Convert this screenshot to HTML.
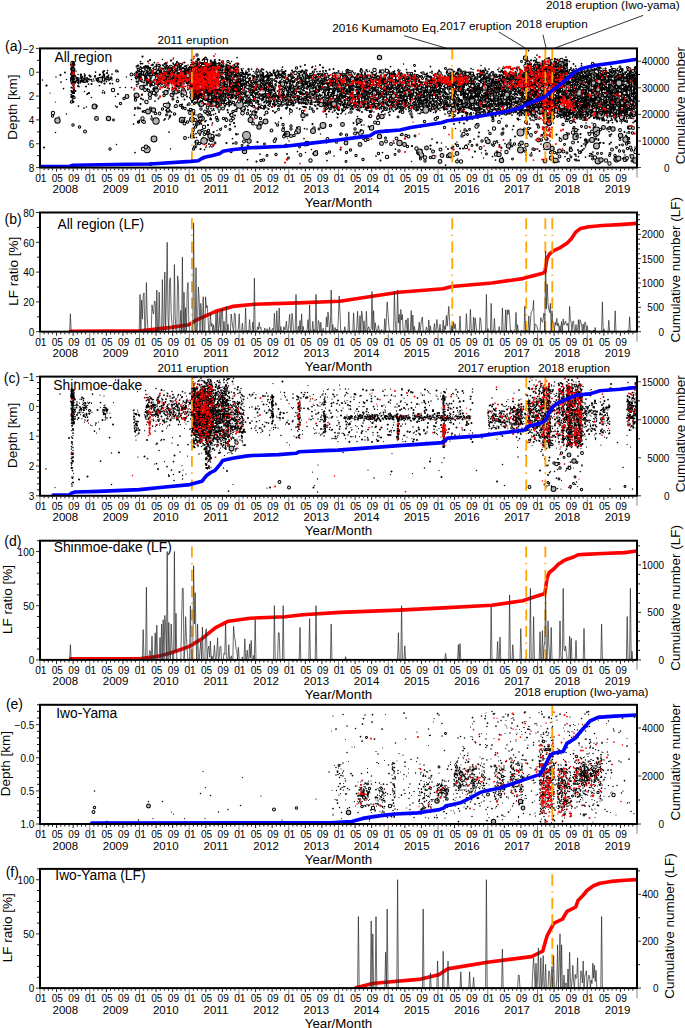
<!DOCTYPE html>
<html><head><meta charset="utf-8"><style>html,body{margin:0;padding:0;background:#fff;width:685px;height:1028px;overflow:hidden}svg{display:block;font-family:"Liberation Sans",sans-serif}</style></head>
<body><svg width="685" height="1028" viewBox="0 0 685 1028" font-family="Liberation Sans, sans-serif" fill="#000"><defs><g id="xax"><path d="M40 1v9M89.75 1v9M139.5 1v9M189.25 1v9M239 1v9M288.75 1v9M338.5 1v9M388.25 1v9M438 1v9M487.75 1v9M537.5 1v9M587.25 1v9M637 1v9" stroke="#888" stroke-width="1"/><path d="M44.15 1v1.6M48.29 1v1.6M52.44 1v1.6M56.58 1v3M60.73 1v1.6M64.88 1v1.6M69.02 1v1.6M73.17 1v3M77.31 1v1.6M81.46 1v1.6M85.6 1v1.6M93.9 1v1.6M98.04 1v1.6M102.19 1v1.6M106.33 1v3M110.48 1v1.6M114.62 1v1.6M118.77 1v1.6M122.92 1v3M127.06 1v1.6M131.21 1v1.6M135.35 1v1.6M143.65 1v1.6M147.79 1v1.6M151.94 1v1.6M156.08 1v3M160.23 1v1.6M164.38 1v1.6M168.52 1v1.6M172.67 1v3M176.81 1v1.6M180.96 1v1.6M185.1 1v1.6M193.4 1v1.6M197.54 1v1.6M201.69 1v1.6M205.83 1v3M209.98 1v1.6M214.12 1v1.6M218.27 1v1.6M222.42 1v3M226.56 1v1.6M230.71 1v1.6M234.85 1v1.6M243.15 1v1.6M247.29 1v1.6M251.44 1v1.6M255.58 1v3M259.73 1v1.6M263.88 1v1.6M268.02 1v1.6M272.17 1v3M276.31 1v1.6M280.46 1v1.6M284.6 1v1.6M292.9 1v1.6M297.04 1v1.6M301.19 1v1.6M305.33 1v3M309.48 1v1.6M313.62 1v1.6M317.77 1v1.6M321.92 1v3M326.06 1v1.6M330.21 1v1.6M334.35 1v1.6M342.65 1v1.6M346.79 1v1.6M350.94 1v1.6M355.08 1v3M359.23 1v1.6M363.38 1v1.6M367.52 1v1.6M371.67 1v3M375.81 1v1.6M379.96 1v1.6M384.1 1v1.6M392.4 1v1.6M396.54 1v1.6M400.69 1v1.6M404.83 1v3M408.98 1v1.6M413.12 1v1.6M417.27 1v1.6M421.42 1v3M425.56 1v1.6M429.71 1v1.6M433.85 1v1.6M442.15 1v1.6M446.29 1v1.6M450.44 1v1.6M454.58 1v3M458.73 1v1.6M462.88 1v1.6M467.02 1v1.6M471.17 1v3M475.31 1v1.6M479.46 1v1.6M483.6 1v1.6M491.9 1v1.6M496.04 1v1.6M500.19 1v1.6M504.33 1v3M508.48 1v1.6M512.62 1v1.6M516.77 1v1.6M520.92 1v3M525.06 1v1.6M529.21 1v1.6M533.35 1v1.6M541.65 1v1.6M545.79 1v1.6M549.94 1v1.6M554.08 1v3M558.23 1v1.6M562.38 1v1.6M566.52 1v1.6M570.67 1v3M574.81 1v1.6M578.96 1v1.6M583.1 1v1.6M591.4 1v1.6M595.54 1v1.6M599.69 1v1.6M603.83 1v3M607.98 1v1.6M612.12 1v1.6M616.27 1v1.6M620.42 1v3M624.56 1v1.6M628.71 1v1.6M632.85 1v1.6" stroke="#000" stroke-width="0.9"/><g font-size="10.1" text-anchor="middle"><text x="40.8" y="14.4">01</text><text x="57.38" y="14.4">05</text><text x="73.97" y="14.4">09</text><text x="90.55" y="14.4">01</text><text x="107.13" y="14.4">05</text><text x="123.72" y="14.4">09</text><text x="140.3" y="14.4">01</text><text x="156.88" y="14.4">05</text><text x="173.47" y="14.4">09</text><text x="190.05" y="14.4">01</text><text x="206.63" y="14.4">05</text><text x="223.22" y="14.4">09</text><text x="239.8" y="14.4">01</text><text x="256.38" y="14.4">05</text><text x="272.97" y="14.4">09</text><text x="289.55" y="14.4">01</text><text x="306.13" y="14.4">05</text><text x="322.72" y="14.4">09</text><text x="339.3" y="14.4">01</text><text x="355.88" y="14.4">05</text><text x="372.47" y="14.4">09</text><text x="389.05" y="14.4">01</text><text x="405.63" y="14.4">05</text><text x="422.22" y="14.4">09</text><text x="438.8" y="14.4">01</text><text x="455.38" y="14.4">05</text><text x="471.97" y="14.4">09</text><text x="488.55" y="14.4">01</text><text x="505.13" y="14.4">05</text><text x="521.72" y="14.4">09</text><text x="538.3" y="14.4">01</text><text x="554.88" y="14.4">05</text><text x="571.47" y="14.4">09</text><text x="588.05" y="14.4">01</text><text x="604.63" y="14.4">05</text><text x="621.22" y="14.4">09</text></g><g font-size="11.5" text-anchor="middle"><text x="65.35" y="25.6">2008</text><text x="115.55" y="25.6">2009</text><text x="165.75" y="25.6">2010</text><text x="215.95" y="25.6">2011</text><text x="266.15" y="25.6">2012</text><text x="316.35" y="25.6">2013</text><text x="366.55" y="25.6">2014</text><text x="416.75" y="25.6">2015</text><text x="466.95" y="25.6">2016</text><text x="517.15" y="25.6">2017</text><text x="567.35" y="25.6">2018</text><text x="617.55" y="25.6">2019</text></g><text font-size="13.3" text-anchor="middle" x="338.5" y="39.5">Year/Month</text></g></defs>
<clipPath id="c0"><rect x="40.0" y="48.4" width="597.0" height="119.19999999999999"/></clipPath>
<g clip-path="url(#c0)">
<g transform="scale(.5)" stroke-linecap="round" fill="none"><path d="M100 186h0" stroke="#000" stroke-width="2.5"/>
<path d="M85 160h0m27-6h0m21 5h0m10-4h0m1 4h0m2-32h0m1 28h0m4 2h0m7 3h0m0 4h0m3-10h0m0 7h0m2-1h0m8-4h0m19-5h0m9 12h0m9-12h0m16 9h0m7 52h0m20-37h0m22-17h0m1 5h0m1-7h0m3-4h0m0 4h0m7-8h0m5 5h0m7-4h0m11-3h0m2-10h0m4 9h0m0 6h0m2 20h0m6-26h0m6 5h0m1 17h0m1-29h0m0 21h0m1-25h0m0 17h0m0 0h0m3 21h0m3-7h0m1-19h0m1-9h0m1 5h0m1 16h0m1 1h0m1-19h0m1 15h0m1-1h0m0 3h0m3-4h0m2-9h0m1 84h0m1-78h0m4 17h0m12-18h0m4 13h0m7-28h0m2 25h0m0 9h0m5 3h0m0 10h0m1-56h0m0 83h0m1-65h0m3 2h0m0 20h0m1-14h0m2-9h0m2-11h0m0 7h0m2 12h0m3-24h0m0 42h0m0 20h0m1-41h0m0 19h0m0 68h0m2-71h0m1 37h0m2-48h0m1 1h0m0 20h0m2-47h0m0 36h0m0 2h0m1-2h0m1 21h0m2-47h0m0 6h0m2-5h0m2-7h0m0 16h0m1-12h0m2 42h0m0 1h0m1-4h0m1-7h0m0 18h0m0 2h0m1 12h0m1-49h0m0 5h0m2 20h0m1-38h0m0 57h0m0 28h0m1-100h0m0 13h0m1 5h0m1 29h0m0 3h0m2-21h0m2-12h0m5 15h0m7 50h0m3-41h0m0 0h0m1-4h0m0 18h0m1-24h0m1 32h0m1-19h0m0 11h0m1-14h0m4-17h0m0 15h0m1-14h0m0 43h0m1-46h0m5 23h0m3 9h0m1-37h0m1 24h0m1 34h0m20-28h0m3 9h0m1 21h0m2-8h0m7-8h0m7-28h0m4 36h0m2-14h0m8 6h0m2 8h0m3-3h0m1 14h0m2-3h0m1-16h0m2-16h0m5 1h0m1 8h0m0 28h0m2-53h0m7 12h0m5 82h0m7-86h0m1-14h0m3 46h0m5 7h0m7-22h0m3-3h0m0 33h0m1-36h0m2 17h0m4 2h0m2 12h0m4-34h0m2 28h0m7 19h0m5-26h0m0 26h0m2-55h0m3 37h0m1-35h0m2 29h0m6 16h0m3-57h0m0 35h0m3-33h0m9 55h0m1 1h0m1 62h0m1-93h0m2-19h0m0 54h0m5 10h0m1-12h0m2-5h0m1 83h0m2-100h0m0 25h0m2-32h0m0 30h0m6-14h0m2-34h0m1-12h0m2 163h0m1-131h0m3-11h0m0 43h0m7-58h0m3 15h0m0 7h0m0 9h0m0 10h0m2 29h0m1-41h0m2-30h0m0 17h0m0 45h0m4 12h0m3-74h0m5 23h0m0 16h0m6-33h0m0 14h0m0 22h0m4 0h0m4-8h0m7-25h0m1 7h0m2 13h0m0 20h0m1-54h0m2 19h0m0 22h0m3 7h0m1-38h0m2 14h0m0 25h0m0 4h0m4-36h0m0 40h0m2-55h0m1-9h0m1 23h0m2 40h0m1-47h0m3 2h0m3 52h0m5-30h0m1-16h0m0 20h0m1-29h0m0 6h0m3-7h0m4-11h0m2 23h0m2 41h0m2-39h0m1 8h0m0 10h0m0 17h0m3-16h0m1-8h0m0 20h0m1-53h0m0 22h0m1-14h0m4 21h0m9 26h0m1-32h0m1 19h0m3 22h0m2-36h0m4-35h0m4 51h0m0 4h0m0 16h0m1-35h0m0 19h0m6-23h0m1 19h0m0 2h0m0 16h0m3-25h0m7-30h0m8 16h0m1-13h0m2 61h0m7-29h0m2 0h0m1-8h0m10 10h0m1 1h0m6-48h0m0 32h0m3 8h0m4 40h0m1-26h0m0 103h0m4-108h0m0 22h0m9-9h0m0 5h0m2-27h0m5 16h0m0 10h0m2-9h0m1-36h0m2 52h0m7 4h0m2-5h0m4-24h0m3 12h0m1-25h0m1 77h0m3-55h0m0 82h0m1-75h0m9-29h0m4-8h0m1 47h0m1-32h0m2 24h0m1-64h0m1 55h0m2-53h0m3 22h0m6 49h0m2-70h0m0 76h0m1-41h0m0 23h0m1 1h0m2-21h0m1-10h0m5-17h0m3 40h0m1 17h0m0 9h0m1-2h0m4-16h0m1 107h0m1-112h0m15-35h0m0 34h0m3 28h0m1-50h0m0 24h0m0 15h0m1-44h0m1-13h0m1 7h0m1 43h0m9-36h0m2 51h0m1-41h0m3 80h0m1-51h0m1-53h0m1 33h0m4-38h0m1 41h0m13-11h0m3-32h0m4-17h0m1 2h0m9 47h0m2 10h0m3-5h0m1 9h0m0 20h0m3-47h0m1-30h0m1 45h0m1-60h0m0 78h0m3-33h0m1-14h0m0 17h0m0 29h0m1-23h0m1-24h0m0 42h0m2-35h0m0 13h0m0 8h0m0 14h0m4-28h0m4-22h0m2-18h0m0 86h0m1-39h0m1-36h0m0 55h0m3-72h0m0 46h0m0 7h0m0 23h0m1 19h0m4-9h0m1-72h0m0 22h0m2 30h0m1-39h0m0 37h0m0 15h0m1-32h0m3-26h0m3 64h0m0 5h0m1-90h0m0 30h0m0 18h0m1-46h0m2 39h0m1 26h0m1-71h0m0 23h0m0 48h0m0 8h0m4-51h0m0 37h0m1-29h0m0 23h0m0 31h0m0 9h0m2-69h0m0 15h0m0 8h0m1-60h0m0 80h0m3-61h0m0 58h0m1-32h0m1-23h0m0 72h0m2-77h0m0 10h0m0 26h0m0 50h0m2-5h0m2-81h0m0 17h0m1 0h0m0 29h0m0 24h0m1-20h0m0 21h0m2-51h0m3 18h0m1-49h0m0 62h0m0 11h0m1-24h0m0 17h0m0 14h0m0 21h0m1-81h0m1 13h0m1 20h0m1-15h0m0 61h0m1-80h0m0 15h0m1 9h0m3 37h0m0 16h0m1-96h0m0 58h0m0 42h0m1 87h0m1-171h0m0 25h0m2 21h0m1 56h0m1-16h0m5-31h0m1-45h0m0 84h0m1-22h0m2 27h0m1-40h0m1-44h0m2 3h0m0 3h0m0 30h0m2 4h0m2 2h0m0 6h0m1-34h0m2 53h0m1 1h0m0 14h0m1-57h0m1-16h0m2 34h0m2 90h0m2-98h0m1-39h0m3 36h0m0 2h0m1-16h0m2 17h0m0 45h0m3-75h0m2 45h0m0 5h0m1 5h0m2 14h0m3-51h0m0 10h0m1-10h0m0 37h0m0 24h0m1-77h0m2-27h0m0 23h0m0 51h0m2-51h0m0 61h0m3-74h0m0 67h0m1-8h0m0 0h0m0 21h0m3-42h0m0 18h0m1-62h0m1 99h0m1-37h0m4-27h0m0 6h0m6 1h0m2-36h0m0 48h0m0 3h0m5-39h0m1 39h0m0 33h0m10-81h0m1 60h0m2-3h0m0 12h0m2-10h0m0 13h0m2-54h0m0 35h0m0 46h0m2-76h0m1-19h0m0 17h0m0 34h0m1-54h0m0 8h0m2-8h0m0 11h0m1 84h0m1-79h0m2-19h0m0 43h0m1-17h0m2 46h0m2-13h0m1 15h0m1 12h0m0 79h0m6-112h0m1-44h0m1-7h0m1 1h0m0 85h0m1-59h0m0 2h0m3 22h0m1-12h0" stroke="#000" stroke-width="3"/>
<path d="M142 137h0m0 18h0m1 6h0m1-37h0m0 69h0m1-64h0m1 4h0m1 20h0m3 9h0m2-6h0m5 6h0m1 11h0m3-11h0m5 2h0m14-5h0m9 51h0m19-55h0m0 7h0m2-2h0m57 88h0m2-18h0m4-78h0m0 17h0m2-29h0m2 2h0m2 14h0m2-33h0m1 19h0m1 4h0m0 17h0m0 0h0m6-2h0m1-22h0m1-6h0m3 23h0m3-12h0m1-9h0m1 28h0m1-7h0m0 1h0m1-12h0m9 57h0m4-55h0m4 6h0m1 1h0m5 20h0m2 10h0m1-24h0m3 12h0m3-17h0m1-1h0m1-5h0m2 9h0m1 106h0m1-107h0m1-4h0m2-22h0m0 18h0m0 6h0m3 44h0m1-45h0m6 4h0m0 2h0m1 11h0m0 13h0m1-44h0m0 21h0m2 10h0m1-45h0m1 33h0m2-7h0m0 7h0m1-28h0m0 19h0m1 38h0m9-27h0m1-22h0m0 9h0m2 9h0m0 1h0m0 2h0m0 6h0m1-23h0m1 12h0m2-9h0m0 8h0m1-20h0m0 61h0m2-50h0m0 4h0m1 6h0m0 14h0m1-17h0m0 10h0m1-23h0m0 36h0m1-28h0m0 39h0m1-60h0m0 16h0m0 0h0m0 16h0m0 32h0m0 73h0m1-135h0m0 11h0m1 18h0m0 29h0m0 0h0m0 3h0m1-31h0m1-19h0m0 0h0m0 22h0m1-29h0m0 56h0m0 5h0m1-16h0m0 7h0m0 1h0m0 7h0m2-24h0m1-30h0m0 37h0m1-25h0m1-14h0m0 15h0m0 36h0m1-51h0m0 15h0m0 93h0m1-120h0m1 37h0m0 23h0m1-17h0m0 11h0m1 5h0m1-4h0m0 2h0m1-39h0m0 50h0m1-49h0m0 11h0m0 13h0m0 1h0m0 3h0m0 21h0m1-56h0m1 21h0m0 5h0m0 23h0m1-6h0m0 29h0m1-27h0m0 4h0m0 114h0m1-135h0m0 3h0m1-42h0m0 37h0m0 13h0m0 2h0m1-44h0m0 43h0m0 4h0m0 5h0m0 2h0m0 99h0m1-115h0m0 17h0m1-47h0m0 5h0m0 27h0m1-20h0m0 5h0m1 23h0m1-38h0m0 4h0m1-12h0m0 14h0m0 2h0m0 22h0m0 17h0m1-41h0m1-13h0m0 51h0m0 11h0m1-76h0m0 11h0m0 9h0m1 40h0m0 35h0m1-71h0m1 59h0m2-57h0m0 9h0m1-20h0m0 26h0m0 8h0m1-20h0m0 40h0m1-65h0m0 22h0m0 8h0m1-37h0m0 38h0m0 14h0m0 12h0m1-60h0m0 25h0m0 54h0m1 68h0m1-114h0m0 16h0m1-3h0m0 17h0m0 12h0m0 73h0m2-124h0m0 15h0m0 16h0m1 0h0m1-26h0m0 32h0m1-55h0m1 9h0m1 52h0m1 13h0m1-68h0m0 51h0m0 2h0m2-28h0m1 38h0m0 8h0m2-49h0m0 20h0m0 4h0m2-38h0m0 19h0m1 28h0m2-17h0m2-31h0m0 22h0m0 13h0m1 7h0m2-23h0m0 6h0m2-11h0m1 3h0m0 3h0m0 41h0m2-25h0m0 5h0m1-10h0m1 104h0m3-127h0m0 32h0m1-31h0m1 28h0m3 7h0m1-27h0m0 28h0m2-46h0m0 44h0m5 12h0m0 15h0m8-59h0m1 15h0m5 45h0m1-62h0m0 68h0m0 2h0m1-58h0m0 4h0m1-25h0m0 57h0m1-2h0m8-24h0m1 27h0m0 11h0m1-45h0m0 16h0m2-6h0m0 1h0m0 9h0m0 9h0m1 55h0m1-97h0m0 11h0m1-9h0m0 32h0m3-4h0m2 4h0m1 121h0m2-158h0m1 7h0m0 15h0m1-21h0m0 37h0m0 1h0m2 0h0m1-50h0m0 7h0m3 15h0m1 10h0m0 11h0m0 32h0m1-23h0m2-41h0m2-3h0m0 63h0m2-9h0m1 2h0m0 5h0m1-38h0m0 12h0m2 20h0m4-9h0m2 7h0m5-44h0m0 7h0m2 31h0m2-4h0m0 27h0m1-25h0m1-26h0m0 17h0m2-34h0m2 23h0m2-38h0m0 57h0m0 9h0m1-45h0m0 45h0m6 7h0m3 3h0m1-36h0m0 22h0m2-19h0m1 23h0m1-32h0m0 37h0m1-4h0m1-12h0m3-36h0m0 11h0m0 30h0m2-16h0m3-19h0m1 29h0m1-31h0m2 3h0m0 56h0m2-52h0m1 13h0m1 15h0m1-39h0m1 64h0m1-54h0m1-7h0m1 51h0m1-11h0m1-31h0m0 2h0m0 3h0m0 4h0m3 7h0m0 26h0m1-3h0m0 53h0m1-81h0m4 82h0m3-57h0m1-15h0m1 32h0m1-71h0m2 59h0m1-28h0m2-20h0m1 18h0m0 14h0m1 6h0m2-32h0m1 25h0m2-13h0m1 15h0m1 11h0m1 2h0m2-47h0m2 7h0m2 28h0m3-41h0m1 34h0m3 26h0m1-36h0m1-11h0m0 25h0m2-37h0m0 59h0m1-14h0m0 21h0m0 11h0m1-61h0m0 12h0m1-12h0m2-16h0m0 48h0m1-18h0m3-2h0m2-12h0m2 35h0m2-50h0m0 8h0m1 23h0m0 6h0m1-32h0m0 6h0m0 28h0m2-37h0m1 48h0m2-41h0m0 13h0m0 42h0m5-59h0m1 33h0m2-44h0m1 3h0m2 45h0m0 14h0m0 12h0m5-44h0m1 23h0m0 18h0m3-49h0m3-9h0m0 45h0m1-24h0m0 7h0m2-16h0m0 9h0m2-10h0m1 35h0m2-55h0m0 18h0m4 37h0m5-49h0m3 39h0m2-24h0m1 32h0m1-54h0m1 28h0m2-3h0m0 0h0m1 7h0m2 28h0m2-55h0m1 15h0m0 36h0m1-9h0m1-32h0m2-2h0m1 48h0m1 5h0m4-31h0m4 23h0m1-59h0m0 40h0m2-31h0m0 40h0m1 11h0m2-57h0m0 43h0m1 5h0m0 10h0m1 102h0m1-166h0m0 27h0m0 13h0m5-33h0m2 38h0m1-10h0m1-5h0m3 10h0m0 20h0m1-18h0m2-9h0m1-16h0m2-25h0m2 71h0m0 7h0m1 4h0m5-63h0m2 26h0m2 18h0m2-30h0m0 3h0m1-21h0m1 17h0m0 0h0m2 34h0m2-30h0m0 27h0m1-10h0m1-39h0m1 53h0m3-25h0m1-12h0m0 18h0m0 20h0m1-51h0m0 31h0m1-2h0m0 31h0m0 6h0m1-37h0m0 23h0m0 63h0m1-114h0m2 12h0m5 8h0m0 27h0m0 5h0m2-6h0m4-5h0m3 21h0m3-23h0m2-9h0m1-13h0m3-19h0m3 18h0m1 2h0m2 5h0m1-12h0m0 14h0m2-1h0m0 38h0m1-40h0m0 4h0m0 11h0m1 2h0m3 59h0m1-109h0m0 41h0m4 9h0m0 20h0m1-31h0m1-18h0m0 18h0m2-17h0m0 32h0m2-41h0m0 49h0m1-16h0m4 13h0m1-41h0m1 1h0m2 0h0m0 27h0m3-13h0m0 39h0m1-35h0m3-3h0m0 27h0m1-19h0m0 31h0m2-3h0m0 10h0m3-71h0m0 31h0m0 27h0m1-20h0m1-39h0m2 31h0m1 4h0m2-18h0m1 7h0m2 15h0m1-1h0m5-13h0m2-8h0m2 42h0m7-42h0m3-24h0m0 13h0m0 12h0m1 11h0m1-31h0m1 83h0m0 59h0m1-81h0m2 5h0m2-58h0m2-3h0m0 6h0m2-22h0m0 51h0m1 18h0m5-10h0m0 2h0m1 6h0m1-46h0m0 7h0m0 12h0m1-5h0m0 13h0m0 14h0m0 29h0m3-50h0m3 9h0m2 9h0m1 10h0m1-61h0m0 48h0m0 15h0m1-54h0m1 22h0m1-16h0m1 18h0m0 1h0m1 23h0m2-26h0m2-23h0m1 158h0m2-140h0m1 6h0m1-11h0m0 14h0m2 7h0m0 2h0m1 4h0m1-15h0m0 35h0m2-20h0m2 20h0m1-12h0m2-43h0m1 17h0m0 31h0m1-44h0m1-5h0m0 34h0m1 6h0m3-55h0m0 50h0m1 0h0m1 35h0m1-37h0m0 7h0m0 28h0m1-44h0m0 1h0m1 13h0m1-37h0m0 2h0m0 9h0m0 15h0m1-2h0m1-28h0m0 33h0m0 27h0m1-38h0m1 18h0m0 14h0m0 12h0m1-57h0m1 58h0m0 2h0m1-71h0m1-8h0m0 40h0m1-20h0m1-17h0m1 48h0m0 22h0m1-53h0m0 13h0m4-11h0m1-14h0m0 38h0m2-19h0m0 2h0m0 2h0m0 34h0m1-34h0m0 1h0m4-4h0m1-18h0m0 5h0m0 26h0m1 27h0m2-55h0m0 23h0m0 12h0m1-11h0m1-30h0m1 5h0m1 1h0m0 31h0m0 23h0m1-8h0m0 7h0m2-1h0m2-28h0m0 103h0m1-140h0m2 26h0m0 38h0m2-47h0m1 44h0m1 12h0m0 0h0m1-21h0m3-7h0m1 13h0m1-26h0m1-19h0m0 4h0m0 13h0m0 37h0m0 16h0m1 29h0m1-38h0m1-53h0m2 1h0m0 28h0m2-32h0m0 9h0m1-37h0m1 11h0m0 31h0m1-9h0m1-6h0m0 17h0m1-6h0m0 2h0m0 29h0m0 20h0m1-74h0m2 14h0m0 32h0m0 16h0m0 16h0m1-16h0m1-65h0m0 34h0m2 16h0m1-9h0m1 27h0m2-68h0m0 23h0m0 6h0m0 16h0m1-4h0m0 16h0m2-58h0m0 48h0m1-17h0m1-34h0m0 43h0m1 39h0m0 2h0m1-92h0m0 27h0m0 19h0m0 28h0m1-84h0m1 83h0m1-65h0m0 46h0m1-29h0m1-3h0m0 27h0m1-46h0m0 96h0m1-83h0m0 40h0m0 23h0m0 40h0m1-135h0m0 107h0m1-75h0m0 37h0m0 21h0m0 2h0m1 7h0m1-9h0m2-43h0m0 4h0m0 15h0m1-66h0m0 10h0m0 6h0m0 51h0m0 1h0m1-68h0m0 13h0m0 13h0m2 40h0m0 3h0m1-7h0m1-65h0m0 74h0m1-19h0m1-37h0m0 15h0m0 51h0m1-67h0m3 82h0m0 4h0m1-50h0m2-10h0m0 25h0m0 9h0m1-39h0m0 9h0m1-21h0m0 9h0m0 15h0m0 58h0m1-80h0m1 128h0m1-115h0m0 98h0m1-117h0m0 86h0m1-75h0m0 72h0m1-87h0m0 51h0m0 17h0m1-78h0m0 99h0m2-10h0m1-57h0m0 31h0m1-40h0m0 59h0m0 21h0m0 6h0m0 18h0m1-51h0m1-28h0m0 64h0m1-90h0m0 43h0m1 7h0m1 2h0m0 2h0m1-48h0m0 58h0m1-59h0m0 1h0m1-23h0m0 44h0m0 84h0m1-49h0m1-39h0m0 43h0m1-67h0m0 17h0m0 9h0m0 32h0m2-21h0m0 29h0m1-77h0m0 47h0m1-33h0m0 60h0m1-88h0m0 19h0m0 41h0m1-22h0m0 63h0m1-76h0m0 15h0m0 42h0m1-73h0m0 10h0m0 79h0m2-81h0m0 2h0m0 20h0m1-35h0m0 24h0m0 17h0m0 24h0m1-36h0m1 120h0m1-124h0m0 19h0m2-23h0m0 37h0m0 51h0m1-66h0m0 27h0m1-53h0m0 55h0m0 7h0m0 11h0m1-70h0m0 26h0m0 21h0m1-41h0m0 8h0m1-25h0m0 54h0m2 6h0m0 25h0m1-5h0m1 9h0m1-72h0m0 41h0m0 36h0m2-100h0m0 34h0m0 19h0m0 26h0m1-49h0m0 31h0m1-21h0m1-24h0m1 6h0m0 33h0m0 4h0m0 1h0m0 1h0m1-18h0m0 10h0m0 28h0m2-62h0m1 3h0m0 40h0m0 4h0m0 12h0m1-8h0m0 29h0m0 14h0m1-77h0m0 38h0m1 29h0m0 3h0m1-8h0m1-42h0m1-45h0m0 35h0m1 89h0m1-53h0m1-51h0m0 5h0m0 8h0m0 72h0m1 67h0m1-152h0m0 66h0m1-76h0m0 33h0m0 32h0m0 106h0m1-175h0m0 51h0m0 9h0m0 5h0m0 21h0m1 27h0m1-99h0m0 153h0m4-161h0m0 33h0m0 4h0m1-4h0m0 46h0m1-39h0m1 0h0m1-17h0m0 42h0m1-43h0m0 32h0m1-53h0m0 11h0m2 39h0m1-69h0m0 18h0m0 60h0m1-34h0m0 25h0m0 111h0m1-103h0m0 13h0m2-80h0m0 20h0m0 2h0m1 23h0m0 20h0m0 5h0m0 0h0m1-74h0m0 7h0m0 67h0m0 2h0m1-38h0m0 33h0m0 11h0m1-78h0m0 55h0m2-32h0m0 24h0m0 10h0m0 106h0m2-126h0m1-41h0m0 8h0m0 36h0m1-7h0m0 23h0m0 24h0m1-40h0m1-31h0m0 23h0m0 55h0m1-75h0m1 1h0m0 7h0m1 13h0m1 21h0m0 8h0m0 8h0m1-42h0m1-9h0m1 35h0m0 7h0m0 5h0m0 19h0m1-39h0m1 27h0m1-82h0m0 50h0m1-32h0m0 71h0m1-67h0m1 42h0m1-42h0m1 128h0m1-98h0m0 25h0m1-59h0m0 22h0m0 49h0m1-40h0m0 55h0m1-85h0m0 15h0m0 52h0m0 1h0m1-80h0m0 64h0m1 5h0m1-51h0m0 69h0m0 9h0m1-40h0m0 10h0m2-17h0m4-27h0m2 81h0m1-98h0m0 14h0m1 13h0m0 15h0m1-40h0m0 35h0m2 16h0m0 23h0m2-83h0m0 87h0m1-40h0m1-1h0m1-1h0m2-30h0m0 79h0m3-66h0m0 30h0m0 11h0m1 2h0m0 12h0m2-38h0m1 29h0m1 13h0m0 2h0m2-73h0m0 58h0m1 1h0m1-75h0m0 4h0m0 72h0m1 6h0m1-50h0m1-2h0m0 16h0m0 38h0m2-26h0m1-26h0m0 47h0m1-61h0m0 51h0m2-43h0m0 25h0m2-39h0m0 41h0m1-43h0m0 69h0m0 11h0m1-51h0m0 49h0m0 16h0m2-25h0m1-10h0m1-21h0m1 7h0m0 20h0m1-39h0m0 52h0m1-28h0m1-31h0m0 18h0m0 1h0m1-34h0m0 76h0m1-74h0m1 14h0m0 48h0m0 10h0m1-70h0m0 87h0m2-91h0m0 55h0m1-60h0m1 23h0m0 41h0m1-73h0m0 6h0m0 14h0m1 38h0m0 18h0m1-71h0m0 53h0m1-44h0m0 26h0" stroke="#000" stroke-width="3.5"/>
<path d="M130 145h0m12 3h0m1 27h0m3 28h0m2-54h0m3 10h0m16 2h0m12-10h0m14 9h0m7-11h0m7-1h0m7 6h0m6 13h0m50 49h0m3-70h0m2-9h0m5 23h0m2-8h0m3 71h0m1-24h0m1-50h0m0 22h0m2-20h0m1 20h0m3-31h0m2 4h0m0 34h0m2-15h0m9-34h0m3 31h0m0 1h0m4-32h0m19 7h0m3 16h0m2 14h0m3-26h0m5 35h0m13-29h0m4 19h0m2-10h0m3 3h0m1-4h0m1 45h0m3-57h0m6 5h0m4 28h0m2-43h0m2 18h0m1 27h0m1-2h0m0 5h0m1 14h0m1-43h0m1-15h0m0 1h0m1 15h0m1 21h0m2-34h0m1 53h0m1-9h0m0 1h0m0 10h0m2-50h0m0 7h0m0 97h0m3-120h0m0 17h0m0 44h0m1-63h0m0 54h0m0 12h0m5-28h0m2 16h0m0 63h0m1-128h0m0 34h0m3 4h0m4-8h0m0 6h0m1-9h0m0 24h0m4 13h0m1-37h0m0 3h0m1-15h0m0 67h0m3-28h0m2 9h0m0 24h0m1-68h0m1 17h0m0 21h0m1-6h0m1-29h0m2 43h0m2 44h0m1-31h0m2-1h0m3 13h0m2-62h0m2 27h0m0 6h0m2-16h0m0 3h0m2-9h0m3-6h0m2 13h0m1-25h0m0 31h0m0 18h0m1 17h0m1-75h0m0 48h0m5-14h0m1-3h0m1 7h0m2 20h0m3-31h0m3-5h0m7 38h0m0 11h0m1-36h0m4 45h0m4-58h0m2 15h0m3 0h0m2-15h0m7 27h0m9-17h0m1-4h0m2 63h0m4-67h0m1 39h0m2-52h0m1 14h0m4 78h0m1-27h0m7-30h0m0 4h0m1-22h0m1 33h0m1 14h0m2-54h0m0 23h0m5-25h0m0 29h0m3 17h0m1-22h0m1 1h0m9-26h0m0 64h0m2-56h0m1 26h0m8 21h0m2-11h0m0 119h0m2-120h0m4 5h0m1-13h0m2-30h0m3 61h0m1-56h0m0 53h0m1-33h0m4 5h0m5 13h0m1-9h0m2-6h0m3 27h0m2-54h0m0 10h0m0 79h0m1-77h0m6-7h0m2 38h0m6-39h0m0 27h0m0 3h0m3-6h0m2-2h0m4 11h0m1-32h0m1 29h0m3 32h0m1-35h0m2-25h0m6 19h0m7 14h0m2-48h0m0 65h0m2-12h0m3-25h0m1 35h0m0 18h0m2-54h0m0 35h0m4-19h0m1 3h0m3 6h0m0 22h0m1-3h0m1-42h0m0 44h0m3-65h0m1 4h0m1 35h0m0 46h0m1-16h0m2-64h0m0 14h0m1-8h0m2 38h0m3-11h0m4 20h0m1-22h0m9-11h0m3-2h0m1 15h0m2-11h0m5-18h0m2 15h0m1 37h0m3-35h0m3 28h0m1-16h0m3 25h0m1-49h0m1 60h0m5-71h0m7-1h0m0 53h0m0 1h0m0 5h0m1-40h0m2 18h0m1 25h0m3-69h0m2 1h0m0 45h0m0 21h0m2-33h0m3 33h0m1-36h0m2-22h0m0 15h0m0 46h0m5-9h0m1-48h0m2 163h0m1-113h0m2-30h0m9-28h0m0 22h0m6-26h0m0 84h0m1-51h0m3-2h0m5-29h0m5 69h0m8-36h0m1 10h0m4-37h0m1 45h0m3-9h0m2-26h0m1 21h0m4-28h0m0 5h0m4 20h0m0 21h0m0 17h0m5-30h0m2-19h0m1 38h0m6-30h0m1 20h0m1-45h0m9 58h0m6-48h0m1 14h0m3 23h0m3-22h0m1 39h0m1 80h0m2-95h0m2-5h0m1 12h0m1-35h0m4 13h0m2 24h0m7-62h0m0 53h0m5-35h0m1-7h0m0 3h0m5 12h0m3 28h0m10 7h0m4 2h0m2-43h0m0 23h0m1-44h0m5 46h0m1-25h0m1 41h0m1 34h0m2-76h0m1 50h0m2-14h0m1-23h0m1-3h0m0 8h0m7 12h0m7 29h0m1-73h0m0 26h0m0 5h0m1 22h0m1-13h0m1-28h0m4-4h0m0 1h0m3 9h0m1 6h0m0 16h0m3 35h0m1-50h0m2 44h0m1-62h0m1 35h0m2-21h0m3 3h0m0 4h0m1-16h0m1 3h0m0 44h0m1 7h0m3-12h0m1-52h0m1 6h0m0 1h0m1 22h0m7 24h0m2 3h0m1-51h0m0 60h0m1-78h0m1 27h0m4 5h0m0 32h0m6-28h0m0 18h0m0 15h0m1-44h0m0 13h0m2 35h0m2-73h0m5 27h0m1 49h0m4-45h0m2-18h0m0 26h0m2-30h0m1 46h0m2 6h0m1-27h0m0 40h0m2-50h0m0 112h0m1-113h0m2 26h0m4-13h0m1 35h0m2-28h0m2 0h0m3 28h0m1-11h0m1-35h0m0 28h0m0 28h0m3-5h0m1-57h0m3 39h0m4-27h0m0 18h0m0 37h0m1-59h0m1-7h0m2 55h0m1-48h0m0 77h0m2-106h0m0 15h0m1 65h0m3-48h0m6 12h0m1-22h0m0 60h0m1-1h0m2-55h0m1-22h0m3 68h0m1 2h0m1-12h0m1-48h0m0 31h0m1-6h0m1-22h0m2-13h0m4 44h0m0 15h0m1-71h0m2 29h0m0 19h0m0 84h0m1-54h0m1-83h0m0 19h0m0 115h0m5-66h0m0 9h0m1-44h0m0 39h0m1-38h0m0 10h0m2 7h0m1-39h0m1 68h0m1-15h0m2 71h0m1-92h0m0 45h0m1-76h0m0 52h0m1-7h0m2-11h0m1-39h0m0 81h0m2-88h0m1 9h0m1 15h0m0 32h0m0 13h0m1 6h0m1-27h0m2-13h0m0 30h0m0 8h0m1-26h0m1 23h0m1 11h0m4-54h0m1 0h0m0 36h0m0 18h0m1-33h0m1-51h0m2 25h0m1 13h0m1-22h0m0 57h0m1 20h0m1-77h0m1-3h0m3 32h0m0 34h0m2-31h0m0 34h0m3-19h0m3-19h0m0 12h0m0 20h0m2 12h0m1 1h0m1-11h0m1-33h0m2 34h0m3 78h0m1-131h0m0 50h0m4 3h0m0 3h0m1-22h0m2 13h0m1-19h0m1 23h0m1 20h0m2-9h0m0 25h0m1-47h0m1 17h0m2 14h0m0 15h0m1-76h0m0 6h0m3-10h0m3 16h0m1 20h0m1 30h0m1-21h0m1-9h0m1-3h0m2 11h0m0 53h0m6-94h0m0 50h0m3 12h0m3-89h0m1 37h0m0 58h0m1-72h0m1-12h0m0 23h0m1-7h0m0 7h0m1-15h0m1 29h0m2-41h0m1 36h0m3-3h0m3-15h0m0 40h0m0 32h0m4-80h0m1 30h0m0 106h0m1-77h0m1-9h0m2-59h0m1-6h0m1 38h0m0 39h0m1 9h0m0 4h0m0 4h0m1-67h0m3 55h0m1-42h0m2 51h0m1-52h0m2 15h0m2 21h0m0 12h0m0 7h0m1 59h0m1-106h0m1 87h0m5-117h0m1 47h0m1 3h0m2-56h0m0 59h0m2-54h0m0 28h0m5-2h0m1-35h0m1 16h0m2 52h0m1-53h0m0 12h0m0 8h0m2 40h0m1-69h0m1 4h0m0 44h0m3 45h0m1-29h0m1-27h0m3 6h0" stroke="#000" stroke-width="4"/>
<path d="M121 150h0m21 8h0m2-28h0m0 5h0m0 48h0m1-47h0m0 25h0m2-22h0m0 23h0m1 24h0m8-25h0m6-12h0m28 4h0m16-9h0m67 0h0m8 64h0m1-11h0m3-84h0m6 90h0m1-50h0m1-17h0m0 26h0m3-29h0m1 28h0m3-41h0m5 30h0m1-8h0m1 25h0m4-22h0m1 3h0m5-6h0m8-4h0m7 20h0m4-11h0m1-13h0m5 2h0m2 27h0m3 15h0m1 9h0m1-21h0m4-13h0m4 20h0m5-4h0m1-1h0m2-15h0m6-18h0m3 13h0m2-9h0m0 17h0m0 6h0m0 4h0m1-4h0m1-14h0m4-18h0m1-10h0m1 66h0m1-3h0m0 11h0m1-48h0m0 8h0m0 18h0m1 8h0m1 5h0m1-4h0m3-26h0m0 25h0m1-2h0m4-34h0m0 40h0m0 6h0m1-49h0m0 30h0m1-42h0m1 104h0m1 65h0m3-119h0m0 23h0m1-38h0m1-23h0m0 0h0m1 8h0m1-14h0m0 11h0m0 22h0m0 1h0m1 9h0m1 20h0m0 10h0m1-24h0m0 42h0m1-76h0m1 26h0m1-11h0m1-20h0m0 49h0m2-43h0m1-22h0m1 12h0m1 13h0m0 51h0m1-73h0m1 24h0m0 74h0m1-59h0m3 6h0m1-45h0m0 25h0m0 10h0m3-4h0m2-34h0m0 9h0m1 51h0m0 9h0m2-59h0m2 64h0m1-4h0m4-27h0m5-10h0m1 31h0m2-31h0m1-3h0m1-20h0m0 25h0m1-7h0m1-1h0m1 64h0m1-30h0m3 14h0m1 45h0m9-109h0m0 33h0m2-8h0m1 17h0m1-24h0m1-28h0m10 11h0m0 26h0m2-6h0m11-23h0m0 64h0m3-20h0m5 4h0m3-25h0m0 40h0m6-28h0m5 16h0m2-19h0m1-5h0m10 28h0m3-37h0m3 14h0m1-4h0m3-1h0m0 7h0m2-21h0m2 58h0m1-13h0m0 0h0m16 8h0m0 90h0m5-150h0m4 72h0m3-60h0m0 10h0m3 21h0m3-27h0m0 13h0m6 22h0m9-20h0m6-16h0m6 29h0m0 26h0m1-56h0m1 46h0m1-10h0m7-22h0m7 16h0m4 7h0m8 9h0m7-37h0m0 30h0m4-17h0m1 15h0m2-18h0m5-20h0m1 58h0m1-49h0m4 24h0m0 15h0m5-19h0m2-31h0m6 14h0m1 2h0m4-7h0m0 24h0m3-29h0m0 32h0m0 12h0m3-21h0m0 28h0m1-30h0m2 21h0m1 4h0m1-11h0m7-22h0m1 30h0m2-24h0m0 20h0m2-3h0m1 21h0m6-18h0m3-38h0m2-9h0m0 33h0m2-36h0m0 10h0m3 20h0m1-27h0m0 14h0m3 31h0m2 13h0m6-53h0m3 18h0m0 21h0m2-10h0m2-25h0m0 53h0m5-15h0m0 12h0m2 3h0m0 1h0m3-25h0m2-8h0m6 49h0m3-87h0m3 12h0m1 51h0m5-18h0m2-25h0m3 5h0m0 39h0m5-16h0m4 3h0m0 22h0m2-42h0m1 31h0m4-57h0m0 28h0m5 14h0m0 21h0m3-67h0m0 38h0m0 32h0m3-67h0m0 24h0m3 3h0m1 1h0m1 17h0m12 22h0m1-40h0m2 16h0m3-44h0m0 65h0m1-32h0m0 34h0m7-28h0m6 16h0m1 5h0m1 110h0m1-138h0m2-26h0m6 16h0m2 30h0m5-35h0m3 31h0m2-29h0m0 126h0m1-101h0m2-16h0m4 36h0m2-36h0m1 7h0m1-11h0m0 25h0m2-14h0m0 7h0m0 97h0m1-97h0m0 24h0m3-46h0m1-9h0m0 0h0m3 49h0m4-46h0m2-1h0m0 24h0m6-20h0m3-4h0m2-16h0m0 29h0m7-3h0m0 6h0m1-24h0m1 19h0m2 27h0m4-25h0m1 36h0m1-42h0m2 55h0m1-44h0m8 30h0m1-38h0m2 45h0m2-46h0m0 23h0m3 5h0m4-32h0m2-19h0m1 72h0m4-24h0m1-28h0m0 1h0m2 2h0m0 31h0m1-14h0m3 11h0m5 8h0m2 8h0m6 1h0m2-63h0m0 41h0m1 32h0m1-11h0m1-72h0m2 37h0m0 33h0m4-6h0m1-25h0m2-5h0m0 38h0m3-11h0m1-4h0m2-32h0m2-14h0m0 55h0m2-54h0m6 29h0m1-12h0m1-5h0m1 10h0m3-18h0m0 46h0m4-57h0m1 24h0m1-25h0m2 45h0m0 34h0m1-80h0m0 23h0m0 28h0m2 26h0m6-69h0m1 31h0m0 45h0m12-62h0m4 73h0m6-77h0m0 2h0m0 25h0m0 32h0m2-32h0m2-39h0m4-2h0m0 57h0m1-63h0m1 45h0m0 2h0m2-24h0m2-18h0m3 62h0m1-56h0m0 8h0m0 42h0m1 10h0m1-84h0m1 13h0m0 38h0m0 52h0m1-33h0m1-52h0m0 10h0m4 26h0m2-27h0m0 47h0m0 32h0m2-73h0m1-9h0m0 45h0m3 29h0m1-98h0m0 2h0m2 16h0m1-14h0m1 19h0m0 30h0m0 29h0m4-74h0m0 0h0m0 23h0m2 32h0m0 1h0m1-49h0m0 60h0m2-23h0m1-43h0m1 24h0m1 26h0m1-10h0m0 6h0m0 33h0m3-52h0m0 73h0m0 22h0m1-84h0m0 13h0m0 18h0m0 8h0m1-75h0m0 6h0m0 54h0m4-23h0m0 3h0m1 20h0m0 6h0m1-10h0m0 33h0m2-57h0m2-23h0m1 31h0m2-53h0m1 30h0m0 54h0m1-8h0m6-69h0m0 8h0m2 1h0m0 69h0m1-43h0m1-8h0m1-16h0m3 30h0m1-54h0m0 89h0m1-7h0m0 25h0m1-85h0m0 61h0m1-27h0m2-4h0m2 2h0m3 23h0m3-47h0m1 52h0m1-29h0m0 31h0m0 6h0m8-8h0m2-26h0m7-21h0m2 11h0m0 18h0m2 27h0m1-30h0m3-12h0m1 17h0m1-13h0m2-37h0m0 60h0m1-28h0m2 43h0m0 1h0m0 17h0m3-19h0m1-47h0m0 53h0m3-19h0m0 4h0m1-1h0m1 6h0m0 3h0m1-28h0m1-16h0m0 10h0m1 36h0m0 14h0m1-71h0m5 23h0m0 41h0m1 9h0m1-49h0m1 5h0m0 21h0m3-50h0m0 19h0m0 53h0m3-80h0m0 3h0m0 35h0m0 25h0m1-43h0m1 71h0m1-83h0m0 22h0m0 48h0m0 62h0m1-117h0m1 27h0m2 29h0m2-35h0m1-6h0m1 28h0m2-58h0m2-6h0m2 35h0m0 12h0m1 3h0m3 29h0m1-18h0m0 16h0m1-4h0m5-55h0m2 18h0m1 36h0m2-3h0m2-65h0m0 26h0m2-24h0m0 66h0m0 9h0m0 5h0m6-56h0m1-30h0m0 46h0m0 9h0m2 9h0m1 14h0m3-75h0m0 17h0m0 34h0m3-46h0m0 6h0m2 44h0m4-32h0m1 23h0m1-46h0m2 6h0m0 45h0m0 4h0m1-30h0m2-13h0m2 6h0m1 47h0m0 16h0" stroke="#000" stroke-width="4.5"/>
<path d="M146 125h0m1 69h0m86-52h0m61 17h0m5 2h0m9 18h0m21-35h0m1 3h0m9 15h0m1 70h0m1-86h0m6 15h0m2 18h0m6-45h0m13 4h0m16-3h0m0 62h0m3 31h0m5-42h0m0 2h0m6 55h0m4-104h0m9 60h0m2-50h0m4 30h0m5-43h0m3 26h0m1-19h0m11 32h0m9-11h0m1 41h0m5-37h0m24-40h0m0 18h0m9 51h0m1-49h0m11 55h0m4-18h0m0 46h0m2-30h0m12-53h0m3 16h0m6 34h0m3-22h0m12 29h0m3-19h0m23-1h0m2 71h0m2-79h0m8 139h0m2-129h0m16-20h0m9 19h0m9 0h0m8 136h0m3-104h0m9 85h0m2-105h0m18 109h0m2-152h0m5 63h0m5-38h0m1-16h0m26-6h0m13-3h0m4 46h0m5-20h0m3 24h0m5 56h0m4-88h0m4-22h0m2 2h0m7 80h0m21-38h0m8 19h0m3 62h0m13-126h0m5 64h0m4-13h0m1 5h0m1-31h0m1-2h0m7-23h0m15 59h0m2-17h0m17 23h0m4 103h0m13-135h0m4 25h0m7-46h0m8 31h0m1-27h0m24-9h0m3 157h0m13-114h0m7-18h0m4-10h0m9 68h0m3-92h0m3 135h0m13-61h0m7-69h0m5 26h0m1-36h0m2 13h0m4 11h0m0 0h0m4 18h0m3-31h0m1 6h0m4 73h0m7-83h0m3 154h0m3-136h0m3 11h0m0 41h0m2-32h0m1 3h0m0 9h0m1-20h0m4 41h0m5-67h0m0 32h0m8 34h0m3-48h0m0 120h0m15-128h0m3 9h0m2-20h0m2 110h0m1-60h0m3 18h0m5-18h0m2-56h0m9 34h0m3 33h0m4-23h0m2 10h0m3 8h0m9-43h0m1-27h0m3 31h0m0 45h0m2 11h0m8-34h0m12 16h0m2-8h0m4-53h0m2 21h0m6-41h0m2 0h0m8 64h0m5 123h0m1-130h0m3 42h0m3-45h0m1-13h0m12 66h0m4-39h0m0 28h0m1-23h0m4 12h0m1-28h0m3 42h0m3-64h0m0 4h0m3 57h0m4-43h0m1 18h0m3-43h0m0 8h0m0 99h0m6 45h0m13-99h0m1-22h0m1-30h0m5 102h0m2-30h0m3 27h0m0 52h0m2-136h0m2 57h0m4-64h0m0 52h0m1-53h0m1 69h0m1-67h0m2 130h0m7-16h0m4-137h0m1 148h0m4-84h0m4 9h0m0 27h0m7-70h0m2-17h0m8-16h0m3 70h0" stroke="#000" stroke-width="5.8"/>
<path d="M105 232h0m41-47h0m51-23h0m44 45h0m67-58h0m2 38h0m11-45h0m4 76h0m3-27h0m10-49h0m0 67h0m8-28h0m3 47h0m6-25h0m20 41h0m14-64h0m0 114h0m2-159h0m0 61h0m1 88h0m8-97h0m2 31h0m11-19h0m2-20h0m1-6h0m1 88h0m5-81h0m1-15h0m7-23h0m3 17h0m1 54h0m2-58h0m1 25h0m2-5h0m1-32h0m1 66h0m3-54h0m9 24h0m0 11h0m2 17h0m7-15h0m4-56h0m0 87h0m6-2h0m1-70h0m5 43h0m4-47h0m20 59h0m20 115h0m9-143h0m10 16h0m2-25h0m3 5h0m6 135h0m12-99h0m8-13h0m10 55h0m26-94h0m2 41h0m4-34h0m21 30h0m14-29h0m2-13h0m8 151h0m10-98h0m3-5h0m1-36h0m20 140h0m3-92h0m5 87h0m9-42h0m55-94h0m5-5h0m5 16h0m9 20h0m14 107h0m6-132h0m6-5h0m10-13h0m21 51h0m15-11h0m32 23h0m16-65h0m14-11h0m7 79h0m1-4h0m4 46h0m4-67h0m8 41h0m11-6h0m4-40h0m3 30h0m4-25h0m0 89h0m4-134h0m12 119h0m32-63h0m8 82h0m10-129h0m9 55h0m1-26h0m10 116h0m7-45h0m13-91h0m0 56h0m7-86h0m2 10h0m12 7h0m2-7h0m0 57h0m1 75h0m11-74h0m7-64h0m0 2h0m2 54h0m1-24h0m3 1h0m10 8h0m11 46h0m2-53h0m2 39h0m14-21h0m2-25h0m2 137h0m1-119h0m7 3h0m0 17h0m2 75h0m1-136h0m1 11h0m1 12h0m2-25h0m4 76h0m5-25h0m2 27h0m6-18h0m0 8h0m1-18h0m17 13h0m1 13h0m6-14h0m8 21h0m3-80h0m2 40h0m13-7h0m4-29h0m4 171h0m9-116h0m2-9h0m6-3h0m5-18h0" stroke="#000" stroke-width="6.8"/>
<path d="M170 263h0m120-83h0m3-42h0m8 190h0m18-101h0m2-81h0m8 8h0m1-23h0m3 18h0m24 34h0m13 93h0m10-135h0m0 85h0m2-6h0m6-64h0m21 112h0m1-45h0m1-105h0m4 148h0m14-72h0m6 18h0m6-65h0m5 70h0m66 17h0m8-57h0m15-13h0m8 97h0m7-58h0m2 3h0m16 67h0m4 18h0m11-105h0m15 70h0m16-103h0m31 12h0m8-16h0m2 4h0m0 125h0m12-129h0m4 52h0m1 3h0m8-10h0m18-28h0m12 101h0m7-77h0m5-32h0m1-16h0m17 70h0m10 33h0m5-63h0m9 4h0m11-1h0m18 92h0m12-53h0m12 49h0m14-60h0m35 90h0m7-109h0m5-33h0m3 138h0m3-136h0m26-8h0m6 47h0m3-31h0m2 10h0m8 14h0m16 20h0m1-5h0m14-61h0m14 1h0m16 54h0m9 7h0m32-61h0m8 139h0m4-105h0m3 11h0m6 49h0m10 26h0m22-69h0m6 44h0m5-104h0m6 13h0m12 12h0m8 114h0m14-118h0m19 3h0m7-18h0m0 79h0m4-44h0m7 72h0m12 9h0m10-112h0m7 50h0m4-10h0m8-14h0m0 1h0m7 5h0m1-5h0m9 2h0m8 36h0m11 104h0m3-165h0m2 161h0m18-148h0m1 29h0" stroke="#000" stroke-width="7.8"/>
<path d="M106 226h0m39-100h0m81 54h0m82 6h0m62 1h0m43-13h0m64 12h0m28-8h0m23-11h0m36 2h0m62-15h0m64 58h0m29-43h0m30-29h0m53 66h0m4-24h0m40 9h0m58 4h0m10 8h0m8-47h0m31 41h0m2 53h0m1-42h0m4-30h0m21 4h0m2-8h0m15 31h0m5-23h0m6-31h0m40 148h0m11-132h0m5-6h0m14 31h0m14-35h0m39 78h0m8-53h0m13 88h0m16-43h0m7-81h0m0 55h0m3-17h0m11 82h0m0 49h0m6-151h0m4-20h0m29 23h0m2 61h0m5-63h0m8 49h0m1 11h0m1 11h0m5-15h0m7 34h0m15-73h0" stroke="#000" stroke-width="8.8"/>
<path d="M349 158h0m50 106h0m23 15h0m53-109h0m22 29h0m52-8h0m32 11h0m111 84h0m28 3h0m21-116h0m62-19h0m11 54h0m30-2h0m36 117h0m9-160h0m114-9h0m73-14h0m14 182h0m19 0h0m83-152h0m21 47h0m1-20h0m12-2h0" stroke="#000" stroke-width="9.8"/>
<path d="M307 220h0m4-42h0m6-13h0m128 16h0m14-45h0m39 146h0m26-126h0m107 151h0m278-109h0m83-27h0m25 121h0m43-134h0m43 158h0m1-19h0m21-144h0m70 79h0m27-41h0m4 67h0m15-105h0" stroke="#000" stroke-width="10.8"/>
<path d="M273 191h0m94-7h0m17 55h0m41-66h0m171 89h0m84-96h0m218-7h0m94 37h0m106 50h0m3-74h0m132 147h0" stroke="#000" stroke-width="11.8"/>
<path d="M423 208h0m728 66h0m87-119h0m13 124h0" stroke="#000" stroke-width="12.8"/>
<path d="M148 159h0m1048 163h0" stroke="#000" stroke-width="13.8"/>
<path d="M851 220h0" stroke="#000" stroke-width="14.8"/>
<path d="M1193 261h0" stroke="#000" stroke-width="15.8"/>
<path d="M146 125h0m1 69h0m86-52h0m61 17h0m5 2h0m9 18h0m21-35h0m1 3h0m9 15h0m1 70h0m1-86h0m6 15h0m2 18h0m6-45h0m13 4h0m16-3h0m0 62h0m3 31h0m5-42h0m0 2h0m6 55h0m4-104h0m9 60h0m2-50h0m4 30h0m5-43h0m3 26h0m1-19h0m11 32h0m9-11h0m1 41h0m5-37h0m24-40h0m0 18h0m9 51h0m1-49h0m11 55h0m4-18h0m0 46h0m2-30h0m12-53h0m3 16h0m6 34h0m3-22h0m12 29h0m3-19h0m23-1h0m2 71h0m2-79h0m8 139h0m2-129h0m16-20h0m9 19h0m9 0h0m8 136h0m3-104h0m9 85h0m2-105h0m18 109h0m2-152h0m5 63h0m5-38h0m1-16h0m26-6h0m13-3h0m4 46h0m5-20h0m3 24h0m5 56h0m4-88h0m4-22h0m2 2h0m7 80h0m21-38h0m8 19h0m3 62h0m13-126h0m5 64h0m4-13h0m1 5h0m1-31h0m1-2h0m7-23h0m15 59h0m2-17h0m17 23h0m4 103h0m13-135h0m4 25h0m7-46h0m8 31h0m1-27h0m24-9h0m3 157h0m13-114h0m7-18h0m4-10h0m9 68h0m3-92h0m3 135h0m13-61h0m7-69h0m5 26h0m1-36h0m2 13h0m4 11h0m0 0h0m4 18h0m3-31h0m1 6h0m4 73h0m7-83h0m3 154h0m3-136h0m3 11h0m0 41h0m2-32h0m1 3h0m0 9h0m1-20h0m4 41h0m5-67h0m0 32h0m8 34h0m3-48h0m0 120h0m15-128h0m3 9h0m2-20h0m2 110h0m1-60h0m3 18h0m5-18h0m2-56h0m9 34h0m3 33h0m4-23h0m2 10h0m3 8h0m9-43h0m1-27h0m3 31h0m0 45h0m2 11h0m8-34h0m12 16h0m2-8h0m4-53h0m2 21h0m6-41h0m2 0h0m8 64h0m5 123h0m1-130h0m3 42h0m3-45h0m1-13h0m12 66h0m4-39h0m0 28h0m1-23h0m4 12h0m1-28h0m3 42h0m3-64h0m0 4h0m3 57h0m4-43h0m1 18h0m3-43h0m0 8h0m0 99h0m6 45h0m13-99h0m1-22h0m1-30h0m5 102h0m2-30h0m3 27h0m0 52h0m2-136h0m2 57h0m4-64h0m0 52h0m1-53h0m1 69h0m1-67h0m2 130h0m7-16h0m4-137h0m1 148h0m4-84h0m4 9h0m0 27h0m7-70h0m2-17h0m8-16h0m3 70h0" stroke="#e8e8e8" stroke-width="1.8"/>
<path d="M105 232h0m41-47h0m51-23h0m44 45h0m67-58h0m2 38h0m11-45h0m4 76h0m3-27h0m10-49h0m0 67h0m8-28h0m3 47h0m6-25h0m20 41h0m14-64h0m0 114h0m2-159h0m0 61h0m1 88h0m8-97h0m2 31h0m11-19h0m2-20h0m1-6h0m1 88h0m5-81h0m1-15h0m7-23h0m3 17h0m1 54h0m2-58h0m1 25h0m2-5h0m1-32h0m1 66h0m3-54h0m9 24h0m0 11h0m2 17h0m7-15h0m4-56h0m0 87h0m6-2h0m1-70h0m5 43h0m4-47h0m20 59h0m20 115h0m9-143h0m10 16h0m2-25h0m3 5h0m6 135h0m12-99h0m8-13h0m10 55h0m26-94h0m2 41h0m4-34h0m21 30h0m14-29h0m2-13h0m8 151h0m10-98h0m3-5h0m1-36h0m20 140h0m3-92h0m5 87h0m9-42h0m55-94h0m5-5h0m5 16h0m9 20h0m14 107h0m6-132h0m6-5h0m10-13h0m21 51h0m15-11h0m32 23h0m16-65h0m14-11h0m7 79h0m1-4h0m4 46h0m4-67h0m8 41h0m11-6h0m4-40h0m3 30h0m4-25h0m0 89h0m4-134h0m12 119h0m32-63h0m8 82h0m10-129h0m9 55h0m1-26h0m10 116h0m7-45h0m13-91h0m0 56h0m7-86h0m2 10h0m12 7h0m2-7h0m0 57h0m1 75h0m11-74h0m7-64h0m0 2h0m2 54h0m1-24h0m3 1h0m10 8h0m11 46h0m2-53h0m2 39h0m14-21h0m2-25h0m2 137h0m1-119h0m7 3h0m0 17h0m2 75h0m1-136h0m1 11h0m1 12h0m2-25h0m4 76h0m5-25h0m2 27h0m6-18h0m0 8h0m1-18h0m17 13h0m1 13h0m6-14h0m8 21h0m3-80h0m2 40h0m13-7h0m4-29h0m4 171h0m9-116h0m2-9h0m6-3h0m5-18h0" stroke="#e8e8e8" stroke-width="2.8"/>
<path d="M170 263h0m120-83h0m3-42h0m8 190h0m18-101h0m2-81h0m8 8h0m1-23h0m3 18h0m24 34h0m13 93h0m10-135h0m0 85h0m2-6h0m6-64h0m21 112h0m1-45h0m1-105h0m4 148h0m14-72h0m6 18h0m6-65h0m5 70h0m66 17h0m8-57h0m15-13h0m8 97h0m7-58h0m2 3h0m16 67h0m4 18h0m11-105h0m15 70h0m16-103h0m31 12h0m8-16h0m2 4h0m0 125h0m12-129h0m4 52h0m1 3h0m8-10h0m18-28h0m12 101h0m7-77h0m5-32h0m1-16h0m17 70h0m10 33h0m5-63h0m9 4h0m11-1h0m18 92h0m12-53h0m12 49h0m14-60h0m35 90h0m7-109h0m5-33h0m3 138h0m3-136h0m26-8h0m6 47h0m3-31h0m2 10h0m8 14h0m16 20h0m1-5h0m14-61h0m14 1h0m16 54h0m9 7h0m32-61h0m8 139h0m4-105h0m3 11h0m6 49h0m10 26h0m22-69h0m6 44h0m5-104h0m6 13h0m12 12h0m8 114h0m14-118h0m19 3h0m7-18h0m0 79h0m4-44h0m7 72h0m12 9h0m10-112h0m7 50h0m4-10h0m8-14h0m0 1h0m7 5h0m1-5h0m9 2h0m8 36h0m11 104h0m3-165h0m2 161h0m18-148h0m1 29h0" stroke="#e8e8e8" stroke-width="3.8"/>
<path d="M106 226h0m39-100h0m81 54h0m82 6h0m62 1h0m43-13h0m64 12h0m28-8h0m23-11h0m36 2h0m62-15h0m64 58h0m29-43h0m30-29h0m53 66h0m4-24h0m40 9h0m58 4h0m10 8h0m8-47h0m31 41h0m2 53h0m1-42h0m4-30h0m21 4h0m2-8h0m15 31h0m5-23h0m6-31h0m40 148h0m11-132h0m5-6h0m14 31h0m14-35h0m39 78h0m8-53h0m13 88h0m16-43h0m7-81h0m0 55h0m3-17h0m11 82h0m0 49h0m6-151h0m4-20h0m29 23h0m2 61h0m5-63h0m8 49h0m1 11h0m1 11h0m5-15h0m7 34h0m15-73h0" stroke="#e8e8e8" stroke-width="4.8"/>
<path d="M349 158h0m50 106h0m23 15h0m53-109h0m22 29h0m52-8h0m32 11h0m111 84h0m28 3h0m21-116h0m62-19h0m11 54h0m30-2h0m36 117h0m9-160h0m114-9h0m73-14h0m14 182h0m19 0h0m83-152h0m21 47h0m1-20h0m12-2h0" stroke="#b4b4b4" stroke-width="5.8"/>
<path d="M307 220h0m4-42h0m6-13h0m128 16h0m14-45h0m39 146h0m26-126h0m107 151h0m278-109h0m83-27h0m25 121h0m43-134h0m43 158h0m1-19h0m21-144h0m70 79h0m27-41h0m4 67h0m15-105h0" stroke="#b4b4b4" stroke-width="6.8"/>
<path d="M273 191h0m94-7h0m17 55h0m41-66h0m171 89h0m84-96h0m218-7h0m94 37h0m106 50h0m3-74h0m132 147h0" stroke="#b4b4b4" stroke-width="7.8"/>
<path d="M423 208h0m728 66h0m87-119h0m13 124h0" stroke="#b4b4b4" stroke-width="8.8"/>
<path d="M148 159h0m1048 163h0" stroke="#b4b4b4" stroke-width="9.8"/>
<path d="M851 220h0" stroke="#b4b4b4" stroke-width="10.8"/>
<path d="M1193 261h0" stroke="#b4b4b4" stroke-width="11.8"/></g>
<g transform="scale(.5)" stroke-linecap="round" fill="none"><path d="M111 204h0" stroke="#000" stroke-width="2.5"/>
<path d="M142 139h0m0 24h0m1-9h0m2 7h0m1-34h0m0 17h0m0 33h0m2-38h0m0 36h0m3-23h0m5-3h0m4 8h0m11 4h0m8-10h0m16 6h0m10-2h0m9 3h0m62 11h0m2-19h0m0 9h0m6 31h0m1-48h0m0 22h0m1-14h0m3-7h0m0 32h0m5-42h0m0 25h0m7 7h0m5 5h0m1-7h0m6-5h0m2-8h0m1 0h0m5 22h0m3-6h0m10-23h0m1-12h0m1 15h0m1-11h0m2 17h0m2 146h0m2-130h0m1-5h0m1-27h0m2-20h0m2 27h0m2-2h0m2 22h0m0 15h0m2-47h0m0 7h0m1 3h0m5 11h0m1-16h0m0 20h0m1 8h0m4-10h0m1 9h0m5 4h0m3-37h0m3 16h0m3 29h0m4-33h0m2 9h0m1 33h0m2 68h0m1-67h0m0 7h0m1-37h0m0 11h0m2-9h0m0 47h0m1-63h0m1 20h0m0 21h0m1 0h0m1 1h0m0 5h0m1-22h0m0 16h0m1-51h0m0 50h0m1-33h0m1 6h0m2-18h0m0 2h0m0 23h0m0 11h0m0 2h0m1 9h0m2-38h0m0 1h0m0 13h0m0 20h0m1-17h0m0 7h0m3 15h0m0 12h0m1-37h0m1-19h0m2-3h0m0 14h0m0 33h0m0 11h0m0 5h0m1-15h0m1-54h0m0 31h0m1 11h0m5-15h0m0 27h0m1-46h0m1 22h0m1-23h0m0 17h0m1-24h0m0 10h0m1 32h0m1-29h0m1 35h0m1-44h0m0 27h0m1-29h0m5 40h0m0 19h0m1-26h0m2 19h0m2 71h0m1-59h0m5-24h0m0 4h0m3 58h0m5-86h0m1 31h0m1-14h0m0 2h0m1-33h0m1 124h0m1-51h0m1-85h0m0 65h0m1 8h0m2-16h0m0 12h0m6-34h0m10 54h0m1-39h0m3 21h0m1-26h0m1-18h0m0 37h0m1-21h0m4 2h0m4 37h0m2-5h0m1 0h0m7-57h0m5 63h0m3-5h0m1 2h0m8-27h0m1 1h0m2-9h0m4 43h0m3 5h0m19 7h0m7-15h0m8-55h0m1 2h0m2 7h0m1 2h0m1-7h0m0 13h0m2 6h0m2-18h0m0 1h0m1 123h0m1-72h0m3-47h0m3 5h0m1 23h0m3-5h0m1 21h0m1-25h0m1-12h0m2 34h0m2-7h0m3 9h0m0 13h0m5-58h0m5 15h0m2 129h0m1-96h0m6-43h0m0 35h0m1-34h0m0 12h0m0 17h0m1-44h0m3 147h0m5-146h0m0 15h0m0 3h0m1-17h0m3 11h0m7-12h0m0 35h0m2-34h0m6 41h0m5 1h0m1 32h0m0 6h0m1-39h0m5-1h0m9-10h0m7 19h0m1-7h0m2 20h0m5 2h0m1-39h0m0 1h0m7-11h0m5 8h0m0 1h0m9-23h0m2 48h0m1 1h0m2-24h0m0 34h0m3-52h0m4 51h0m2-24h0m2 2h0m3 4h0m2-9h0m2 64h0m5-95h0m1 14h0m1 24h0m2-32h0m6 40h0m5 8h0m1-30h0m3-9h0m1 29h0m1-33h0m1 37h0m1-19h0m5-34h0m0 17h0m11 19h0m0 6h0m2-2h0m2-31h0m0 10h0m8 26h0m2-47h0m1 1h0m4 15h0m3 52h0m1-75h0m2 29h0m2 33h0m1 9h0m5-47h0m2-37h0m2 74h0m7 13h0m1-59h0m2 4h0m2 44h0m2-24h0m4 1h0m3-10h0m0 26h0m1-43h0m3 3h0m1 31h0m2 24h0m2-47h0m3 12h0m0 29h0m1-53h0m1 11h0m2 11h0m3-21h0m1 41h0m0 13h0m4-9h0m0 10h0m2-31h0m3 42h0m1-43h0m0 17h0m6 0h0m10-37h0m1 36h0m1-34h0m2-11h0m0 46h0m1-24h0m2 116h0m3-107h0m0 9h0m2 10h0m1-33h0m3 129h0m1-85h0m2-17h0m0 18h0m3-57h0m0 58h0m0 21h0m4-83h0m2-5h0m1 54h0m4-44h0m1 46h0m2-13h0m1-4h0m3 6h0m4-20h0m0 4h0m2 15h0m1-26h0m2 62h0m1-36h0m1 37h0m2-17h0m2-10h0m1-31h0m1 4h0m1-21h0m1 60h0m1-49h0m0 4h0m1 43h0m1 9h0m3 1h0m1-17h0m1-13h0m2-15h0m1-34h0m3 52h0m1-38h0m0 5h0m0 59h0m4-9h0m3 0h0m3-66h0m3 164h0m1-129h0m2-35h0m2 80h0m3-37h0m2 23h0m1-10h0m5 2h0m0 12h0m5 13h0m4-41h0m0 27h0m2-21h0m1-2h0m0 9h0m0 23h0m1-71h0m0 53h0m1-19h0m1-33h0m2 60h0m2-74h0m0 57h0m1-18h0m1 10h0m6 7h0m2-22h0m0 9h0m1 30h0m3-31h0m0 4h0m2-4h0m0 31h0m2-48h0m1 52h0m2-67h0m1 40h0m3 9h0m9-1h0m1-26h0m2-5h0m0 34h0m2 19h0m2-41h0m6 3h0m2-13h0m0 15h0m3 25h0m1-51h0m1-1h0m0 17h0m0 39h0m1-90h0m1 14h0m1 80h0m1-57h0m0 72h0m1-37h0m1-63h0m0 21h0m3 53h0m3-47h0m1 79h0m1-101h0m1 59h0m0 10h0m1-73h0m0 33h0m0 49h0m0 17h0m2-87h0m1 24h0m2-16h0m0 23h0m0 5h0m1-43h0m1 25h0m1 16h0m1-26h0m4 39h0m1-53h0m0 64h0m3-51h0m0 78h0m1-62h0m0 14h0m0 0h0m0 24h0m1 18h0m1-79h0m0 158h0m3-166h0m0 6h0m0 40h0m1 24h0m1-58h0m0 47h0m1-17h0m0 18h0m1-32h0m0 33h0m0 12h0m1-25h0m0 4h0m0 1h0m1-37h0m1-1h0m0 9h0m0 22h0m1-41h0m1 73h0m1-9h0m3-32h0m1-17h0m0 118h0m1-125h0m0 29h0m1 71h0m1-50h0m2 0h0m0 3h0m1-58h0m1-5h0m2 78h0m1-24h0m0 15h0m2-39h0m1 35h0m1-18h0m0 1h0m1-17h0m1-10h0m0 8h0m0 37h0m2 22h0m1-49h0m0 34h0m5-31h0m2 65h0m1-40h0m1-56h0m0 9h0m0 62h0m1-23h0m1 72h0m1-45h0m1-27h0m1-29h0m2 41h0m1 3h0m3 0h0m0 15h0m1-69h0m2 24h0m0 39h0m0 7h0m1-35h0m2-40h0m0 53h0m0 13h0m0 18h0m1-34h0m1 14h0m5-40h0m2-30h0m0 81h0m1-58h0m0 60h0m2-13h0m0 11h0m1 10h0m1-95h0m1 17h0m1 39h0m1-13h0m3 11h0m1 99h0m3-131h0m3 11h0m1 40h0m3-16h0m0 5h0m0 23h0m0 6h0m2-83h0m0 18h0m6 28h0m1 24h0m2 9h0m1-70h0m0 52h0m2-6h0m1-12h0m0 40h0m5-20h0m0 17h0m1-33h0m2-25h0m0 6h0m0 55h0m3-50h0m0 23h0m7 19h0m2-27h0m0 15h0m0 1h0m1-52h0m0 10h0m1 1h0m0 10h0m0 8h0m3-1h0m0 21h0m2-49h0m0 60h0m1-27h0m2 34h0m2-24h0m1-32h0m0 1h0m0 56h0m4-70h0m0 9h0m4-4h0m0 11h0m0 55h0m1-12h0m1-56h0m3 38h0m1-26h0m1-1h0m1 26h0m0 23h0m1 14h0m3-59h0m0 10h0m1-24h0m1 10h0m1 45h0m3-55h0m2 73h0m1-58h0m1 11h0m0 25h0m3 7h0m2 16h0m2-72h0m0 49h0m2-64h0m0 45h0m3-11h0m1-12h0m0 25h0m1-5h0" stroke="#000" stroke-width="3"/>
<path d="M122 164h0m5 13h0m16-42h0m0 5h0m0 20h0m3 10h0m1-12h0m1-9h0m9 63h0m6-55h0m1-4h0m5-5h0m5 14h0m0 1h0m3 5h0m14-24h0m8 6h0m0 21h0m4-7h0m2 21h0m4-36h0m0 37h0m27-43h0m27 32h0m7 43h0m2-24h0m3-63h0m2 35h0m2-14h0m0 2h0m1-7h0m1-1h0m1-19h0m3 0h0m3 9h0m0 7h0m5-11h0m0 22h0m0 6h0m3-9h0m5 22h0m21-14h0m2 10h0m1-39h0m2 7h0m2-10h0m0 40h0m2-29h0m0 8h0m4-8h0m0 28h0m3-7h0m1 6h0m0 1h0m0 69h0m2-94h0m5-5h0m10 17h0m2-4h0m1-12h0m0 37h0m0 37h0m4-71h0m1 12h0m0 1h0m2 6h0m1 8h0m1-23h0m0 23h0m0 10h0m2 58h0m1-91h0m1 8h0m6 2h0m1 13h0m0 7h0m2-39h0m1 7h0m0 9h0m2 28h0m0 19h0m0 0h0m1-55h0m0 12h0m0 4h0m0 1h0m0 7h0m0 17h0m1-56h0m0 26h0m1-6h0m0 38h0m1 2h0m1-11h0m0 1h0m0 7h0m1-51h0m0 5h0m0 3h0m0 2h0m0 10h0m1-24h0m0 17h0m0 1h0m0 5h0m0 8h0m0 1h0m1 7h0m0 10h0m0 88h0m1-136h0m0 27h0m0 30h0m1-20h0m0 8h0m0 4h0m1-17h0m1-22h0m0 13h0m1-37h0m0 37h0m0 14h0m1-10h0m0 49h0m1-52h0m0 2h0m0 55h0m1-86h0m0 23h0m0 25h0m2-41h0m0 24h0m0 7h0m1-15h0m0 17h0m0 17h0m0 5h0m1-34h0m0 17h0m0 18h0m1-55h0m0 20h0m1 121h0m1-148h0m0 7h0m0 12h0m0 16h0m0 14h0m0 16h0m1-37h0m0 1h0m0 1h0m0 1h0m0 22h0m1-37h0m0 10h0m0 39h0m1-19h0m0 23h0m1-73h0m1 23h0m0 19h0m1-19h0m0 15h0m0 4h0m1-37h0m0 26h0m0 16h0m0 59h0m2-85h0m0 19h0m1-15h0m0 12h0m0 3h0m1-17h0m0 30h0m0 26h0m1-50h0m0 114h0m1-104h0m0 13h0m1-42h0m0 0h0m0 3h0m0 23h0m0 13h0m0 25h0m1-73h0m0 45h0m1-29h0m0 11h0m0 7h0m0 29h0m1-60h0m0 16h0m0 37h0m1-37h0m0 2h0m0 10h0m1-19h0m0 23h0m0 45h0m1-50h0m0 75h0m1-87h0m0 38h0m1-33h0m0 2h0m0 48h0m1-54h0m0 27h0m0 16h0m0 1h0m1-19h0m0 24h0m2-57h0m0 46h0m0 31h0m1-9h0m0 3h0m2-58h0m1 18h0m0 3h0m1 9h0m1 0h0m0 17h0m1-23h0m1 7h0m1-22h0m0 1h0m2 16h0m0 0h0m0 18h0m2-62h0m0 1h0m0 28h0m3-15h0m0 33h0m1-33h0m0 69h0m1-74h0m0 2h0m0 27h0m1 14h0m0 5h0m2-32h0m0 6h0m1-15h0m0 25h0m0 18h0m1-31h0m0 25h0m0 8h0m1 8h0m1-42h0m0 55h0m2-59h0m0 19h0m1-37h0m1 1h0m1 12h0m0 4h0m0 8h0m0 14h0m1 9h0m1-40h0m1 13h0m1-13h0m1 41h0m1-29h0m1 27h0m0 5h0m0 4h0m2-59h0m0 38h0m0 7h0m1 92h0m1-107h0m1-35h0m0 55h0m0 3h0m0 5h0m1-15h0m1-40h0m1 45h0m0 24h0m1-35h0m0 6h0m0 33h0m1-4h0m1-46h0m0 34h0m2 5h0m2-26h0m0 2h0m1 26h0m3-6h0m1-33h0m1 31h0m1-49h0m0 3h0m0 18h0m1 30h0m1-45h0m1 43h0m2-52h0m0 56h0m1-34h0m4 47h0m4-36h0m6-9h0m0 42h0m1-37h0m1 12h0m0 36h0m2-64h0m0 44h0m0 9h0m2-33h0m1-10h0m6-2h0m0 4h0m0 33h0m1 123h0m1-169h0m0 3h0m0 23h0m1-11h0m0 52h0m6-20h0m1 3h0m0 25h0m1-52h0m1-22h0m0 51h0m2-37h0m5 6h0m0 2h0m5 33h0m3-51h0m1-3h0m2 29h0m2 10h0m1-6h0m0 7h0m3-30h0m4 24h0m6 20h0m1-7h0m1-34h0m3 16h0m1 7h0m0 3h0m6-16h0m0 33h0m4-32h0m9-13h0m4-9h0m0 18h0m2-18h0m1-11h0m0 18h0m0 44h0m1-17h0m0 8h0m1-17h0m4-37h0m2 59h0m1-35h0m0 41h0m1-50h0m3 35h0m1-40h0m3 14h0m1 9h0m1-8h0m0 29h0m1 3h0m2-67h0m1 57h0m0 6h0m2 8h0m4-29h0m1 17h0m1-49h0m3 24h0m2 6h0m3-5h0m2 5h0m1-7h0m1 1h0m1 35h0m1-28h0m0 108h0m2-105h0m1-18h0m0 61h0m2-12h0m2-49h0m0 50h0m1 1h0m1-15h0m1-44h0m0 58h0m2-47h0m0 31h0m0 1h0m0 3h0m1-18h0m1-9h0m0 36h0m4 7h0m3-58h0m0 29h0m0 20h0m1 16h0m1-16h0m2-31h0m0 2h0m0 20h0m1-17h0m0 26h0m1-29h0m1 18h0m0 26h0m1-12h0m1-13h0m1-22h0m2-9h0m1 64h0m1-48h0m2-17h0m0 57h0m1-71h0m0 8h0m1 7h0m0 21h0m2 22h0m2-34h0m0 22h0m4-10h0m2 11h0m4-36h0m3 37h0m1-40h0m4 40h0m4-41h0m0 64h0m2-9h0m1-52h0m0 24h0m0 22h0m1-6h0m1-8h0m0 4h0m2-19h0m0 39h0m1-61h0m0 28h0m1 8h0m4-8h0m4-37h0m0 12h0m0 32h0m1-23h0m0 12h0m0 17h0m0 22h0m1-40h0m1-5h0m1 1h0m5 16h0m1 14h0m4 20h0m2-47h0m3-25h0m2 13h0m3 18h0m1-29h0m1 23h0m1 14h0m0 19h0m0 19h0m1-11h0m2-61h0m0 9h0m1 12h0m1 38h0m1-40h0m0 38h0m0 5h0m2-6h0m0 10h0m1-35h0m0 17h0m1-24h0m0 2h0m1 1h0m0 24h0m1-41h0m1 29h0m0 34h0m1-44h0m7-9h0m1-11h0m1 13h0m0 17h0m0 19h0m1-80h0m4 50h0m1-13h0m1-19h0m0 45h0m1 3h0m0 3h0m0 84h0m1-144h0m3 50h0m1-8h0m1-22h0m2 34h0m0 17h0m2-58h0m0 52h0m4-23h0m2-6h0m1 23h0m1-44h0m0 26h0m0 35h0m5-27h0m0 15h0m1-14h0m1 20h0m1-18h0m1-30h0m1 5h0m2-14h0m0 30h0m0 1h0m0 37h0m1-32h0m1-5h0m1 20h0m1-44h0m5 21h0m4 19h0m0 1h0m1 18h0m2-51h0m1-17h0m6 25h0m0 8h0m0 7h0m1 24h0m4-43h0m1 26h0m1-15h0m3-2h0m1-1h0m0 15h0m0 9h0m1-57h0m1 21h0m1 33h0m0 9h0m1-61h0m1 35h0m2 1h0m4-16h0m1-25h0m1 45h0m1-32h0m0 59h0m2-43h0m0 9h0m2-15h0m1 42h0m2-8h0m3-17h0m0 31h0m1-57h0m0 57h0m1-51h0m1-7h0m0 5h0m4 51h0m2-59h0m0 58h0m3-22h0m1-40h0m2 178h0m1-129h0m1 4h0m1-48h0m0 39h0m1-2h0m1-29h0m0 12h0m0 32h0m1 1h0m1-37h0m1 22h0m1-1h0m0 8h0m0 3h0m1-32h0m0 25h0m2-11h0m1 11h0m1-36h0m0 53h0m0 4h0m3-66h0m1 31h0m1 1h0m0 14h0m1-44h0m0 9h0m1-10h0m2 8h0m0 1h0m1 48h0m0 4h0m2-66h0m0 56h0m3-55h0m2 11h0m0 21h0m0 20h0m2-42h0m0 72h0m1-83h0m1 22h0m2 20h0m1-20h0m3 27h0m3-21h0m0 27h0m0 25h0m1-42h0m0 3h0m1 98h0m2-127h0m0 71h0m2-42h0m0 20h0m1 16h0m1-8h0m1-21h0m1 16h0m4-49h0m1 56h0m1-41h0m0 8h0m2 40h0m1-78h0m0 25h0m0 44h0m1-70h0m3 42h0m2-28h0m1 18h0m0 5h0m0 32h0m1-57h0m0 51h0m1-53h0m0 53h0m2-20h0m1 33h0m2-52h0m0 47h0m0 1h0m2-41h0m2-2h0m0 36h0m1-21h0m2-6h0m1 4h0m1-29h0m0 37h0m0 63h0m1-123h0m0 50h0m2-13h0m0 47h0m1-24h0m2-32h0m0 16h0m2-26h0m0 53h0m4-31h0m0 19h0m0 10h0m1-28h0m0 40h0m1-60h0m2 35h0m1 31h0m1-31h0m0 32h0m0 59h0m1-146h0m1 21h0m1 18h0m0 20h0m0 12h0m0 7h0m1-63h0m0 32h0m1-12h0m1 4h0m0 19h0m1-47h0m1 32h0m0 10h0m0 6h0m1 14h0m1-51h0m0 0h0m2 34h0m3-35h0m1 20h0m2 49h0m1-21h0m1-50h0m2-10h0m0 58h0m0 0h0m1-48h0m0 63h0m1-20h0m1-12h0m2-39h0m1 46h0m2-47h0m4 4h0m0 14h0m0 37h0m1-46h0m0 12h0m1-27h0m0 16h0m1 23h0m1 37h0m1-85h0m0 30h0m0 25h0m3 12h0m1-67h0m0 65h0m4 25h0m1-4h0m1-50h0m0 49h0m3-15h0m1-29h0m1-9h0m0 12h0m2 19h0m1-41h0m0 5h0m0 49h0m2-80h0m0 52h0m0 12h0m1-51h0m1 0h0m0 5h0m0 15h0m0 2h0m0 6h0m1 14h0m0 7h0m0 2h0m0 20h0m0 5h0m2-44h0m1-35h0m0 5h0m0 9h0m1 61h0m1-66h0m1 61h0m1-63h0m0 7h0m0 43h0m1-48h0m0 25h0m1-32h0m0 11h0m1 36h0m0 29h0m1-76h0m0 35h0m0 15h0m0 2h0m0 47h0m1-35h0m0 27h0m1-97h0m0 13h0m0 81h0m1-86h0m0 32h0m0 9h0m0 13h0m1-77h0m1 18h0m0 59h0m0 1h0m1-61h0m1 7h0m0 10h0m0 5h0m0 24h0m0 6h0m0 3h0m1-43h0m0 38h0m0 15h0m0 8h0m1 68h0m1-109h0m2-17h0m2-12h0m0 27h0m1 36h0m1-59h0m1-19h0m0 40h0m2-26h0m1-7h0m1 7h0m0 10h0m1 2h0m0 18h0m1-24h0m0 8h0m0 10h0m0 37h0m1 0h0m0 2h0m0 7h0m1-87h0m0 28h0m0 13h0m0 10h0m1-54h0m0 37h0m0 18h0m1-26h0m0 43h0m1-38h0m0 2h0m0 3h0m0 30h0m2-13h0m1 29h0m0 14h0m1-69h0m0 3h0m0 57h0m1-46h0m1-32h0m0 57h0m0 30h0m0 10h0m2-66h0m0 0h0m0 26h0m1-4h0m1 5h0m0 49h0m2-116h0m0 37h0m0 9h0m1-7h0m1-30h0m0 22h0m0 24h0m2-38h0m0 59h0m1-66h0m1 5h0m0 25h0m1-16h0m0 13h0m0 19h0m0 27h0m1-46h0m1 10h0m0 35h0m0 7h0m1-27h0m2 40h0m1-72h0m0 46h0m3-56h0m0 51h0m1-39h0m0 28h0m0 6h0m0 4h0m1-6h0m0 2h0m0 15h0m0 22h0m1-34h0m0 7h0m0 25h0m1-51h0m2-43h0m1 26h0m1 32h0m1 8h0m0 25h0m1-17h0m0 10h0m1-44h0m0 7h0m0 20h0m1-13h0m1-38h0m0 15h0m0 35h0m1-42h0m0 21h0m0 30h0m1-34h0m0 26h0m1-34h0m1-16h0m0 28h0m0 42h0m1-36h0m1 21h0m3 23h0m1-82h0m0 58h0m0 29h0m1-52h0m0 3h0m0 3h0m1-28h0m0 9h0m0 60h0m0 94h0m1-171h0m0 16h0m0 28h0m1-11h0m0 21h0m0 15h0m1-80h0m1 59h0m1 40h0m0 34h0m1-102h0m1 31h0m0 16h0m0 1h0m1-71h0m1-5h0m0 69h0m0 16h0m1-52h0m0 26h0m1-40h0m0 67h0m2-37h0m1-62h0m1 25h0m1 45h0m1-60h0m0 12h0m0 32h0m0 59h0m2-66h0m0 0h0m0 1h0m1-13h0m1 48h0m1-30h0m1 25h0m1-46h0m0 15h0m0 28h0m1-45h0m0 14h0m1 5h0m0 56h0m1-80h0m0 12h0m2 72h0m1-93h0m0 92h0m1-17h0m2-41h0m0 1h0m1-7h0m0 15h0m1-48h0m1 37h0m1 129h0m1-100h0m1-51h0m0 129h0m1-76h0m3 18h0m0 3h0m0 5h0m1-36h0m1-41h0m0 19h0m0 2h0m1 4h0m0 8h0m0 49h0m1-12h0m0 11h0m1-77h0m0 47h0m1 22h0m1-53h0m0 64h0m1-88h0m2 66h0m1-66h0m0 27h0m0 2h0m1-20h0m0 10h0m0 4h0m0 3h0m0 7h0m0 22h0m0 6h0m0 9h0m2-3h0m1-32h0m1 6h0m0 24h0m1-4h0m1-40h0m1 18h0m0 32h0m1-54h0m0 0h0m1 21h0m1-30h0m0 69h0m1-81h0m0 10h0m0 7h0m0 52h0m2-70h0m1 34h0m0 83h0m1-85h0m0 45h0m1-69h0m0 41h0m2 15h0m0 5h0m1-24h0m1-41h0m1 35h0m0 7h0m0 3h0m0 6h0m0 24h0m1-62h0m2 12h0m1 30h0m0 10h0m1-51h0m1 39h0m0 1h0m1-46h0m0 2h0m0 11h0m1-20h0m0 16h0m0 3h0m0 19h0m1 1h0m0 21h0m1-74h0m1 12h0m0 10h0m0 26h0m0 2h0m0 27h0m1-61h0m0 10h0m0 33h0m1 26h0m1-3h0m0 7h0m0 5h0m1-88h0m0 14h0m0 25h0m0 5h0m1 21h0m2-54h0m0 87h0m1-80h0m0 76h0m0 5h0m1-21h0m1-52h0m0 39h0m1 4h0m0 25h0m1-41h0m0 25h0m0 84h0m1-115h0m0 37h0m1-52h0m1 2h0m2 27h0m0 6h0m0 110h0m1-92h0m3-19h0m0 7h0m2-50h0m1-21h0m0 22h0m1 28h0m0 30h0m0 7h0m2-45h0m0 8h0m2-2h0m1-22h0m0 23h0m0 29h0m1-21h0m1-43h0m0 44h0m0 5h0m1-57h0m0 0h0m0 6h0m0 39h0m1 26h0m1 8h0m1-60h0m1 9h0m0 5h0m0 17h0" stroke="#000" stroke-width="3.5"/>
<path d="M88 295h0m55-149h0m0 47h0m1 10h0m1-9h0m1-70h0m3 6h0m7 29h0m8-5h0m1 8h0m5-11h0m38 0h0m3 6h0m10 1h0m15 30h0m35-33h0m5-24h0m2 6h0m1 104h0m5-105h0m4 29h0m5-14h0m0 15h0m1 4h0m6-18h0m11-4h0m19 90h0m3-107h0m1 32h0m1-6h0m5-7h0m1 0h0m1-10h0m2 0h0m2 16h0m3-22h0m2 1h0m4 21h0m10 18h0m3-25h0m1-24h0m0 34h0m7 20h0m0 42h0m4-65h0m5-13h0m0 4h0m0 41h0m1-1h0m1-5h0m2-32h0m0 35h0m1-30h0m1-9h0m1-23h0m0 60h0m2-7h0m2-18h0m0 15h0m1 20h0m1-18h0m0 16h0m1-59h0m0 36h0m1-12h0m0 114h0m1-79h0m0 1h0m1-19h0m1-32h0m0 11h0m3-5h0m0 27h0m1 24h0m1-37h0m1 5h0m0 8h0m0 5h0m0 7h0m0 6h0m1-38h0m0 28h0m1-39h0m1 23h0m0 3h0m0 19h0m1-55h0m1 5h0m0 14h0m2-5h0m0 22h0m1-5h0m0 23h0m0 11h0m1-25h0m0 1h0m1 4h0m1-15h0m1-18h0m0 20h0m1-2h0m0 25h0m0 50h0m1-109h0m1 10h0m0 5h0m0 14h0m2 5h0m0 10h0m1 6h0m0 101h0m1-127h0m0 21h0m2-4h0m0 1h0m1-17h0m1-10h0m4-9h0m1 24h0m0 48h0m2-29h0m2-26h0m1 42h0m2-15h0m8 29h0m1-56h0m3-21h0m3 80h0m3-78h0m1 74h0m1-40h0m1-22h0m1 19h0m2-1h0m2 6h0m1-24h0m0 36h0m1-47h0m0 8h0m2 7h0m2-15h0m0 61h0m7-57h0m1 86h0m1-64h0m1 10h0m5-19h0m8 9h0m1 21h0m4 8h0m1-38h0m10 34h0m2 24h0m5-43h0m4-9h0m4-3h0m1-2h0m0 25h0m7 17h0m5-13h0m7 13h0m1-8h0m0 5h0m4-50h0m10 54h0m2-12h0m3-21h0m4 2h0m5-13h0m1 0h0m0 12h0m5 1h0m0 42h0m3-43h0m3 31h0m3 61h0m2-54h0m4-14h0m5-38h0m2 48h0m0 4h0m1-55h0m2-16h0m2 54h0m0 22h0m8 8h0m6-70h0m1 28h0m4 7h0m0 25h0m4 5h0m5-66h0m0 47h0m2 18h0m5-24h0m4 25h0m3-53h0m0 23h0m2 10h0m2 19h0m2-47h0m4 3h0m1 4h0m0 29h0m1 17h0m1-31h0m2 22h0m2-11h0m9-38h0m7 0h0m1 38h0m0 27h0m7-58h0m0 19h0m5 17h0m1-22h0m9 31h0m3-53h0m0 36h0m2-9h0m6-40h0m5 57h0m1-17h0m0 32h0m2-4h0m1-63h0m3 28h0m0 16h0m3-16h0m1 32h0m3-41h0m1 36h0m3-38h0m1 33h0m1 10h0m1-16h0m0 22h0m1-7h0m4-50h0m0 25h0m2 16h0m1-39h0m3 30h0m4 18h0m6-37h0m2-15h0m0 1h0m7 38h0m2 14h0m1 16h0m3-46h0m0 27h0m1-21h0m1 14h0m1-49h0m0 34h0m1-17h0m1 24h0m0 6h0m2-39h0m1-1h0m4 30h0m1-15h0m4 1h0m0 20h0m1-3h0m2-7h0m7-7h0m1 13h0m0 24h0m2-54h0m1-12h0m4 19h0m0 28h0m3 19h0m5-42h0m1 16h0m2-20h0m2 32h0m1-3h0m2 7h0m2 3h0m2-32h0m2 55h0m2-60h0m1-15h0m0 49h0m2 13h0m4-30h0m0 16h0m2-4h0m2 8h0m1 7h0m6-14h0m1-30h0m1-9h0m1 49h0m2 5h0m0 1h0m2-11h0m1-18h0m6-2h0m0 2h0m3 10h0m3-5h0m2-17h0m1 32h0m11-49h0m0 15h0m0 23h0m5-47h0m1 34h0m10 6h0m1-5h0m0 107h0m8-143h0m0 75h0m4-59h0m0 47h0m1 14h0m1-60h0m0 25h0m2 6h0m1-18h0m1-7h0m1 31h0m0 16h0m3-49h0m2-6h0m1 29h0m1 26h0m1-15h0m0 13h0m1-19h0m1 5h0m8-32h0m8 26h0m1-43h0m0 58h0m1 10h0m3-65h0m0 10h0m5 31h0m2-7h0m0 27h0m5-41h0m1-19h0m3 72h0m3-72h0m2 17h0m0 1h0m1-8h0m1 46h0m1-57h0m4 12h0m0 16h0m2-11h0m0 6h0m0 15h0m0 27h0m0 14h0m2-46h0m3 32h0m3-68h0m0 81h0m1-23h0m3 88h0m6-141h0m1 18h0m0 31h0m1-27h0m6 12h0m1-24h0m2 31h0m2-46h0m0 57h0m1-46h0m0 36h0m2-38h0m1 21h0m0 3h0m4 0h0m0 90h0m1-49h0m2-10h0m6-56h0m4 72h0m4-81h0m0 78h0m3-74h0m1 16h0m2-30h0m0 45h0m0 37h0m1-65h0m0 64h0m1-99h0m0 39h0m4 34h0m2-4h0m1 17h0m1-30h0m0 40h0m1-45h0m2 41h0m1 9h0m1-39h0m4-59h0m0 23h0m1 4h0m1-16h0m2 28h0m0 1h0m0 29h0m4 30h0m3-89h0m0 12h0m0 68h0m1-11h0m1-53h0m0 59h0m1-82h0m2 32h0m0 21h0m1 26h0m0 9h0m1-46h0m1 37h0m1-76h0m0 59h0m1-36h0m0 45h0m0 13h0m0 20h0m1-68h0m1 68h0m2-58h0m1-21h0m0 28h0m1-50h0m0 139h0m1-95h0m1 3h0m0 51h0m1-75h0m0 4h0m1 8h0m0 39h0m1-85h0m0 58h0m0 42h0m1-5h0m1-70h0m0 36h0m1-48h0m0 6h0m0 59h0m0 3h0m1 6h0m1-36h0m2-46h0m1 61h0m2-11h0m0 45h0m1-42h0m1 11h0m2 10h0m0 19h0m1-94h0m0 91h0m1-47h0m1-15h0m0 6h0m1-37h0m1 75h0m1-69h0m0 88h0m3-33h0m1 14h0m1 34h0m1-92h0m1 46h0m2 3h0m0 10h0m1-68h0m0 42h0m1 15h0m2 15h0m3-8h0m4-52h0m1 33h0m1 16h0m0 20h0m1-41h0m0 6h0m0 4h0m0 60h0m1-64h0m0 26h0m3-45h0m0 70h0m1-42h0m1 51h0m0 28h0m1-89h0m1 1h0m0 18h0m1-2h0m0 109h0m1-144h0m1 24h0m0 27h0m1-20h0m0 3h0m0 14h0m1-7h0m1-37h0m1 28h0m3 23h0m1-56h0m2 56h0m1-16h0m2-7h0m1-12h0m0 43h0m2-62h0m0 36h0m0 25h0m2-3h0m1-33h0m2 72h0m3-106h0m0 28h0m0 40h0m2-57h0m1 14h0m1 33h0m2-34h0m0 29h0m0 19h0m1-43h0m1 42h0m1-58h0m0 8h0m1 27h0m0 33h0m1-72h0m0 20h0m0 29h0m4-16h0m1 23h0m4 3h0m0 7h0m3-72h0m0 66h0m0 24h0m3-16h0m3-71h0m0 20h0m1 39h0m1 4h0m0 9h0m0 5h0m1-21h0m1 6h0m1-88h0m0 72h0m1 11h0m3-30h0m1 8h0m3-24h0m0 42h0m4-40h0m0 68h0m1-38h0m2-44h0m2 4h0m0 32h0m0 46h0m5-65h0m1 32h0m4-46h0m1 0h0m0 62h0m0 14h0m1-94h0m4 40h0m0 26h0m0 27h0m3-86h0m0 126h0m1-92h0m1-24h0m4 17h0m2-33h0m2 97h0m1-17h0m3-60h0m3 54h0m2-49h0m2 8h0" stroke="#000" stroke-width="4"/>
<path d="M142 130h0m1 52h0m0 12h0m3-9h0m28-29h0m1 7h0m3 23h0m30-44h0m62 54h0m5-43h0m3-10h0m10-9h0m8 32h0m3-15h0m1 9h0m1 9h0m6 9h0m3-1h0m3-30h0m17 27h0m10-13h0m4-25h0m0 20h0m8-9h0m1-6h0m0 5h0m0 10h0m0 10h0m2 6h0m3-22h0m1 9h0m9 3h0m1-5h0m1-14h0m5-2h0m3 22h0m4-29h0m0 29h0m2-31h0m0 36h0m1-28h0m1 4h0m0 18h0m1 67h0m1-38h0m1-57h0m0 10h0m3 15h0m0 6h0m2-7h0m1-28h0m0 33h0m6-1h0m1-29h0m1 54h0m1-50h0m1 12h0m0 1h0m1-6h0m0 39h0m1 4h0m1-16h0m1-44h0m0 33h0m1 25h0m0 11h0m1 3h0m2-35h0m1 13h0m2 73h0m2-82h0m1-3h0m0 18h0m2-10h0m2-25h0m0 39h0m1-61h0m2 1h0m0 43h0m2-15h0m0 17h0m3-17h0m1-1h0m0 1h0m0 2h0m2-7h0m0 54h0m2-52h0m1-4h0m0 66h0m2-94h0m1 17h0m9 37h0m4 112h0m3-90h0m2 10h0m2-33h0m0 9h0m1-48h0m5 43h0m0 18h0m1-58h0m1 109h0m2-66h0m1-40h0m0 57h0m1 71h0m2-84h0m4-1h0m9-16h0m2 2h0m1 5h0m1 12h0m2 16h0m2 2h0m7-14h0m4 2h0m2-40h0m5 72h0m0 99h0m5-109h0m1-36h0m3 1h0m1-7h0m1 5h0m1-31h0m13 34h0m1 7h0m2 3h0m4-11h0m4-34h0m0 37h0m5-26h0m4 17h0m1-23h0m1 15h0m0 14h0m6-32h0m1 44h0m1-20h0m2-6h0m0 41h0m10-39h0m1-18h0m0 28h0m5 29h0m3-13h0m6 4h0m2-14h0m2 15h0m4-27h0m3 5h0m0 21h0m1-28h0m4-3h0m2 24h0m1 9h0m9 3h0m2-37h0m9 16h0m4-33h0m0 43h0m1-13h0m0 24h0m4-48h0m1 3h0m4 10h0m1 19h0m2-31h0m1 20h0m1 29h0m3-18h0m1 0h0m0 7h0m8-34h0m5-4h0m2 49h0m1-58h0m4 35h0m3 21h0m1 97h0m4-77h0m1-56h0m3 42h0m4-46h0m0 8h0m0 13h0m2 13h0m3-12h0m0 1h0m2 25h0m4-53h0m2 36h0m0 6h0m2 11h0m4-2h0m2 41h0m1-88h0m0 25h0m1 34h0m1-46h0m0 3h0m1 9h0m1-27h0m0 62h0m3-83h0m2 68h0m0 1h0m1-33h0m0 29h0m2-16h0m0 13h0m2-19h0m1 11h0m1-11h0m4 25h0m1-41h0m1-9h0m2 45h0m3-43h0m2 26h0m1-20h0m0 16h0m6-30h0m2 19h0m2 16h0m0 53h0m2-30h0m2-18h0m0 17h0m2-20h0m0 28h0m1-41h0m0 16h0m2-30h0m3-2h0m0 5h0m2 4h0m0 22h0m1-8h0m4 18h0m3-15h0m5 24h0m1-52h0m3 53h0m1-65h0m6 36h0m0 29h0m3-24h0m0 19h0m1 5h0m2 15h0m4-20h0m8-3h0m1-36h0m1 21h0m3-9h0m1 34h0m2-39h0m1 26h0m4 94h0m1-136h0m5 14h0m4-13h0m0 31h0m11-31h0m2 12h0m1 17h0m1 14h0m4 11h0m3-58h0m3 59h0m2-59h0m0 52h0m0 17h0m1-61h0m3 40h0m1-20h0m1-21h0m2 2h0m0 50h0m2-44h0m0 17h0m2-29h0m5 52h0m1-22h0m2-15h0m1 28h0m9-3h0m4 16h0m3 1h0m7-36h0m0 4h0m0 8h0m3 1h0m1-3h0m0 21h0m0 23h0m3-84h0m6 77h0m3-23h0m4 20h0m1-61h0m1 23h0m1-13h0m0 44h0m1-1h0m1-30h0m1-2h0m2 34h0m9-41h0m2 20h0m1-16h0m1-16h0m2-11h0m1 6h0m1-1h0m0 37h0m1-21h0m1 21h0m1-10h0m6 17h0m1-21h0m1-29h0m5 21h0m1-30h0m3 58h0m2-12h0m0 8h0m0 5h0m1-11h0m1-8h0m1 5h0m2 0h0m0 15h0m1 9h0m3-27h0m0 14h0m8-7h0m0 11h0m3 28h0m1-38h0m3 29h0m9-57h0m0 64h0m2-52h0m1-30h0m3 10h0m0 25h0m2 25h0m5-58h0m0 59h0m3-57h0m2 4h0m0 20h0m0 1h0m3-22h0m4 20h0m3-14h0m3 26h0m3 47h0m1-54h0m3 6h0m0 29h0m1-1h0m0 2h0m1-22h0m6-53h0m1 28h0m1-21h0m3 32h0m2-38h0m2 14h0m4 55h0m1-66h0m1 39h0m0 4h0m1-11h0m0 41h0m2-64h0m2 8h0m0 33h0m4-67h0m0 54h0m1-43h0m0 10h0m1 13h0m1 48h0m2-72h0m1 79h0m0 3h0m1-62h0m1 70h0m2-44h0m1-14h0m1-25h0m0 48h0m0 31h0m0 7h0m1-66h0m0 39h0m1-5h0m0 13h0m0 1h0m0 21h0m6-63h0m0 36h0m0 33h0m2-47h0m1-35h0m1 39h0m0 31h0m1-96h0m0 49h0m1-49h0m0 100h0m1-33h0m1-52h0m0 17h0m0 9h0m0 3h0m3-8h0m1-18h0m0 23h0m1 42h0m1-23h0m1-63h0m2 27h0m2 30h0m1-9h0m0 14h0m1 1h0m1-53h0m1 68h0m1-11h0m1 11h0m3-72h0m0 15h0m1-7h0m0 55h0m1-36h0m5 33h0m2-62h0m1 13h0m0 35h0m0 55h0m3-60h0m3 33h0m2 36h0m1-96h0m3 34h0m0 18h0m0 19h0m1-37h0m1-30h0m1 93h0m2-83h0m0 45h0m1-45h0m1 59h0m2-71h0m0 66h0m2-14h0m2-38h0m0 25h0m0 26h0m1 7h0m5 10h0m1-19h0m1-21h0m2 18h0m1-63h0m0 41h0m0 15h0m2 89h0m3-63h0m1-32h0m1 15h0m1-47h0m0 49h0m1-67h0m1 5h0m1-3h0m1 50h0m1-5h0m0 25h0m1-65h0m1 60h0m1-64h0m0 57h0m1-56h0m0 58h0m1-39h0m0 1h0m1-8h0m0 74h0m3-33h0m1 22h0m0 10h0m1-54h0m1-6h0m0 32h0m1-51h0m0 27h0m1 8h0m1-11h0m4-11h0m4-9h0m0 18h0m1-19h0m0 82h0m1-60h0m4-11h0m1 11h0m0 1h0m1 1h0m1 28h0m2 6h0m1-58h0m0 18h0m3-34h0m0 47h0m1-30h0m2-4h0m3 54h0m1 11h0m1-11h0m4-19h0m0 38h0m1 13h0m1-63h0m1-37h0m0 11h0m0 18h0m4-16h0m2 29h0m0 30h0m0 5h0m4-47h0m1 39h0m3-5h0m1 37h0m4-90h0m4-8h0m0 6h0m0 11h0m2 53h0m1-71h0m7 25h0m2-33h0m3 11h0m1 3h0m0 24h0m0 57h0" stroke="#000" stroke-width="4.5"/>
<path d="M300 165h0m46 33h0m7-46h0m18-6h0m13 28h0m4 1h0m1 32h0m3-33h0m1 76h0m2-107h0m2 32h0m2 68h0m10-77h0m5 114h0m18-127h0m4-18h0m3 3h0m2 16h0m4-30h0m1 22h0m0 39h0m4 0h0m2-10h0m1-14h0m6 20h0m1 78h0m8-103h0m0 22h0m2-4h0m4 3h0m0 14h0m11-4h0m2 34h0m8-70h0m4 51h0m2-31h0m6 42h0m8-60h0m14 135h0m5 23h0m1-160h0m4 7h0m0 53h0m10-35h0m10 25h0m26-16h0m12 9h0m2 100h0m11-126h0m6-14h0m4 17h0m2 36h0m13-45h0m3 96h0m8-106h0m3 58h0m1 5h0m1-58h0m2 60h0m1-58h0m5 39h0m2-39h0m0 4h0m22 28h0m15-5h0m1-36h0m1 28h0m11-18h0m6 38h0m24-7h0m4-14h0m5 24h0m1-11h0m5-3h0m8 48h0m12-33h0m1-41h0m1-5h0m3-7h0m4-3h0m4 31h0m1-27h0m0 159h0m6-134h0m1 41h0m1-14h0m4-33h0m7-13h0m4 7h0m11 71h0m5-103h0m1 141h0m7-119h0m4 49h0m4-45h0m2 20h0m3 3h0m10-15h0m3 8h0m14-18h0m3 12h0m9 37h0m12-19h0m3 111h0m7-112h0m4-7h0m14 20h0m4-29h0m12 49h0m4-9h0m2-4h0m3 86h0m11-132h0m1 3h0m5 69h0m9-60h0m6 66h0m5-50h0m2-4h0m3 40h0m1-19h0m6-25h0m3 80h0m1-98h0m2 47h0m3-25h0m1 21h0m0 49h0m4-56h0m3-34h0m0 52h0m1-45h0m7 10h0m6-12h0m0 34h0m2-41h0m5 16h0m2-53h0m3 31h0m0 9h0m0 40h0m3 55h0m3-71h0m3-27h0m14 27h0m0 112h0m2-156h0m0 122h0m12-111h0m3-30h0m1 4h0m2 85h0m17-74h0m2 60h0m7-32h0m0 66h0m2-74h0m9 52h0m1-46h0m3-16h0m2 63h0m2-90h0m0 45h0m0 139h0m3-157h0m7-1h0m2 53h0m5 17h0m1 102h0m1-103h0m1-56h0m0 2h0m2-13h0m3 7h0m4 96h0m4-112h0m0 73h0m4-61h0m1 67h0m1-26h0m2-35h0m2 41h0m4-34h0m0 46h0m7-13h0m0 14h0m5-54h0m4 6h0m10 55h0m4-43h0m4 36h0m2-6h0m3-66h0m0 56h0m1 8h0m0 13h0m0 5h0m2-38h0m4-46h0m2 93h0m2-41h0m2 16h0m5-21h0m2-52h0m0 51h0m6 42h0m2-44h0m0 34h0m1 99h0m1-133h0m2-6h0m5-22h0m10 51h0m1-45h0m0 0h0m4 39h0m1-32h0" stroke="#000" stroke-width="5.8"/>
<path d="M277 244h0m19-99h0m15 82h0m1-37h0m4-48h0m14 18h0m25 11h0m10 44h0m5 2h0m8-73h0m15 144h0m1-178h0m4 20h0m6 131h0m15-36h0m4-18h0m1 74h0m9-46h0m1-91h0m10-13h0m6 78h0m9-5h0m8 1h0m3-21h0m8-18h0m5 9h0m43 19h0m1 126h0m4-147h0m20 105h0m4-133h0m0 105h0m4-99h0m16 29h0m9-28h0m9-16h0m12 41h0m0 46h0m23 33h0m7-105h0m12-3h0m4 57h0m23 9h0m8 54h0m31-77h0m4-2h0m13-35h0m0 23h0m3 8h0m12 68h0m12 54h0m22-96h0m13-48h0m12-13h0m8 121h0m2-106h0m9-18h0m3 18h0m7 37h0m1-29h0m0 25h0m12-6h0m3 51h0m3-49h0m5 10h0m18 31h0m2-67h0m3 5h0m25 19h0m10 99h0m1-87h0m3-51h0m5 119h0m14-72h0m7-53h0m3 28h0m7 54h0m12-18h0m5-18h0m14 48h0m2-49h0m8-16h0m8 92h0m16-76h0m9-18h0m7 32h0m4-58h0m5 66h0m6-22h0m4 74h0m1-44h0m1-85h0m1-1h0m2 52h0m2 122h0m2-125h0m8 52h0m8-102h0m1 25h0m6-29h0m0 33h0m0 31h0m2-15h0m12 125h0m4-147h0m8 27h0m19-34h0m0 29h0m4 6h0m0 40h0m5 70h0m1-116h0m2 33h0m2-52h0m0 4h0m5 4h0m3 53h0m1-34h0m4 117h0m13-19h0m3-89h0m1-23h0m10-12h0m0 12h0m9-19h0m3-5h0m15 33h0m9-36h0m12 51h0m3 121h0m1-145h0m5 50h0m2 16h0m5-74h0m5-17h0m2 128h0m1 8h0m1-92h0m6 73h0m3-103h0m5 21h0m0 42h0" stroke="#000" stroke-width="6.8"/>
<path d="M321 147h0m31-13h0m42 149h0m13-145h0m4 126h0m24-24h0m2-87h0m1 31h0m9-42h0m11 16h0m8 79h0m9-74h0m13-5h0m18 89h0m33-47h0m10 82h0m1-81h0m7-1h0m8-49h0m2 29h0m15 42h0m10 43h0m17-62h0m13-40h0m6-5h0m14 5h0m13-6h0m13-2h0m12 14h0m5-2h0m32 75h0m10 34h0m4 4h0m7-77h0m33 15h0m11 70h0m31-133h0m41 22h0m2-14h0m23 17h0m19 45h0m29-77h0m3 6h0m4-3h0m62 31h0m22-25h0m4 39h0m17-18h0m4 6h0m14-59h0m2 19h0m8 63h0m11-9h0m1 9h0m17 1h0m6-76h0m10 73h0m5-28h0m2 136h0m18-94h0m4 81h0m11-40h0m37-101h0m0 91h0m10-99h0m6 61h0m18-38h0m6-34h0m9 24h0m8 2h0m8 7h0m9 26h0m3 57h0m6-115h0" stroke="#000" stroke-width="7.8"/>
<path d="M286 298h0m7-94h0m13-36h0m70-17h0m7 34h0m2-18h0m14 40h0m9 47h0m30-90h0m25 66h0m1-87h0m31 31h0m10 8h0m19 32h0m65-38h0m66 18h0m9-13h0m11-26h0m20-13h0m20 26h0m40-6h0m19 152h0m2-114h0m28 17h0m10-28h0m14 6h0m22 120h0m17-1h0m12-117h0m6-16h0m11-18h0m26 160h0m5-55h0m5 26h0m21-41h0m22-53h0m13 57h0m4 52h0m21-137h0m38-40h0m8 69h0m19 22h0m4-86h0m4 12h0m0 9h0m26-19h0m3 4h0m9 89h0m24-64h0m4-3h0m23-6h0m1 24h0m5 34h0m38-28h0m7-41h0m14 33h0m14-12h0m9 42h0m2-51h0m6 144h0" stroke="#000" stroke-width="8.8"/>
<path d="M193 237h0m61-44h0m61-38h0m29 35h0m61 3h0m0 44h0m20 37h0m12-73h0m41-23h0m43 69h0m33-99h0m14 2h0m66 32h0m29 0h0m25-31h0m29 24h0m92 114h0m21-74h0m23 81h0m26-149h0m82 63h0m21 9h0m62-65h0m33 126h0m42 22h0m68-145h0m14 17h0m6 81h0m17-42h0m40 100h0" stroke="#000" stroke-width="9.8"/>
<path d="M217 237h0m183-5h0m19-54h0m70 125h0m254-47h0m21-23h0m79 77h0m102-111h0m58 122h0m48-205h0m4 11h0m41 83h0m10-36h0m151 28h0m16 99h0" stroke="#000" stroke-width="10.8"/>
<path d="M449 137h0m37 80h0m140 45h0m153-55h0m91 0h0m37 12h0m100-17h0m211 17h0" stroke="#000" stroke-width="11.8"/>
<path d="M364 240h0m435 46h0" stroke="#000" stroke-width="12.8"/>
<path d="M816 184h0m23 120h0m283-175h0m66 22h0m5 141h0" stroke="#000" stroke-width="13.8"/>
<path d="M294 299h0m18-57h0" stroke="#000" stroke-width="14.8"/>
<path d="M900 145h0" stroke="#000" stroke-width="15.8"/>
<path d="M442 173h0" stroke="#000" stroke-width="16.8"/>
<path d="M493 271h0" stroke="#000" stroke-width="17.8"/>
<path d="M300 165h0m46 33h0m7-46h0m18-6h0m13 28h0m4 1h0m1 32h0m3-33h0m1 76h0m2-107h0m2 32h0m2 68h0m10-77h0m5 114h0m18-127h0m4-18h0m3 3h0m2 16h0m4-30h0m1 22h0m0 39h0m4 0h0m2-10h0m1-14h0m6 20h0m1 78h0m8-103h0m0 22h0m2-4h0m4 3h0m0 14h0m11-4h0m2 34h0m8-70h0m4 51h0m2-31h0m6 42h0m8-60h0m14 135h0m5 23h0m1-160h0m4 7h0m0 53h0m10-35h0m10 25h0m26-16h0m12 9h0m2 100h0m11-126h0m6-14h0m4 17h0m2 36h0m13-45h0m3 96h0m8-106h0m3 58h0m1 5h0m1-58h0m2 60h0m1-58h0m5 39h0m2-39h0m0 4h0m22 28h0m15-5h0m1-36h0m1 28h0m11-18h0m6 38h0m24-7h0m4-14h0m5 24h0m1-11h0m5-3h0m8 48h0m12-33h0m1-41h0m1-5h0m3-7h0m4-3h0m4 31h0m1-27h0m0 159h0m6-134h0m1 41h0m1-14h0m4-33h0m7-13h0m4 7h0m11 71h0m5-103h0m1 141h0m7-119h0m4 49h0m4-45h0m2 20h0m3 3h0m10-15h0m3 8h0m14-18h0m3 12h0m9 37h0m12-19h0m3 111h0m7-112h0m4-7h0m14 20h0m4-29h0m12 49h0m4-9h0m2-4h0m3 86h0m11-132h0m1 3h0m5 69h0m9-60h0m6 66h0m5-50h0m2-4h0m3 40h0m1-19h0m6-25h0m3 80h0m1-98h0m2 47h0m3-25h0m1 21h0m0 49h0m4-56h0m3-34h0m0 52h0m1-45h0m7 10h0m6-12h0m0 34h0m2-41h0m5 16h0m2-53h0m3 31h0m0 9h0m0 40h0m3 55h0m3-71h0m3-27h0m14 27h0m0 112h0m2-156h0m0 122h0m12-111h0m3-30h0m1 4h0m2 85h0m17-74h0m2 60h0m7-32h0m0 66h0m2-74h0m9 52h0m1-46h0m3-16h0m2 63h0m2-90h0m0 45h0m0 139h0m3-157h0m7-1h0m2 53h0m5 17h0m1 102h0m1-103h0m1-56h0m0 2h0m2-13h0m3 7h0m4 96h0m4-112h0m0 73h0m4-61h0m1 67h0m1-26h0m2-35h0m2 41h0m4-34h0m0 46h0m7-13h0m0 14h0m5-54h0m4 6h0m10 55h0m4-43h0m4 36h0m2-6h0m3-66h0m0 56h0m1 8h0m0 13h0m0 5h0m2-38h0m4-46h0m2 93h0m2-41h0m2 16h0m5-21h0m2-52h0m0 51h0m6 42h0m2-44h0m0 34h0m1 99h0m1-133h0m2-6h0m5-22h0m10 51h0m1-45h0m0 0h0m4 39h0m1-32h0" stroke="#e8e8e8" stroke-width="1.8"/>
<path d="M277 244h0m19-99h0m15 82h0m1-37h0m4-48h0m14 18h0m25 11h0m10 44h0m5 2h0m8-73h0m15 144h0m1-178h0m4 20h0m6 131h0m15-36h0m4-18h0m1 74h0m9-46h0m1-91h0m10-13h0m6 78h0m9-5h0m8 1h0m3-21h0m8-18h0m5 9h0m43 19h0m1 126h0m4-147h0m20 105h0m4-133h0m0 105h0m4-99h0m16 29h0m9-28h0m9-16h0m12 41h0m0 46h0m23 33h0m7-105h0m12-3h0m4 57h0m23 9h0m8 54h0m31-77h0m4-2h0m13-35h0m0 23h0m3 8h0m12 68h0m12 54h0m22-96h0m13-48h0m12-13h0m8 121h0m2-106h0m9-18h0m3 18h0m7 37h0m1-29h0m0 25h0m12-6h0m3 51h0m3-49h0m5 10h0m18 31h0m2-67h0m3 5h0m25 19h0m10 99h0m1-87h0m3-51h0m5 119h0m14-72h0m7-53h0m3 28h0m7 54h0m12-18h0m5-18h0m14 48h0m2-49h0m8-16h0m8 92h0m16-76h0m9-18h0m7 32h0m4-58h0m5 66h0m6-22h0m4 74h0m1-44h0m1-85h0m1-1h0m2 52h0m2 122h0m2-125h0m8 52h0m8-102h0m1 25h0m6-29h0m0 33h0m0 31h0m2-15h0m12 125h0m4-147h0m8 27h0m19-34h0m0 29h0m4 6h0m0 40h0m5 70h0m1-116h0m2 33h0m2-52h0m0 4h0m5 4h0m3 53h0m1-34h0m4 117h0m13-19h0m3-89h0m1-23h0m10-12h0m0 12h0m9-19h0m3-5h0m15 33h0m9-36h0m12 51h0m3 121h0m1-145h0m5 50h0m2 16h0m5-74h0m5-17h0m2 128h0m1 8h0m1-92h0m6 73h0m3-103h0m5 21h0m0 42h0" stroke="#e8e8e8" stroke-width="2.8"/>
<path d="M321 147h0m31-13h0m42 149h0m13-145h0m4 126h0m24-24h0m2-87h0m1 31h0m9-42h0m11 16h0m8 79h0m9-74h0m13-5h0m18 89h0m33-47h0m10 82h0m1-81h0m7-1h0m8-49h0m2 29h0m15 42h0m10 43h0m17-62h0m13-40h0m6-5h0m14 5h0m13-6h0m13-2h0m12 14h0m5-2h0m32 75h0m10 34h0m4 4h0m7-77h0m33 15h0m11 70h0m31-133h0m41 22h0m2-14h0m23 17h0m19 45h0m29-77h0m3 6h0m4-3h0m62 31h0m22-25h0m4 39h0m17-18h0m4 6h0m14-59h0m2 19h0m8 63h0m11-9h0m1 9h0m17 1h0m6-76h0m10 73h0m5-28h0m2 136h0m18-94h0m4 81h0m11-40h0m37-101h0m0 91h0m10-99h0m6 61h0m18-38h0m6-34h0m9 24h0m8 2h0m8 7h0m9 26h0m3 57h0m6-115h0" stroke="#e8e8e8" stroke-width="3.8"/>
<path d="M286 298h0m7-94h0m13-36h0m70-17h0m7 34h0m2-18h0m14 40h0m9 47h0m30-90h0m25 66h0m1-87h0m31 31h0m10 8h0m19 32h0m65-38h0m66 18h0m9-13h0m11-26h0m20-13h0m20 26h0m40-6h0m19 152h0m2-114h0m28 17h0m10-28h0m14 6h0m22 120h0m17-1h0m12-117h0m6-16h0m11-18h0m26 160h0m5-55h0m5 26h0m21-41h0m22-53h0m13 57h0m4 52h0m21-137h0m38-40h0m8 69h0m19 22h0m4-86h0m4 12h0m0 9h0m26-19h0m3 4h0m9 89h0m24-64h0m4-3h0m23-6h0m1 24h0m5 34h0m38-28h0m7-41h0m14 33h0m14-12h0m9 42h0m2-51h0m6 144h0" stroke="#e8e8e8" stroke-width="4.8"/>
<path d="M193 237h0m61-44h0m61-38h0m29 35h0m61 3h0m0 44h0m20 37h0m12-73h0m41-23h0m43 69h0m33-99h0m14 2h0m66 32h0m29 0h0m25-31h0m29 24h0m92 114h0m21-74h0m23 81h0m26-149h0m82 63h0m21 9h0m62-65h0m33 126h0m42 22h0m68-145h0m14 17h0m6 81h0m17-42h0m40 100h0" stroke="#b4b4b4" stroke-width="5.8"/>
<path d="M217 237h0m183-5h0m19-54h0m70 125h0m254-47h0m21-23h0m79 77h0m102-111h0m58 122h0m48-205h0m4 11h0m41 83h0m10-36h0m151 28h0m16 99h0" stroke="#b4b4b4" stroke-width="6.8"/>
<path d="M449 137h0m37 80h0m140 45h0m153-55h0m91 0h0m37 12h0m100-17h0m211 17h0" stroke="#b4b4b4" stroke-width="7.8"/>
<path d="M364 240h0m435 46h0" stroke="#b4b4b4" stroke-width="8.8"/>
<path d="M816 184h0m23 120h0m283-175h0m66 22h0m5 141h0" stroke="#b4b4b4" stroke-width="9.8"/>
<path d="M294 299h0m18-57h0" stroke="#b4b4b4" stroke-width="10.8"/>
<path d="M900 145h0" stroke="#b4b4b4" stroke-width="11.8"/>
<path d="M442 173h0" stroke="#b4b4b4" stroke-width="12.8"/>
<path d="M493 271h0" stroke="#b4b4b4" stroke-width="13.8"/></g>
<g transform="scale(.5)" stroke-linecap="round" fill="none"><path d="M118 234h0m25-96h0m1 16h0m1-24h0m0 3h0m0 69h0m1-68h0m6 8h0m3 23h0m2-9h0m9 5h0m17 34h0m4-37h0m1 4h0m4-5h0m14 24h0m25 12h0m9-18h0m13-21h0m10 5h0m11 14h0m8-15h0m1-15h0m4 30h0m5-26h0m1 3h0m9 10h0m1-4h0m1-11h0m1-14h0m9 16h0m4-11h0m2-1h0m5-16h0m1 36h0m7 6h0m1 8h0m3 69h0m1-58h0m1-20h0m3-12h0m5 19h0m6-24h0m1-14h0m1 25h0m0 3h0m4 86h0m1-106h0m0 1h0m11 9h0m4 18h0m1-10h0m0 1h0m3 11h0m4-22h0m0 7h0m1-1h0m2 3h0m4-12h0m0 9h0m1 35h0m1-44h0m1 16h0m0 1h0m0 116h0m2-71h0m1-55h0m0 99h0m3-95h0m1 25h0m2-30h0m0 15h0m1 12h0m2-4h0m0 21h0m2-53h0m0 12h0m0 23h0m1 16h0m1-61h0m0 10h0m0 11h0m2 2h0m0 16h0m1-16h0m1-9h0m0 29h0m1 11h0m1-45h0m0 22h0m0 13h0m2-33h0m0 63h0m1-54h0m1-19h0m1 6h0m0 52h0m1-31h0m0 13h0m0 0h0m0 66h0m1-68h0m0 9h0m4-49h0m0 18h0m0 0h0m3-10h0m0 11h0m3-21h0m1 10h0m0 52h0m1 73h0m1-65h0m1-62h0m0 15h0m1 11h0m0 10h0m0 35h0m3-78h0m0 73h0m3-59h0m1 54h0m2-73h0m0 9h0m3 56h0m1 9h0m0 4h0m2 1h0m4-59h0m1-3h0m1 28h0m2 18h0m0 10h0m0 10h0m1-41h0m2 45h0m2-20h0m2-46h0m0 40h0m7-13h0m1 8h0m3-29h0m4 68h0m2-71h0m2 33h0m1-33h0m3 14h0m11 17h0m7 22h0m8-24h0m6-3h0m0 36h0m2-48h0m3 19h0m6-11h0m3 12h0m8 4h0m6-35h0m7 58h0m1-36h0m1 1h0m8-11h0m0 27h0m1-39h0m3 25h0m4 18h0m1-29h0m4 30h0m0 17h0m9-14h0m4-30h0m7 1h0m0 39h0m6-8h0m4 3h0m3-5h0m1-46h0m0 15h0m3 30h0m5 7h0m1-31h0m5-6h0m6 39h0m7-34h0m0 29h0m10-58h0m4 48h0m4-9h0m4 33h0m1-25h0m2-16h0m1 40h0m2-55h0m13 18h0m1-15h0m0 22h0m6 28h0m2 5h0m2-63h0m1 27h0m1 26h0m1-58h0m1 79h0m2-47h0m1-2h0m2 30h0m2-51h0m0 4h0m3 6h0m1 10h0m3-17h0m2 0h0m3-4h0m2 38h0m1-39h0m3 29h0m4 23h0m3-23h0m1 36h0m1-56h0m4-13h0m5 40h0m1 3h0m0 1h0m3 24h0m1-59h0m0 53h0m1-28h0m5-20h0m0 16h0m1-32h0m3 4h0m2 24h0m1 21h0m3-34h0m4 4h0m2 50h0m2-54h0m2 54h0m3-34h0m0 8h0m3 124h0m1-103h0m2-28h0m2-19h0m10-6h0m0 36h0m3 7h0m2-42h0m0 32h0m1 16h0m1-37h0m3-16h0m1-9h0m12 25h0m5 23h0m3 29h0m1-35h0m2-26h0m2 56h0m5-55h0m1 32h0m1 15h0m1 17h0m3-67h0m0 13h0m8-4h0m5 16h0m1-5h0m10 30h0m3-47h0m1 27h0m1-31h0m0 49h0m1-36h0m1 12h0m1 6h0m5 28h0m3-31h0m0 22h0m1 0h0m5-59h0m4 65h0m5-28h0m8-11h0m3-16h0m1 39h0m1 5h0m1-6h0m1 17h0m5-58h0m1 161h0m1-91h0m1-80h0m0 55h0m1-46h0m0 41h0m1-25h0m1-4h0m0 45h0m1-39h0m0 88h0m1-58h0m2-24h0m1 20h0m2-33h0m0 18h0m1 7h0m3-32h0m1-15h0m3 16h0m2 20h0m1 14h0m4 30h0m1 4h0m1-83h0m3 21h0m1 54h0m8-50h0m7 18h0m2 29h0m0 10h0m2-16h0m3-49h0m5 49h0m0 1h0m0 12h0m2-54h0m0 3h0m1 18h0m1 14h0m2 1h0m5-29h0m2-16h0m7 38h0m0 4h0m5-28h0m1 49h0m2-21h0m0 33h0m1-68h0m1 7h0m0 139h0m2-129h0m2-17h0m1-34h0m1 71h0m3 5h0m5-22h0m2 16h0m2-43h0m0 48h0m1-35h0m3 36h0m2-20h0m2-11h0m6 60h0m2-57h0m0 27h0m2-64h0m1 28h0m4 45h0m1 3h0m3-97h0m2 55h0m1-47h0m0 11h0m0 45h0m1-55h0m0 29h0m2 65h0m1-36h0m1-2h0m0 16h0m1-72h0m0 22h0m0 10h0m0 43h0m1-28h0m0 20h0m0 27h0m2-50h0m4-25h0m0 44h0m2 3h0m1-47h0m2 60h0m2 22h0m1-26h0m0 89h0m1-119h0m4-26h0m1 36h0m3-5h0m1-50h0m1-3h0m0 81h0m0 43h0m2-111h0m1 88h0m2-15h0m0 9h0m1-101h0m0 82h0m1-70h0m1 25h0m0 15h0m0 29h0m2-73h0m1 84h0m1-49h0m3 5h0m0 10h0m0 11h0m1-11h0m3-48h0m3 26h0m0 37h0m2-75h0m3 33h0m0 46h0m2-59h0m0 29h0m1-8h0m0 23h0m0 12h0m2-64h0m0 11h0m0 54h0m1-36h0m3 47h0m0 2h0m1-35h0m2-52h0m0 9h0m0 77h0m2 3h0m0 5h0m1-63h0m0 62h0m0 11h0m2-101h0m0 101h0m2-59h0m0 34h0m0 7h0m1-23h0m1-58h0m0 90h0m1-45h0m0 58h0m2-61h0m1 15h0m0 7h0m0 3h0m3 39h0m1-90h0m0 53h0m1-15h0m0 9h0m0 26h0m2-72h0m0 70h0m2-25h0m1-17h0m2-15h0m0 26h0m0 31h0m0 3h0m1-35h0m2-26h0m1 53h0m1 13h0m4-4h0m2-62h0m1 62h0m2 16h0m1-77h0m0 26h0m0 11h0m1-63h0m2 70h0m0 83h0m3-74h0m1-70h0m0 12h0m2 70h0m2-53h0m0 57h0m3-48h0m1-26h0m0 58h0m0 10h0m1-32h0m1-7h0m0 8h0m1 29h0m1-81h0m1 38h0m0 32h0m0 12h0m0 23h0m1-22h0m1-17h0m0 21h0m1-78h0m0 15h0m1 27h0m1-64h0m1 41h0m3 37h0m0 8h0m1-3h0m1 10h0m3-18h0m1 34h0m1-102h0m0 41h0m3-6h0m1-11h0m1 72h0m1-86h0m0 45h0m1-15h0m0 30h0m1-34h0m0 47h0m1-71h0m0 16h0m2 30h0m1-36h0m2 26h0m1-28h0m0 51h0m1-60h0m0 65h0m0 11h0m2-52h0m0 6h0m1-36h0m1 64h0m1-44h0m0 34h0m0 30h0m0 85h0m9-165h0m0 5h0m0 91h0m2-49h0m0 5h0m2-15h0m0 39h0m2-57h0m0 70h0m2-19h0m3-69h0m1 10h0m0 24h0m2-39h0m1 7h0m1-7h0m0 21h0m0 35h0m0 24h0m1 9h0m5-22h0m2 59h0m2-44h0m2-6h0m0 15h0m8-49h0m1 8h0m1-29h0m1 48h0m1 85h0m2-96h0m2 25h0" stroke="#000" stroke-width="3"/>
<path d="M142 189h0m1-39h0m0 4h0m0 5h0m0 8h0m1-34h0m2 5h0m0 0h0m0 14h0m0 10h0m0 2h0m1-15h0m0 9h0m0 14h0m1-30h0m0 4h0m0 11h0m0 13h0m1-19h0m1 15h0m11-1h0m4-5h0m3 56h0m1-63h0m0 11h0m1-1h0m13-4h0m1 3h0m10-5h0m2-1h0m13-3h0m4 10h0m3-9h0m1-4h0m5 4h0m2-6h0m46 157h0m2-148h0m5-9h0m0 14h0m13-9h0m0 2h0m0 3h0m3-14h0m1 15h0m2 5h0m1-3h0m2-21h0m0 25h0m1-5h0m3 72h0m1-70h0m0 8h0m2-33h0m3-12h0m1 64h0m5-20h0m3-2h0m1-26h0m1-10h0m2 8h0m1 19h0m1-22h0m0 30h0m8-33h0m1 9h0m5-3h0m1 22h0m2-1h0m1-23h0m2 29h0m2-40h0m1 2h0m0 33h0m1-16h0m0 6h0m2-13h0m0 1h0m1 25h0m0 6h0m6 14h0m2-46h0m0 18h0m1 16h0m1-12h0m1-11h0m0 9h0m2-13h0m1 19h0m2-27h0m5 5h0m0 14h0m1-3h0m0 10h0m1-26h0m0 11h0m3 21h0m2 0h0m1-15h0m1-3h0m0 11h0m1-9h0m0 1h0m2-13h0m0 60h0m1-59h0m0 26h0m1 31h0m0 2h0m0 55h0m1-109h0m0 25h0m0 19h0m1-28h0m0 11h0m0 16h0m0 4h0m1-25h0m0 11h0m0 95h0m1-149h0m0 3h0m0 8h0m1-8h0m0 2h0m0 4h0m0 12h0m0 10h0m1-14h0m0 2h0m0 32h0m2-40h0m0 28h0m1-41h0m0 12h0m0 16h0m0 9h0m0 38h0m0 2h0m1-7h0m0 4h0m1-65h0m0 11h0m0 0h0m1 36h0m1-38h0m0 2h0m0 20h0m0 1h0m0 0h0m1 14h0m1-38h0m0 44h0m1-52h0m0 35h0m1-3h0m0 20h0m0 57h0m0 6h0m1-113h0m0 18h0m0 8h0m0 19h0m0 1h0m1-34h0m0 6h0m0 18h0m0 7h0m1-26h0m0 33h0m2-68h0m0 41h0m1-8h0m0 31h0m1-48h0m0 5h0m1 15h0m0 10h0m0 16h0m1-40h0m0 102h0m1-85h0m0 31h0m1-54h0m0 20h0m0 18h0m1 94h0m1-106h0m1-19h0m0 10h0m0 5h0m0 16h0m0 8h0m0 11h0m1 4h0m2-25h0m0 26h0m1-54h0m0 71h0m1-54h0m0 8h0m0 1h0m0 15h0m0 24h0m1-62h0m0 6h0m0 30h0m1-10h0m0 24h0m0 11h0m0 16h0m1-52h0m0 17h0m0 60h0m1-65h0m1-33h0m0 8h0m1-12h0m0 50h0m1-66h0m1 1h0m0 13h0m0 26h0m0 21h0m1-12h0m0 6h0m0 44h0m1-82h0m0 64h0m2-80h0m0 55h0m1-9h0m1-12h0m0 5h0m0 1h0m0 5h0m0 12h0m4-24h0m1-27h0m1 55h0m0 0h0m1-6h0m4 0h0m0 9h0m3-10h0m2-29h0m0 13h0m1-9h0m1 9h0m1-4h0m0 10h0m1-41h0m0 19h0m2 10h0m1 4h0m1 12h0m0 25h0m4-47h0m1 2h0m0 15h0m5-38h0m1 38h0m3-57h0m0 39h0m1-1h0m0 13h0m1-18h0m1 58h0m2-26h0m1-28h0m0 24h0m0 10h0m2 2h0m1 6h0m1-25h0m1 16h0m0 10h0m1-37h0m1 5h0m2 12h0m0 30h0m1-35h0m1-9h0m0 42h0m0 3h0m1-53h0m1 12h0m1-13h0m1-7h0m2 12h0m0 21h0m0 32h0m1-32h0m1 16h0m1-25h0m3-31h0m1 28h0m0 14h0m0 27h0m3-52h0m1 41h0m0 6h0m1-41h0m2 4h0m1 15h0m1-15h0m1 21h0m0 6h0m0 8h0m1-55h0m1 74h0m2-10h0m1-43h0m3-1h0m0 9h0m0 41h0m2-14h0m2-50h0m1 3h0m0 23h0m0 0h0m3 35h0m1-28h0m0 5h0m2-46h0m1 18h0m0 36h0m2 3h0m1 0h0m1-14h0m3 20h0m1-35h0m1 23h0m4-4h0m1-50h0m0 39h0m1-21h0m2 88h0m7-51h0m2-3h0m2-23h0m1 35h0m2-22h0m0 8h0m4-34h0m3 16h0m1 36h0m0 0h0m2 6h0m2-13h0m3-50h0m1 23h0m0 22h0m1-50h0m2 37h0m1-28h0m0 1h0m1 46h0m2-20h0m2-40h0m1 37h0m1 13h0m2-1h0m1-39h0m3 55h0m1-58h0m1 55h0m2-49h0m0 38h0m4-21h0m3 21h0m2-25h0m1-23h0m0 5h0m0 12h0m1 35h0m1-56h0m1 67h0m1-6h0m2-48h0m4 40h0m3-50h0m1 35h0m1-24h0m0 36h0m2 19h0m2-45h0m4 15h0m2-5h0m0 22h0m0 2h0m1 10h0m1-42h0m0 15h0m2 9h0m0 18h0m2-13h0m1-6h0m1-22h0m2 38h0m1-46h0m0 51h0m1-54h0m0 45h0m1-16h0m2 42h0m1-73h0m0 11h0m1 155h0m2-120h0m1-28h0m2-3h0m0 7h0m0 3h0m2-3h0m1-17h0m2-5h0m1 18h0m0 35h0m0 16h0m3-53h0m0 9h0m1-35h0m1 49h0m0 7h0m4-52h0m0 28h0m0 14h0m1-18h0m2 44h0m1-23h0m1-11h0m1-15h0m0 101h0m1-100h0m1 37h0m1-41h0m0 16h0m2-18h0m2 14h0m2-27h0m0 41h0m5 17h0m1-2h0m1-6h0m4-1h0m1-16h0m1-39h0m0 36h0m1-7h0m2-1h0m0 14h0m2-41h0m2 3h0m1 46h0m2-29h0m1 5h0m1 35h0m1-39h0m0 38h0m0 29h0m1-75h0m1-11h0m0 50h0m1 8h0m1-26h0m0 5h0m1-21h0m2 31h0m1-47h0m0 47h0m1-23h0m4-13h0m1 52h0m2-17h0m1-10h0m0 16h0m4-16h0m1 11h0m2-21h0m1-2h0m2-8h0m7 8h0m4 29h0m2-40h0m2 31h0m0 7h0m1-46h0m1 32h0m0 34h0m1-78h0m2 36h0m1-9h0m0 57h0m1-33h0m1 13h0m1 0h0m0 18h0m1-46h0m6 4h0m0 5h0m0 9h0m0 15h0m2-45h0m0 31h0m1-5h0m1 11h0m2-53h0m0 4h0m0 52h0m0 15h0m1-7h0m1-55h0m1 8h0m0 13h0m0 21h0m0 10h0m7 1h0m2-48h0m0 57h0m0 79h0m3-104h0m3-55h0m1 10h0m2 10h0m2-7h0m0 42h0m3 21h0m1-39h0m1 15h0m3 1h0m1 7h0m0 10h0m1-12h0m0 4h0m1-6h0m1 6h0m1-26h0m0 5h0m1-1h0m1-20h0m1-14h0m0 35h0m1 17h0m2-4h0m0 7h0m2-31h0m0 2h0m0 23h0m1-33h0m0 6h0m1-15h0m2 52h0m0 2h0m1-53h0m0 32h0m1-6h0m2 17h0m1-28h0m1-15h0m0 34h0m2-9h0m0 0h0m2-23h0m1 53h0m1-48h0m0 0h0m0 9h0m2 10h0m2 120h0m1-92h0m1 0h0m0 5h0m3-12h0m1-22h0m0 23h0m1 0h0m4-54h0m1 12h0m4 33h0m1-37h0m1-22h0m1 21h0m2 34h0m0 90h0m2-77h0m1-51h0m0 19h0m2-10h0m2-12h0m2 54h0m7-35h0m0 50h0m7-27h0m1-10h0m2 49h0m1-34h0m0 6h0m1-35h0m1-20h0m1 12h0m1 31h0m2-21h0m1-20h0m0 41h0m0 20h0m2-53h0m3 63h0m1-39h0m0 29h0m1-32h0m1-4h0m1-18h0m2-1h0m2 24h0m2 12h0m3-41h0m3 29h0m0 43h0m3-61h0m0 25h0m1-7h0m0 7h0m2 24h0m1-32h0m3-8h0m2-1h0m2 19h0m0 19h0m0 21h0m1-70h0m4 21h0m3 15h0m0 34h0m1-55h0m0 22h0m0 14h0m2-4h0m1-30h0m3 4h0m3 3h0m2 10h0m0 16h0m0 15h0m2-48h0m1 20h0m1-22h0m1 50h0m0 7h0m1-79h0m0 20h0m0 46h0m3-9h0m2-56h0m1 46h0m2-5h0m0 9h0m1-35h0m0 30h0m1-51h0m1 31h0m0 24h0m1-7h0m1-2h0m0 5h0m0 18h0m0 71h0m1-97h0m0 3h0m1-13h0m2-1h0m1 27h0m3-13h0m0 18h0m0 8h0m1-4h0m1-56h0m0 40h0m1-9h0m0 14h0m1-49h0m0 138h0m1-73h0m1-59h0m0 8h0m2 10h0m2 11h0m2 21h0m2 13h0m1-68h0m0 51h0m1-29h0m0 0h0m1 13h0m0 29h0m0 1h0m1-75h0m0 9h0m0 32h0m2 1h0m1 9h0m0 31h0m1-33h0m0 9h0m2 1h0m1-26h0m0 37h0m1-36h0m1-12h0m1-8h0m0 6h0m1-8h0m1 51h0m1-49h0m1 41h0m0 5h0m1-27h0m3-9h0m0 13h0m1 41h0m2-33h0m0 5h0m0 13h0m1-54h0m0 56h0m1-21h0m1-17h0m0 2h0m0 27h0m0 13h0m1-59h0m0 72h0m1-53h0m0 37h0m2-4h0m1-9h0m0 22h0m0 7h0m2-2h0m2-79h0m1 29h0m0 5h0m1 17h0m1-58h0m1 32h0m0 51h0m1-53h0m0 34h0m1-39h0m1-14h0m1 67h0m1-44h0m1 32h0m0 1h0m1-38h0m0 44h0m0 1h0m1-33h0m0 13h0m2-8h0m1 31h0m1-24h0m0 24h0m1-69h0m0 62h0m2-2h0m1-58h0m0 46h0m1 29h0m0 95h0m1-145h0m0 13h0m0 29h0m1-66h0m0 11h0m0 43h0m1-81h0m0 6h0m0 43h0m0 17h0m1 31h0m1-117h0m2 28h0m0 65h0m0 54h0m1-103h0m0 65h0m0 15h0m0 12h0m1-101h0m0 63h0m1-79h0m0 76h0m0 44h0m1-74h0m1 48h0m1-66h0m3 5h0m2 2h0m0 19h0m0 32h0m1 2h0m2-37h0m0 35h0m0 16h0m1-112h0m0 76h0m0 8h0m0 8h0m0 21h0m1-25h0m1-53h0m2 27h0m0 23h0m0 19h0m2-24h0m1-48h0m0 7h0m0 12h0m0 13h0m1-30h0m0 93h0m0 51h0m1-73h0m1 3h0m1-96h0m0 41h0m0 50h0m1-60h0m0 30h0m1-10h0m0 43h0m1-86h0m0 19h0m0 37h0m0 49h0m1-93h0m0 46h0m1-50h0m0 22h0m0 11h0m0 29h0m0 20h0m0 16h0m0 2h0m1-47h0m1 5h0m0 16h0m0 16h0m2-45h0m1-31h0m0 2h0m0 49h0m1-21h0m1-45h0m0 18h0m1 44h0m1 11h0m1-30h0m2 38h0m1-49h0m0 6h0m0 50h0m1-72h0m0 71h0m0 5h0m1-77h0m0 31h0m1-49h0m0 22h0m0 18h0m0 3h0m0 16h0m1-65h0m0 40h0m0 26h0m2-54h0m0 31h0m0 6h0m0 49h0m1-73h0m0 15h0m0 12h0m1-8h0m0 29h0m1-9h0m1-53h0m1 55h0m0 38h0m1-104h0m0 28h0m0 9h0m1 5h0m0 27h0m2-63h0m0 70h0m1-67h0m0 13h0m0 71h0m1-6h0m1 14h0m1-91h0m0 40h0m0 42h0m0 4h0m4-52h0m1-34h0m0 79h0m1-81h0m0 8h0m0 47h0m0 1h0m2 26h0m0 95h0m1-130h0m0 18h0m1-27h0m3 33h0m0 18h0m1-47h0m1-22h0m0 21h0m1-34h0m0 22h0m0 11h0m1-12h0m1 43h0m1 27h0m1-53h0m0 2h0m0 21h0m2-47h0m0 46h0m1-50h0m0 20h0m0 3h0m1 46h0m1-84h0m2 34h0m0 43h0m0 19h0m1-8h0m1-94h0m0 59h0m0 19h0m4 7h0m3-36h0m1 11h0m1-47h0m0 32h0m0 61h0m2-38h0m1-69h0m0 35h0m0 52h0m1-67h0m0 4h0m2-17h0m0 11h0m0 7h0m0 5h0m0 19h0m0 40h0m4-17h0m0 10h0m0 10h0m1 15h0m1-46h0m0 3h0m1-43h0m0 12h0m0 18h0m1-24h0m0 28h0m1-27h0m0 66h0m1 40h0m2-90h0m1-13h0m1-20h0m1 60h0m1-5h0m0 29h0m0 6h0m1-73h0m0 27h0m0 8h0m0 113h0m1-106h0m0 2h0m1-29h0m0 2h0m0 34h0m1-40h0m0 28h0m1-49h0m1-6h0m0 46h0m0 47h0m2-38h0m1-34h0m0 11h0m0 49h0m1-14h0m2-14h0m1 28h0m1-44h0m0 26h0m1-54h0m0 1h0m0 125h0m2-107h0m0 46h0m2-48h0m1-33h0m0 16h0m0 79h0m1-1h0m2-19h0m0 21h0m1-80h0m0 29h0m1 0h0m0 48h0m0 10h0m2-20h0m0 22h0m1-36h0m0 3h0m1-19h0m1-34h0m0 2h0m0 5h0m0 14h0m0 29h0m1-29h0m0 22h0m0 27h0m0 15h0m1-38h0m1-48h0m0 81h0m1-55h0m0 23h0m2-39h0m1-14h0m0 18h0m2 49h0m0 3h0m1-8h0m1-60h0m0 13h0m0 48h0m0 10h0m0 14h0m1-82h0m1-8h0m0 6h0m0 92h0m3-61h0m2-42h0m0 29h0m0 28h0m0 4h0m2-35h0m1-27h0m0 30h0m0 26h0m1-31h0m1 4h0m0 9h0m0 5h0m1 20h0m2-50h0m0 70h0m1-67h0m1 12h0m0 6h0m0 22h0m0 19h0m1-48h0m0 24h0m0 28h0m0 3h0m1-11h0m1 16h0m0 3h0m1-42h0m0 11h0m1-54h0m0 124h0m1-52h0m1-27h0m3 16h0m1-19h0m2 19h0m0 29h0m1-80h0m0 37h0m0 8h0m0 72h0m1-95h0m0 34h0m0 13h0m1-32h0m0 37h0m1-65h0m1-3h0m1-5h0m0 8h0m0 4h0m0 26h0m1-56h0m0 66h0m1-18h0m1 10h0m0 11h0m0 0h0m0 12h0m0 10h0m1-4h0m1-82h0m0 43h0m0 8h0m0 1h0m1-9h0m0 28h0m0 4h0m2-40h0m1-6h0m0 2h0m1-8h0m1 10h0m2 21h0m1-40h0m1 52h0" stroke="#000" stroke-width="3.5"/>
<path d="M143 138h0m2 7h0m0 20h0m1-23h0m0 1h0m1 61h0m1-23h0m14-29h0m0 11h0m2-1h0m8 11h0m6-14h0m27-6h0m5 5h0m4 1h0m59 4h0m4 81h0m4-104h0m1 15h0m2 4h0m7-27h0m7 5h0m3 30h0m4-21h0m5 1h0m1-8h0m3 14h0m2 3h0m1 41h0m7-38h0m5 2h0m2-7h0m0 9h0m1-16h0m0 7h0m5-16h0m1 39h0m3-17h0m4-5h0m0 1h0m1-23h0m0 8h0m9 54h0m4-24h0m2-18h0m1 13h0m5-2h0m1-8h0m2-6h0m8 14h0m1 0h0m1 3h0m3-25h0m2 24h0m0 19h0m2 5h0m1-17h0m1 3h0m1-42h0m0 29h0m1-23h0m0 23h0m1 9h0m1-30h0m0 41h0m1-56h0m2 70h0m1-13h0m1 10h0m2 0h0m1 52h0m2-68h0m1-22h0m1-22h0m0 47h0m1-55h0m1 38h0m0 2h0m1-40h0m0 16h0m2 23h0m0 26h0m2-61h0m0 12h0m0 4h0m1 47h0m2-37h0m1 47h0m1-37h0m1 122h0m1-148h0m3 99h0m1-70h0m0 2h0m0 29h0m1-31h0m2-33h0m0 20h0m0 18h0m0 26h0m2-75h0m2 25h0m1-16h0m0 17h0m1 31h0m1-25h0m0 0h0m5-31h0m0 70h0m3-25h0m1-38h0m1 14h0m1 38h0m0 5h0m0 10h0m4-18h0m2-17h0m0 33h0m1-60h0m1 10h0m1 6h0m1 3h0m2 68h0m2-57h0m0 0h0m1-24h0m1 61h0m10-44h0m1-11h0m1 46h0m1-4h0m2-21h0m7 0h0m14-7h0m9-12h0m2 4h0m3 31h0m1 2h0m2 2h0m1-18h0m3-8h0m10 34h0m4-6h0m2-19h0m3 26h0m3-49h0m0 34h0m1-40h0m6 77h0m3-43h0m1-17h0m6 41h0m0 9h0m1-67h0m3 5h0m0 42h0m5 5h0m9 2h0m2-19h0m4 20h0m6-56h0m0 11h0m1 10h0m0 10h0m0 5h0m2 9h0m0 11h0m3-17h0m4-18h0m0 32h0m2-33h0m3 20h0m2 3h0m1-46h0m1 0h0m0 64h0m3 1h0m4 9h0m1-74h0m6 48h0m0 2h0m14-21h0m1-10h0m6-30h0m2 18h0m7 11h0m0 43h0m2-1h0m1 7h0m3-42h0m0 30h0m1-20h0m5 4h0m0 1h0m0 27h0m1-39h0m5 25h0m1-7h0m1 8h0m3-17h0m4-12h0m5 45h0m4-47h0m0 55h0m1-44h0m0 21h0m2-10h0m1 22h0m5-20h0m3 8h0m2-27h0m2 35h0m2-51h0m0 59h0m1-54h0m3 88h0m1-74h0m2-15h0m0 38h0m13-21h0m1-9h0m1-12h0m0 3h0m4 1h0m4 26h0m1-14h0m5 24h0m1-12h0m1-30h0m7 35h0m1-10h0m1 19h0m4-36h0m4 52h0m3-67h0m0 16h0m0 14h0m3 38h0m3-24h0m0 9h0m7-17h0m5 37h0m2-32h0m0 9h0m2-30h0m4 58h0m3-53h0m2-10h0m10 54h0m4 3h0m1-20h0m0 4h0m1 16h0m1-26h0m1-28h0m1 38h0m1-34h0m0 6h0m1 21h0m7-37h0m2 43h0m2-46h0m4 1h0m6 67h0m2-1h0m1-58h0m0 46h0m1-22h0m1-1h0m0 12h0m1 4h0m0 13h0m0 1h0m1-46h0m0 2h0m0 27h0m2-23h0m1 26h0m1 17h0m2-3h0m3-30h0m1-3h0m4 7h0m3-36h0m5 2h0m1 64h0m1-61h0m0 35h0m2 10h0m1-17h0m7 8h0m3-41h0m9 39h0m2-6h0m1-32h0m0 29h0m1 23h0m1-17h0m16-25h0m6-19h0m0 30h0m2-18h0m1 24h0m3 30h0m0 6h0m7-35h0m0 8h0m1 57h0m5-15h0m3-64h0m3-3h0m2 1h0m1-17h0m0 54h0m3-9h0m0 19h0m2-46h0m1 32h0m0 8h0m2-28h0m3-21h0m0 22h0m3 7h0m1 41h0m1-36h0m0 73h0m2-89h0m1 4h0m0 6h0m2 16h0m5-49h0m0 20h0m1 2h0m2 38h0m7-29h0m2-35h0m1 8h0m1 31h0m5-11h0m3-13h0m0 3h0m2 51h0m2-52h0m0 56h0m1 3h0m2-44h0m2 109h0m2-114h0m1 46h0m2-31h0m2-3h0m1-11h0m0 4h0m0 0h0m1-34h0m1 48h0m2-11h0m2 33h0m0 0h0m3-59h0m2 69h0m1-49h0m2 6h0m2 37h0m4-22h0m1-12h0m0 17h0m3-43h0m0 14h0m1-10h0m1 47h0m1-5h0m3-36h0m2 16h0m1-48h0m0 58h0m5-28h0m0 57h0m3-80h0m1 51h0m1 26h0m0 2h0m2-21h0m0 1h0m2-68h0m0 8h0m0 77h0m1-70h0m0 111h0m2-126h0m0 31h0m1 45h0m2-55h0m1 54h0m1-8h0m1-71h0m0 2h0m0 31h0m0 53h0m1-29h0m3 26h0m4-51h0m1 43h0m6 6h0m1-57h0m0 145h0m1-121h0m1-16h0m2 4h0m1 39h0m1 62h0m1-76h0m1-41h0m0 10h0m0 19h0m0 29h0m0 10h0m1-47h0m0 51h0m1-54h0m1 48h0m1-70h0m2 41h0m1 28h0m1-85h0m0 60h0m1-33h0m0 1h0m1-26h0m1 93h0m1-99h0m2-4h0m0 63h0m1 33h0m1-86h0m1 4h0m0 83h0m1-62h0m0 52h0m2-48h0m1 155h0m2-201h0m0 51h0m1 14h0m2-38h0m3 14h0m1-1h0m1 56h0m1-42h0m0 48h0m2-63h0m0 38h0m8-46h0m4 19h0m1 19h0m0 11h0m2-32h0m1 59h0m1-44h0m0 31h0m2 6h0m0 7h0m2-7h0m0 10h0m2-80h0m2 14h0m1-34h0m0 103h0m2-57h0m2 21h0m0 30h0m2-71h0m0 73h0m0 46h0m1-71h0m7-44h0m0 33h0m2 101h0m1-147h0m1 49h0m1-25h0m0 46h0m0 8h0m3-67h0m3 84h0m2-45h0m1-44h0m0 3h0m1 23h0m1 14h0m2 121h0m2-161h0m0 39h0m7-34h0m0 80h0m2-72h0m0 48h0m0 9h0m2-27h0m5 9h0m0 77h0m2-127h0m4 13h0m0 2h0m2 68h0m1-51h0m0 27h0m0 20h0m1-19h0m1-6h0m0 2h0m2-13h0m0 4h0m2-41h0m5-13h0m1 4h0m0 46h0m2 29h0m1-20h0m0 52h0m1-124h0m1 84h0m1-19h0m4 18h0m1-54h0m0 3h0m1 9h0m1 25h0m2-29h0m0 40h0m1-28h0m2 6h0m2 1h0m1-25h0m2 19h0m1-34h0m1 42h0m1-13h0m2 34h0m0 105h0m1-119h0m0 22h0m3-31h0m1 22h0m5-26h0m1-11h0m1 22h0m1 36h0m1 0h0m5-13h0m4-33h0" stroke="#000" stroke-width="4"/>
<path d="M147 137h0m1 58h0m2-31h0m18-7h0m6 3h0m9 8h0m26-1h0m5-21h0m9 10h0m61 33h0m2 34h0m14-87h0m0 11h0m26 5h0m7 68h0m4-67h0m2-7h0m0 7h0m3-32h0m3 23h0m17-2h0m0 10h0m0 17h0m2-11h0m0 51h0m2-48h0m0 3h0m1-9h0m3 4h0m2-6h0m1 12h0m5-29h0m7 3h0m0 2h0m1 14h0m0 5h0m0 18h0m2-30h0m1-13h0m0 12h0m0 27h0m1 20h0m0 4h0m1-41h0m0 1h0m1-13h0m1 37h0m0 10h0m1-52h0m0 11h0m0 5h0m2-24h0m0 37h0m1-23h0m0 26h0m1-7h0m1-30h0m0 8h0m1 22h0m0 17h0m1 11h0m1-3h0m3-41h0m0 8h0m1-8h0m0 30h0m1-37h0m0 39h0m1-53h0m0 30h0m0 3h0m0 28h0m2-34h0m1 0h0m0 32h0m1-50h0m0 52h0m1-66h0m0 27h0m0 7h0m0 16h0m0 9h0m1-34h0m0 8h0m1 0h0m0 5h0m0 19h0m0 16h0m1-27h0m0 11h0m1-32h0m0 22h0m1-41h0m0 38h0m1-35h0m0 43h0m0 2h0m4-47h0m0 5h0m0 16h0m0 35h0m1-56h0m2 46h0m1 88h0m1-92h0m2 4h0m0 26h0m1-72h0m0 46h0m0 3h0m0 15h0m1-12h0m1-52h0m0 36h0m2-16h0m0 13h0m2-31h0m0 48h0m1-33h0m0 31h0m2-30h0m3 23h0m4-16h0m1 30h0m1-19h0m2-25h0m0 20h0m0 15h0m1 0h0m1-47h0m3 56h0m1-21h0m4-19h0m1 51h0m2-59h0m0 54h0m1-14h0m0 3h0m0 14h0m1-12h0m1-9h0m2-43h0m1 43h0m6 5h0m0 6h0m1-21h0m0 31h0m2-12h0m5 22h0m6-15h0m2 13h0m1-19h0m0 22h0m6-2h0m1-54h0m4 23h0m0 18h0m2-7h0m5-9h0m1-5h0m3 115h0m2-69h0m3-18h0m6-49h0m1 13h0m2 55h0m1-5h0m4-59h0m2 5h0m0 4h0m1 8h0m13 56h0m1-74h0m8 4h0m1 8h0m2-12h0m0 85h0m3-84h0m1-7h0m2 31h0m0 23h0m3-57h0m2 66h0m0 9h0m4-65h0m1 10h0m1 10h0m2-9h0m1 38h0m1-10h0m1-8h0m5-21h0m6-4h0m1 15h0m1 31h0m3-61h0m7 25h0m0 20h0m7-11h0m1 12h0m5-37h0m1-2h0m0 58h0m4-38h0m1 11h0m4-42h0m3 16h0m0 28h0m5-2h0m1 16h0m1-43h0m0 18h0m3-9h0m5 5h0m11 10h0m10-2h0m1 1h0m5 36h0m2-35h0m1 42h0m1-28h0m3-1h0m4 0h0m3-15h0m2-4h0m0 14h0m3-31h0m0 25h0m0 17h0m1-27h0m2-14h0m2 38h0m2 24h0m1-28h0m4-20h0m0 30h0m0 18h0m7-50h0m0 12h0m1-29h0m0 17h0m1 17h0m0 9h0m1 9h0m6-47h0m5 37h0m2 3h0m0 4h0m4-60h0m4 46h0m2-33h0m2 9h0m3-8h0m7 4h0m14 0h0m0 41h0m5-41h0m2-7h0m11 18h0m0 4h0m2 40h0m9-35h0m4 17h0m0 12h0m4-41h0m1 5h0m2 1h0m2 9h0m3-26h0m1 40h0m0 2h0m0 9h0m3-48h0m0 22h0m10-24h0m2 32h0m3-39h0m9 14h0m4 1h0m0 20h0m6 10h0m5-41h0m0 4h0m4 15h0m4 0h0m0 3h0m1 7h0m2-16h0m4-9h0m2 12h0m5-3h0m2 52h0m1-46h0m0 8h0m5 28h0m5 9h0m0 2h0m3-12h0m5-9h0m3-21h0m3-24h0m0 42h0m5-30h0m1-4h0m4 12h0m3 40h0m11-41h0m1 42h0m5-53h0m3 19h0m0 27h0m1-58h0m1 19h0m0 47h0m1-47h0m2 35h0m1-38h0m2 16h0m1-11h0m0 35h0m3-7h0m1-13h0m7 5h0m2 83h0m1-101h0m2 11h0m2 19h0m3-29h0m0 0h0m1 22h0m1 15h0m3-32h0m1 26h0m1-16h0m3-45h0m0 36h0m1 16h0m4 6h0m0 26h0m1-17h0m1-2h0m1-37h0m0 8h0m1 7h0m0 16h0m1-38h0m1-5h0m9 16h0m2 22h0m1-15h0m3 25h0m3-65h0m0 66h0m2-54h0m5 68h0m1-32h0m0 19h0m2-20h0m6-36h0m3 2h0m5 27h0m1-11h0m4 43h0m4-34h0m2-6h0m3 11h0m1 34h0m1-47h0m0 40h0m2-59h0m0 22h0m0 11h0m1 10h0m1-1h0m5-32h0m0 23h0m0 8h0m1-55h0m0 2h0m0 7h0m1 37h0m5 37h0m1-53h0m1 46h0m0 11h0m1-88h0m2 42h0m0 8h0m2-35h0m0 1h0m2 22h0m1-46h0m0 12h0m1 30h0m3 1h0m3 15h0m1-42h0m0 38h0m1-47h0m1 91h0m1-84h0m1-6h0m0 21h0m0 68h0m1-8h0m1-13h0m1-76h0m3 48h0m2 38h0m1-11h0m0 14h0m1-89h0m0 25h0m0 55h0m3-1h0m1-11h0m0 6h0m1-59h0m0 22h0m0 22h0m1-56h0m0 25h0m0 22h0m0 80h0m2-86h0m0 30h0m0 37h0m2-103h0m0 21h0m1-33h0m0 67h0m6-25h0m0 20h0m1-25h0m0 43h0m0 8h0m1-84h0m0 1h0m0 41h0m3-26h0m0 35h0m0 4h0m1-66h0m2 40h0m0 63h0m1-70h0m0 42h0m0 33h0m1-50h0m0 5h0m0 49h0m1-88h0m1 23h0m1-13h0m0 56h0m3-49h0m1 41h0m0 21h0m1-29h0m1-26h0m0 6h0m0 24h0m3-52h0m0 17h0m1 47h0m1-67h0m0 16h0m0 67h0m2-37h0m1-24h0m0 23h0m1-23h0m1 65h0m1-22h0m0 9h0m6-75h0m1 12h0m0 28h0m0 76h0m2-108h0m0 72h0m3-12h0m1-33h0m1-12h0m1 44h0m0 6h0m1-31h0m4 38h0m1 10h0m1-24h0m1-5h0m0 13h0m1 8h0m1-37h0m2 4h0m2-33h0m0 17h0m2-21h0m0 13h0m0 36h0m0 11h0m0 2h0m1-59h0m0 43h0m0 15h0m1 66h0m1-106h0m0 31h0m1 1h0m0 3h0m2-56h0m0 15h0m2-5h0m0 18h0m4 10h0m0 29h0m1-66h0m0 77h0m6-76h0m2 1h0m1 59h0m1-62h0m0 34h0m0 8h0m1-10h0m0 31h0m1-31h0m3 10h0m1-14h0m0 105h0m1-91h0m1 34h0m1-51h0m0 38h0m3-47h0m2 23h0m0 29h0m1-34h0m1 5h0m1 35h0m1-90h0m0 45h0m2 6h0m1 23h0m2 11h0m2-71h0m0 23h0m2-22h0m0 73h0m2 1h0m4-15h0m1 3h0m1-40h0m1-19h0m0 25h0m1-19h0m0 72h0m2-36h0m1 19h0m1-1h0m0 28h0m3-24h0m1 7h0m2-74h0m0 8h0m1 42h0m3-40h0m1 40h0m4 4h0m1-4h0m2 21h0m2-49h0m4-17h0m0 26h0m1 34h0m1-17h0m1-45h0m1-5h0m0 37h0m1-32h0m1 61h0m1-7h0m2-23h0m3-21h0m0 15h0m1-15h0" stroke="#000" stroke-width="4.5"/>
<path d="M227 240h0m49-86h0m9 89h0m4-20h0m14-39h0m10-31h0m12 1h0m10 70h0m4-2h0m7-68h0m1 7h0m1-14h0m0 19h0m4 0h0m5-13h0m1-22h0m0 44h0m7 41h0m0 26h0m7-109h0m12 95h0m15-34h0m9-58h0m3 56h0m18-55h0m9 2h0m3 120h0m1-59h0m5-37h0m2 27h0m2 63h0m1-68h0m2-52h0m21 60h0m5-43h0m4 141h0m9-136h0m3 51h0m0 86h0m12-97h0m11 55h0m15-56h0m9-30h0m14 55h0m1-7h0m2-20h0m2-47h0m5 32h0m7 33h0m35-54h0m2-10h0m15 14h0m1-16h0m0 79h0m7-21h0m9-39h0m6 40h0m1-9h0m11-24h0m12-10h0m18 19h0m1 144h0m13-127h0m5 18h0m2-58h0m18 49h0m29-11h0m2-21h0m8 33h0m4 10h0m4-39h0m4-9h0m4 41h0m2-24h0m15 2h0m27-9h0m6 20h0m7-4h0m1-40h0m17 46h0m6 9h0m15 0h0m6-50h0m2 36h0m12-24h0m1 39h0m9 0h0m2-42h0m17 30h0m2 28h0m6-80h0m1 113h0m3-98h0m1 20h0m4 19h0m2-36h0m4 21h0m1-27h0m9-13h0m10 163h0m5-107h0m1-45h0m3 29h0m7 1h0m0 4h0m9 31h0m1-49h0m8 9h0m0 4h0m12-26h0m1 37h0m4-40h0m1 162h0m5-153h0m9 49h0m2 12h0m1-21h0m4-54h0m11 48h0m4-28h0m3 4h0m4-34h0m0 66h0m3 12h0m5-43h0m0 74h0m6-92h0m2 66h0m3-12h0m8-68h0m2 58h0m2-56h0m2-13h0m0 29h0m1-20h0m0 18h0m0 52h0m3-55h0m1 46h0m1-28h0m6 8h0m1 17h0m5-66h0m7 57h0m7-13h0m2 32h0m1 109h0m1-51h0m6-95h0m4-19h0m0 18h0m1 25h0m9 12h0m4-36h0m2 20h0m4-29h0m3-2h0m7 53h0m2-17h0m6-24h0m0 144h0m1-113h0m4-47h0m0 55h0m4-5h0m1-4h0m1-64h0m0 42h0m1-10h0m0 14h0m0 1h0m1 45h0m1-24h0m4-36h0m0 135h0m1-86h0m7-11h0m5 4h0m6-57h0m2 7h0m1 58h0m4-38h0m4-27h0m3 18h0m2 36h0m3-23h0m0 42h0m9-32h0m3 24h0m5 43h0m1-79h0m5 28h0m0 108h0m1-123h0m8-35h0" stroke="#000" stroke-width="5.8"/>
<path d="M146 250h0m2-55h0m72 103h0m28-101h0m56 41h0m14-107h0m13 26h0m25 1h0m5-29h0m9 6h0m5 27h0m3 46h0m3 11h0m2-28h0m1 78h0m7-15h0m12-81h0m3-31h0m3 2h0m2 10h0m5 68h0m5-25h0m11-48h0m15 88h0m5-60h0m4-54h0m2 16h0m0 11h0m3 57h0m11 79h0m7-116h0m9-19h0m0 31h0m7 45h0m17-81h0m24 35h0m8-4h0m16-24h0m3 18h0m3 78h0m46-100h0m16 30h0m22-3h0m11 75h0m16-74h0m16 93h0m7-127h0m5 36h0m21 11h0m10 89h0m5-56h0m5-32h0m7 25h0m7-12h0m17-60h0m25 55h0m5-40h0m1 27h0m7 107h0m3-118h0m0 35h0m10-52h0m16 65h0m2-77h0m11 17h0m2 23h0m2 129h0m5-105h0m4-31h0m2 33h0m11-11h0m6 6h0m15 18h0m4 6h0m12-20h0m9-29h0m8 28h0m3-45h0m5 48h0m1 1h0m3-36h0m8-9h0m18 46h0m6-61h0m13 40h0m7-30h0m3 2h0m12-5h0m2 52h0m13-44h0m0 36h0m21 1h0m11 9h0m3 83h0m8-152h0m3 108h0m1-49h0m4-36h0m1 111h0m3-125h0m7 29h0m5 2h0m4-17h0m0 70h0m2-26h0m1 17h0m4 75h0m18-100h0m3-43h0m2 53h0m2-36h0m1 49h0m13-20h0m2 20h0m14-21h0m5-40h0m1-10h0m0 20h0m1-16h0m3-15h0m2 70h0m0 66h0m2-124h0m6 153h0m1-184h0m16 21h0m0 111h0m5-46h0m4-51h0m0 36h0m1-16h0m2 7h0m5 1h0m3-6h0m9 50h0m0 84h0m1-143h0m7 20h0m0 12h0m1 95h0m7-110h0m3-44h0m0 12h0m16 23h0" stroke="#000" stroke-width="6.8"/>
<path d="M147 139h0m141 105h0m12-48h0m48-37h0m1-1h0m17-18h0m3 107h0m17 13h0m3-99h0m18 19h0m9-22h0m6 39h0m2 94h0m11-161h0m4 18h0m7 56h0m11-35h0m5 72h0m8-94h0m5-5h0m8 13h0m10-3h0m9 57h0m31 16h0m33 35h0m8-99h0m68 16h0m21 18h0m15-26h0m44-11h0m4 41h0m5-41h0m39 17h0m27 13h0m50-21h0m4 41h0m7-35h0m4 27h0m21-20h0m9-7h0m19-13h0m3 163h0m5-110h0m64-3h0m0 5h0m2-69h0m4 139h0m16-115h0m6 57h0m8-47h0m59-31h0m12 72h0m1 38h0m1-95h0m2-33h0m4 48h0m3 2h0m17-42h0m10 70h0m24-35h0m6-23h0m21 40h0m7 3h0m2-13h0m7 39h0m10-18h0m6-59h0m3 14h0m3 72h0m23-77h0m3 51h0m5-17h0m16 10h0m7-15h0" stroke="#000" stroke-width="7.8"/>
<path d="M352 146h0m5 22h0m27 105h0m17-99h0m0 63h0m38-20h0m1-58h0m3-30h0m7 54h0m67-36h0m74-1h0m30 175h0m7-143h0m42 16h0m83 16h0m3 36h0m112-52h0m28 118h0m62-161h0m15 127h0m45-66h0m32-22h0m3 100h0m11-114h0m7 6h0m39 138h0m26-84h0m10 29h0m23-32h0m4-64h0m19-18h0m15 32h0m19-26h0" stroke="#000" stroke-width="8.8"/>
<path d="M292 294h0m8-105h0m52-5h0m34-7h0m37-4h0m44-6h0m3 20h0m153-7h0m22-26h0m29 48h0m1-37h0m10 84h0m32-77h0m82-6h0m73 5h0m42 136h0m15-161h0m105 53h0m18-51h0m108 15h0m31 107h0m38-88h0m5 34h0m10-10h0m14-67h0" stroke="#000" stroke-width="9.8"/>
<path d="M332 185h0m44-34h0m54 16h0m78 59h0m106 61h0m28-78h0m117 64h0m68-109h0m93-20h0m17 13h0m39 126h0m22 26h0m14-131h0m86 68h0m14 75h0m90-1h0m39-49h0" stroke="#000" stroke-width="10.8"/>
<path d="M189 213h0m107 10h0m107-15h0m128 35h0m174-84h0m12 83h0m227-40h0m111-47h0m43 21h0m15 45h0m15-43h0m56 102h0" stroke="#000" stroke-width="11.8"/>
<path d="M115 241h0m340-77h0m119 104h0m469-98h0" stroke="#000" stroke-width="12.8"/>
<path d="M308 278h0m112-108h0m838 17h0" stroke="#000" stroke-width="13.8"/>
<path d="M408 282h0m794-52h0" stroke="#000" stroke-width="14.8"/>
<path d="M434 172h0m607 93h0" stroke="#000" stroke-width="15.8"/>
<path d="M479 209h0m615 83h0m41-115h0" stroke="#000" stroke-width="16.8"/>
<path d="M227 240h0m49-86h0m9 89h0m4-20h0m14-39h0m10-31h0m12 1h0m10 70h0m4-2h0m7-68h0m1 7h0m1-14h0m0 19h0m4 0h0m5-13h0m1-22h0m0 44h0m7 41h0m0 26h0m7-109h0m12 95h0m15-34h0m9-58h0m3 56h0m18-55h0m9 2h0m3 120h0m1-59h0m5-37h0m2 27h0m2 63h0m1-68h0m2-52h0m21 60h0m5-43h0m4 141h0m9-136h0m3 51h0m0 86h0m12-97h0m11 55h0m15-56h0m9-30h0m14 55h0m1-7h0m2-20h0m2-47h0m5 32h0m7 33h0m35-54h0m2-10h0m15 14h0m1-16h0m0 79h0m7-21h0m9-39h0m6 40h0m1-9h0m11-24h0m12-10h0m18 19h0m1 144h0m13-127h0m5 18h0m2-58h0m18 49h0m29-11h0m2-21h0m8 33h0m4 10h0m4-39h0m4-9h0m4 41h0m2-24h0m15 2h0m27-9h0m6 20h0m7-4h0m1-40h0m17 46h0m6 9h0m15 0h0m6-50h0m2 36h0m12-24h0m1 39h0m9 0h0m2-42h0m17 30h0m2 28h0m6-80h0m1 113h0m3-98h0m1 20h0m4 19h0m2-36h0m4 21h0m1-27h0m9-13h0m10 163h0m5-107h0m1-45h0m3 29h0m7 1h0m0 4h0m9 31h0m1-49h0m8 9h0m0 4h0m12-26h0m1 37h0m4-40h0m1 162h0m5-153h0m9 49h0m2 12h0m1-21h0m4-54h0m11 48h0m4-28h0m3 4h0m4-34h0m0 66h0m3 12h0m5-43h0m0 74h0m6-92h0m2 66h0m3-12h0m8-68h0m2 58h0m2-56h0m2-13h0m0 29h0m1-20h0m0 18h0m0 52h0m3-55h0m1 46h0m1-28h0m6 8h0m1 17h0m5-66h0m7 57h0m7-13h0m2 32h0m1 109h0m1-51h0m6-95h0m4-19h0m0 18h0m1 25h0m9 12h0m4-36h0m2 20h0m4-29h0m3-2h0m7 53h0m2-17h0m6-24h0m0 144h0m1-113h0m4-47h0m0 55h0m4-5h0m1-4h0m1-64h0m0 42h0m1-10h0m0 14h0m0 1h0m1 45h0m1-24h0m4-36h0m0 135h0m1-86h0m7-11h0m5 4h0m6-57h0m2 7h0m1 58h0m4-38h0m4-27h0m3 18h0m2 36h0m3-23h0m0 42h0m9-32h0m3 24h0m5 43h0m1-79h0m5 28h0m0 108h0m1-123h0m8-35h0" stroke="#e8e8e8" stroke-width="1.8"/>
<path d="M146 250h0m2-55h0m72 103h0m28-101h0m56 41h0m14-107h0m13 26h0m25 1h0m5-29h0m9 6h0m5 27h0m3 46h0m3 11h0m2-28h0m1 78h0m7-15h0m12-81h0m3-31h0m3 2h0m2 10h0m5 68h0m5-25h0m11-48h0m15 88h0m5-60h0m4-54h0m2 16h0m0 11h0m3 57h0m11 79h0m7-116h0m9-19h0m0 31h0m7 45h0m17-81h0m24 35h0m8-4h0m16-24h0m3 18h0m3 78h0m46-100h0m16 30h0m22-3h0m11 75h0m16-74h0m16 93h0m7-127h0m5 36h0m21 11h0m10 89h0m5-56h0m5-32h0m7 25h0m7-12h0m17-60h0m25 55h0m5-40h0m1 27h0m7 107h0m3-118h0m0 35h0m10-52h0m16 65h0m2-77h0m11 17h0m2 23h0m2 129h0m5-105h0m4-31h0m2 33h0m11-11h0m6 6h0m15 18h0m4 6h0m12-20h0m9-29h0m8 28h0m3-45h0m5 48h0m1 1h0m3-36h0m8-9h0m18 46h0m6-61h0m13 40h0m7-30h0m3 2h0m12-5h0m2 52h0m13-44h0m0 36h0m21 1h0m11 9h0m3 83h0m8-152h0m3 108h0m1-49h0m4-36h0m1 111h0m3-125h0m7 29h0m5 2h0m4-17h0m0 70h0m2-26h0m1 17h0m4 75h0m18-100h0m3-43h0m2 53h0m2-36h0m1 49h0m13-20h0m2 20h0m14-21h0m5-40h0m1-10h0m0 20h0m1-16h0m3-15h0m2 70h0m0 66h0m2-124h0m6 153h0m1-184h0m16 21h0m0 111h0m5-46h0m4-51h0m0 36h0m1-16h0m2 7h0m5 1h0m3-6h0m9 50h0m0 84h0m1-143h0m7 20h0m0 12h0m1 95h0m7-110h0m3-44h0m0 12h0m16 23h0" stroke="#e8e8e8" stroke-width="2.8"/>
<path d="M147 139h0m141 105h0m12-48h0m48-37h0m1-1h0m17-18h0m3 107h0m17 13h0m3-99h0m18 19h0m9-22h0m6 39h0m2 94h0m11-161h0m4 18h0m7 56h0m11-35h0m5 72h0m8-94h0m5-5h0m8 13h0m10-3h0m9 57h0m31 16h0m33 35h0m8-99h0m68 16h0m21 18h0m15-26h0m44-11h0m4 41h0m5-41h0m39 17h0m27 13h0m50-21h0m4 41h0m7-35h0m4 27h0m21-20h0m9-7h0m19-13h0m3 163h0m5-110h0m64-3h0m0 5h0m2-69h0m4 139h0m16-115h0m6 57h0m8-47h0m59-31h0m12 72h0m1 38h0m1-95h0m2-33h0m4 48h0m3 2h0m17-42h0m10 70h0m24-35h0m6-23h0m21 40h0m7 3h0m2-13h0m7 39h0m10-18h0m6-59h0m3 14h0m3 72h0m23-77h0m3 51h0m5-17h0m16 10h0m7-15h0" stroke="#e8e8e8" stroke-width="3.8"/>
<path d="M352 146h0m5 22h0m27 105h0m17-99h0m0 63h0m38-20h0m1-58h0m3-30h0m7 54h0m67-36h0m74-1h0m30 175h0m7-143h0m42 16h0m83 16h0m3 36h0m112-52h0m28 118h0m62-161h0m15 127h0m45-66h0m32-22h0m3 100h0m11-114h0m7 6h0m39 138h0m26-84h0m10 29h0m23-32h0m4-64h0m19-18h0m15 32h0m19-26h0" stroke="#e8e8e8" stroke-width="4.8"/>
<path d="M292 294h0m8-105h0m52-5h0m34-7h0m37-4h0m44-6h0m3 20h0m153-7h0m22-26h0m29 48h0m1-37h0m10 84h0m32-77h0m82-6h0m73 5h0m42 136h0m15-161h0m105 53h0m18-51h0m108 15h0m31 107h0m38-88h0m5 34h0m10-10h0m14-67h0" stroke="#b4b4b4" stroke-width="5.8"/>
<path d="M332 185h0m44-34h0m54 16h0m78 59h0m106 61h0m28-78h0m117 64h0m68-109h0m93-20h0m17 13h0m39 126h0m22 26h0m14-131h0m86 68h0m14 75h0m90-1h0m39-49h0" stroke="#b4b4b4" stroke-width="6.8"/>
<path d="M189 213h0m107 10h0m107-15h0m128 35h0m174-84h0m12 83h0m227-40h0m111-47h0m43 21h0m15 45h0m15-43h0m56 102h0" stroke="#b4b4b4" stroke-width="7.8"/>
<path d="M115 241h0m340-77h0m119 104h0m469-98h0" stroke="#b4b4b4" stroke-width="8.8"/>
<path d="M308 278h0m112-108h0m838 17h0" stroke="#b4b4b4" stroke-width="9.8"/>
<path d="M408 282h0m794-52h0" stroke="#b4b4b4" stroke-width="10.8"/>
<path d="M434 172h0m607 93h0" stroke="#b4b4b4" stroke-width="11.8"/>
<path d="M479 209h0m615 83h0m41-115h0" stroke="#b4b4b4" stroke-width="12.8"/></g>
<g transform="scale(.5)" stroke-linecap="round" fill="none"><path d="M111 265h0m22-37h0m11-71h0m4-6h0m7 5h0m2 9h0m4-16h0m2 6h0m6 8h0m0 20h0m4 31h0m1-25h0m3-31h0m32-4h0m0 30h0m24 105h0m35-109h0m13-25h0m2-18h0m0 8h0m0 4h0m1 11h0m31 5h0m4-36h0m4 15h0m2 15h0m2 2h0m1 6h0m7-31h0m2 11h0m0 57h0m3-44h0m6-4h0m4 10h0m1-23h0m0 1h0m4 15h0m1 5h0m1-2h0m3 5h0m2-28h0m1 3h0m0 15h0m1-21h0m5 20h0m2 17h0m4-14h0m1 7h0m1 109h0m1-135h0m5 8h0m1 13h0m1 16h0m1-31h0m0 37h0m1 38h0m1-66h0m1 9h0m0 5h0m1-43h0m0 60h0m0 18h0m1-34h0m0 14h0m0 110h0m0 1h0m1-65h0m1-89h0m0 153h0m2-134h0m0 3h0m0 36h0m1-42h0m1-18h0m0 1h0m0 5h0m1 20h0m1 30h0m1-68h0m0 55h0m1-25h0m0 26h0m1-58h0m0 16h0m0 14h0m1 20h0m2 13h0m1-39h0m1 50h0m2-63h0m0 9h0m0 12h0m0 34h0m0 8h0m1-3h0m3-31h0m0 45h0m1-34h0m1-12h0m1-28h0m1 16h0m0 9h0m1-18h0m1 39h0m0 112h0m1-122h0m1 2h0m0 11h0m1-1h0m1 9h0m1-48h0m0 0h0m0 17h0m0 36h0m1-48h0m1-3h0m0 2h0m1 5h0m0 19h0m1-17h0m1 22h0m0 1h0m1 2h0m0 11h0m1-51h0m7 0h0m9-7h0m4 3h0m2-5h0m2 36h0m1-7h0m2 29h0m1-24h0m0 24h0m3 8h0m2 4h0m3-35h0m1-5h0m3-6h0m1-9h0m1 12h0m1-19h0m6 22h0m4 16h0m1 23h0m1-41h0m2 28h0m0 12h0m1-52h0m13 21h0m8-15h0m1 48h0m3-17h0m11 11h0m3-9h0m0 8h0m2-14h0m6-1h0m1 1h0m1 25h0m1-53h0m0 8h0m0 41h0m5-27h0m3 5h0m10 20h0m6-41h0m5 27h0m7 18h0m1 5h0m3 19h0m4-69h0m4 12h0m0 10h0m1 30h0m1-34h0m11-26h0m0 34h0m1 14h0m1-43h0m2 13h0m7 26h0m3-3h0m1-7h0m5-13h0m1 21h0m2-20h0m0 29h0m1 7h0m2-59h0m3 36h0m1-14h0m1-40h0m1 46h0m2-7h0m5 34h0m5-45h0m8 45h0m2-43h0m3 32h0m3-4h0m2 3h0m1 11h0m2 0h0m1-40h0m0 7h0m0 25h0m2-29h0m1 19h0m2-25h0m2 65h0m1-59h0m0 42h0m2-24h0m1-10h0m3 6h0m1 2h0m3-33h0m1-6h0m0 32h0m2-1h0m2-8h0m1 16h0m0 7h0m1-1h0m0 25h0m1 1h0m1-60h0m1 12h0m0 2h0m9 43h0m3-16h0m4-37h0m1-13h0m1 8h0m4 20h0m5 37h0m2-36h0m4 5h0m2-26h0m0 26h0m5-11h0m0 25h0m2-16h0m0 26h0m0 17h0m4-52h0m2 29h0m1 7h0m5 11h0m0 8h0m5-52h0m9 5h0m1-27h0m1 7h0m3 21h0m1-24h0m2 20h0m2 26h0m4-30h0m3 32h0m1-32h0m1 19h0m2 5h0m3-17h0m2 1h0m1-29h0m2 20h0m6 7h0m3-4h0m5 2h0m5 27h0m0 7h0m2-4h0m2-29h0m9 148h0m4-165h0m1 2h0m0 49h0m1 5h0m4-15h0m1-29h0m1 7h0m3 35h0m1-60h0m1 54h0m3-1h0m1-28h0m0 13h0m0 20h0m6-43h0m2 26h0m4-7h0m0 29h0m1-30h0m9 20h0m1 4h0m3 5h0m9-30h0m1 37h0m1-67h0m0 39h0m0 10h0m2-47h0m0 5h0m1 45h0m2-41h0m3 51h0m1-43h0m1 36h0m1-43h0m2-3h0m4-4h0m1 42h0m1-29h0m1-12h0m0 0h0m5 53h0m3-34h0m1 23h0m3-13h0m2 22h0m1-63h0m0 16h0m0 19h0m0 12h0m5-8h0m2 14h0m1-18h0m1-16h0m1 16h0m5 29h0m1-54h0m2 71h0m4-46h0m1 22h0m2-24h0m0 32h0m6-49h0m1 32h0m1-41h0m0 22h0m2 10h0m0 32h0m4-66h0m0 63h0m1-15h0m2-24h0m1-27h0m0 73h0m1-70h0m1-8h0m1-14h0m3 43h0m0 2h0m1-20h0m4 30h0m0 3h0m3 23h0m1-50h0m2-5h0m2 5h0m5 126h0m2-73h0m5-40h0m2 29h0m0 1h0m1-34h0m0 2h0m1 55h0m3-44h0m1 26h0m1-31h0m3-8h0m0 123h0m1-109h0m1 30h0m1-40h0m1-1h0m2-9h0m5 30h0m1-46h0m0 43h0m1 24h0m2-66h0m3 26h0m2 29h0m2-6h0m2-30h0m1 51h0m1-31h0m0 20h0m2-15h0m1-43h0m0 38h0m4-21h0m1-15h0m3 56h0m1-53h0m0 83h0m1-76h0m0 59h0m5-71h0m3 150h0m2-182h0m1 25h0m1 49h0m1-5h0m0 27h0m1-69h0m0 71h0m3-58h0m0 8h0m0 11h0m0 27h0m0 10h0m1-61h0m2 17h0m2-3h0m0 46h0m0 91h0m2-133h0m0 68h0m2-96h0m2 25h0m1-54h0m0 60h0m0 5h0m4 16h0m0 21h0m4-65h0m3-14h0m0 34h0m0 16h0m1-48h0m1 41h0m1-35h0m0 41h0m2 28h0m1-80h0m0 67h0m1 52h0m2-75h0m0 9h0m2 4h0m0 26h0m2 36h0m1-66h0m1-25h0m1 47h0m1-51h0m0 6h0m0 30h0m2-42h0m0 129h0m1-62h0m1-71h0m0 15h0m0 51h0m6-66h0m4-29h0m0 67h0m0 25h0m1-66h0m0 9h0m0 40h0m3-14h0m1-14h0m1 11h0m0 42h0m1-59h0m3-26h0m0 15h0m0 0h0m0 4h0m1 34h0m0 13h0m6-13h0m2 25h0m1 18h0m1-57h0m1-55h0m3 108h0m1-23h0m0 28h0m2-31h0m0 29h0m3-70h0m1 8h0m2 18h0m1-7h0m0 7h0m1 19h0m3-41h0m1 48h0m4-18h0m2-45h0m0 84h0m1-49h0m1-27h0m0 14h0m1 17h0m0 46h0m1-73h0m0 55h0m1-14h0m3-15h0m2 22h0m1-19h0m2-43h0m1 40h0m0 59h0m1-76h0m0 10h0m4 13h0m4-31h0m2 50h0m0 8h0m3-76h0m0 66h0m1-37h0m0 12h0m0 16h0m2-10h0m1 4h0m0 82h0m1-60h0m1 2h0m1-32h0m1-24h0m0 41h0m4-31h0m5-6h0m0 16h0m0 15h0m1-6h0m0 12h0m0 32h0m1-56h0m2 22h0m0 3h0m0 5h0m1-23h0m1 20h0m2-49h0m3 71h0m0 17h0m1-38h0m1-21h0m1-9h0m1 26h0m0 8h0m1 18h0m2 11h0m8-37h0m2-28h0m1 2h0m1-32h0m3 13h0m0 33h0m1-22h0m1-25h0m0 9h0m0 16h0m0 4h0m1 30h0m1 11h0m1-19h0m1-7h0m0 14h0m2 24h0m2-56h0m0 16h0m1 36h0m1-34h0m1-16h0m1 9h0m0 39h0m0 89h0m1-117h0m0 35h0m1-72h0m1 54h0m1-33h0m1-3h0m1 12h0m2-25h0m1-8h0m0 83h0m1-35h0m1-26h0m0 31h0m3-45h0m0 69h0m1-18h0m1-49h0m0 67h0m2-54h0m1 7h0m0 5h0m1 6h0m0 5h0m1 26h0m3-76h0" stroke="#000" stroke-width="3"/>
<path d="M142 203h0m1-74h0m0 1h0m0 33h0m1-12h0m0 40h0m1-38h0m0 3h0m0 4h0m0 2h0m0 36h0m1-58h0m0 23h0m1-31h0m1 4h0m0 4h0m1 10h0m4 6h0m16 5h0m1-2h0m5 28h0m40-46h0m3 17h0m7 9h0m49-3h0m3-33h0m1 17h0m3-21h0m0 35h0m1-14h0m3 30h0m2-32h0m4-12h0m2 1h0m2 10h0m1-13h0m4 39h0m1-36h0m2-5h0m0 10h0m5-3h0m8 35h0m4-18h0m1-11h0m0 14h0m0 8h0m4-18h0m3-5h0m0 98h0m1-89h0m1-16h0m0 9h0m0 10h0m3-28h0m0 20h0m0 9h0m2-6h0m0 33h0m1-27h0m0 15h0m3-7h0m1-32h0m0 22h0m3-4h0m0 75h0m1-84h0m1 21h0m0 26h0m2-22h0m2-18h0m1-16h0m2 42h0m2-27h0m3 11h0m1-11h0m0 6h0m0 4h0m1-17h0m1 20h0m2-28h0m0 9h0m2 32h0m1-44h0m1 26h0m1-6h0m0 2h0m4-4h0m2-4h0m3-2h0m2 27h0m2-26h0m2 20h0m1-36h0m1 15h0m0 18h0m1 40h0m1-63h0m0 65h0m1-63h0m1 26h0m0 19h0m0 9h0m1-45h0m0 1h0m0 6h0m0 19h0m0 4h0m0 11h0m0 18h0m1-79h0m0 2h0m0 21h0m0 25h0m3-40h0m0 9h0m0 27h0m0 17h0m0 2h0m1-41h0m0 12h0m0 26h0m1-43h0m0 31h0m1-26h0m0 8h0m0 4h0m1-10h0m1-22h0m3 18h0m0 4h0m0 42h0m0 9h0m1-18h0m0 12h0m1-55h0m0 53h0m2-73h0m0 8h0m0 7h0m0 34h0m1-50h0m0 31h0m0 8h0m0 10h0m0 0h0m0 7h0m1-26h0m1 5h0m0 13h0m1-11h0m1-31h0m0 15h0m0 51h0m2 9h0m0 94h0m1-172h0m0 9h0m0 16h0m0 21h0m0 26h0m1-65h0m0 34h0m0 60h0m1-104h0m0 20h0m0 37h0m1-43h0m0 6h0m0 42h0m1-38h0m0 25h0m1-4h0m1 0h0m1-20h0m0 29h0m0 20h0m0 45h0m1-106h0m0 18h0m0 9h0m1-29h0m0 7h0m0 0h0m0 4h0m0 28h0m0 16h0m0 9h0m1-58h0m0 24h0m0 4h0m0 12h0m0 6h0m0 9h0m0 15h0m1-31h0m1-51h0m0 5h0m0 36h0m0 2h0m0 18h0m1-22h0m0 15h0m0 12h0m0 10h0m1-43h0m1 23h0m1-42h0m0 2h0m0 3h0m0 4h0m0 3h0m0 18h0m0 12h0m1-36h0m0 29h0m1-18h0m0 37h0m1-52h0m0 52h0m2-38h0m1-11h0m1 50h0m2-45h0m1 22h0m2 3h0m1-13h0m0 25h0m1-32h0m2 18h0m0 12h0m1-11h0m0 0h0m0 20h0m2-31h0m0 8h0m0 31h0m1-30h0m1-21h0m0 32h0m0 20h0m2-68h0m0 8h0m1 28h0m2-24h0m0 14h0m0 22h0m1-32h0m0 10h0m1 2h0m0 1h0m2-24h0m1 12h0m0 35h0m1-3h0m1-22h0m1 31h0m1-46h0m3-9h0m0 36h0m0 9h0m1-21h0m0 11h0m1 6h0m1 4h0m0 30h0m2-67h0m0 6h0m1 10h0m0 8h0m0 9h0m2-12h0m1 103h0m1-122h0m0 8h0m0 25h0m0 20h0m1-20h0m1-6h0m2-11h0m0 5h0m0 34h0m1-50h0m0 0h0m0 32h0m1 16h0m1-31h0m1-24h0m1 2h0m3 32h0m0 41h0m3-74h0m0 3h0m0 19h0m0 44h0m1-21h0m0 3h0m2 126h0m6-97h0m0 12h0m2-69h0m0 5h0m0 42h0m1-46h0m2-8h0m1-4h0m0 28h0m0 13h0m2-9h0m1 28h0m1-34h0m1-11h0m4-17h0m2 8h0m1 136h0m2-118h0m2-28h0m1 40h0m1-39h0m5 37h0m1-22h0m0 46h0m1-35h0m1 10h0m0 19h0m1-47h0m1-14h0m3 30h0m2-3h0m1 8h0m5-20h0m0 47h0m1-12h0m2 6h0m0 9h0m4-18h0m1-1h0m3-26h0m2 19h0m2-22h0m3-23h0m1 13h0m4 37h0m4-8h0m4-32h0m1 60h0m3-15h0m1-40h0m0 35h0m1-32h0m0 49h0m3-22h0m3-21h0m3 36h0m2-16h0m1 120h0m3-153h0m0 49h0m3-17h0m1-6h0m1-16h0m3-17h0m0 10h0m0 35h0m2-7h0m0 96h0m1-114h0m1 42h0m1-65h0m0 20h0m1-12h0m0 20h0m2 6h0m1 3h0m2 23h0m3-32h0m0 25h0m0 3h0m4-61h0m2 172h0m1-130h0m0 13h0m2-36h0m0 1h0m0 28h0m5 6h0m1 28h0m1-70h0m1 12h0m4-7h0m1 9h0m0 16h0m1 2h0m1-15h0m1 2h0m0 4h0m1 24h0m1-19h0m0 25h0m2-39h0m4-1h0m0 15h0m3 36h0m5-14h0m1-27h0m0 30h0m4-48h0m0 51h0m2-46h0m0 19h0m3 5h0m6 19h0m1-49h0m0 31h0m3 15h0m1-23h0m0 14h0m2 20h0m1-58h0m0 54h0m3-29h0m3-2h0m0 18h0m1-20h0m2-19h0m0 64h0m2-8h0m5-34h0m2-26h0m0 65h0m2-71h0m0 71h0m1-2h0m4-10h0m2 12h0m3 2h0m1-6h0m1-20h0m2-11h0m0 22h0m1-32h0m1-10h0m0 1h0m1-9h0m1 100h0m3-87h0m0 17h0m1 26h0m1-28h0m1 6h0m0 24h0m1-32h0m0 7h0m0 12h0m1-13h0m1-30h0m0 14h0m1 22h0m0 1h0m2-46h0m0 47h0m0 26h0m1-34h0m1 33h0m3-22h0m1-7h0m6-3h0m1-34h0m3 28h0m2 8h0m1 11h0m0 11h0m3-14h0m1-28h0m4 7h0m2 35h0m1 98h0m1-142h0m2 37h0m0 19h0m1-42h0m2 23h0m2-37h0m4 9h0m0 21h0m0 32h0m2-73h0m0 28h0m3-6h0m2 45h0m2-33h0m0 2h0m4-35h0m2 11h0m1 24h0m0 30h0m1-66h0m1 20h0m0 42h0m1-54h0m1 3h0m0 40h0m2-25h0m0 45h0m2-57h0m2 51h0m2-60h0m0 7h0m0 39h0m1-4h0m1 0h0m3 8h0m2-51h0m0 8h0m0 24h0m0 19h0m0 11h0m1-79h0m1 63h0m1-54h0m2 35h0m0 6h0m1-1h0m3-38h0m3 5h0m0 35h0m3-10h0m5-20h0m1 10h0m0 7h0m0 9h0m0 4h0m3-18h0m0 47h0m3-14h0m0 5h0m5-37h0m2 33h0m1-16h0m3-9h0m2 26h0m1-6h0m2-36h0m1 21h0m3-11h0m0 29h0m1-37h0m0 18h0m1 12h0m2-27h0m2 8h0m0 37h0m1-26h0m4 15h0m1-34h0m0 2h0m2-15h0m1-4h0m1 3h0m0 24h0m0 25h0m2-49h0m3 38h0m0 16h0m1-28h0m0 16h0m1-34h0m1 7h0m0 14h0m3-25h0m2-3h0m2-5h0m1 66h0m1-15h0m2-6h0m1 9h0m1-50h0m1-6h0m0 6h0m1-2h0m0 4h0m2 73h0m2-53h0m0 17h0m1-27h0m0 3h0m2-23h0m0 2h0m0 40h0m0 5h0m1-16h0m2-9h0m0 21h0m0 121h0m1-169h0m0 48h0m1-29h0m0 8h0m0 12h0m1 1h0m1-9h0m1-5h0m0 4h0m4 28h0m1-28h0m2 47h0m1-65h0m0 35h0m1 34h0m3-46h0m1-3h0m0 13h0m1 35h0m1-36h0m1-32h0m0 33h0m1-3h0m0 17h0m0 4h0m1-17h0m0 0h0m1 20h0m0 81h0m5-134h0m1 29h0m1 31h0m1-11h0m1-20h0m0 12h0m1-60h0m0 98h0m1-70h0m0 5h0m1 27h0m2 40h0m1-69h0m0 9h0m1-18h0m0 119h0m1-103h0m0 40h0m1-36h0m0 37h0m1-29h0m2-10h0m1-23h0m0 62h0m2 20h0m1-60h0m0 38h0m1-31h0m1-30h0m0 40h0m1 25h0m2-60h0m1 59h0m0 10h0m1-19h0m0 15h0m1-19h0m1-46h0m4-22h0m0 93h0m1-5h0m0 77h0m2-112h0m0 3h0m1-46h0m0 23h0m0 28h0m1-9h0m1-14h0m0 5h0m1-5h0m0 41h0m2-17h0m2-50h0m2 25h0m0 30h0m2-39h0m0 23h0m0 32h0m0 15h0m0 79h0m3-96h0m1-20h0m1 4h0m1 119h0m2-161h0m0 53h0m2-15h0m2-38h0m0 19h0m0 23h0m0 5h0m1-14h0m0 18h0m1-47h0m2-11h0m0 33h0m0 14h0m0 4h0m0 19h0m2-62h0m2-6h0m1 0h0m0 11h0m0 43h0m1-29h0m1 0h0m0 11h0m0 19h0m1-66h0m1 60h0m0 17h0m1-41h0m1 3h0m1-30h0m0 24h0m2 39h0m1 12h0m2-51h0m1 6h0m0 24h0m0 6h0m0 9h0m0 77h0m1-154h0m0 56h0m3 4h0m0 3h0m0 16h0m1-74h0m0 37h0m0 33h0m1-23h0m1-38h0m0 35h0m1-47h0m0 9h0m1 23h0m3-15h0m3 40h0m1-13h0m0 14h0m0 24h0m2-5h0m4-22h0m1-61h0m0 19h0m0 62h0m0 1h0m1-49h0m0 22h0m1-43h0m0 27h0m1-14h0m0 29h0m0 27h0m3-52h0m0 34h0m0 8h0m1-54h0m0 9h0m1-15h0m1-5h0m0 62h0m1-10h0m3-45h0m0 73h0m2-57h0m0 17h0m0 9h0m0 26h0m0 9h0m2-22h0m0 10h0m1-9h0m2-31h0m0 10h0m0 10h0m0 25h0m1-34h0m1-44h0m1 53h0m1-63h0m0 45h0m0 7h0m1-66h0m1 15h0m0 16h0m0 66h0m0 4h0m1-37h0m1-35h0m1 14h0m2-18h0m0 21h0m0 44h0m0 37h0m1-83h0m0 29h0m1-64h0m0 62h0m1 16h0m1-74h0m1 33h0m0 9h0m0 10h0m0 52h0m1-102h0m1 36h0m1-26h0m1 8h0m1 46h0m0 2h0m2-28h0m1-2h0m2-33h0m0 36h0m1 81h0m1-116h0m0 21h0m0 26h0m1-37h0m0 66h0m1-57h0m0 14h0m2-37h0m0 73h0m1-52h0m0 41h0m1-37h0m0 28h0m0 14h0m0 35h0m1-52h0m0 4h0m0 6h0m0 1h0m1-11h0m1-53h0m0 13h0m0 10h0m0 26h0m0 11h0m1-53h0m0 13h0m0 52h0m0 11h0m1-61h0m0 46h0m1-51h0m0 12h0m0 14h0m1-24h0m0 60h0m1-52h0m0 18h0m0 55h0m1-49h0m0 17h0m0 27h0m1-76h0m2 50h0m0 6h0m1 9h0m0 4h0m2-81h0m0 39h0m0 6h0m1-45h0m0 51h0m1-41h0m0 59h0m1-67h0m0 34h0m0 11h0m0 19h0m1-74h0m0 95h0m2-29h0m1-61h0m0 58h0m0 128h0m1-138h0m0 32h0m1-98h0m0 31h0m0 11h0m0 60h0m1-47h0m1-41h0m0 60h0m0 6h0m1-47h0m0 5h0m0 13h0m0 10h0m1-36h0m0 50h0m1-14h0m0 9h0m0 30h0m1-78h0m0 73h0m1-29h0m0 41h0m1-60h0m0 17h0m0 8h0m0 0h0m0 4h0m0 11h0m0 2h0m1-77h0m0 35h0m1-35h0m0 40h0m0 54h0m1-88h0m0 6h0m0 49h0m0 36h0m1-114h0m0 96h0m1-8h0m0 63h0m3-99h0m0 22h0m0 49h0m1-54h0m1 1h0m0 30h0m1-9h0m1-51h0m0 72h0m1-1h0m1-76h0m0 4h0m0 72h0m1-77h0m0 40h0m0 0h0m2-29h0m0 23h0m1-27h0m3-5h0m0 30h0m0 128h0m1-152h0m0 41h0m0 4h0m1 19h0m1-11h0m1-2h0m0 28h0m1-46h0m0 23h0m1-68h0m0 31h0m0 6h0m1-36h0m0 44h0m0 34h0m1-55h0m0 60h0m1-65h0m0 13h0m0 6h0m1 51h0m2-42h0m0 84h0m1-107h0m0 17h0m2 28h0m1-75h0m0 62h0m0 23h0m2-73h0m0 45h0m0 35h0m1-18h0m0 85h0m2-141h0m0 43h0m1 1h0m0 29h0m1-37h0m0 10h0m1-44h0m0 48h0m1 33h0m2-73h0m0 31h0m1-30h0m0 2h0m1 32h0m2-37h0m2 9h0m1 31h0m1 21h0m1-62h0m0 2h0m0 7h0m0 8h0m0 6h0m3 20h0m2-66h0m0 71h0m0 14h0m1-69h0m0 5h0m0 15h0m0 5h0m1-42h0m0 13h0m0 31h0m1-12h0m1-23h0m1 5h0m2-2h0m0 37h0m0 20h0m0 5h0m1-32h0m0 12h0m1 26h0m0 0h0m1 3h0m0 5h0m1-79h0m1 15h0m0 1h0m1 13h0m1-11h0m1 58h0m1-59h0m0 49h0m2-61h0m0 69h0m3-50h0m0 16h0m1-24h0m0 59h0m1-55h0m1-7h0m2 41h0m1 6h0m1-45h0m0 8h0m0 8h0m2 7h0m0 27h0m0 20h0m1-50h0m1-14h0m0 31h0m1-23h0m0 8h0m0 2h0m0 81h0m1-115h0m0 8h0m0 45h0m1-33h0m0 33h0m0 8h0m0 2h0m1-55h0m0 20h0m1 2h0m0 9h0m0 18h0m1-68h0m0 7h0m2 39h0m0 27h0m0 4h0m1-34h0m0 48h0m1-32h0m1-21h0m1-25h0m1-7h0m0 26h0m1 9h0m1-26h0m1-15h0m1 29h0m0 31h0m1-50h0m0 90h0m2-85h0m0 61h0m1-29h0m1-36h0m0 13h0m1 32h0m1-50h0m1 29h0m1-22h0m0 56h0m0 1h0m0 7h0m0 10h0m1-62h0m1-23h0m0 25h0m0 22h0m0 38h0m2-79h0m0 74h0m0 7h0m1 2h0m1-55h0m0 31h0m1-56h0m0 5h0m0 11h0m0 46h0m2-23h0m0 10h0m0 28h0m1-13h0m0 60h0m1-120h0m1 34h0m1 39h0m2-47h0m0 16h0m0 19h0m0 4h0m1-74h0m0 13h0m0 0h0m0 1h0m0 25h0m0 23h0m2-58h0m0 59h0m1-61h0m0 37h0m1-35h0m1 77h0m1-36h0m0 11h0m1-53h0m0 4h0m0 1h0m0 4h0m0 5h0m0 77h0m1-100h0m0 30h0m0 35h0" stroke="#000" stroke-width="3.5"/>
<path d="M145 134h0m0 8h0m1 2h0m0 48h0m1-63h0m0 27h0m0 12h0m0 7h0m1-49h0m0 18h0m0 15h0m0 18h0m0 2h0m3 3h0m5-10h0m1-5h0m8-5h0m6 1h0m23-2h0m9 4h0m12-12h0m3 7h0m16 54h0m39-81h0m3 21h0m3-4h0m1 67h0m7-67h0m9-27h0m4 17h0m1 12h0m1-8h0m2 26h0m9-38h0m2 29h0m2-23h0m3 28h0m7-18h0m3 2h0m5 4h0m0 11h0m2-31h0m2 9h0m1 4h0m1 1h0m9-18h0m2 40h0m0 7h0m1-18h0m8-26h0m4 3h0m3 7h0m2 1h0m1-12h0m0 14h0m3-1h0m1-3h0m0 68h0m3-67h0m4 13h0m0 16h0m1-29h0m0 15h0m1 14h0m1 71h0m1-105h0m1 111h0m1-73h0m1-32h0m0 15h0m0 2h0m1-10h0m1-12h0m1 107h0m1-104h0m0 4h0m0 18h0m2-8h0m1 27h0m0 5h0m0 3h0m1 6h0m1-7h0m1-45h0m1 12h0m1-26h0m0 39h0m0 64h0m1-82h0m0 42h0m1-35h0m0 9h0m1-18h0m0 8h0m0 6h0m1 12h0m1-49h0m0 53h0m1-37h0m1 5h0m1-13h0m0 0h0m1 41h0m2-36h0m2-5h0m0 10h0m1 41h0m2-21h0m0 5h0m0 8h0m1-44h0m0 38h0m1-25h0m1 1h0m0 25h0m2-52h0m0 7h0m2 20h0m1 36h0m1 2h0m1-38h0m0 70h0m1-85h0m1-10h0m0 36h0m0 3h0m1-8h0m0 15h0m0 10h0m2-37h0m0 23h0m2 73h0m1-34h0m1-72h0m0 7h0m1 25h0m4 16h0m0 18h0m2-68h0m2 45h0m7 4h0m0 4h0m0 12h0m1 13h0m3-70h0m1 46h0m1-26h0m2 10h0m0 61h0m3-51h0m1-28h0m1 40h0m1 97h0m1-125h0m1-8h0m0 23h0m2-27h0m0 12h0m0 30h0m0 39h0m0 22h0m2-123h0m0 2h0m0 65h0m1-49h0m0 4h0m0 18h0m1 7h0m0 40h0m1-58h0m1 23h0m1-14h0m5 10h0m9-31h0m9 26h0m2-11h0m11 16h0m4 30h0m10-13h0m1 10h0m13-10h0m2-47h0m0 23h0m1 43h0m3-72h0m1 49h0m2-41h0m1 60h0m2-47h0m3-14h0m0 43h0m0 3h0m9-1h0m3-48h0m4 30h0m2 1h0m0 15h0m2-33h0m4 17h0m0 3h0m4-38h0m4 14h0m3 49h0m2-33h0m4-16h0m1 18h0m3-40h0m0 55h0m2 12h0m11-31h0m0 21h0m1-18h0m2 33h0m5-34h0m6-1h0m3 42h0m3-43h0m3 3h0m9-30h0m9 64h0m3-32h0m4 35h0m3 3h0m2-74h0m1 72h0m7-27h0m2-41h0m1 56h0m3-29h0m1 15h0m2-16h0m5 45h0m5-69h0m1 57h0m5-18h0m1-24h0m0 26h0m3-14h0m1 8h0m6-18h0m4-12h0m4 6h0m5-5h0m0 37h0m1 4h0m7-8h0m0 33h0m1-46h0m2 28h0m2 55h0m3-101h0m4 37h0m4-19h0m2 42h0m1-37h0m4 25h0m3-32h0m1-23h0m3 48h0m1-22h0m3-6h0m5 1h0m3 25h0m6-14h0m1 26h0m1-42h0m1-13h0m2 37h0m1 17h0m2-58h0m12 25h0m4 52h0m6-17h0m1 9h0m1-43h0m0 36h0m14 1h0m3-3h0m3-37h0m0 48h0m1-56h0m0 17h0m4-17h0m2 25h0m2 11h0m2 11h0m8-22h0m1-10h0m2-27h0m0 37h0m1 14h0m4-8h0m1-5h0m4-42h0m1 66h0m3-59h0m3 0h0m1 39h0m3-42h0m1 50h0m1-28h0m1-28h0m0 45h0m1-19h0m7-10h0m1 22h0m1-6h0m2 35h0m4 4h0m1-57h0m1 143h0m2-103h0m3 16h0m3-31h0m3 17h0m1 51h0m1-80h0m2 1h0m2 2h0m2 48h0m1-79h0m1 70h0m0 8h0m1-56h0m0 35h0m2-43h0m1-11h0m2 47h0m3 107h0m1-123h0m2-22h0m5 110h0m1-110h0m4 22h0m1 21h0m2-35h0m0 21h0m1-2h0m0 12h0m1-1h0m1-38h0m0 31h0m3-8h0m10 4h0m2 118h0m1-98h0m1-34h0m3-16h0m3 8h0m3-2h0m1 20h0m0 20h0m1-41h0m0 3h0m2 49h0m7 2h0m9-45h0m2 47h0m1-47h0m0 119h0m3-63h0m3-51h0m2 3h0m1 13h0m2 21h0m1-68h0m2 44h0m6-25h0m3 38h0m2 1h0m1 2h0m2-59h0m0 37h0m1 27h0m0 22h0m4-36h0m0 64h0m3-71h0m1 24h0m2 17h0m2-68h0m0 2h0m11 0h0m0 34h0m2-34h0m4 1h0m0 1h0m0 152h0m2-168h0m0 53h0m1 4h0m2 32h0m1-66h0m1 29h0m0 6h0m3-6h0m0 5h0m2-10h0m0 2h0m2-5h0m2-19h0m1 18h0m0 9h0m1-48h0m0 29h0m1 8h0m2-24h0m0 30h0m1-7h0m2-26h0m0 62h0m1-82h0m0 58h0m1-24h0m2-33h0m0 2h0m0 33h0m1 0h0m2 7h0m0 91h0m1-128h0m1 18h0m1-4h0m0 47h0m0 7h0m1-46h0m0 31h0m0 35h0m1 37h0m1-121h0m0 6h0m1 8h0m0 111h0m1-138h0m0 1h0m0 15h0m6 51h0m1 10h0m1-25h0m1-53h0m1 104h0m2-89h0m0 19h0m1-16h0m3 52h0m0 4h0m2-63h0m1 8h0m2 4h0m0 60h0m0 1h0m4-34h0m1-28h0m1-3h0m1 62h0m0 13h0m1-97h0m0 65h0m0 26h0m1-63h0m0 49h0m1-56h0m0 72h0m2-14h0m0 11h0m0 12h0m4-89h0m0 85h0m2-46h0m1 4h0m1-65h0m0 1h0m0 22h0m1 2h0m1-9h0m0 75h0m1-43h0m0 63h0m1-37h0m1-39h0m2-15h0m0 41h0m0 30h0m1-2h0m2-73h0m1 34h0m0 7h0m3-8h0m0 38h0m2-11h0m1 22h0m1-50h0m0 1h0m1 8h0m1 43h0m0 11h0m2-18h0m0 6h0m4 102h0m1-170h0m0 35h0m1-12h0m1-13h0m1-9h0m0 31h0m0 29h0m0 1h0m1 5h0m3 7h0m2-56h0m1 2h0m1 34h0m1-11h0m2 0h0m2-53h0m1 22h0m1 43h0m2-38h0m0 39h0m1-6h0m3-18h0m4-15h0m2-30h0m0 61h0m4-62h0m0 35h0m0 1h0m2-13h0m4 15h0m0 28h0m1-7h0m2-36h0m1 15h0m4 42h0m2-4h0m1-64h0m2 17h0m2-20h0m3 10h0m0 13h0m2 58h0m3-58h0m0 116h0m1-80h0m0 28h0m1 7h0m1-24h0m5-44h0m0 16h0m1 50h0m4-66h0m4 29h0m3 34h0m1-72h0m0 25h0m2 13h0m1-40h0m2-39h0m1 69h0m0 73h0m3-70h0m1-41h0m0 2h0m0 46h0m0 31h0m1-70h0m1 6h0m1-27h0m0 3h0m0 60h0m2-32h0m0 33h0m0 51h0m1-36h0m3 11h0m2-71h0m0 69h0m4-69h0m1-10h0m1 16h0m1-32h0m0 79h0m0 13h0m1 15h0m1-81h0m0 18h0" stroke="#000" stroke-width="4"/>
<path d="M93 171h0m50-22h0m1-6h0m0 2h0m1-2h0m1-16h0m0 26h0m1 32h0m1-7h0m3-15h0m0 0h0m3-7h0m9 1h0m18-4h0m12 59h0m23-57h0m1 0h0m57-10h0m7-11h0m10 23h0m1-8h0m4-15h0m7 32h0m8-29h0m14 12h0m7-23h0m0 32h0m1 63h0m2-75h0m3 21h0m2-30h0m9 21h0m3-30h0m2-4h0m5 10h0m2 16h0m1-8h0m12 51h0m4-46h0m3 5h0m1-11h0m2 1h0m0 14h0m0 10h0m0 38h0m1-43h0m0 27h0m1-29h0m2-24h0m2-2h0m1 11h0m1 14h0m1 29h0m0 18h0m1-60h0m0 26h0m1-51h0m0 27h0m0 96h0m1-125h0m1 72h0m1-71h0m0 41h0m0 8h0m0 25h0m2-49h0m0 3h0m1-9h0m1 2h0m0 24h0m1 12h0m1-24h0m3-6h0m1 9h0m0 2h0m2 2h0m0 18h0m0 2h0m0 8h0m1-30h0m1-17h0m0 23h0m1-7h0m1 43h0m1-28h0m1 19h0m1-45h0m1 45h0m1-40h0m0 3h0m2 33h0m4-57h0m2 55h0m1-35h0m0 34h0m2-57h0m1 25h0m1 20h0m0 23h0m4-28h0m9-26h0m2 63h0m1-42h0m0 11h0m4-27h0m4-4h0m0 36h0m1-38h0m1 12h0m0 37h0m2-25h0m1-23h0m7 25h0m1 7h0m0 38h0m2-55h0m0 35h0m2-2h0m1-30h0m1 6h0m1-16h0m2 10h0m2 7h0m2-14h0m0 11h0m2 8h0m16-14h0m0 1h0m1 46h0m5-22h0m4 43h0m5-55h0m0 34h0m2-1h0m2-7h0m2-35h0m7 11h0m0 22h0m2-23h0m3 27h0m1 7h0m1-50h0m0 12h0m1 22h0m1 30h0m2-51h0m1-16h0m8 44h0m1 17h0m2-44h0m1-15h0m11 37h0m1 3h0m2-5h0m1 10h0m1-4h0m0 75h0m7-83h0m2-3h0m2-7h0m0 25h0m1 17h0m3-47h0m2-9h0m10 15h0m3 18h0m4-51h0m1 22h0m11 1h0m1-15h0m2 22h0m1-2h0m1-16h0m3 16h0m3 17h0m0 1h0m0 58h0m1-92h0m0 12h0m4-6h0m1 23h0m10-11h0m4-23h0m1-16h0m4 87h0m1-40h0m5-10h0m1 9h0m1-13h0m1-29h0m2 72h0m2-49h0m0 1h0m2 4h0m2 24h0m2 19h0m0 11h0m5-19h0m1-5h0m1-35h0m0 20h0m0 46h0m2-32h0m2-30h0m0 42h0m2-38h0m1-2h0m0 8h0m2 17h0m2-41h0m2 40h0m0 8h0m2-32h0m1 1h0m3-29h0m0 20h0m3-1h0m1 4h0m0 11h0m2 0h0m4 11h0m5-30h0m1 49h0m3-21h0m0 82h0m1-107h0m0 16h0m2 10h0m1-11h0m0 32h0m4-29h0m1 38h0m4-41h0m1-3h0m2-19h0m3 69h0m6-40h0m0 34h0m1-41h0m0 42h0m0 8h0m1-22h0m4-17h0m1-6h0m2-23h0m0 48h0m7-16h0m7-34h0m4 41h0m2-1h0m3 12h0m3-63h0m2 34h0m0 34h0m8-3h0m6-17h0m1 2h0m1-17h0m6 9h0m1-10h0m2 20h0m3 76h0m2-70h0m4 13h0m2-57h0m2 45h0m4-17h0m4 3h0m2-29h0m2-3h0m0 59h0m2-43h0m2-29h0m0 55h0m2-2h0m0 13h0m1-58h0m3 23h0m2 16h0m7-12h0m5-28h0m2 25h0m4 39h0m2-52h0m1 13h0m3 10h0m1 31h0m3-13h0m4 11h0m2-21h0m1-18h0m1 40h0m6-43h0m6 43h0m3-2h0m3-49h0m0 23h0m2-42h0m6 3h0m0 9h0m1 2h0m2 13h0m0 41h0m2-62h0m2 56h0m3 3h0m1-8h0m5 25h0m2-26h0m1-34h0m0 8h0m1 123h0m3-114h0m2-9h0m0 39h0m2-30h0m3-37h0m0 6h0m0 7h0m0 5h0m1 41h0m1 20h0m3 1h0m3-27h0m5-41h0m2 79h0m3-57h0m2 36h0m0 3h0m0 84h0m5-127h0m4 31h0m2-66h0m1 7h0m1 47h0m6-28h0m2-8h0m0 19h0m4 16h0m9 16h0m2-49h0m1 40h0m1-19h0m0 34h0m6-62h0m0 12h0m3 12h0m6-37h0m2 69h0m0 2h0m2-55h0m2 5h0m0 20h0m0 12h0m2-27h0m1 23h0m3-38h0m3 7h0m0 17h0m0 19h0m0 12h0m1-20h0m1 1h0m1-25h0m4-2h0m5 14h0m1-24h0m1-5h0m1 22h0m1 37h0m1 32h0m1-72h0m5 25h0m0 33h0m4-7h0m1-12h0m1-33h0m1-10h0m2 0h0m0 38h0m1-47h0m0 54h0m1-47h0m1 25h0m0 37h0m2-53h0m2-39h0m0 1h0m0 64h0m1-48h0m3 0h0m1 18h0m1 7h0m1-2h0m1 36h0m1-60h0m1-1h0m0 86h0m1-52h0m1 1h0m0 8h0m1-35h0m1-18h0m2 15h0m0 1h0m0 38h0m1-31h0m1 45h0m2-41h0m2-9h0m3-4h0m1 3h0m0 22h0m0 29h0m1-40h0m0 0h0m2-23h0m1 8h0m1 40h0m1-8h0m0 41h0m0 17h0m3-85h0m0 1h0m1 29h0m0 6h0m1-49h0m1 68h0m1-71h0m0 11h0m0 38h0m1-14h0m1-55h0m1 50h0m0 30h0m0 13h0m1 4h0m0 6h0m0 1h0m1-69h0m0 83h0m1-102h0m1 66h0m1-47h0m0 13h0m3 40h0m0 31h0m1-68h0m1-20h0m0 10h0m1 30h0m3-31h0m0 113h0m1-120h0m2 39h0m1 0h0m1-15h0m1-36h0m1 45h0m0 13h0m3-64h0m1 22h0m1 20h0m1-7h0m0 34h0m0 5h0m1-38h0m0 3h0m0 1h0m0 54h0m2-89h0m1-5h0m0 72h0m0 2h0m3-19h0m0 0h0m0 7h0m1-66h0m0 5h0m0 24h0m1 45h0m0 10h0m1-30h0m0 6h0m0 26h0m2-46h0m2 28h0m0 31h0m1-39h0m0 21h0m0 13h0m5-46h0m2 54h0m1-78h0m0 2h0m0 38h0m1 13h0m1 105h0m3-151h0m0 32h0m0 34h0m0 6h0m4-46h0m2-46h0m0 36h0m0 19h0m0 24h0m1-59h0m0 110h0m2-125h0m0 52h0m0 20h0m2 85h0m2-85h0m3 20h0m1-88h0m0 38h0m1 27h0m1-59h0m0 48h0m1 14h0m0 70h0m2-76h0m0 20h0m3-39h0m1-32h0m1 71h0m1-48h0m1 16h0m4-57h0m1 28h0m0 33h0m1-19h0m0 7h0m3-17h0m0 57h0m1-79h0m0 53h0m0 0h0m2-46h0m0 10h0m0 48h0m1 21h0m1-79h0m0 49h0m2-69h0m1 63h0m1-31h0m0 7h0m2 54h0m1-2h0m1-68h0m1-11h0m1 38h0m1 31h0m1-55h0m0 45h0m1-50h0m1-9h0m1 64h0m3-31h0m1-33h0m1 93h0m4-53h0m2-45h0m3 58h0m3-46h0m0 43h0m3 28h0m1-46h0m0 2h0m2-20h0m2 3h0m2 48h0m0 6h0m1-14h0m1-20h0m0 23h0m0 2h0m1-73h0m2 74h0m0 12h0m3-25h0m3-5h0m2-16h0m0 39h0m1 4h0m1-30h0m0 31h0m1-61h0m0 43h0m1 79h0m2-135h0m1 39h0m2-41h0m1 7h0m0 25h0m1 49h0m2-64h0m0 25h0m1-26h0m0 71h0m2-15h0m1-55h0m0 17h0m3 36h0m2 25h0" stroke="#000" stroke-width="4.5"/>
<path d="M143 162h0m133 54h0m17-68h0m8 68h0m1-63h0m3-7h0m15 1h0m9 26h0m4 57h0m3-74h0m4-17h0m10 74h0m1-46h0m6-35h0m3 19h0m1 60h0m9-52h0m14 21h0m1-21h0m1 35h0m2-45h0m0 77h0m2-80h0m3-5h0m1 109h0m11-86h0m2 1h0m2 16h0m8 49h0m5-102h0m4 26h0m4 132h0m8-98h0m7-6h0m4 10h0m8-30h0m4 16h0m3 6h0m12-35h0m23 34h0m3-16h0m5 0h0m4 7h0m11-32h0m2 14h0m2 9h0m18-6h0m25 34h0m3 75h0m1-94h0m23-18h0m2 0h0m10 18h0m6 56h0m10-42h0m4-37h0m1 2h0m2 18h0m22 33h0m2 11h0m5-32h0m2 34h0m8-47h0m8 3h0m14-24h0m2 17h0m8 46h0m8-21h0m8 18h0m8-35h0m11-22h0m3 45h0m10 5h0m4 12h0m23-17h0m3-6h0m16 43h0m17-73h0m12-5h0m3 51h0m5-13h0m2-43h0m1 66h0m0 89h0m9-128h0m1 4h0m9 5h0m2-22h0m14 13h0m1 44h0m3-14h0m2-9h0m3-39h0m11-23h0m1 65h0m2 16h0m3-40h0m2 16h0m4-47h0m8 63h0m3-41h0m1 2h0m2 44h0m18 54h0m1-113h0m8-5h0m0 34h0m0 106h0m11-123h0m3 14h0m0 41h0m1-15h0m4-10h0m13-29h0m3 25h0m0 1h0m8 21h0m0 75h0m3-99h0m6-10h0m10 84h0m5-111h0m1 13h0m2 58h0m7-21h0m8-24h0m18 13h0m3-46h0m2 34h0m1-15h0m3-2h0m0 2h0m3 38h0m3-70h0m1 78h0m2-78h0m4-3h0m12 41h0m0 21h0m0 11h0m8-53h0m1 13h0m3 23h0m1-36h0m0 38h0m5-40h0m8 4h0m2-7h0m5-17h0m0 13h0m0 57h0m0 107h0m3-82h0m2-85h0m0 67h0m5-23h0m4-34h0m1 8h0m0 131h0m5-80h0m2-19h0m12 65h0m1-90h0m0 14h0m3 8h0m2-7h0m3-13h0m1 28h0m0 39h0m1-65h0m8 49h0m9-21h0m3-3h0m3-54h0m0 49h0m0 15h0m3-33h0m2 44h0m5 63h0m7-130h0m3-4h0m1 1h0m4 42h0m0 29h0m1-4h0m1-69h0m7 58h0m1-52h0m0 55h0m1 16h0m1 91h0m1-40h0m7-88h0m5-26h0m2 49h0m2-27h0m9 55h0m2 68h0m3-99h0m2-9h0m2 37h0m1-96h0m6 32h0m0 25h0m0 23h0m3-53h0m1 52h0m1-43h0" stroke="#000" stroke-width="5.8"/>
<path d="M143 204h0m16 50h0m11-92h0m101 38h0m10-59h0m4 5h0m12 35h0m22-22h0m47 19h0m2-25h0m10 16h0m8-38h0m0 138h0m1 29h0m3-168h0m9 157h0m2-158h0m9 41h0m28 100h0m4-97h0m9-12h0m11 142h0m32-107h0m11-33h0m5-3h0m11 77h0m54-59h0m7 80h0m6 13h0m3-86h0m7-40h0m24 4h0m8 47h0m20 6h0m23 82h0m20-89h0m5 11h0m4 18h0m10 87h0m6-95h0m4 25h0m3-69h0m1 147h0m6-159h0m0 52h0m1-18h0m6 6h0m62 5h0m3 64h0m16-50h0m2 9h0m2-67h0m24 17h0m2 144h0m3-153h0m1-7h0m1 46h0m10 8h0m5-2h0m4-27h0m15 68h0m3-82h0m41 18h0m23 36h0m3-31h0m22-34h0m9 26h0m8 34h0m2-20h0m5 24h0m3-24h0m1 1h0m1-1h0m19 86h0m6-108h0m3 32h0m12-11h0m11 8h0m9-36h0m2-46h0m0 105h0m6-105h0m4 97h0m3-47h0m8 16h0m0 8h0m2-29h0m1 61h0m3-106h0m7 45h0m6-51h0m2 68h0m3 33h0m3 4h0m3-47h0m3 70h0m4-43h0m4 35h0m2-53h0m2-3h0m3-31h0m2 13h0m0 10h0m7 50h0m1-80h0m1 77h0m1-6h0m2-44h0m0 47h0m5-57h0m3-15h0m5 24h0m1 58h0m11-46h0m1-11h0m1 2h0m4-32h0m0 45h0m5-33h0m0 110h0m5-3h0m4-71h0m1 25h0m14-68h0m0 48h0m1 10h0m2 49h0m6-80h0m6 135h0m3-137h0m8-33h0m9 19h0m1 33h0m2-46h0m0 141h0m1-81h0m1 90h0m2-110h0m1 21h0m5 92h0m2-132h0m4 40h0" stroke="#000" stroke-width="6.8"/>
<path d="M235 161h0m28-12h0m8 0h0m39-13h0m3 20h0m3-12h0m20 76h0m16-8h0m13-21h0m19 7h0m3 24h0m4 18h0m21-51h0m3 26h0m10 57h0m4-117h0m4-11h0m11 19h0m9 77h0m15-78h0m4-32h0m6 73h0m7 24h0m3 56h0m0 15h0m26-106h0m1-51h0m7 54h0m13 4h0m12-2h0m19 10h0m4-2h0m9 2h0m3 65h0m19 38h0m9-21h0m23-120h0m71 22h0m3 11h0m1-2h0m24 11h0m6-57h0m3 37h0m0 41h0m15 3h0m16 48h0m1-21h0m30-82h0m8 16h0m54 9h0m6-50h0m0 83h0m21-66h0m47-2h0m5-23h0m17 149h0m3-69h0m13-9h0m6-70h0m0 0h0m1 68h0m9-11h0m5 39h0m3-58h0m35 37h0m16-52h0m22 6h0m18-25h0m0 125h0m6-128h0m5 61h0m3 6h0m21 87h0m4-93h0m4-32h0m2 142h0m5-76h0m0 56h0m2-82h0m2 67h0m21-94h0m12 77h0m1-78h0m5-14h0m8 27h0m17-13h0m6 24h0m8 15h0m0 70h0m16-39h0m1-64h0m4-22h0m1 55h0m4-78h0m5 18h0m1-25h0m1 40h0m3 71h0m1 40h0m2-90h0m3-63h0" stroke="#000" stroke-width="7.8"/>
<path d="M285 237h0m45-27h0m74-26h0m3-22h0m5-40h0m8 73h0m51-38h0m14 69h0m76-81h0m54 15h0m47 22h0m62 82h0m41-121h0m9-1h0m2 51h0m12-37h0m45 141h0m10-81h0m15-39h0m43 5h0m34-34h0m10 24h0m39 23h0m26 0h0m3 109h0m13-119h0m27-29h0m7-22h0m36 59h0m14-7h0m13-66h0m6 79h0m9 2h0m4 11h0m38-26h0m9 34h0m23 101h0m7 6h0m21-139h0m9-2h0m2-20h0m21 155h0" stroke="#000" stroke-width="8.8"/>
<path d="M283 175h0m30 6h0m113-35h0m7-4h0m31-2h0m54 26h0m162 8h0m41 93h0m42 20h0m121 24h0m127-144h0m32 119h0m30-67h0m7-35h0m2 35h0m3-42h0m21 57h0m32-30h0m0 12h0m21-33h0m36 84h0" stroke="#000" stroke-width="9.8"/>
<path d="M201 159h0m186-19h0m25 54h0m8 78h0m8-64h0m90 46h0m47-86h0m41 63h0m143-45h0m10-71h0m28 77h0m113 118h0m84-156h0m83 71h0m120-59h0m9 13h0m2-16h0m45 72h0" stroke="#000" stroke-width="10.8"/>
<path d="M335 211h0m166 29h0m167-32h0m346-19h0m78-16h0m39 101h0m27-87h0m79 130h0" stroke="#000" stroke-width="11.8"/>
<path d="M676 151h0m294 24h0m154 37h0m147 109h0" stroke="#000" stroke-width="12.8"/>
<path d="M646 251h0m395 49h0m14-121h0m183-13h0" stroke="#000" stroke-width="13.8"/>
<path d="M1095 123h0" stroke="#000" stroke-width="14.8"/>
<path d="M143 162h0m133 54h0m17-68h0m8 68h0m1-63h0m3-7h0m15 1h0m9 26h0m4 57h0m3-74h0m4-17h0m10 74h0m1-46h0m6-35h0m3 19h0m1 60h0m9-52h0m14 21h0m1-21h0m1 35h0m2-45h0m0 77h0m2-80h0m3-5h0m1 109h0m11-86h0m2 1h0m2 16h0m8 49h0m5-102h0m4 26h0m4 132h0m8-98h0m7-6h0m4 10h0m8-30h0m4 16h0m3 6h0m12-35h0m23 34h0m3-16h0m5 0h0m4 7h0m11-32h0m2 14h0m2 9h0m18-6h0m25 34h0m3 75h0m1-94h0m23-18h0m2 0h0m10 18h0m6 56h0m10-42h0m4-37h0m1 2h0m2 18h0m22 33h0m2 11h0m5-32h0m2 34h0m8-47h0m8 3h0m14-24h0m2 17h0m8 46h0m8-21h0m8 18h0m8-35h0m11-22h0m3 45h0m10 5h0m4 12h0m23-17h0m3-6h0m16 43h0m17-73h0m12-5h0m3 51h0m5-13h0m2-43h0m1 66h0m0 89h0m9-128h0m1 4h0m9 5h0m2-22h0m14 13h0m1 44h0m3-14h0m2-9h0m3-39h0m11-23h0m1 65h0m2 16h0m3-40h0m2 16h0m4-47h0m8 63h0m3-41h0m1 2h0m2 44h0m18 54h0m1-113h0m8-5h0m0 34h0m0 106h0m11-123h0m3 14h0m0 41h0m1-15h0m4-10h0m13-29h0m3 25h0m0 1h0m8 21h0m0 75h0m3-99h0m6-10h0m10 84h0m5-111h0m1 13h0m2 58h0m7-21h0m8-24h0m18 13h0m3-46h0m2 34h0m1-15h0m3-2h0m0 2h0m3 38h0m3-70h0m1 78h0m2-78h0m4-3h0m12 41h0m0 21h0m0 11h0m8-53h0m1 13h0m3 23h0m1-36h0m0 38h0m5-40h0m8 4h0m2-7h0m5-17h0m0 13h0m0 57h0m0 107h0m3-82h0m2-85h0m0 67h0m5-23h0m4-34h0m1 8h0m0 131h0m5-80h0m2-19h0m12 65h0m1-90h0m0 14h0m3 8h0m2-7h0m3-13h0m1 28h0m0 39h0m1-65h0m8 49h0m9-21h0m3-3h0m3-54h0m0 49h0m0 15h0m3-33h0m2 44h0m5 63h0m7-130h0m3-4h0m1 1h0m4 42h0m0 29h0m1-4h0m1-69h0m7 58h0m1-52h0m0 55h0m1 16h0m1 91h0m1-40h0m7-88h0m5-26h0m2 49h0m2-27h0m9 55h0m2 68h0m3-99h0m2-9h0m2 37h0m1-96h0m6 32h0m0 25h0m0 23h0m3-53h0m1 52h0m1-43h0" stroke="#e8e8e8" stroke-width="1.8"/>
<path d="M143 204h0m16 50h0m11-92h0m101 38h0m10-59h0m4 5h0m12 35h0m22-22h0m47 19h0m2-25h0m10 16h0m8-38h0m0 138h0m1 29h0m3-168h0m9 157h0m2-158h0m9 41h0m28 100h0m4-97h0m9-12h0m11 142h0m32-107h0m11-33h0m5-3h0m11 77h0m54-59h0m7 80h0m6 13h0m3-86h0m7-40h0m24 4h0m8 47h0m20 6h0m23 82h0m20-89h0m5 11h0m4 18h0m10 87h0m6-95h0m4 25h0m3-69h0m1 147h0m6-159h0m0 52h0m1-18h0m6 6h0m62 5h0m3 64h0m16-50h0m2 9h0m2-67h0m24 17h0m2 144h0m3-153h0m1-7h0m1 46h0m10 8h0m5-2h0m4-27h0m15 68h0m3-82h0m41 18h0m23 36h0m3-31h0m22-34h0m9 26h0m8 34h0m2-20h0m5 24h0m3-24h0m1 1h0m1-1h0m19 86h0m6-108h0m3 32h0m12-11h0m11 8h0m9-36h0m2-46h0m0 105h0m6-105h0m4 97h0m3-47h0m8 16h0m0 8h0m2-29h0m1 61h0m3-106h0m7 45h0m6-51h0m2 68h0m3 33h0m3 4h0m3-47h0m3 70h0m4-43h0m4 35h0m2-53h0m2-3h0m3-31h0m2 13h0m0 10h0m7 50h0m1-80h0m1 77h0m1-6h0m2-44h0m0 47h0m5-57h0m3-15h0m5 24h0m1 58h0m11-46h0m1-11h0m1 2h0m4-32h0m0 45h0m5-33h0m0 110h0m5-3h0m4-71h0m1 25h0m14-68h0m0 48h0m1 10h0m2 49h0m6-80h0m6 135h0m3-137h0m8-33h0m9 19h0m1 33h0m2-46h0m0 141h0m1-81h0m1 90h0m2-110h0m1 21h0m5 92h0m2-132h0m4 40h0" stroke="#e8e8e8" stroke-width="2.8"/>
<path d="M235 161h0m28-12h0m8 0h0m39-13h0m3 20h0m3-12h0m20 76h0m16-8h0m13-21h0m19 7h0m3 24h0m4 18h0m21-51h0m3 26h0m10 57h0m4-117h0m4-11h0m11 19h0m9 77h0m15-78h0m4-32h0m6 73h0m7 24h0m3 56h0m0 15h0m26-106h0m1-51h0m7 54h0m13 4h0m12-2h0m19 10h0m4-2h0m9 2h0m3 65h0m19 38h0m9-21h0m23-120h0m71 22h0m3 11h0m1-2h0m24 11h0m6-57h0m3 37h0m0 41h0m15 3h0m16 48h0m1-21h0m30-82h0m8 16h0m54 9h0m6-50h0m0 83h0m21-66h0m47-2h0m5-23h0m17 149h0m3-69h0m13-9h0m6-70h0m0 0h0m1 68h0m9-11h0m5 39h0m3-58h0m35 37h0m16-52h0m22 6h0m18-25h0m0 125h0m6-128h0m5 61h0m3 6h0m21 87h0m4-93h0m4-32h0m2 142h0m5-76h0m0 56h0m2-82h0m2 67h0m21-94h0m12 77h0m1-78h0m5-14h0m8 27h0m17-13h0m6 24h0m8 15h0m0 70h0m16-39h0m1-64h0m4-22h0m1 55h0m4-78h0m5 18h0m1-25h0m1 40h0m3 71h0m1 40h0m2-90h0m3-63h0" stroke="#e8e8e8" stroke-width="3.8"/>
<path d="M285 237h0m45-27h0m74-26h0m3-22h0m5-40h0m8 73h0m51-38h0m14 69h0m76-81h0m54 15h0m47 22h0m62 82h0m41-121h0m9-1h0m2 51h0m12-37h0m45 141h0m10-81h0m15-39h0m43 5h0m34-34h0m10 24h0m39 23h0m26 0h0m3 109h0m13-119h0m27-29h0m7-22h0m36 59h0m14-7h0m13-66h0m6 79h0m9 2h0m4 11h0m38-26h0m9 34h0m23 101h0m7 6h0m21-139h0m9-2h0m2-20h0m21 155h0" stroke="#e8e8e8" stroke-width="4.8"/>
<path d="M283 175h0m30 6h0m113-35h0m7-4h0m31-2h0m54 26h0m162 8h0m41 93h0m42 20h0m121 24h0m127-144h0m32 119h0m30-67h0m7-35h0m2 35h0m3-42h0m21 57h0m32-30h0m0 12h0m21-33h0m36 84h0" stroke="#b4b4b4" stroke-width="5.8"/>
<path d="M201 159h0m186-19h0m25 54h0m8 78h0m8-64h0m90 46h0m47-86h0m41 63h0m143-45h0m10-71h0m28 77h0m113 118h0m84-156h0m83 71h0m120-59h0m9 13h0m2-16h0m45 72h0" stroke="#b4b4b4" stroke-width="6.8"/>
<path d="M335 211h0m166 29h0m167-32h0m346-19h0m78-16h0m39 101h0m27-87h0m79 130h0" stroke="#b4b4b4" stroke-width="7.8"/>
<path d="M676 151h0m294 24h0m154 37h0m147 109h0" stroke="#b4b4b4" stroke-width="8.8"/>
<path d="M646 251h0m395 49h0m14-121h0m183-13h0" stroke="#b4b4b4" stroke-width="9.8"/>
<path d="M1095 123h0" stroke="#b4b4b4" stroke-width="10.8"/>
<path d="M145 144h0m2 51h0m132-22h0m19-46h0m18 45h0m5-22h0m4-1h0m0 8h0m4-8h0m5 15h0m0 4h0m1-11h0m1 4h0m0 15h0m2-5h0m1-17h0m1-16h0m0 13h0m4 21h0m1-8h0m1-45h0m0 42h0m4-4h0m1 17h0m6-24h0m1 0h0m0 13h0m2-15h0m1-7h0m7 15h0m0 5h0m4-10h0m3 21h0m0 3h0m0 1h0m4-24h0m0 4h0m2-25h0m2 24h0m1 38h0m1-51h0m0 9h0m1 18h0m2-29h0m1 14h0m0 2h0m0 10h0m0 12h0m1-53h0m2 58h0m0 15h0m1-49h0m0 22h0m0 1h0m1-6h0m1-11h0m1 31h0m1-39h0m2 33h0m1-35h0m0 35h0m0 63h0m1-94h0m0 1h0m0 43h0m1-26h0m1-31h0m0 34h0m1-20h0m0 20h0m1-26h0m0 25h0m1-15h0m0 13h0m0 2h0m0 7h0m1-38h0m0 24h0m1 20h0m1-39h0m0 11h0m0 8h0m0 13h0m2-40h0m0 5h0m0 11h0m0 42h0m1-37h0m1 135h0m1-129h0m2-20h0m0 20h0m0 22h0m1-11h0m0 8h0m1-49h0m1-2h0m0 16h0m0 48h0m1-49h0m1 12h0m1 23h0m1-24h0m0 10h0m1-20h0m0 1h0m1 6h0m1 25h0m1-45h0m0 21h0m3-7h0m0 5h0m0 5h0m0 30h0m1-79h0m0 46h0m0 14h0m1 14h0m1-11h0m3-21h0m1 2h0m0 17h0m0 3h0m1-15h0m1-10h0m2 38h0m23-27h0m1 10h0m9-27h0m10 49h0m3-53h0m12 141h0m9-39h0m6-102h0m6 45h0m25 31h0m17-18h0m0 3h0m6-6h0m7 85h0m15-84h0m3 0h0m13-2h0m8-4h0m13-41h0m5-8h0m41 13h0m3 1h0m1 61h0m3-57h0m3 12h0m3 8h0m9-13h0m13-1h0m1 4h0m4 33h0m6-41h0m3 10h0m0 6h0m6-5h0m7-19h0m10 0h0m1 13h0m2 0h0m10-2h0m4 7h0m8-3h0m1 5h0m4-15h0m8-2h0m3 11h0m0 2h0m1 49h0m4-39h0m4-26h0m2 8h0m0 47h0m7-54h0m3 19h0m1 43h0m1-50h0m0 3h0m0 0h0m3 11h0m2 26h0m12 41h0m11-85h0m0 6h0m1 103h0m15-102h0m9-2h0m0 5h0m3-12h0m4-4h0m3 159h0m10-159h0m2 11h0m1 1h0m2-5h0m4 2h0m4 1h0m1-4h0m3-1h0m3 9h0m2-11h0m4 5h0m3 8h0m0 31h0m8-46h0m2 3h0m1 12h0m3-14h0m2-5h0m0 16h0m4-2h0m3-9h0m0 6h0m27-14h0m10 73h0m1-25h0m3 32h0m13-72h0m21-13h0m1 3h0m1 6h0m1-1h0m5 15h0m0 1h0m2-12h0m1 9h0m1 11h0m0 3h0m3-15h0m11-20h0m0 27h0m3 1h0m2 19h0m2-14h0m2 0h0m2-30h0m2 28h0m1-8h0m5-27h0m0 138h0m2-128h0m1 5h0m4-27h0m2 62h0m0 86h0m4-108h0m0 21h0m1-26h0m3-11h0m1 0h0m4 5h0m2-11h0m0 12h0m1 14h0m0 33h0m1-66h0m3 33h0m2-23h0m1 0h0m0 18h0m1-10h0m0 65h0m1-94h0m0 19h0m0 45h0m1-44h0m1 29h0m0 32h0m1-43h0m0 54h0m1-90h0m0 5h0m1 67h0m2-30h0m1-37h0m0 29h0m2 20h0m0 2h0m1-41h0m0 97h0m0 9h0m2-112h0m0 20h0m0 0h0m2-8h0m0 1h0m0 90h0m1-63h0m0 13h0m0 47h0m1-23h0m1-6h0m6-55h0m0 61h0m2-68h0m2 27h0m4 0h0m0 18h0m1-41h0m4 9h0m0 5h0m0 10h0m2 32h0m0 15h0m1-25h0m1-21h0m0 20h0m0 12h0m3-62h0m2 60h0m2 4h0m3-8h0m0 6h0m1-5h0m0 3h0m0 5h0m1 3h0m2-2h0m1-25h0m6 6h0m27-3h0m24-39h0m5 14h0m0 42h0m7-63h0m6 112h0m19-55h0m3-47h0m18 74h0m7-21h0m6-33h0m2 21h0" stroke="#f00" stroke-width="3"/>
<path d="M144 148h0m135 44h0m25-46h0m8 15h0m4-36h0m4 50h0m2-38h0m2 2h0m3 11h0m1 14h0m1-7h0m3 5h0m2 0h0m3-1h0m1-4h0m1-1h0m3-2h0m1 12h0m6-31h0m1 1h0m2 23h0m0 8h0m1-17h0m1 15h0m3 0h0m3-5h0m0 3h0m0 10h0m2-23h0m1-9h0m0 8h0m0 19h0m3-43h0m8 19h0m1 2h0m0 15h0m4-14h0m0 18h0m1-15h0m2 14h0m0 1h0m1 1h0m2-19h0m0 5h0m0 8h0m1-33h0m1 5h0m0 12h0m0 7h0m0 41h0m1-36h0m0 2h0m0 0h0m0 24h0m0 3h0m3-60h0m0 51h0m3-9h0m1-3h0m0 13h0m2-15h0m1-36h0m0 34h0m0 23h0m1-60h0m0 20h0m2 14h0m0 7h0m1-28h0m0 3h0m0 15h0m1-6h0m0 26h0m1-40h0m0 17h0m0 55h0m2-62h0m0 16h0m0 19h0m1-35h0m0 9h0m0 6h0m0 4h0m1-25h0m0 9h0m1 8h0m0 134h0m1-129h0m0 21h0m1-52h0m2 25h0m1-12h0m0 12h0m0 20h0m1-16h0m2 7h0m1-12h0m2-9h0m0 14h0m2-4h0m0 17h0m1-15h0m0 3h0m1 91h0m1-112h0m0 1h0m1 19h0m0 5h0m0 5h0m0 7h0m0 37h0m1-54h0m0 2h0m2 8h0m1-16h0m0 5h0m2-10h0m1 24h0m1-14h0m0 56h0m1-69h0m1 4h0m0 16h0m1-31h0m0 2h0m0 16h0m0 15h0m0 34h0m4 9h0m1-74h0m4 28h0m3-21h0m1 33h0m1-12h0m10 8h0m17 28h0m20-17h0m24-5h0m13 12h0m23-8h0m5-4h0m10-21h0m11-9h0m3 55h0m5-43h0m8 168h0m19-137h0m17-36h0m12 63h0m4-53h0m6 39h0m3-5h0m10-41h0m3 7h0m2 6h0m5-20h0m2 50h0m3-37h0m1-3h0m3 25h0m3-15h0m6 17h0m6-21h0m1-3h0m9-9h0m5 38h0m4 15h0m4-35h0m4-5h0m0 45h0m4-42h0m5 24h0m0 17h0m5 0h0m1-16h0m2-25h0m3 26h0m3-39h0m0 74h0m3 34h0m2-99h0m0 25h0m4-5h0m0 2h0m1 22h0m3-57h0m5 17h0m8-19h0m7 18h0m6 33h0m4-4h0m6-32h0m0 6h0m4 39h0m5 1h0m4-62h0m0 11h0m0 20h0m2-14h0m1-7h0m1 24h0m0 22h0m4-39h0m8 4h0m8 17h0m26 30h0m5-70h0m0 19h0m2-13h0m2-1h0m3 40h0m2-36h0m1-1h0m12 4h0m0 2h0m2-7h0m1-1h0m1 4h0m0 111h0m1-105h0m4-3h0m6-2h0m6 2h0m5 1h0m3 9h0m2-14h0m2 6h0m3-10h0m2 10h0m1 2h0m3-11h0m8 25h0m2-15h0m22 128h0m9-107h0m10-9h0m4 4h0m4 41h0m7 80h0m5-168h0m2 11h0m0 4h0m2 12h0m1-14h0m8 79h0m2-52h0m2-28h0m1 16h0m1-21h0m0 9h0m2-3h0m2 6h0m0 18h0m2-25h0m3 8h0m3 3h0m7-13h0m1 30h0m4-37h0m5 2h0m1 79h0m1-57h0m0 3h0m0 8h0m0 8h0m1-4h0m1-37h0m0 11h0m2 16h0m1-31h0m5 186h0m1-96h0m5-74h0m0 8h0m1-1h0m5-13h0m0 9h0m0 14h0m3-5h0m0 38h0m3-53h0m0 54h0m1-66h0m0 6h0m0 19h0m0 52h0m1-88h0m0 26h0m0 18h0m0 19h0m1-51h0m0 10h0m0 36h0m0 29h0m1 47h0m2-52h0m1-73h0m0 135h0m1-78h0m0 28h0m1-70h0m1 31h0m1-35h0m0 18h0m0 13h0m0 87h0m2-134h0m0 7h0m0 41h0m0 64h0m1-79h0m0 94h0m1 4h0m1-100h0m0 59h0m1-60h0m0 5h0m0 51h0m1-46h0m1-38h0m0 9h0m1 69h0m1-54h0m0 50h0m3-66h0m0 5h0m0 70h0m2-53h0m3 49h0m3-88h0m0 37h0m4-10h0m3-15h0m1 25h0m0 48h0m0 5h0m0 86h0m3-86h0m7 1h0m1-10h0m0 3h0m1 2h0m3-15h0m1 12h0m0 5h0m7 3h0m3-29h0m8 31h0m5-24h0m13 24h0m9-33h0m4 36h0m1 11h0m1-66h0m2 27h0m4 18h0m16-21h0m0 43h0m21-42h0m2 1h0m3 43h0m7 1h0m1-31h0m15 21h0m3-57h0m1 72h0" stroke="#f00" stroke-width="3.5"/>
<path d="M148 145h0m0 3h0m121 29h0m36-35h0m9 11h0m1 0h0m5 0h0m2-5h0m0 12h0m1 2h0m1 13h0m1-17h0m0 8h0m2-21h0m5 25h0m2-45h0m1 25h0m0 12h0m4-1h0m4-1h0m5-18h0m0 22h0m1-3h0m2-7h0m5-2h0m0 16h0m1-7h0m0 9h0m3-14h0m1-5h0m2-4h0m1 15h0m2-11h0m1 30h0m1-8h0m3-14h0m1-8h0m0 8h0m3 12h0m5-29h0m1 5h0m4 15h0m0 1h0m1-39h0m0 13h0m0 20h0m2-44h0m0 52h0m0 3h0m2-23h0m0 7h0m0 1h0m0 4h0m1-6h0m1-13h0m0 26h0m1-27h0m0 6h0m0 6h0m0 7h0m2 20h0m0 11h0m1-25h0m1 8h0m0 5h0m1-19h0m1-1h0m1 14h0m2 15h0m2-40h0m0 14h0m1-4h0m0 8h0m0 2h0m1 11h0m1-14h0m0 2h0m1-25h0m1-12h0m2 40h0m1-22h0m1-12h0m0 4h0m0 17h0m1-9h0m0 13h0m0 12h0m0 1h0m1-21h0m1 8h0m2-19h0m0 9h0m0 26h0m0 0h0m0 8h0m1-19h0m0 13h0m0 2h0m1-41h0m0 22h0m1-4h0m0 2h0m0 6h0m0 11h0m1-12h0m2-19h0m0 14h0m1-17h0m3-27h0m0 37h0m0 10h0m0 9h0m1 8h0m1-24h0m1-14h0m0 2h0m1 11h0m0 2h0m0 15h0m1-31h0m0 2h0m0 26h0m1-7h0m1-26h0m0 31h0m0 1h0m1-7h0m0 42h0m2-16h0m7-60h0m0 38h0m7 21h0m3-18h0m2 20h0m1-6h0m8-47h0m0 25h0m3-15h0m2 20h0m1-34h0m0 62h0m5-50h0m35 31h0m12 7h0m11 11h0m2 3h0m26 3h0m4 4h0m5-43h0m7 44h0m47-2h0m3-47h0m16 24h0m16-24h0m9 0h0m10 9h0m3 5h0m5-8h0m11-6h0m6 41h0m8-26h0m1 44h0m6 3h0m1-61h0m0 13h0m4 7h0m14-6h0m4 113h0m1-109h0m3 24h0m1-4h0m10-24h0m3-7h0m13 41h0m1-31h0m1-9h0m4 3h0m3-10h0m2 2h0m2-2h0m0 130h0m3-115h0m9-3h0m1-2h0m2-6h0m3-5h0m0 15h0m5 138h0m10-149h0m11 20h0m4-18h0m15 8h0m11-1h0m5-5h0m5-9h0m3 19h0m4-9h0m5 1h0m0 3h0m4-4h0m1-1h0m3 56h0m1-58h0m0 7h0m2-5h0m0 3h0m2 2h0m2-9h0m1 9h0m4 1h0m0 6h0m1-14h0m1-2h0m3 0h0m0 4h0m1 3h0m6-10h0m2 14h0m8-3h0m1-3h0m2-3h0m1 66h0m2-60h0m31 49h0m6-40h0m2 32h0m1-28h0m7 40h0m18-56h0m9 18h0m2 102h0m3-114h0m2-14h0m2 16h0m2-18h0m9-12h0m0 7h0m2 16h0m2-25h0m0 38h0m2 38h0m1-57h0m5-3h0m0 1h0m0 15h0m3-7h0m2 13h0m1-5h0m1-8h0m0 5h0m3-4h0m0 40h0m4-49h0m0 12h0m0 7h0m1-16h0m1-23h0m1 20h0m6-14h0m0 3h0m1-10h0m0 14h0m0 22h0m0 6h0m1-33h0m1 3h0m4-9h0m0 24h0m1-8h0m3-5h0m1-12h0m0 18h0m0 128h0m1-115h0m1 42h0m0 56h0m1-76h0m0 111h0m2-116h0m2-17h0m3 107h0m2 47h0m1-183h0m1 118h0m2-100h0m0 106h0m2-109h0m0 24h0m0 9h0m0 18h0m0 3h0m1 6h0m0 57h0m2-117h0m0 15h0m0 33h0m0 119h0m1-147h0m0 99h0m0 1h0m1-116h0m0 35h0m0 103h0m1-127h0m1 37h0m0 14h0m1 44h0m1-114h0m0 15h0m0 109h0m1-137h0m0 50h0m0 38h0m2-67h0m0 49h0m0 2h0m1-69h0m0 36h0m0 36h0m1-80h0m0 87h0m0 26h0m0 13h0m1-90h0m4 3h0m0 5h0m3 115h0m3-151h0m0 16h0m4 9h0m2-9h0m0 4h0m1 1h0m0 50h0m1-35h0m5 25h0m0 8h0m1-3h0m3 12h0m1-32h0m1 21h0m3 6h0m0 6h0m1-6h0m0 3h0m3-4h0m0 1h0m0 2h0m1-8h0m4 17h0m1-64h0m1 18h0m18-9h0m1 57h0m13 32h0m7-24h0m8-44h0m7 25h0m10-60h0m1 78h0m11-65h0m4 68h0m7-79h0m26-15h0m0 22h0m6 63h0" stroke="#f00" stroke-width="4"/>
<path d="M272 150h0m22 9h0m6 6h0m8-4h0m4 7h0m1-17h0m4 12h0m3 15h0m1-23h0m1 8h0m1 0h0m2 2h0m5-11h0m0 11h0m2-20h0m1 19h0m2 12h0m1-4h0m2-33h0m1 23h0m0 3h0m3-2h0m1-18h0m6 22h0m0 3h0m3-17h0m2-24h0m3 26h0m2-4h0m2 6h0m1-12h0m3 19h0m2 4h0m3-9h0m4 3h0m1-3h0m3 1h0m2-5h0m1 2h0m4 10h0m0 19h0m1-40h0m0 18h0m0 4h0m1-51h0m0 34h0m0 15h0m0 4h0m0 5h0m1-3h0m2-17h0m0 13h0m0 7h0m1-21h0m0 9h0m2-14h0m1-6h0m0 23h0m0 6h0m1-21h0m0 9h0m0 27h0m1-36h0m0 23h0m1-9h0m2-5h0m1-20h0m0 27h0m1 10h0m1-10h0m1 4h0m1-20h0m0 2h0m0 2h0m0 1h0m0 0h0m0 16h0m1-20h0m1 15h0m1-5h0m0 24h0m0 4h0m2-20h0m0 1h0m1-36h0m0 2h0m1 3h0m0 24h0m1-10h0m0 9h0m2-17h0m1 10h0m0 21h0m1-28h0m1 0h0m0 3h0m0 1h0m0 8h0m0 5h0m1-18h0m1-18h0m0 24h0m1 0h0m0 29h0m1-56h0m2 84h0m1-47h0m0 6h0m1-29h0m0 31h0m1-22h0m0 2h0m1 1h0m1 30h0m2-36h0m0 12h0m0 41h0m1-41h0m1 4h0m0 27h0m1-27h0m0 2h0m0 11h0m3-19h0m1-22h0m1 8h0m0 9h0m6 20h0m3-45h0m1 33h0m10 34h0m1-46h0m0 28h0m8-35h0m3 37h0m4-41h0m0 8h0m1 11h0m2 12h0m3 27h0m6-16h0m20-20h0m2 19h0m3 40h0m29-21h0m17-16h0m2-5h0m0 11h0m0 3h0m11 135h0m30-163h0m9 59h0m24-40h0m6-27h0m20 6h0m0 10h0m1-8h0m5 0h0m2 35h0m3 15h0m3-56h0m2 18h0m6 1h0m1 120h0m3-113h0m7 16h0m7-48h0m1 19h0m0 35h0m9 9h0m4-60h0m4 11h0m1 31h0m19-19h0m1-25h0m4 8h0m0 12h0m5-10h0m0 6h0m1 36h0m7-34h0m4-5h0m0 1h0m1 9h0m3 33h0m5-52h0m3 8h0m0 37h0m4-19h0m7-22h0m2 41h0m6-14h0m1 22h0m3-42h0m9 1h0m2-2h0m19 7h0m0 42h0m5-61h0m7 38h0m16-22h0m3-9h0m6 10h0m8-21h0m0 9h0m0 6h0m4 5h0m5-16h0m0 6h0m2-9h0m3 11h0m1 2h0m1-9h0m1 1h0m1 4h0m2-4h0m0 1h0m0 8h0m1-3h0m0 1h0m4-2h0m0 0h0m0 0h0m3-3h0m1 7h0m2 4h0m1-3h0m1-1h0m7 14h0m2 45h0m3-65h0m3 5h0m1 6h0m3-10h0m2 61h0m2-54h0m2-8h0m0 6h0m6-5h0m3 3h0m2 137h0m26-69h0m6-63h0m39-31h0m1 28h0m7-28h0m1 15h0m3-8h0m1 29h0m1-6h0m3-29h0m6 27h0m2-8h0m7 8h0m1-17h0m3 10h0m4 1h0m2-1h0m1 77h0m1-48h0m1 60h0m1-107h0m2-7h0m5 4h0m3 48h0m1-35h0m0 6h0m0 19h0m1 48h0m4-78h0m1 50h0m2-61h0m0 26h0m0 8h0m4-16h0m4-23h0m0 32h0m1-20h0m2 16h0m1-11h0m0 78h0m0 8h0m0 9h0m1-74h0m1-2h0m1-42h0m0 8h0m0 17h0m1-5h0m0 59h0m1-54h0m1 92h0m1 31h0m1-102h0m0 34h0m1-79h0m1 14h0m1-16h0m0 87h0m1-47h0m1-14h0m0 77h0m1-59h0m0 61h0m1-91h0m0 16h0m0 114h0m0 8h0m1-79h0m0 16h0m1-70h0m0 36h0m0 26h0m1-65h0m0 97h0m1-69h0m2-10h0m0 71h0m1-99h0m0 16h0m1 32h0m5 26h0m3-64h0m2 31h0m2-31h0m1 124h0m2-90h0m1-18h0m1 48h0m0 58h0m1-110h0m7-1h0m0 36h0m0 25h0m4-51h0m2 39h0m0 14h0m1-6h0m1 2h0m1 1h0m0 0h0m5-6h0m1 18h0m0 19h0m16-56h0m25 47h0m15-75h0m1-11h0m5 26h0m28 22h0m5 26h0m6-21h0m5 14h0m16 3h0" stroke="#f00" stroke-width="4.5"/>
<path d="M143 131h0m4 38h0m1 7h0m134-18h0m15 2h0m9-16h0m7 22h0m5-8h0m0 6h0m2 29h0m7-38h0m2-9h0m1 9h0m2 14h0m10-20h0m2-1h0m1 18h0m0 12h0m1-11h0m1-32h0m1 25h0m2-10h0m0 17h0m0 8h0m3 5h0m7-26h0m0 5h0m4 14h0m2-26h0m0 7h0m0 6h0m0 4h0m1-13h0m1 1h0m1 0h0m3 5h0m7 20h0m2-1h0m1-9h0m1-20h0m2 14h0m1 29h0m1-49h0m1 31h0m1-20h0m0 10h0m0 13h0m1-39h0m0 16h0m1-15h0m0 18h0m0 21h0m1-26h0m1 9h0m0 20h0m1-44h0m0 12h0m0 3h0m1 13h0m1-5h0m0 19h0m1-26h0m0 9h0m0 15h0m1-44h0m0 8h0m0 21h0m1-11h0m0 10h0m0 1h0m0 4h0m1-4h0m1 9h0m1-21h0m2-4h0m0 7h0m1 10h0m1-21h0m0 32h0m1-4h0m0 3h0m2 5h0m1-13h0m0 2h0m1 3h0m0 29h0m1-69h0m0 9h0m0 33h0m2 1h0m1-42h0m0 79h0m1-64h0m0 2h0m2 2h0m2 0h0m0 3h0m0 16h0m1-23h0m1-1h0m1 3h0m0 17h0m1 6h0m0 8h0m1-28h0m1-14h0m0 10h0m0 12h0m1 21h0m0 112h0m1-147h0m0 4h0m0 18h0m0 9h0m2-29h0m0 23h0m1-33h0m0 33h0m1-20h0m1 20h0m1-2h0m1-18h0m0 14h0m1 0h0m1-26h0m0 35h0m5 14h0m2-36h0m1 29h0m3-1h0m8 0h0m2-42h0m3 6h0m11 38h0m1-36h0m3 43h0m34 12h0m1-24h0m26 0h0m11 24h0m11-25h0m15 146h0m18-138h0m34-25h0m14 45h0m7 22h0m1-72h0m13 17h0m6-15h0m7 8h0m4 8h0m0 47h0m5-54h0m4 3h0m1-8h0m0 5h0m13 29h0m3-24h0m0 32h0m1-35h0m1-2h0m0 1h0m0 22h0m0 8h0m1 13h0m1-8h0m4 9h0m1-25h0m6-14h0m0 23h0m2 21h0m1-7h0m2-22h0m1-16h0m0 7h0m3-21h0m1 10h0m1 15h0m1 26h0m11 8h0m0 4h0m2-53h0m0 38h0m1-36h0m1-2h0m5-3h0m2 57h0m4-46h0m2-9h0m3-9h0m6 24h0m1-27h0m1 13h0m10 50h0m5-61h0m1 9h0m7-9h0m1 40h0m3-45h0m2 7h0m8 53h0m1-21h0m2-36h0m0 127h0m1-122h0m6 14h0m6 47h0m2-17h0m2-43h0m1-4h0m1 9h0m1 6h0m12 2h0m0 1h0m9-5h0m16 0h0m2 24h0m2-27h0m3 11h0m5-16h0m0 5h0m12 5h0m1-11h0m0 2h0m0 1h0m2 5h0m2-7h0m1 7h0m0 6h0m3-7h0m2 3h0m5-6h0m0 139h0m1-142h0m2-1h0m2 2h0m5 0h0m2-2h0m1-6h0m0 9h0m0 6h0m1-9h0m0 5h0m0 7h0m0 10h0m4-18h0m6-6h0m3 1h0m22-14h0m4 65h0m3-60h0m36 148h0m7-80h0m0 5h0m1-60h0m0 13h0m3-8h0m3-30h0m0 12h0m5-12h0m1 40h0m1-40h0m1 11h0m5 24h0m6 3h0m5-36h0m1 28h0m1 8h0m2-30h0m0 8h0m1-6h0m0 12h0m0 10h0m0 2h0m2-26h0m0 38h0m5-12h0m2-27h0m1 23h0m0 3h0m0 7h0m1-34h0m1-1h0m0 15h0m0 12h0m2 2h0m0 61h0m1-73h0m3-19h0m1 21h0m0 34h0m2-49h0m0 5h0m2-2h0m1 20h0m0 9h0m1-2h0m1-11h0m1 17h0m3-25h0m5-13h0m0 49h0m0 89h0m1-104h0m1-61h0m0 32h0m0 25h0m0 64h0m1-87h0m1 5h0m3-19h0m0 6h0m1 12h0m0 12h0m0 57h0m1 36h0m0 1h0m1-82h0m0 25h0m0 3h0m0 6h0m0 21h0m1-96h0m1-4h0m0 85h0m0 29h0m0 19h0m1-140h0m0 27h0m1 19h0m0 39h0m1-28h0m0 16h0m1 57h0m1-69h0m0 9h0m2-39h0m0 6h0m1-37h0m1 25h0m0 70h0m0 9h0m0 14h0m0 2h0m1-100h0m0 114h0m0 13h0m1-107h0m0 1h0m1-16h0m1 60h0m1-31h0m0 38h0m2-80h0m0 36h0m3-30h0m0 42h0m3-10h0m0 2h0m2-16h0m0 13h0m2-4h0m2 50h0m2-45h0m1-14h0m2 12h0m0 28h0m1-39h0m2 45h0m2-13h0m0 4h0m0 6h0m2-1h0m4 4h0m2-5h0m2-26h0m2 32h0m1-52h0m0 57h0m1-56h0m2 50h0m1 7h0m0 2h0m2 4h0m14-12h0m14 32h0m5-50h0m2 3h0m9 34h0m4-65h0m2 14h0m11 42h0m4 2h0m13-14h0m5 27h0m2-42h0m32 62h0m6 15h0" stroke="#f00" stroke-width="5"/></g>
<line x1="191.89" y1="48.4" x2="191.89" y2="167.6" stroke="#ffa500" stroke-width="1.8" stroke-dasharray="11.1 5.5 1.3 5.5 11.1 5.2"/><line x1="452.28" y1="48.4" x2="452.28" y2="167.6" stroke="#ffa500" stroke-width="1.8" stroke-dasharray="11.1 5.5 1.3 5.5 11.1 5.2"/><line x1="526.26" y1="48.4" x2="526.26" y2="167.6" stroke="#ffa500" stroke-width="1.8" stroke-dasharray="11.1 5.5 1.3 5.5 11.1 5.2"/><line x1="545.36" y1="48.4" x2="545.36" y2="167.6" stroke="#ffa500" stroke-width="1.8" stroke-dasharray="11.1 5.5 1.3 5.5 11.1 5.2"/><line x1="552.28" y1="48.4" x2="552.28" y2="167.6" stroke="#ffa500" stroke-width="1.8" stroke-dasharray="11.1 5.5 1.3 5.5 11.1 5.2"/>
<polyline points="40,166.6 70,166.2 73,165.2 127.6,164.2 150,164 190.9,161.4 198.2,160.7 201.8,158.5 205.5,157 212.8,155.5 220,153.4 223,151.2 231.8,149.7 250,147.8 285.3,146.2 311.6,143.1 340,139.8 363.5,136.6 370,135.8 375,132.5 380,131.6 400,130 410.7,127.5 441.3,122.7 447.5,120.7 472,117.6 492.5,114.1 506.8,111.5 520,108 526.6,104.2 545,97 553,89.9 561.3,83.7 569.5,76.6 575.7,71.5 581.8,68.4 596,65.3 614.5,62.7 637,59.2" fill="none" stroke="#0000ff" stroke-width="3.6" stroke-linejoin="round" stroke-linecap="round"/>
</g>
<rect x="40.0" y="48.4" width="597.0" height="119.19999999999999" fill="none" stroke="#000" stroke-width="2"/>
<use href="#xax" transform="translate(0,167.6)"/>
<path d="M39.0 60.32h-2 M39.0 84.16h-2 M39.0 108h-2 M39.0 131.84h-2 M39.0 155.68h-2" stroke="#000" stroke-width="0.9"/>
<line x1="39.0" y1="48.4" x2="36.0" y2="48.4" stroke="#333" stroke-width="1"/>
<line x1="39.0" y1="72.24" x2="36.0" y2="72.24" stroke="#333" stroke-width="1"/>
<line x1="39.0" y1="96.08" x2="36.0" y2="96.08" stroke="#333" stroke-width="1"/>
<line x1="39.0" y1="119.92" x2="36.0" y2="119.92" stroke="#333" stroke-width="1"/>
<line x1="39.0" y1="143.76" x2="36.0" y2="143.76" stroke="#333" stroke-width="1"/>
<line x1="39.0" y1="167.6" x2="36.0" y2="167.6" stroke="#333" stroke-width="1"/>
<g  font-size="10" text-anchor="end" fill="#000"><text x="34.3" y="52.6">−2</text><text x="34.3" y="76.44">0</text><text x="34.3" y="100.28">2</text><text x="34.3" y="124.12">4</text><text x="34.3" y="147.96">6</text><text x="34.3" y="171.8">8</text></g>
<path d="M638.0 154.3h2 M638.0 127.7h2 M638.0 101.1h2 M638.0 74.5h2" stroke="#000" stroke-width="0.9"/>
<line x1="638.0" y1="167.6" x2="641.0" y2="167.6" stroke="#333" stroke-width="1"/>
<line x1="638.0" y1="141" x2="641.0" y2="141" stroke="#333" stroke-width="1"/>
<line x1="638.0" y1="114.4" x2="641.0" y2="114.4" stroke="#333" stroke-width="1"/>
<line x1="638.0" y1="87.8" x2="641.0" y2="87.8" stroke="#333" stroke-width="1"/>
<line x1="638.0" y1="61.2" x2="641.0" y2="61.2" stroke="#333" stroke-width="1"/>
<g font-size="10" text-anchor="end"><text x="669.45" y="171.5">0</text><text x="669.45" y="144.9">10000</text><text x="669.45" y="118.3">20000</text><text x="669.45" y="91.7">30000</text><text x="669.45" y="65.1">40000</text></g>
<text font-size="13.5" text-anchor="middle" transform="translate(16.8,107.2) rotate(-90)">Depth [km]</text>
<text font-size="13.5" text-anchor="middle" transform="translate(684.8,105.6) rotate(-90)">Cumulative number</text>
<text font-size="14" x="5.1" y="51.1">(a)</text>
<text font-size="13.8" x="54.6" y="61.8">All region</text>
<clipPath id="c1"><rect x="40.0" y="212.5" width="597.0" height="119.19999999999999"/></clipPath>
<g clip-path="url(#c1)">
<polyline points="70.7,331.2 140.7,330.9 171.4,327.4 188.9,324.8 195.5,320.4 215.2,311.6 232.7,306.4 254.6,304.2 298.4,302.9 340,301.2 372.4,296.2 398.9,292.3 443.1,288.7 452,286.5 491.8,283 522.8,278.6 542.7,273.2 544.9,271.9 547,258.7 549.3,254.2 553.7,250.7 560.4,247.6 567,243.2 571.4,238.7 575.8,232.1 580.3,228.6 589.1,226.8 602.4,225.5 620,224.6 637,223.4" fill="none" stroke="#ff0000" stroke-width="3.6" stroke-linejoin="round" stroke-linecap="round"/>
<line x1="191.89" y1="218.2" x2="191.89" y2="331.7" stroke="#ffa500" stroke-width="1.8" stroke-dasharray="11.1 5.5 1.3 5.5 11.1 5.2"/><line x1="452.28" y1="218.2" x2="452.28" y2="331.7" stroke="#ffa500" stroke-width="1.8" stroke-dasharray="11.1 5.5 1.3 5.5 11.1 5.2"/><line x1="526.26" y1="218.2" x2="526.26" y2="331.7" stroke="#ffa500" stroke-width="1.8" stroke-dasharray="11.1 5.5 1.3 5.5 11.1 5.2"/><line x1="545.36" y1="218.2" x2="545.36" y2="331.7" stroke="#ffa500" stroke-width="1.8" stroke-dasharray="11.1 5.5 1.3 5.5 11.1 5.2"/><line x1="552.28" y1="218.2" x2="552.28" y2="331.7" stroke="#ffa500" stroke-width="1.8" stroke-dasharray="11.1 5.5 1.3 5.5 11.1 5.2"/>
<path d="M69.6 331.7L70.4 313.8L71.2 331.7M139.2 331.7L140.0 294.4L140.8 331.7L141.6 300.2L142.4 319.1L143.2 295.9L144.0 292.9L144.8 331.7L145.6 331.7L146.4 282.5L147.2 315.7L148.0 331.7M151.2 331.7L152.0 304.9L152.8 311.1L153.6 314.1L154.4 300.9L155.2 301.8L156.0 331.7L156.8 290.0L157.6 331.7L158.4 331.7L159.2 292.2L160.0 331.7M161.6 331.7L162.4 279.6L163.2 331.7L164.0 323.1L164.8 272.1L165.6 331.7L166.4 294.6L167.2 242.3L168.0 317.4L168.8 331.7L169.6 280.5L170.4 277.8L171.2 313.9L172.0 323.6L172.8 331.7L173.6 331.7L174.4 264.6L175.2 315.9L176.0 331.7L176.8 331.7L177.6 275.8L178.4 282.5L179.2 331.7L180.0 331.7L180.8 310.4L181.6 331.7L182.4 257.2L183.2 331.7L184.0 292.2L184.8 331.7L185.6 307.6L186.4 331.7L187.2 290.8L188.0 282.5L188.8 321.9L189.6 331.7M192.8 331.7L193.6 222.9L194.4 318.9L195.2 331.7L196.0 267.6L196.8 331.7L197.6 323.5L198.4 287.0L199.2 299.3L200.0 331.7L200.8 303.4L201.6 314.2L202.4 331.7L203.2 296.8L204.0 331.7L204.8 331.7L205.6 296.8L206.4 307.9L207.2 305.5L208.0 317.7L208.8 331.7L209.6 331.7L210.4 313.3L211.2 326.4L212.0 323.3L212.8 331.7L213.6 324.9L214.4 331.7L215.2 331.7L216.0 312.9L216.8 331.7L217.6 310.8L218.4 331.7L219.2 325.4L220.0 312.0L220.8 331.7L221.6 311.9L222.4 309.0L223.2 331.7L224.0 321.3L224.8 331.7L225.6 331.7L226.4 306.4L227.2 331.7L228.0 324.2L228.8 331.7M230.4 331.7L231.2 314.0L232.0 321.4L232.8 327.1L233.6 331.7L234.4 313.3L235.2 313.7L236.0 331.7M237.6 331.7L238.4 328.1L239.2 313.8L240.0 331.7M241.6 331.7L242.4 323.2L243.2 331.7M244.8 331.7L245.6 307.9L246.4 331.7L247.2 331.7L248.0 330.2L248.8 331.7L249.6 319.6L250.4 331.7M252.0 331.7L252.8 322.1L253.6 331.7L254.4 278.1L255.2 331.7M256.8 331.7L257.6 326.9L258.4 329.5L259.2 322.3L260.0 328.5L260.8 327.3L261.6 331.7M264.0 331.7L264.8 328.1L265.6 331.7L266.4 331.7L267.2 328.7L268.0 331.7L268.8 331.7L269.6 327.3L270.4 331.7L271.2 331.7L272.0 329.7L272.8 328.2L273.6 331.7L274.4 313.4L275.2 329.2L276.0 331.7L276.8 310.8L277.6 331.7L278.4 331.7L279.2 307.9L280.0 331.7L280.8 326.6L281.6 331.7M283.2 331.7L284.0 326.6L284.8 330.2L285.6 328.1L286.4 321.1L287.2 331.7L288.0 331.7L288.8 325.3L289.6 314.3L290.4 329.0L291.2 331.7L292.0 313.3L292.8 320.8L293.6 331.7M295.2 331.7L296.0 294.4L296.8 331.7L297.6 331.7L298.4 326.2L299.2 331.7L300.0 320.5L300.8 331.7L301.6 313.8L302.4 331.7L303.2 326.4L304.0 331.7M306.4 331.7L307.2 329.0L308.0 319.6L308.8 331.7L309.6 304.9L310.4 331.7M312.0 331.7L312.8 321.3L313.6 331.7L314.4 329.5L315.2 331.7L316.0 294.4L316.8 331.7L317.6 331.7L318.4 320.6L319.2 323.5L320.0 331.7L320.8 322.3L321.6 331.7L322.4 331.7L323.2 328.4L324.0 331.7M325.6 331.7L326.4 316.8L327.2 327.0L328.0 312.1L328.8 320.3L329.6 331.7L330.4 323.6L331.2 290.0L332.0 331.7L332.8 324.6L333.6 331.7L334.4 330.2L335.2 327.5L336.0 331.7L336.8 329.0L337.6 331.7L338.4 317.2L339.2 295.9L340.0 313.0L340.8 331.7M344.0 331.7L344.8 326.7L345.6 331.7M348.0 331.7L348.8 311.8L349.6 331.7M352.8 331.7L353.6 312.9L354.4 331.7M356.0 331.7L356.8 326.9L357.6 311.2L358.4 331.7L359.2 331.7L360.0 315.6L360.8 331.7L361.6 311.1L362.4 315.6L363.2 331.7L364.0 320.8L364.8 331.7L365.6 331.7L366.4 311.4L367.2 331.7L368.0 328.4L368.8 326.6L369.6 331.7L370.4 330.2L371.2 328.3L372.0 291.5L372.8 330.2L373.6 310.7L374.4 331.7L375.2 322.7L376.0 329.0L376.8 331.7L377.6 331.7L378.4 325.5L379.2 329.5L380.0 331.7L380.8 331.7L381.6 329.4L382.4 331.7M384.0 331.7L384.8 318.7L385.6 331.7L386.4 317.5L387.2 301.9L388.0 313.3L388.8 326.2L389.6 331.7M393.6 331.7L394.4 291.5L395.2 320.9L396.0 331.7L396.8 329.0L397.6 290.0L398.4 322.9L399.2 314.3L400.0 331.7L400.8 309.5L401.6 320.0L402.4 314.6L403.2 331.7M404.8 331.7L405.6 320.2L406.4 319.9L407.2 331.7L408.0 318.0L408.8 331.7M410.4 331.7L411.2 310.6L412.0 330.2L412.8 315.0L413.6 331.7L414.4 326.4L415.2 331.7M417.6 331.7L418.4 330.2L419.2 322.1L420.0 331.7L420.8 325.5L421.6 319.2L422.4 317.0L423.2 331.7M425.6 331.7L426.4 327.1L427.2 329.5L428.0 331.7L428.8 319.9L429.6 331.7L430.4 325.8L431.2 331.7M433.6 331.7L434.4 323.6L435.2 331.7L436.0 331.7L436.8 319.5L437.6 326.0L438.4 331.7L439.2 331.7L440.0 324.2L440.8 331.7M442.4 331.7L443.2 320.1L444.0 331.7L444.8 325.8L445.6 329.4L446.4 315.6L447.2 326.1L448.0 315.9L448.8 306.4L449.6 321.6L450.4 331.7L451.2 331.7L452.0 325.6L452.8 331.7L453.6 322.0L454.4 328.6L455.2 323.9L456.0 331.7M459.2 331.7L460.0 316.0L460.8 331.7M465.6 331.7L466.4 313.7L467.2 328.2L468.0 331.7L468.8 330.0L469.6 331.7L470.4 309.3L471.2 328.4L472.0 331.7L472.8 331.7L473.6 317.1L474.4 331.7L475.2 317.9L476.0 325.8L476.8 331.7M479.2 331.7L480.0 317.6L480.8 320.0L481.6 331.7M485.6 331.7L486.4 294.4L487.2 331.7L488.0 328.7L488.8 331.7M490.4 331.7L491.2 303.4L492.0 331.7M493.6 331.7L494.4 318.5L495.2 331.7M498.4 331.7L499.2 326.5L500.0 331.7M501.6 331.7L502.4 307.9L503.2 331.7M504.8 331.7L505.6 309.9L506.4 331.7L507.2 309.7L508.0 314.5L508.8 309.8L509.6 315.0L510.4 331.7L511.2 330.2L512.0 331.7M514.4 331.7L515.2 329.0L516.0 312.4L516.8 331.7L517.6 324.7L518.4 331.7M520.8 331.7L521.6 330.2L522.4 331.7M524.0 331.7L524.8 306.4L525.6 331.7L526.4 330.1L527.2 331.7L528.0 331.7L528.8 315.9L529.6 331.7L530.4 322.6L531.2 311.9L532.0 311.4L532.8 309.8L533.6 300.4L534.4 331.7L535.2 324.1L536.0 324.4L536.8 325.7L537.6 329.1L538.4 331.7M540.0 331.7L540.8 317.6L541.6 320.6L542.4 322.2L543.2 318.5L544.0 313.0L544.8 331.7L545.6 251.2L546.4 308.8L547.2 284.0L548.0 303.7L548.8 309.2L549.6 312.6L550.4 303.4L551.2 331.7L552.0 310.8L552.8 322.7L553.6 324.3L554.4 331.7L555.2 322.1L556.0 325.3L556.8 318.4L557.6 325.7L558.4 323.2L559.2 331.7L560.0 325.6L560.8 331.7L561.6 321.5L562.4 331.7L563.2 318.9L564.0 325.1L564.8 323.2L565.6 321.1L566.4 324.9L567.2 325.6L568.0 323.1L568.8 331.7L569.6 306.4L570.4 319.6L571.2 322.5L572.0 331.7L572.8 321.4L573.6 321.2L574.4 331.7L575.2 331.7L576.0 324.6L576.8 331.7L577.6 331.7L578.4 319.7L579.2 331.7L580.0 319.7L580.8 322.1L581.6 324.9L582.4 331.7L583.2 324.0L584.0 331.7L584.8 322.1L585.6 322.4L586.4 331.7L587.2 325.7L588.0 331.7L588.8 331.7L589.6 330.1L590.4 331.7M592.8 331.7L593.6 329.9L594.4 331.7L595.2 327.5L596.0 331.7M601.6 331.7L602.4 301.9L603.2 331.7L604.0 328.9L604.8 331.7M608.0 331.7L608.8 320.3L609.6 331.7M614.4 331.7L615.2 310.8L616.0 331.7M627.2 331.7L628.0 330.1L628.8 331.7L629.6 316.8L630.4 331.7" fill="none" stroke="#262626" stroke-width="0.7"/>
</g>
<rect x="40.0" y="212.5" width="597.0" height="119.19999999999999" fill="none" stroke="#000" stroke-width="2"/>
<use href="#xax" transform="translate(0,331.7)"/>
<path d="M39.0 316.8h-2 M39.0 287h-2 M39.0 257.2h-2 M39.0 227.4h-2" stroke="#000" stroke-width="0.9"/>
<line x1="39.0" y1="331.7" x2="36.0" y2="331.7" stroke="#333" stroke-width="1"/>
<line x1="39.0" y1="301.9" x2="36.0" y2="301.9" stroke="#333" stroke-width="1"/>
<line x1="39.0" y1="272.1" x2="36.0" y2="272.1" stroke="#333" stroke-width="1"/>
<line x1="39.0" y1="242.3" x2="36.0" y2="242.3" stroke="#333" stroke-width="1"/>
<line x1="39.0" y1="212.5" x2="36.0" y2="212.5" stroke="#333" stroke-width="1"/>
<g  font-size="10" text-anchor="end" fill="#000"><text x="34.3" y="335.9">0</text><text x="34.3" y="306.1">20</text><text x="34.3" y="276.3">40</text><text x="34.3" y="246.5">60</text><text x="34.3" y="216.7">80</text></g>
<path d="M638.0 326.83h2 M638.0 321.96h2 M638.0 317.09h2 M638.0 312.22h2 M638.0 302.48h2 M638.0 297.61h2 M638.0 292.74h2 M638.0 287.87h2 M638.0 278.13h2 M638.0 273.26h2 M638.0 268.39h2 M638.0 263.52h2 M638.0 253.78h2 M638.0 248.91h2 M638.0 244.04h2 M638.0 239.17h2 M638.0 229.43h2 M638.0 224.56h2 M638.0 219.69h2 M638.0 214.82h2" stroke="#000" stroke-width="0.9"/>
<line x1="638.0" y1="331.7" x2="641.0" y2="331.7" stroke="#333" stroke-width="1"/>
<line x1="638.0" y1="307.35" x2="641.0" y2="307.35" stroke="#333" stroke-width="1"/>
<line x1="638.0" y1="283" x2="641.0" y2="283" stroke="#333" stroke-width="1"/>
<line x1="638.0" y1="258.65" x2="641.0" y2="258.65" stroke="#333" stroke-width="1"/>
<line x1="638.0" y1="234.3" x2="641.0" y2="234.3" stroke="#333" stroke-width="1"/>
<g font-size="10" text-anchor="end"><text x="664.06" y="335.6">0</text><text x="664.06" y="311.25">500</text><text x="664.06" y="286.9">1000</text><text x="664.06" y="262.55">1500</text><text x="664.06" y="238.2">2000</text></g>
<text font-size="13.5" text-anchor="middle" transform="translate(17.7,271.3) rotate(-90)">LF ratio [%]</text>
<text font-size="13.5" text-anchor="middle" transform="translate(679.6,269.7) rotate(-90)">Cumulative number (LF)</text>
<text font-size="14" x="4.5" y="224.4">(b)</text>
<text font-size="13.8" x="57.5" y="229.4">All region (LF)</text>
<clipPath id="c2"><rect x="40.0" y="376.6" width="597.0" height="119.19999999999999"/></clipPath>
<g clip-path="url(#c2)">
<g transform="scale(.5)" stroke-linecap="round" fill="none"><path d="M143 842h0m0 19h0m0 25h0m0 81h0m1-186h0m0 9h0m0 49h0m0 14h0m0 34h0m0 26h0m1-102h0m0 34h0m1-22h0m1-37h0m0 10h0m1 19h0m2 24h0m1-16h0m3-13h0m7 19h0m8-1h0m13-6h0m26-49h0m2 67h0m4-20h0m13-15h0m44 59h0m1-37h0m1 29h0m2-73h0m1 77h0m0 54h0m27-118h0m0 22h0m4 20h0m2-27h0m2 12h0m1 19h0m3-43h0m0 11h0m1-12h0m1 30h0m1 13h0m1-28h0m0 25h0m0 12h0m1-3h0m4-45h0m0 60h0m4-71h0m7 41h0m1 2h0m3-10h0m0 9h0m1-32h0m1 28h0m3-28h0m0 32h0m0 53h0m1-76h0m0 65h0m4-60h0m1-14h0m4 8h0m1-15h0m0 18h0m3-3h0m5 7h0m1-1h0m5-10h0m3 6h0m0 15h0m6-9h0m0 1h0m2-18h0m2 31h0m2-54h0m0 3h0m0 2h0m0 29h0m0 11h0m0 5h0m1-16h0m0 0h0m0 42h0m0 5h0m0 2h0m0 37h0m1-134h0m0 25h0m0 0h0m0 70h0m0 2h0m1-62h0m0 13h0m0 12h0m0 45h0m0 10h0m1-101h0m0 35h0m0 54h0m0 15h0m1-53h0m0 10h0m0 55h0m1-114h0m0 110h0m1-107h0m0 9h0m1 15h0m0 17h0m0 39h0m1-47h0m0 10h0m0 27h0m0 16h0m1-69h0m0 6h0m1-7h0m0 13h0m0 49h0m0 3h0m1-60h0m0 5h0m0 7h0m0 6h0m0 11h0m0 16h0m1-49h0m0 2h0m0 5h0m0 7h0m0 12h0m0 1h0m0 12h0m0 18h0m1-54h0m0 0h0m0 26h0m0 21h0m1-54h0m0 5h0m0 2h0m0 5h0m0 29h0m0 30h0m1-27h0m1-31h0m0 6h0m0 13h0m0 4h0m0 35h0m1-24h0m0 32h0m1 32h0m1-100h0m0 0h0m0 6h0m0 30h0m1 5h0m1 30h0m1-93h0m0 24h0m0 2h0m0 25h0m0 10h0m1-50h0m1-2h0m0 81h0m0 1h0m1-97h0m0 19h0m0 51h0m0 18h0m1-78h0m0 76h0m0 35h0m1-90h0m0 47h0m0 8h0m0 1h0m0 16h0m0 12h0m1-106h0m0 44h0m0 48h0m0 28h0m0 28h0m1-120h0m0 7h0m0 12h0m0 0h0m0 49h0m1-119h0m0 63h0m1-30h0m0 11h0m0 11h0m0 16h0m0 0h0m0 1h0m0 2h0m1-51h0m0 50h0m0 5h0m1-84h0m0 56h0m0 4h0m0 44h0m0 15h0m0 42h0m0 3h0m1-134h0m0 14h0m1 24h0m0 55h0m1-80h0m0 31h0m0 19h0m1-52h0m0 3h0m0 46h0m0 3h0m0 6h0m0 23h0m1-77h0m0 25h0m1-62h0m0 42h0m0 6h0m0 35h0m0 36h0m1-71h0m0 5h0m0 15h0m0 46h0m1-81h0m0 33h0m0 46h0m0 12h0m1-65h0m0 2h0m1-22h0m0 6h0m0 6h0m0 10h0m0 31h0m0 3h0m1-96h0m0 111h0m0 0h0m2-67h0m1 42h0m1-36h0m0 48h0m1-35h0m0 27h0m0 29h0m1-75h0m0 1h0m0 55h0m1-27h0m2 29h0m1-77h0m0 23h0m0 21h0m1-4h0m0 49h0m0 7h0m1-94h0m0 6h0m1 18h0m1-9h0m0 2h0m0 37h0m2-5h0m1-39h0m0 61h0m0 32h0m1-103h0m0 35h0m1-22h0m0 12h0m1-58h0m0 15h0m0 12h0m0 30h0m0 9h0m0 7h0m1-13h0m0 28h0m1-42h0m0 11h0m0 54h0m0 9h0m2-28h0m1-15h0m1 17h0m0 15h0m1-67h0m1 34h0m0 7h0m4 5h0m1 28h0m2-41h0m0 12h0m1 0h0m0 23h0m1-38h0m1-23h0m1 4h0m1-20h0m1 42h0m2 33h0m1-61h0m0 54h0m1 18h0m2-13h0m2 8h0m1-66h0m1-26h0m0 57h0m2 16h0m1-52h0m1 41h0m0 10h0m1-13h0m3 21h0m24-72h0m3 76h0m9-62h0m10 173h0m10-180h0m0 19h0m1-18h0m0 4h0m0 12h0m0 23h0m1-44h0m0 7h0m23-8h0m10 99h0m6-73h0m3 55h0m2-39h0m1-8h0m3 6h0m2 6h0m1-39h0m0 21h0m1 23h0m0 0h0m0 17h0m1-36h0m1-12h0m0 37h0m1-52h0m2 44h0m17-48h0m0 10h0m14 7h0m13-27h0m0 61h0m1-44h0m0 32h0m0 22h0m0 5h0m2-3h0m1-39h0m1 13h0m2 22h0m10-53h0m1-10h0m19 78h0m6-33h0m4-32h0m2 32h0m2 51h0m3-65h0m1 15h0m7-1h0m4 1h0m1 19h0m0 11h0m5-59h0m3 29h0m0 1h0m3-4h0m0 4h0m7 28h0m4 77h0m4-106h0m0 4h0m1 5h0m3-15h0m2 42h0m1-33h0m2-1h0m4 7h0m2-5h0m3 33h0m0 3h0m4-42h0m4-2h0m2-20h0m4 26h0m2-4h0m7-54h0m0 28h0m1 64h0m10-36h0m1 39h0m1-7h0m1-24h0m1-5h0m0 39h0m0 2h0m1-36h0m0 8h0m0 10h0m0 1h0m0 1h0m1 5h0m3-36h0m7 10h0m10-8h0m7-3h0m0 7h0m0 110h0m1-113h0m1 5h0m2 25h0m5-29h0m3 31h0m5-30h0m2-31h0m5-15h0m8 13h0m5 31h0m6 25h0m4-69h0m0 44h0m10-48h0m4 64h0m1-67h0m1 27h0m0 36h0m1 29h0m0 2h0m1 6h0m5-7h0m2-36h0m2 5h0m6-13h0m3 3h0m2-2h0m3-3h0m5 2h0m2-4h0m4-8h0m1 40h0m4-25h0m9 5h0m55-12h0m2 40h0m3-13h0m2-12h0m4 9h0m1-16h0m3 3h0m1 6h0m2-12h0m0 34h0m2-33h0m3 22h0m3-29h0m0 11h0m4-20h0m2 1h0m3 12h0m0 2h0m1 13h0m1-30h0m4 28h0m1-1h0m2-18h0m2 9h0m0 15h0m2-17h0m14-25h0m1-31h0m2 40h0m2-9h0m1 36h0m1 17h0m2 31h0m1-66h0m2-30h0m0 3h0m1 70h0m1-27h0m1-29h0m0 22h0m0 10h0m2-4h0m1-33h0m0 5h0m0 9h0m0 3h0m2-53h0m0 50h0m0 2h0m1 42h0m2-45h0m1 15h0m1 3h0m2 14h0m2-54h0m0 7h0m1 50h0m1 8h0m0 17h0m0 14h0m0 14h0m1-126h0m1 7h0m0 12h0m0 38h0m0 3h0m0 4h0m0 23h0m1-30h0m1 4h0m1 14h0m1-9h0m0 7h0m0 34h0m1-15h0m1 22h0m1-118h0m0 67h0m1 14h0m1-40h0m0 12h0m0 19h0m1-17h0m0 60h0m1-7h0m2 57h0m1-53h0m4-72h0m1-6h0m2 0h0m0 7h0m1 41h0m3-44h0m3 24h0m1-54h0m0 4h0m0 21h0m0 23h0m1-16h0m1-37h0m0 34h0m0 3h0m1-3h0m0 7h0m0 15h0m1 33h0m1-23h0m1-50h0m0 18h0m2-32h0m1 35h0m1 41h0m0 18h0m0 4h0m1-70h0m2 43h0m3-19h0m2-52h0m0 33h0m0 30h0m1-70h0m0 24h0m0 58h0m1-61h0m0 2h0m0 176h0m1-187h0m0 8h0m0 1h0m0 39h0m0 13h0m1-69h0m0 32h0m0 57h0m1-17h0m1-71h0m1 2h0m0 10h0m0 18h0m0 1h0m0 5h0m0 1h0m1 1h0m0 11h0m0 21h0m1-24h0m1-17h0m0 12h0m0 29h0m2-19h0m1-30h0m1 10h0m0 13h0m0 1h0m0 32h0m1-70h0m0 8h0m1 78h0m2-93h0m0 36h0m0 25h0m1-26h0m0 11h0m0 53h0m1-63h0m0 53h0m1-100h0m0 2h0m0 78h0m0 28h0m1-86h0m0 0h0m0 69h0m1-58h0m0 12h0m1-45h0m0 111h0m1-77h0m0 20h0m0 25h0m0 94h0m1-125h0m0 15h0m0 45h0m0 5h0m1-93h0m0 8h0m0 6h0m0 10h0m0 63h0m1-96h0m0 40h0m6 1h0m4-8h0m5 30h0m2-64h0m2 52h0m4-24h0m0 16h0m1 20h0m2 26h0m1-38h0m1-6h0m0 53h0m11-41h0m0 52h0m2-55h0m2 0h0m1 3h0m3 8h0m1 18h0m2 12h0m2-15h0m2-27h0m37 37h0m0 18h0m1-79h0m1 7h0m0 3h0m0 6h0m1 7h0m2 2h0m2-1h0m1-32h0m1-4h0m0 19h0m1-11h0m0 7h0m3-19h0m0 43h0m1-26h0m1-12h0m3-9h0m1 40h0m0 10h0" stroke="#000" stroke-width="2.5"/>
<path d="M120 788h0m24-10h0m1 11h0m0 10h0m0 16h0m0 25h0m1-50h0m0 7h0m0 104h0m1-74h0m0 16h0m1-62h0m2 43h0m2-13h0m55 18h0m4 1h0m56-9h0m6 27h0m36-26h0m5-9h0m4-19h0m15 28h0m9-3h0m5 130h0m2-118h0m3-5h0m5-37h0m1 30h0m1 7h0m1 78h0m1-114h0m0 41h0m4 127h0m3-123h0m16 12h0m0 9h0m3-29h0m0 15h0m0 3h0m0 3h0m1-38h0m0 25h0m0 6h0m1-31h0m1-20h0m0 56h0m0 35h0m1-92h0m0 27h0m0 16h0m1 40h0m0 2h0m2-62h0m1 25h0m3-9h0m0 9h0m1-16h0m0 20h0m1-26h0m0 7h0m1-1h0m1 35h0m1-30h0m0 1h0m2-10h0m0 13h0m2-22h0m1-15h0m0 43h0m0 31h0m1-14h0m0 3h0m1 5h0m0 35h0m1-101h0m0 32h0m0 9h0m0 6h0m0 85h0m1-129h0m0 10h0m0 36h0m0 20h0m0 72h0m1-120h0m0 82h0m1-93h0m0 18h0m0 2h0m0 55h0m2-28h0m1-24h0m0 4h0m0 35h0m0 41h0m1-82h0m0 66h0m1-70h0m0 40h0m1-85h0m0 28h0m0 1h0m0 6h0m0 58h0m1-4h0m1-72h0m0 38h0m1-48h0m0 21h0m0 17h0m1 14h0m1-36h0m0 11h0m1 26h0m0 1h0m0 28h0m1-52h0m2 51h0m1-85h0m1 66h0m1-72h0m0 51h0m3-22h0m1 13h0m0 47h0m3-99h0m0 35h0m0 39h0m1-44h0m0 17h0m0 44h0m0 5h0m0 3h0m2-110h0m0 29h0m0 58h0m0 41h0m0 6h0m1-99h0m0 88h0m1-71h0m3 13h0m1-27h0m0 28h0m1-23h0m0 23h0m1 54h0m1-65h0m0 32h0m0 40h0m1-91h0m0 39h0m0 7h0m0 5h0m1 2h0m3-11h0m0 5h0m0 9h0m0 7h0m0 41h0m2-14h0m2-39h0m1-24h0m0 9h0m3-11h0m0 42h0m1-2h0m1-30h0m1-15h0m2 18h0m0 26h0m2 49h0m5-115h0m8 94h0m4 10h0m26-74h0m19-31h0m8 13h0m2 7h0m1 25h0m1-13h0m0 10h0m2 27h0m39-67h0m22 29h0m27 167h0m5-141h0m5-37h0m3 66h0m12-17h0m5 4h0m3 18h0m6-87h0m13 77h0m4-89h0m0 12h0m10 22h0m7-18h0m12-2h0m0 41h0m3 18h0m2-20h0m5 49h0m3-44h0m11-6h0m0 24h0m10-24h0m6 10h0m7-1h0m4-15h0m4 34h0m12-25h0m6-11h0m1-14h0m7-4h0m10 44h0m0 35h0m44-54h0m2-45h0m5 18h0m14-4h0m3 38h0m3-3h0m1 2h0m2 5h0m1-30h0m0 84h0m1-40h0m1-56h0m0 20h0m2 19h0m25-53h0m15 54h0m5-6h0m10 34h0m32-34h0m2 15h0m11-1h0m12 23h0m3-25h0m2-22h0m2 1h0m3 26h0m14-2h0m5-6h0m0 4h0m2 12h0m1-23h0m0 7h0m2-6h0m0 8h0m1-24h0m3 1h0m2 20h0m1-17h0m1 33h0m1-32h0m1 40h0m1-45h0m0 40h0m1 0h0m8-14h0m7-37h0m0 64h0m8-86h0m4 49h0m3 10h0m4 31h0m1-20h0m0 13h0m1-35h0m0 3h0m2 14h0m0 60h0m1-80h0m1-40h0m1-11h0m0 2h0m0 12h0m0 80h0m1-1h0m3-88h0m0 2h0m0 24h0m0 1h0m0 60h0m1 100h0m3-92h0m2-67h0m0 68h0m2-25h0m1-69h0m1-17h0m0 46h0m5-44h0m7 85h0m3-75h0m0 8h0m2-7h0m2-1h0m4 10h0m0 15h0m1 38h0m0 12h0m1-80h0m0 16h0m0 11h0m0 75h0m1-35h0m3-5h0m2-63h0m0 80h0m1-80h0m1 29h0m1 29h0m0 44h0m1-31h0m1-25h0m0 31h0m1-33h0m0 22h0m0 0h0m0 9h0m1-71h0m0 16h0m1-13h0m0 76h0m1-75h0m0 0h0m0 29h0m1 16h0m1-47h0m0 44h0m1 1h0m1-33h0m1-24h0m1 37h0m0 17h0m0 9h0m1-38h0m0 85h0m0 4h0m2-33h0m0 8h0m1-22h0m4 7h0m2 11h0m1 6h0m0 21h0m1-93h0m1 1h0m1 37h0m1 103h0m2-76h0m12-64h0m1 34h0m1 34h0m1-7h0m6-28h0m24 7h0m2 21h0m2-10h0m2-3h0m2 5h0m35-40h0m1-5h0m0 1h0m1 49h0m3-8h0m11-8h0" stroke="#000" stroke-width="3"/>
<path d="M144 807h0m0 44h0m1-15h0m1-2h0m0 32h0m17-47h0m22-31h0m28 33h0m59 7h0m19 7h0m2-23h0m3 12h0m2-23h0m9 40h0m4-15h0m14 36h0m3-72h0m4 8h0m1 45h0m1-26h0m1-25h0m5 0h0m6-3h0m2 5h0m4 4h0m1 10h0m1 24h0m11-49h0m11 106h0m4-65h0m3-21h0m1-16h0m0 6h0m0 12h0m0 2h0m2 1h0m1-7h0m0 21h0m0 1h0m0 8h0m0 4h0m2-57h0m0 23h0m0 69h0m0 0h0m1-51h0m0 19h0m2-62h0m0 40h0m1 57h0m1-76h0m0 53h0m0 10h0m0 4h0m2-78h0m0 48h0m0 57h0m1-77h0m0 9h0m3-37h0m0 37h0m0 2h0m0 19h0m0 17h0m1-59h0m0 3h0m1 66h0m1-102h0m0 75h0m1-6h0m1-56h0m1-4h0m0 23h0m2-20h0m0 52h0m0 32h0m1-100h0m1 51h0m1 13h0m1-31h0m0 46h0m1-77h0m0 40h0m1 4h0m0 76h0m1-134h0m0 75h0m0 23h0m0 3h0m0 15h0m1-19h0m0 1h0m0 8h0m1-44h0m0 91h0m1-118h0m0 32h0m0 112h0m1-55h0m1-51h0m0 15h0m0 18h0m1-42h0m1-48h0m0 64h0m0 21h0m1-25h0m1-30h0m0 1h0m0 19h0m0 16h0m1-39h0m0 102h0m1-55h0m1-57h0m4 40h0m1 35h0m1-48h0m2-6h0m0 82h0m1-58h0m0 53h0m1-111h0m0 49h0m0 52h0m2-54h0m0 41h0m3-81h0m1 26h0m0 56h0m2 1h0m2-81h0m0 31h0m2-8h0m1 43h0m2-62h0m0 45h0m0 2h0m2-56h0m1 65h0m1-84h0m0 105h0m1-56h0m1-50h0m0 36h0m0 53h0m1-5h0m13-29h0m2 21h0m10 13h0m3-5h0m50 5h0m6-20h0m2-22h0m0 22h0m1-8h0m6-9h0m22-9h0m11 43h0m7 11h0m2-62h0m13 1h0m17 30h0m8 5h0m22 6h0m9-22h0m2 21h0m4-40h0m3 84h0m21-92h0m6 53h0m11-3h0m6 1h0m6-6h0m5-26h0m9 55h0m2-24h0m19 46h0m9-99h0m11 22h0m5 32h0m0 25h0m1-71h0m1 43h0m4 28h0m5-32h0m3 20h0m2-9h0m0 7h0m0 13h0m5-26h0m9-2h0m6-52h0m3 61h0m14-45h0m1 46h0m3-6h0m9-35h0m4 18h0m0 15h0m4-1h0m31-27h0m0 26h0m0 28h0m0 4h0m0 12h0m1 18h0m2-14h0m6-70h0m10-23h0m1 61h0m3-9h0m4-2h0m3-41h0m1 41h0m2-2h0m3-2h0m9 41h0m8-37h0m1-18h0m35 7h0m2 18h0m4 0h0m5 7h0m1-24h0m3-10h0m8 23h0m2 0h0m1 9h0m0 20h0m19-55h0m7 43h0m1 6h0m2-40h0m0 38h0m1-13h0m2-19h0m1 36h0m2-28h0m5-20h0m2 19h0m10-46h0m1 51h0m2-37h0m2-26h0m4 43h0m1 20h0m4 2h0m1-28h0m3-29h0m0 50h0m1 34h0m0 11h0m2-45h0m1-5h0m0 2h0m2-7h0m2-43h0m2-16h0m0 48h0m1-16h0m0 7h0m1-21h0m5 46h0m0 11h0m1-40h0m0 78h0m2-42h0m2-39h0m0 49h0m1-22h0m0 56h0m1-78h0m2-1h0m0 48h0m0 40h0m1-90h0m0 33h0m0 45h0m0 5h0m0 82h0m2-140h0m0 34h0m2 112h0m1-98h0m6-26h0m3 108h0m1-137h0m3-8h0m1-12h0m0 41h0m1 29h0m4-96h0m3 41h0m0 61h0m1-14h0m0 11h0m0 7h0m1-79h0m1 8h0m2 68h0m3-86h0m2-13h0m0 82h0m0 8h0m1-66h0m0 6h0m1 41h0m0 19h0m1-22h0m0 27h0m1-25h0m0 5h0m0 33h0m0 1h0m1-83h0m0 38h0m0 83h0m1-130h0m1-19h0m0 78h0m3-32h0m3-22h0m0 5h0m1-31h0m0 21h0m1 4h0m0 5h0m0 25h0m1 54h0m3-44h0m1 1h0m0 73h0m1-62h0m2 20h0m1-100h0m0 24h0m1-15h0m1 32h0m0 26h0m0 6h0m0 23h0m1-7h0m5-42h0m4-4h0m19 63h0m19-58h0m46 17h0m4-30h0m1 5h0m0 25h0m1-2h0m1-26h0m1 15h0m3-9h0m2 8h0m4-52h0" stroke="#000" stroke-width="3.5"/>
<path d="M142 803h0m1-23h0m0 146h0m0 10h0m1-105h0m1-36h0m0 36h0m5-12h0m3-4h0m4 21h0m1 123h0m1-134h0m3-8h0m5-20h0m3 19h0m3 13h0m34-9h0m3 8h0m81-4h0m0 8h0m5-33h0m4 47h0m2-49h0m1 9h0m2-7h0m1 11h0m2 20h0m3-1h0m5-34h0m1 26h0m3 2h0m0 1h0m16-8h0m2 5h0m6-12h0m4 15h0m1 9h0m5 5h0m1-27h0m3-4h0m6 12h0m6-4h0m0 22h0m2-25h0m3 12h0m9 1h0m1-2h0m0 8h0m1 14h0m0 8h0m1-46h0m0 43h0m1-57h0m0 93h0m1-32h0m1-38h0m0 15h0m2-24h0m0 15h0m0 23h0m0 24h0m1-40h0m0 6h0m2-46h0m2 15h0m0 3h0m0 8h0m1-27h0m1 12h0m0 57h0m1-36h0m0 13h0m0 37h0m1-59h0m0 4h0m0 23h0m1-36h0m0 76h0m1-36h0m0 4h0m2-57h0m0 17h0m0 19h0m1-52h0m0 12h0m0 28h0m0 13h0m1-34h0m1 47h0m1-76h0m0 56h0m1-55h0m0 27h0m0 74h0m1-74h0m0 20h0m1-13h0m0 49h0m0 81h0m1-161h0m0 84h0m0 11h0m1-80h0m0 70h0m0 31h0m1-13h0m1-100h0m0 37h0m0 64h0m0 4h0m0 12h0m1-79h0m0 19h0m0 12h0m0 11h0m1-30h0m0 15h0m1-51h0m0 78h0m0 4h0m0 45h0m1-90h0m0 33h0m1-95h0m0 17h0m0 37h0m0 30h0m1-33h0m0 49h0m1-86h0m0 5h0m0 45h0m0 5h0m0 16h0m1-1h0m1 27h0m2-91h0m0 37h0m0 17h0m0 44h0m4-59h0m1-50h0m0 18h0m0 58h0m1-13h0m4 31h0m1-52h0m0 95h0m8-105h0m2-6h0m0 29h0m0 12h0m3 48h0m1-61h0m4-13h0m0 76h0m1-56h0m1 60h0m3-28h0m9-35h0m0 53h0m6-71h0m2 30h0m2 21h0m2-33h0m0 1h0m1 5h0m4-34h0m3 91h0m25-65h0m25 150h0m4-171h0m0 27h0m23-5h0m32 11h0m1 8h0m47 20h0m2-32h0m0 17h0m1-16h0m0 2h0m0 3h0m1 11h0m25-49h0m13 35h0m0 34h0m4-21h0m9-17h0m2 1h0m5-45h0m15 91h0m2-54h0m8-24h0m9 2h0m1 81h0m1-38h0m1-66h0m0 55h0m3 2h0m1-4h0m4 6h0m1-7h0m0 50h0m5-23h0m2 16h0m8-41h0m3 4h0m10 105h0m2-105h0m2-4h0m0 5h0m6-6h0m2 5h0m1 13h0m0 16h0m0 9h0m3-41h0m19 0h0m4-51h0m6 95h0m1-41h0m9-10h0m0 31h0m1-25h0m8 6h0m2-18h0m11 10h0m0 91h0m6-101h0m3 43h0m9-39h0m7-29h0m1-4h0m0 67h0m0 9h0m0 12h0m1-90h0m0 102h0m2-93h0m1 30h0m2 7h0m4-17h0m5-3h0m0 20h0m6-13h0m9 9h0m0 0h0m9-51h0m2 20h0m11 30h0m1 2h0m3 44h0m3-72h0m45 23h0m9 4h0m5-24h0m6 37h0m19-30h0m0 33h0m3-20h0m0 14h0m1-22h0m6 28h0m6-1h0m6-19h0m7 4h0m0 4h0m1 12h0m1-42h0m0 20h0m7-2h0m4 32h0m3-53h0m0 49h0m5-3h0m1 25h0m6-32h0m1-9h0m0 33h0m1-28h0m3-33h0m0 79h0m2-70h0m1 9h0m1-33h0m0 92h0m1-21h0m0 5h0m1-94h0m0 6h0m0 79h0m1-78h0m0 10h0m0 90h0m1-84h0m0 95h0m1-54h0m0 27h0m2-1h0m1-42h0m12 4h0m0 38h0m1-46h0m0 46h0m2-60h0m2-25h0m2 9h0m3 36h0m0 37h0m0 19h0m2-90h0m0 9h0m0 57h0m0 18h0m2-18h0m5-36h0m0 21h0m0 97h0m1-146h0m0 25h0m0 57h0m0 17h0m1-97h0m2-20h0m0 117h0m1-76h0m1-28h0m0 80h0m0 17h0m1-83h0m0 61h0m0 4h0m1-57h0m0 80h0m1-2h0m5-32h0m1-29h0m1-25h0m0 65h0m1-61h0m1-24h0m0 42h0m1 11h0m3 46h0m1-31h0m0 17h0m1-23h0m1-18h0m0 35h0m0 0h0m1-33h0m1-34h0m0 26h0m0 25h0m0 17h0m1-59h0m1 48h0m1-57h0m6 45h0m3-10h0m7-6h0m1-30h0m8 68h0m1-37h0m4 1h0m8 38h0m1-41h0m52-28h0m1 22h0m4 3h0m1 5h0m0 2h0m4-28h0m2 42h0m1-1h0m4-9h0m1 28h0" stroke="#000" stroke-width="4"/>
<path d="M179 821h0m232 20h0m707 86h0m10-12h0m8-40h0m24-86h0m2 101h0" stroke="#000" stroke-width="5.8"/>
<path d="M386 808h0m15 73h0m16-40h0m8 11h0m683 74h0m36-56h0m19 109h0m58-201h0" stroke="#000" stroke-width="6.8"/>
<path d="M414 813h0m145 151h0m500 10h0m30-169h0m50 131h0" stroke="#000" stroke-width="7.8"/>
<path d="M1142 872h0" stroke="#000" stroke-width="8.8"/>
<path d="M1090 835h0" stroke="#000" stroke-width="9.8"/>
<path d="M1148 922h0" stroke="#000" stroke-width="10.8"/>
<path d="M179 821h0m232 20h0m707 86h0m10-12h0m8-40h0m24-86h0m2 101h0" stroke="#e8e8e8" stroke-width="1.8"/>
<path d="M386 808h0m15 73h0m16-40h0m8 11h0m683 74h0m36-56h0m19 109h0m58-201h0" stroke="#e8e8e8" stroke-width="2.8"/>
<path d="M414 813h0m145 151h0m500 10h0m30-169h0m50 131h0" stroke="#e8e8e8" stroke-width="3.8"/>
<path d="M1142 872h0" stroke="#e8e8e8" stroke-width="4.8"/>
<path d="M1090 835h0" stroke="#b4b4b4" stroke-width="5.8"/>
<path d="M1148 922h0" stroke="#b4b4b4" stroke-width="6.8"/></g>
<g transform="scale(.5)" stroke-linecap="round" fill="none"><path d="M142 816h0m1 22h0m0 45h0m0 48h0m1-150h0m0 12h0m0 47h0m1-61h0m0 19h0m0 4h0m0 17h0m0 31h0m0 39h0m1-77h0m0 13h0m0 14h0m1-52h0m0 41h0m0 15h0m1-56h0m0 38h0m0 12h0m7 2h0m2-3h0m5-12h0m2 13h0m3-20h0m2 27h0m4-29h0m8 35h0m1-70h0m1 26h0m10 60h0m12-44h0m2-7h0m0 11h0m7 9h0m6-9h0m47 10h0m1-8h0m1 30h0m1-18h0m1 32h0m1-18h0m0 26h0m2-10h0m2-27h0m0 12h0m1-12h0m1 21h0m11-3h0m3-23h0m2 0h0m2-29h0m0 2h0m5-17h0m3 36h0m3-31h0m0 5h0m3 14h0m1-3h0m1 6h0m0 68h0m2-91h0m0 24h0m0 5h0m3-29h0m0 34h0m4-10h0m6-12h0m2 113h0m1-101h0m2-23h0m1 57h0m3-37h0m1 130h0m2-130h0m0 3h0m2-21h0m0 24h0m2-15h0m2 26h0m1-21h0m1 7h0m1 15h0m2-20h0m3-9h0m3 27h0m1 3h0m1 3h0m3 8h0m1-22h0m2-33h0m5 63h0m1-48h0m2 139h0m1-156h0m4 12h0m1 5h0m0 19h0m4 56h0m2-102h0m0 3h0m0 12h0m0 4h0m0 1h0m0 5h0m1-18h0m0 0h0m0 11h0m0 66h0m1-59h0m0 22h0m0 37h0m1-84h0m0 9h0m0 21h0m0 12h0m1-53h0m0 66h0m1-61h0m0 22h0m0 44h0m0 3h0m0 6h0m1-75h0m0 9h0m0 24h0m0 34h0m0 34h0m1-96h0m0 1h0m0 35h0m0 28h0m1-7h0m1-23h0m0 25h0m1-61h0m0 73h0m1-59h0m0 20h0m0 0h0m0 20h0m0 32h0m1-75h0m0 68h0m0 35h0m1-132h0m0 87h0m0 36h0m1-122h0m0 118h0m1-67h0m0 22h0m0 10h0m1-21h0m0 8h0m0 9h0m0 20h0m1-61h0m0 3h0m0 7h0m1 0h0m0 7h0m1-30h0m0 32h0m0 11h0m0 8h0m0 17h0m0 17h0m0 0h0m1-76h0m0 21h0m0 2h0m0 66h0m1-105h0m0 8h0m0 9h0m0 28h0m0 49h0m1-73h0m0 7h0m0 10h0m0 15h0m0 1h0m0 11h0m0 7h0m0 14h0m1-40h0m1-64h0m0 29h0m0 5h0m0 19h0m0 29h0m1-56h0m0 1h0m0 9h0m0 27h0m0 44h0m1-93h0m0 27h0m0 37h0m1-68h0m0 106h0m1-77h0m0 8h0m0 10h0m0 8h0m0 62h0m1-85h0m0 77h0m1-90h0m0 44h0m0 10h0m0 52h0m0 9h0m1-127h0m0 37h0m0 93h0m1-88h0m0 1h0m0 11h0m0 7h0m0 1h0m0 29h0m1-84h0m0 28h0m0 17h0m0 3h0m0 12h0m0 29h0m1-76h0m0 7h0m0 17h0m0 38h0m0 52h0m1-122h0m0 17h0m0 53h0m0 14h0m0 25h0m0 2h0m1-105h0m0 16h0m0 7h0m0 18h0m0 67h0m1-68h0m0 34h0m0 12h0m1-78h0m0 7h0m0 0h0m0 123h0m1-138h0m0 57h0m1-14h0m0 14h0m1-38h0m0 7h0m0 7h0m0 20h0m1-63h0m0 26h0m0 6h0m0 4h0m1-10h0m0 42h0m0 5h0m1-26h0m0 31h0m0 3h0m1-77h0m0 41h0m1-43h0m1 3h0m1 19h0m0 1h0m0 35h0m1-24h0m0 51h0m0 1h0m0 15h0m1-105h0m0 25h0m0 68h0m1-92h0m0 23h0m0 63h0m1 10h0m1-117h0m0 29h0m0 29h0m0 18h0m1-1h0m0 12h0m0 1h0m0 7h0m0 5h0m1-105h0m2 71h0m0 11h0m0 20h0m1-87h0m0 30h0m0 16h0m0 35h0m0 12h0m1-74h0m0 68h0m0 9h0m1-64h0m0 65h0m1-87h0m0 19h0m0 25h0m0 39h0m0 11h0m1-66h0m1 16h0m0 4h0m2-30h0m1 4h0m0 15h0m0 5h0m2-18h0m0 62h0m1-36h0m0 26h0m1-34h0m1-36h0m0 57h0m0 18h0m1-38h0m0 59h0m1-35h0m0 18h0m1-33h0m1 7h0m2-25h0m1 31h0m0 16h0m2-46h0m1-8h0m1 26h0m0 14h0m0 117h0m5-148h0m1 47h0m2-10h0m2-28h0m0 67h0m1-87h0m0 33h0m1-14h0m0 29h0m1 7h0m6-38h0m0 26h0m1-25h0m0 17h0m0 7h0m2-22h0m11-15h0m9-30h0m11 56h0m5 18h0m12-35h0m1-11h0m6 1h0m1-22h0m0 38h0m1-26h0m0 3h0m0 3h0m0 33h0m2 16h0m5-52h0m9-23h0m10 64h0m7-41h0m17 54h0m1-43h0m1-3h0m1-2h0m0 6h0m0 51h0m1-33h0m0 21h0m0 11h0m17-98h0m13 200h0m1-151h0m3-21h0m10 31h0m5-20h0m2 40h0m5-71h0m20 95h0m1-3h0m13-79h0m0 44h0m5-6h0m1 15h0m2-67h0m1 59h0m1-26h0m0 25h0m0 48h0m3-90h0m0 61h0m2 4h0m2 14h0m3-47h0m6 13h0m5-3h0m3 26h0m2-29h0m1 1h0m2-7h0m7 6h0m3-4h0m4-49h0m1 58h0m3-7h0m4 0h0m0 2h0m3 20h0m2-34h0m4 19h0m3-6h0m5-4h0m3-49h0m0 53h0m1-18h0m4 55h0m18-37h0m1-18h0m1 26h0m0 13h0m2 4h0m4-27h0m3-50h0m2 103h0m3-42h0m5-6h0m0 39h0m1-39h0m1 2h0m1-54h0m10 54h0m10 22h0m1-17h0m3-7h0m5 2h0m3-15h0m1 13h0m5-54h0m0 52h0m0 1h0m0 1h0m0 18h0m6 63h0m3-86h0m4 28h0m6-25h0m0 27h0m8-29h0m1-32h0m1 126h0m2-64h0m0 1h0m1-61h0m0 8h0m0 39h0m0 3h0m1-32h0m0 10h0m0 1h0m0 7h0m0 9h0m0 3h0m0 16h0m1-67h0m0 31h0m0 31h0m0 2h0m0 8h0m1-59h0m0 8h0m0 17h0m0 26h0m0 29h0m7-55h0m1 2h0m0 1h0m1 38h0m5-59h0m3 11h0m0 18h0m4-6h0m2-8h0m3-9h0m2 4h0m1-26h0m0 44h0m2-19h0m1 7h0m11-1h0m0 9h0m7-50h0m1 69h0m36-24h0m0 4h0m1 16h0m6-35h0m1 0h0m0 0h0m1 14h0m2 1h0m1 1h0m0 3h0m5 11h0m0 26h0m4-50h0m0 0h0m2 17h0m4-24h0m3 7h0m4 16h0m6-31h0m2 14h0m1 22h0m3-16h0m1 25h0m2-37h0m0 9h0m1 11h0m1-27h0m0 9h0m1 18h0m1-6h0m2 16h0m1-32h0m1 25h0m2 37h0m1-48h0m1 30h0m1-31h0m0 29h0m3-28h0m1 12h0m1-16h0m3-13h0m9 69h0m1-87h0m1 12h0m1 42h0m1-52h0m7 55h0m0 18h0m1 10h0m1-30h0m1-55h0m0 60h0m1-39h0m1-2h0m0 51h0m1-51h0m3 9h0m0 15h0m1-77h0m0 40h0m2-17h0m0 59h0m1 9h0m0 18h0m1-76h0m1 89h0m1-67h0m0 40h0m1-51h0m0 24h0m0 32h0m2-6h0m1-48h0m0 44h0m1-74h0m0 70h0m0 25h0m0 3h0m0 14h0m1-84h0m0 4h0m0 20h0m0 62h0m1-66h0m1-20h0m2-2h0m0 27h0m0 19h0m0 14h0m1-78h0m2 82h0m1-62h0m0 31h0m0 33h0m1-43h0m0 1h0m0 11h0m0 9h0m1-70h0m0 20h0m0 42h0m0 0h0m0 29h0m1-25h0m1-29h0m8 12h0m4 67h0m1-61h0m2 39h0m1-65h0m0 0h0m0 68h0m1 11h0m1-49h0m1-58h0m1 44h0m1 39h0m0 114h0m1-162h0m0 15h0m1-47h0m1 101h0m1-72h0m0 42h0m0 5h0m0 1h0m0 10h0m1-94h0m0 20h0m0 8h0m0 7h0m1 4h0m0 61h0m3 24h0m0 41h0m2-146h0m1 44h0m0 25h0m1-22h0m0 48h0m1-101h0m0 32h0m0 10h0m0 57h0m1-102h0m0 15h0m0 39h0m0 7h0m1-52h0m0 28h0m0 40h0m0 14h0m1-78h0m0 28h0m0 16h0m0 23h0m1-70h0m0 21h0m1-6h0m0 7h0m0 24h0m0 11h0m1-36h0m0 61h0m1-42h0m0 35h0m0 2h0m1-12h0m1-93h0m0 26h0m0 39h0m1-36h0m0 14h0m0 44h0m1-93h0m0 52h0m0 5h0m1 11h0m1-43h0m1 16h0m1 24h0m0 36h0m0 2h0m0 10h0m2-77h0m0 38h0m0 16h0m0 14h0m0 10h0m1-104h0m0 98h0m1-97h0m0 2h0m0 31h0m0 6h0m1-25h0m1 21h0m1-1h0m0 26h0m0 5h0m0 7h0m0 5h0m2-34h0m1-45h0m0 22h0m0 20h0m1-22h0m0 6h0m0 66h0m0 1h0m1-94h0m0 9h0m0 70h0m0 9h0m2-44h0m2 16h0m1-6h0m1 1h0m1-2h0m0 48h0m2-37h0m1 59h0m1-51h0m5 25h0m4-84h0m2 59h0m5-41h0m0 42h0m3-4h0m8-4h0m0 27h0m4-14h0m1-26h0m8 12h0m0 6h0m0 1h0m2-22h0m2-8h0m37 5h0m2-11h0m0 7h0m2-40h0m0 45h0m1 13h0m2-9h0m0 38h0m5-28h0m0 21h0m1-68h0m1 13h0m0 19h0m0 3h0m3 5h0m0 1h0m1 47h0" stroke="#000" stroke-width="2.5"/>
<path d="M92 938h0m50-147h0m1 0h0m0 6h0m0 9h0m0 24h0m1-11h0m1-24h0m0 28h0m0 3h0m0 10h0m0 73h0m0 27h0m1-41h0m1-62h0m1-40h0m0 50h0m6-39h0m9-5h0m3 26h0m1-24h0m1 20h0m31 37h0m7-39h0m7 3h0m1 4h0m9 80h0m0 63h0m8-209h0m39 83h0m9-11h0m12-51h0m1 43h0m2-3h0m1 9h0m6 4h0m9-19h0m3 8h0m1-23h0m4 101h0m4-20h0m1-70h0m0 68h0m3-69h0m17 16h0m3-22h0m0 16h0m4-13h0m9 36h0m1-10h0m2-20h0m8-27h0m1 28h0m5 29h0m3-38h0m3 20h0m2-26h0m0 20h0m0 46h0m0 0h0m2-61h0m0 8h0m1-24h0m0 51h0m0 18h0m0 1h0m1-79h0m0 13h0m1 46h0m0 57h0m1-129h0m1 29h0m0 14h0m0 67h0m1-44h0m0 1h0m2-1h0m0 4h0m1 18h0m1-91h0m0 112h0m2-56h0m0 45h0m1-34h0m1 4h0m3-13h0m0 29h0m1-13h0m1-33h0m0 8h0m2 17h0m0 20h0m1-66h0m0 33h0m1 32h0m1-14h0m0 35h0m1-18h0m1-58h0m0 14h0m0 21h0m1 37h0m0 50h0m1-88h0m0 5h0m0 16h0m0 87h0m1-148h0m1-11h0m0 78h0m0 48h0m1-34h0m0 35h0m1-137h0m0 18h0m0 20h0m0 22h0m0 2h0m0 17h0m1-79h0m0 17h0m0 76h0m0 60h0m1-99h0m0 17h0m0 53h0m0 21h0m1-100h0m0 11h0m0 65h0m0 27h0m1-114h0m3 0h0m0 15h0m0 27h0m1-26h0m0 32h0m0 9h0m4-41h0m0 36h0m1-32h0m0 32h0m1-28h0m2 14h0m0 11h0m0 6h0m1-65h0m0 66h0m1 8h0m1-51h0m0 24h0m0 17h0m1 4h0m1 3h0m2-53h0m0 19h0m0 10h0m3-39h0m1 29h0m3 25h0m3 41h0m4-127h0m0 43h0m1 5h0m0 22h0m1-64h0m1 39h0m2 17h0m2 76h0m3-30h0m2-56h0m3-41h0m10 103h0m1-35h0m1-68h0m2 56h0m0 11h0m1 40h0m18-27h0m1-43h0m0 28h0m14-23h0m7 30h0m14 21h0m5-66h0m1-12h0m0 5h0m1 44h0m15-16h0m1 46h0m32-45h0m1 27h0m2 0h0m0 19h0m2-44h0m1-19h0m0 23h0m13-38h0m13 43h0m15 33h0m8-43h0m1-25h0m0 7h0m14 68h0m4-97h0m6 71h0m15-17h0m2 1h0m5 35h0m3-7h0m12 9h0m9-43h0m5 24h0m5-16h0m11-1h0m2-44h0m5 164h0m2-125h0m4-2h0m1 3h0m0 40h0m22-36h0m1 1h0m9 13h0m3-36h0m8 47h0m5-28h0m14-3h0m17 1h0m8 1h0m1-1h0m0 10h0m6 95h0m36-103h0m1 31h0m1 30h0m1 22h0m1-43h0m12-32h0m14-7h0m1-50h0m11 2h0m2 49h0m4 39h0m6-40h0m42 3h0m4 3h0m4 15h0m3-33h0m0 34h0m1-77h0m2 63h0m3-2h0m3-7h0m4 0h0m3 0h0m1 138h0m1-158h0m4 39h0m1-20h0m4 8h0m2-23h0m4 21h0m3 20h0m9-50h0m4 32h0m1-15h0m2 5h0m1 7h0m12-34h0m2 13h0m0 69h0m1-56h0m2-6h0m2 11h0m3-50h0m0 44h0m7 18h0m2-46h0m3-23h0m3 32h0m1-22h0m0 74h0m1-22h0m1-25h0m3 3h0m0 16h0m1 37h0m0 13h0m4-8h0m1-81h0m0 55h0m1-38h0m1-24h0m0 45h0m2-6h0m3 21h0m1 34h0m3-58h0m0 13h0m6-32h0m0 1h0m1 41h0m1-59h0m0 21h0m2 59h0m3-96h0m1 23h0m2 56h0m2 11h0m4-81h0m1 81h0m4-79h0m1 55h0m0 42h0m2-32h0m0 37h0m1-104h0m1-7h0m0 40h0m0 34h0m1 4h0m0 8h0m1-60h0m0 88h0m1-83h0m1 8h0m1 45h0m6-45h0m0 32h0m1-16h0m0 2h0m1-3h0m1-31h0m0 80h0m0 12h0m1-119h0m1 4h0m0 34h0m0 44h0m0 25h0m2 4h0m1-61h0m1-11h0m0 14h0m0 39h0m2-64h0m2 68h0m2-85h0m3-7h0m4 45h0m7 8h0m9 32h0m2-42h0m3 19h0m0 26h0m2-24h0m8-33h0m3 33h0m0 11h0m0 15h0m8-48h0m3 16h0m31 104h0m11-94h0m1-10h0m1-20h0m1 19h0m1 7h0m8 8h0m4-43h0" stroke="#000" stroke-width="3"/>
<path d="M143 810h0m1-23h0m1 2h0m0 31h0m0 56h0m1-18h0m3-20h0m5-30h0m5 12h0m9 12h0m3-17h0m0 19h0m1-22h0m1 3h0m0 12h0m2 7h0m14 28h0m12 60h0m8-101h0m10 54h0m50-24h0m0 5h0m4-27h0m22 88h0m1-122h0m1 41h0m9-27h0m5 1h0m9 17h0m3-10h0m4-7h0m14 15h0m6 1h0m0 97h0m7-103h0m3 29h0m7-31h0m10-16h0m6 56h0m2-57h0m0 37h0m2-41h0m0 65h0m0 18h0m1-31h0m0 8h0m0 5h0m2-84h0m0 44h0m0 20h0m1-10h0m1 6h0m1-49h0m0 29h0m0 18h0m0 0h0m0 17h0m1-100h0m0 67h0m0 22h0m0 5h0m0 22h0m1-47h0m0 37h0m1 20h0m1-64h0m0 5h0m0 34h0m1-86h0m0 34h0m0 41h0m1-53h0m0 42h0m1 31h0m0 19h0m1-65h0m0 9h0m0 3h0m0 33h0m1-38h0m0 58h0m2-56h0m0 20h0m1-43h0m0 19h0m2-23h0m1 19h0m0 12h0m0 9h0m1 3h0m1-52h0m0 42h0m0 27h0m1-31h0m1-56h0m0 52h0m0 28h0m1-43h0m1 8h0m0 15h0m1-47h0m0 23h0m0 9h0m0 23h0m0 16h0m0 21h0m1-44h0m0 9h0m1-77h0m0 60h0m0 10h0m0 28h0m0 13h0m1-51h0m0 17h0m0 1h0m2-68h0m1 43h0m0 18h0m1 1h0m0 3h0m0 32h0m0 3h0m2-69h0m0 21h0m1 28h0m1-54h0m0 18h0m1-9h0m0 21h0m1-51h0m0 16h0m0 55h0m0 1h0m1-4h0m1-53h0m0 33h0m0 25h0m0 29h0m1-89h0m0 23h0m1-16h0m0 12h0m1-15h0m0 32h0m0 27h0m1-70h0m2 45h0m1 12h0m2 11h0m1-72h0m1-11h0m1 72h0m1 32h0m1-29h0m0 24h0m3-65h0m0 53h0m1-29h0m0 15h0m0 48h0m5-60h0m0 45h0m2-15h0m1-34h0m1-28h0m0 27h0m0 27h0m1-21h0m0 1h0m0 29h0m2-22h0m5 12h0m4-50h0m0 50h0m3-11h0m3-27h0m2 32h0m2-40h0m3-2h0m1 42h0m2-30h0m1 40h0m3-8h0m33 7h0m6 6h0m5-70h0m6 0h0m0 7h0m8 12h0m1 21h0m1-4h0m5 27h0m18-70h0m25 14h0m3 56h0m1-18h0m2-16h0m37 4h0m11 16h0m1-39h0m0 35h0m1-33h0m4 50h0m13-65h0m0 16h0m3 60h0m3-45h0m5 46h0m13-60h0m0 31h0m11-1h0m0 37h0m31-38h0m12 3h0m2-25h0m2 5h0m20-27h0m8 37h0m1 10h0m2-2h0m10-5h0m5 21h0m1 16h0m0 10h0m4-46h0m4 6h0m5-4h0m8-53h0m2 83h0m11-28h0m14 1h0m1-47h0m2 49h0m7-4h0m1 20h0m4-22h0m12 7h0m6-5h0m9 0h0m1 22h0m0 1h0m3-35h0m17-21h0m5-23h0m8 42h0m14 25h0m45-35h0m13 29h0m5 3h0m4 0h0m2-16h0m1-4h0m1 49h0m9-44h0m8 28h0m9-23h0m2-12h0m0 18h0m1-12h0m3 26h0m1-39h0m7 33h0m12-15h0m0 3h0m0 31h0m1-6h0m1-97h0m4 45h0m1 57h0m3-63h0m0 9h0m0 23h0m4-57h0m0 63h0m2 23h0m1-7h0m3-36h0m4 7h0m1-22h0m1-34h0m0 29h0m2 74h0m1-49h0m0 64h0m1-83h0m1-17h0m1 85h0m0 3h0m0 14h0m1-15h0m2 21h0m1-90h0m0 28h0m1-19h0m3-39h0m1 89h0m0 104h0m1-185h0m0 68h0m1-28h0m0 14h0m0 17h0m1-76h0m1 3h0m3 31h0m12-47h0m2 21h0m0 16h0m0 45h0m3-4h0m1-28h0m3-38h0m0 4h0m0 43h0m0 26h0m1-56h0m6 67h0m1-25h0m0 34h0m2-94h0m0 9h0m3 59h0m1-50h0m0 42h0m0 41h0m0 4h0m1-33h0m0 126h0m1-183h0m1 15h0m0 11h0m1 28h0m3-41h0m0 56h0m3-40h0m1-19h0m1 54h0m3-21h0m1-35h0m0 21h0m0 47h0m2-84h0m1 42h0m0 16h0m2-48h0m0 4h0m0 20h0m0 24h0m1-21h0m1 39h0m1-10h0m1-12h0m3 1h0m1-3h0m1-1h0m2 17h0m12-27h0m1 31h0m3-29h0m13 0h0m4-48h0m2 52h0m9 14h0m3 20h0m39-28h0m2-9h0m2-41h0m0 23h0m1 24h0m4 20h0m5-27h0m1-32h0" stroke="#000" stroke-width="3.5"/>
<path d="M143 783h0m0 4h0m0 17h0m0 13h0m1 3h0m1-24h0m0 126h0m1-142h0m0 28h0m0 16h0m0 141h0m8-135h0m9-11h0m4 12h0m1-11h0m7 133h0m35-138h0m3 5h0m2-1h0m11 30h0m45 12h0m1-13h0m2 3h0m5 9h0m24-48h0m1 2h0m0 16h0m4-21h0m8-7h0m0 136h0m3-135h0m6-4h0m1 42h0m3 4h0m12-4h0m4-45h0m13 31h0m1 117h0m8-126h0m3 22h0m2-4h0m1-32h0m7 3h0m4-30h0m2 29h0m0 25h0m1-27h0m0 2h0m0 13h0m0 74h0m1-112h0m0 48h0m0 53h0m1-74h0m0 0h0m0 8h0m0 31h0m1-12h0m0 15h0m1-51h0m0 29h0m3-75h0m0 106h0m1-74h0m0 17h0m0 2h0m0 7h0m1-23h0m0 33h0m0 12h0m1-2h0m0 0h0m0 36h0m1 3h0m1-30h0m0 11h0m1-50h0m1-14h0m0 43h0m0 55h0m3-87h0m0 14h0m0 17h0m0 19h0m0 7h0m0 14h0m1-21h0m1-33h0m2-41h0m0 43h0m0 20h0m0 11h0m1-46h0m0 16h0m0 4h0m0 68h0m3-97h0m0 19h0m0 30h0m0 54h0m0 9h0m1-108h0m0 0h0m0 71h0m0 68h0m1-116h0m0 86h0m1-107h0m0 10h0m0 13h0m3 23h0m1 19h0m0 20h0m2-121h0m0 25h0m0 12h0m1-22h0m0 15h0m1-4h0m0 58h0m3-41h0m0 18h0m0 9h0m0 19h0m0 2h0m1-48h0m1 69h0m2-57h0m2 54h0m0 6h0m1-33h0m3-40h0m0 2h0m1 13h0m1 7h0m1-51h0m0 69h0m0 11h0m2-33h0m2-12h0m1-25h0m0 9h0m0 14h0m0 14h0m1-29h0m0 5h0m0 34h0m1-30h0m0 29h0m1 29h0m1-62h0m0 30h0m1 3h0m1-35h0m1 100h0m1-85h0m1 33h0m6-10h0m0 47h0m2-15h0m3-12h0m3 21h0m1-90h0m1 18h0m0 31h0m1-14h0m1 26h0m0 7h0m1-15h0m2 1h0m1-24h0m1-42h0m0 51h0m1-19h0m2-1h0m2 10h0m0 40h0m5-27h0m1 34h0m13-16h0m5-57h0m28 37h0m13 8h0m11-16h0m4 7h0m4-62h0m31 86h0m2-20h0m1-16h0m0 5h0m16-23h0m27 63h0m6-30h0m2 29h0m1-18h0m31-8h0m2-25h0m8 37h0m0 14h0m4-47h0m3 28h0m12-49h0m8 43h0m5 3h0m6-2h0m3-52h0m1 37h0m4 21h0m6-6h0m12 3h0m1 0h0m2 3h0m8-14h0m26 8h0m2 2h0m0 38h0m1-35h0m0 4h0m2-30h0m1 26h0m16 25h0m11 20h0m1-63h0m6 42h0m3-34h0m1 1h0m13-14h0m1 52h0m8-34h0m2 6h0m7-4h0m4 11h0m1-8h0m10 116h0m2-117h0m2 2h0m1-27h0m0 23h0m1-39h0m0 68h0m7-28h0m1-21h0m1 20h0m0 23h0m4-13h0m11 10h0m7-20h0m9 25h0m8-12h0m6-2h0m34-22h0m1 26h0m5 7h0m1-44h0m2-4h0m15 16h0m2 20h0m3 0h0m2 8h0m1-12h0m1 14h0m9-10h0m6-27h0m1 43h0m1-37h0m6 13h0m1-1h0m1-11h0m0 38h0m1 2h0m1-16h0m5-4h0m8-18h0m7-19h0m0 10h0m1-16h0m1 19h0m1-13h0m1 10h0m0 34h0m3-74h0m1 55h0m6 3h0m3-3h0m2 10h0m2-40h0m0 67h0m1-57h0m0 69h0m1-21h0m8-56h0m1 55h0m1 58h0m4 13h0m1-128h0m2 53h0m0 29h0m1-104h0m1 98h0m0 16h0m0 20h0m1-63h0m0 10h0m0 20h0m2 4h0m4-106h0m5 94h0m2-74h0m3 118h0m1-47h0m1-101h0m1 100h0m5-75h0m1 2h0m0 67h0m1-35h0m8-57h0m2 85h0m1-43h0m0 10h0m1 28h0m0 2h0m1 36h0m1-43h0m1-36h0m1-7h0m0 16h0m1-36h0m0 80h0m1-104h0m0 28h0m0 15h0m0 17h0m4 17h0m1 12h0m1 25h0m1-72h0m0 61h0m1 7h0m0 17h0m2-30h0m1-19h0m1-55h0m0 82h0m1-43h0m0 56h0m1-25h0m2-69h0m0 66h0m0 33h0m1-113h0m1 52h0m2-3h0m8 3h0m0 18h0m2 22h0m1-45h0m6 5h0m7-8h0m2 15h0m13 13h0m5-21h0m8-6h0m2 0h0m37-12h0m2 17h0m1-14h0m0 2h0m0 24h0m0 1h0m0 17h0m1 10h0m2-44h0m2 1h0m1-12h0m0 2h0m0 9h0m3 31h0m3-17h0m1-64h0m0 39h0m2-7h0" stroke="#000" stroke-width="4"/>
<path d="M423 846h0m667-69h0m2-1h0m26 182h0m11-115h0m12-2h0m0 132h0m6-6h0m3-13h0m100 19h0" stroke="#000" stroke-width="5.8"/>
<path d="M425 856h0m29-8h0m650 41h0m36 1h0m22-21h0" stroke="#000" stroke-width="6.8"/>
<path d="M452 779h0m126 196h0m586-69h0" stroke="#000" stroke-width="7.8"/>
<path d="M432 872h0m654-64h0m27 120h0" stroke="#000" stroke-width="8.8"/>
<path d="M1138 910h0" stroke="#000" stroke-width="9.8"/>
<path d="M423 846h0m667-69h0m2-1h0m26 182h0m11-115h0m12-2h0m0 132h0m6-6h0m3-13h0m100 19h0" stroke="#e8e8e8" stroke-width="1.8"/>
<path d="M425 856h0m29-8h0m650 41h0m36 1h0m22-21h0" stroke="#e8e8e8" stroke-width="2.8"/>
<path d="M452 779h0m126 196h0m586-69h0" stroke="#e8e8e8" stroke-width="3.8"/>
<path d="M432 872h0m654-64h0m27 120h0" stroke="#e8e8e8" stroke-width="4.8"/>
<path d="M1138 910h0" stroke="#b4b4b4" stroke-width="5.8"/></g>
<g transform="scale(.5)" stroke-linecap="round" fill="none"><path d="M142 828h0m1-51h0m0 1h0m0 8h0m0 36h0m0 114h0m1-132h0m0 22h0m0 101h0m0 46h0m1-180h0m0 3h0m0 49h0m0 78h0m1-126h0m0 16h0m0 6h0m0 52h0m1-89h0m0 35h0m0 20h0m0 10h0m0 0h0m2-26h0m2 15h0m1-26h0m4 15h0m0 1h0m3-20h0m3 14h0m3-11h0m2 21h0m5-18h0m3-8h0m0 7h0m2 10h0m0 25h0m6-40h0m1 19h0m0 26h0m13-7h0m76 4h0m5 18h0m11-37h0m2-10h0m2-24h0m0 20h0m0 34h0m3-22h0m1-2h0m0 4h0m1-6h0m1-30h0m1 76h0m1-40h0m2-25h0m5 10h0m3 19h0m3-2h0m2-15h0m2 5h0m1-15h0m1 19h0m4-9h0m1 33h0m2-33h0m0 10h0m1-45h0m0 39h0m1-11h0m0 29h0m2-19h0m1 12h0m3 21h0m1-42h0m5 10h0m1-10h0m2 7h0m3 3h0m6 20h0m1-6h0m4-19h0m1 13h0m3-19h0m2 122h0m2-127h0m0 8h0m0 128h0m1-137h0m1 21h0m0 14h0m4 10h0m4-28h0m6 17h0m3-42h0m0 5h0m0 11h0m0 1h0m0 22h0m1-30h0m0 43h0m1-77h0m0 20h0m0 29h0m0 23h0m1-66h0m0 20h0m0 9h0m0 0h0m0 5h0m0 35h0m0 35h0m0 8h0m1-83h0m0 26h0m0 7h0m1-41h0m0 0h0m0 5h0m0 42h0m0 18h0m0 33h0m1-30h0m1-64h0m0 2h0m0 27h0m1-19h0m0 14h0m0 4h0m0 4h0m0 4h0m0 38h0m1-61h0m0 35h0m0 13h0m0 2h0m1-75h0m0 46h0m0 7h0m1-58h0m0 2h0m0 2h0m0 23h0m0 8h0m0 51h0m0 5h0m1-80h0m0 3h0m0 12h0m0 28h0m0 11h0m1-42h0m0 1h0m0 22h0m1-36h0m0 5h0m0 50h0m0 23h0m1-69h0m1-3h0m0 3h0m1-5h0m0 8h0m0 19h0m0 51h0m1-89h0m0 13h0m0 4h0m0 68h0m1-94h0m0 59h0m0 7h0m0 10h0m0 11h0m1-60h0m0 54h0m1-71h0m0 6h0m0 46h0m1-58h0m0 15h0m0 30h0m1-5h0m0 2h0m0 24h0m0 0h0m0 51h0m1-103h0m1-9h0m0 39h0m1 21h0m0 27h0m1-37h0m0 12h0m0 3h0m0 26h0m1-21h0m0 27h0m0 9h0m1-93h0m0 9h0m0 21h0m0 71h0m1-66h0m0 12h0m0 20h0m0 70h0m0 1h0m1-65h0m1-110h0m0 115h0m1-85h0m0 37h0m0 4h0m0 5h0m0 7h0m0 8h0m0 30h0m0 48h0m1-77h0m0 15h0m0 49h0m0 18h0m1-131h0m0 24h0m0 66h0m1-112h0m0 29h0m0 10h0m0 23h0m0 42h0m1-77h0m1 38h0m0 9h0m1-49h0m0 43h0m0 28h0m0 7h0m0 4h0m1-121h0m0 30h0m0 3h0m0 4h0m0 9h0m0 9h0m0 30h0m1-53h0m0 4h0m0 23h0m0 21h0m0 26h0m1-96h0m0 58h0m1-16h0m0 41h0m2-4h0m1-79h0m0 52h0m1 33h0m1-57h0m0 55h0m0 1h0m1-32h0m0 3h0m0 6h0m0 31h0m1-1h0m0 18h0m1-90h0m0 16h0m1-27h0m0 42h0m0 6h0m1-45h0m0 29h0m0 1h0m1 47h0m0 2h0m0 30h0m1-132h0m0 62h0m0 41h0m1-82h0m0 77h0m1-46h0m0 0h0m0 70h0m1-108h0m0 30h0m1 2h0m0 44h0m1-84h0m1 70h0m0 31h0m1-114h0m0 38h0m0 15h0m0 54h0m0 6h0m1-57h0m0 63h0m1-61h0m0 10h0m0 39h0m0 43h0m1-90h0m0 45h0m0 10h0m1-71h0m0 41h0m0 25h0m1-87h0m0 4h0m1 56h0m0 9h0m1-7h0m1-54h0m0 14h0m0 10h0m0 44h0m0 46h0m1-85h0m0 1h0m0 21h0m0 31h0m1-73h0m0 14h0m0 41h0m0 12h0m1-56h0m0 16h0m0 77h0m1-86h0m2 36h0m4-16h0m1-47h0m0 4h0m0 32h0m0 9h0m4-32h0m0 6h0m1 76h0m3-71h0m1 44h0m1-41h0m0 34h0m1-40h0m0 9h0m0 3h0m1 21h0m1-11h0m0 25h0m1-33h0m1 31h0m2-58h0m0 70h0m1-67h0m0 40h0m2-50h0m0 55h0m0 42h0m2-77h0m22 22h0m1-21h0m8 3h0m20 1h0m4-11h0m8-1h0m2 26h0m3 24h0m4-16h0m2-42h0m12 87h0m13-70h0m9 48h0m1-5h0m1 16h0m2-5h0m5-8h0m3-45h0m17 128h0m4-77h0m1-67h0m0 59h0m10-47h0m1 27h0m2-30h0m3 22h0m2 13h0m2-9h0m0 30h0m1-33h0m0 8h0m0 19h0m4-65h0m20 72h0m1 17h0m4-105h0m8 58h0m1-34h0m4 32h0m1 19h0m2-66h0m0 49h0m2-3h0m4 10h0m1 17h0m5-23h0m1 1h0m1-5h0m1-2h0m0 20h0m1-29h0m2 16h0m2-3h0m1-2h0m0 24h0m2 16h0m8-44h0m7 5h0m1-3h0m5-43h0m7 47h0m0 9h0m1-12h0m5 9h0m1-4h0m1-25h0m4 15h0m7 9h0m1 47h0m4-48h0m3-44h0m2 45h0m5 113h0m2-85h0m2-9h0m9-24h0m1 5h0m0 41h0m1-18h0m0 7h0m0 2h0m1-27h0m0 10h0m1 11h0m7-14h0m0 30h0m3-82h0m1 20h0m1 54h0m1-36h0m2 0h0m1-3h0m3 6h0m6 5h0m8-28h0m1 18h0m0 1h0m6-25h0m2 27h0m2-9h0m4 10h0m3-2h0m1 0h0m10-47h0m2 50h0m3-7h0m1 9h0m1-8h0m3 5h0m2-6h0m2-37h0m0 50h0m1 26h0m6-77h0m1 82h0m2-58h0m2 3h0m0 41h0m0 6h0m0 6h0m1-62h0m0 49h0m0 18h0m0 14h0m1-93h0m2 64h0m7 2h0m14-33h0m7-27h0m0 29h0m3 2h0m3 20h0m1-18h0m1 1h0m9-2h0m1-2h0m41-9h0m3 14h0m1-16h0m6-6h0m2 19h0m5 1h0m1-4h0m4-6h0m8-15h0m9 27h0m2 3h0m8 8h0m1-37h0m0 17h0m0 8h0m1-16h0m2-13h0m2 18h0m1 13h0m1-9h0m1 64h0m1-78h0m0 8h0m0 32h0m1-35h0m0 27h0m2-9h0m3-42h0m2 62h0m3-26h0m3 23h0m1-39h0m1 93h0m4-84h0m1-50h0m5 33h0m0 9h0m1-6h0m0 6h0m0 40h0m1-50h0m0 11h0m2 6h0m1 33h0m1-55h0m1 30h0m1-14h0m0 13h0m1-18h0m1-55h0m1 42h0m0 35h0m0 9h0m1-6h0m1 4h0m2-39h0m0 75h0m2-96h0m0 68h0m2-79h0m2 44h0m1-43h0m0 52h0m0 5h0m1-31h0m0 24h0m0 34h0m1-41h0m0 22h0m1-67h0m0 15h0m0 8h0m0 3h0m0 19h0m0 45h0m1 2h0m1-82h0m0 34h0m0 11h0m0 27h0m0 0h0m1-49h0m0 6h0m1 15h0m0 3h0m2-23h0m0 41h0m0 1h0m1-9h0m1-15h0m0 7h0m1-53h0m0 66h0m1-17h0m0 7h0m0 33h0m1-40h0m0 53h0m1-61h0m0 38h0m1-64h0m1 81h0m3-66h0m0 44h0m4-64h0m2 5h0m1 89h0m6-89h0m0 21h0m1 10h0m1-30h0m0 1h0m0 31h0m1-27h0m0 29h0m3 1h0m0 132h0m1-176h0m0 66h0m0 20h0m1-73h0m0 49h0m1 33h0m1-64h0m0 1h0m0 20h0m0 25h0m0 22h0m1-90h0m1 41h0m3-47h0m0 40h0m0 17h0m1-34h0m0 129h0m1-168h0m0 23h0m0 15h0m1-46h0m0 18h0m0 53h0m1 20h0m1-74h0m1 45h0m0 19h0m0 3h0m1-24h0m0 21h0m0 13h0m1-27h0m0 2h0m0 6h0m0 7h0m0 26h0m0 0h0m1-66h0m0 3h0m0 55h0m1-43h0m1 22h0m0 17h0m0 2h0m1-49h0m0 39h0m0 6h0m1-22h0m1-24h0m0 22h0m3 0h0m1-54h0m0 77h0m1-64h0m0 10h0m0 19h0m1-39h0m0 91h0m1-93h0m0 69h0m0 21h0m0 5h0m1-38h0m1 36h0m0 99h0m1-187h0m0 25h0m0 27h0m0 10h0m0 3h0m1-42h0m1-25h0m0 81h0m0 11h0m1-28h0m1-73h0m0 59h0m0 9h0m0 32h0m1-75h0m0 22h0m0 14h0m0 1h0m0 44h0m0 62h0m1-99h0m0 32h0m0 21h0m4-47h0m1-34h0m0 48h0m1-25h0m1 15h0m3 24h0m1-47h0m1-3h0m2-5h0m1 35h0m1-34h0m1 16h0m1-10h0m3 26h0m3-35h0m1 16h0m1 12h0m2 8h0m1-54h0m0 49h0m2-20h0m8-11h0m7 21h0m1-17h0m6 3h0m0 11h0m4 27h0m36-16h0m2-32h0m0 1h0m1-26h0m0 34h0m3 67h0m3-59h0m2 7h0m2-68h0m0 23h0m0 28h0m3-56h0m0 43h0m1 2h0m1 17h0m1-35h0" stroke="#000" stroke-width="2.5"/>
<path d="M143 839h0m0 35h0m0 24h0m1-95h0m0 8h0m0 8h0m0 11h0m0 140h0m1-49h0m1-128h0m0 68h0m0 45h0m2-116h0m0 15h0m8 6h0m11 4h0m0 18h0m10-26h0m32 20h0m1-8h0m58 7h0m8 31h0m16-68h0m4 26h0m1 24h0m2 25h0m3-53h0m8 51h0m4-61h0m8 18h0m16-11h0m1 16h0m1 6h0m3-5h0m1-42h0m12 8h0m1 39h0m7-9h0m0 6h0m1 124h0m4-136h0m1 4h0m0 10h0m1-17h0m9-7h0m4-19h0m0 49h0m1-41h0m1 35h0m0 19h0m1-95h0m1 52h0m0 31h0m1-31h0m2 8h0m0 38h0m1-65h0m0 29h0m0 11h0m0 15h0m1 5h0m2-32h0m1 38h0m1-68h0m0 48h0m1-41h0m1-22h0m0 70h0m1-31h0m0 78h0m1-45h0m0 41h0m1-36h0m1-33h0m0 6h0m0 74h0m2-52h0m1-46h0m1 1h0m0 66h0m0 10h0m1-110h0m0 20h0m0 18h0m0 60h0m1-74h0m0 75h0m1-9h0m0 1h0m1 0h0m1-49h0m0 41h0m0 71h0m1-73h0m0 29h0m0 2h0m1-89h0m0 74h0m0 28h0m1-90h0m0 19h0m0 43h0m0 48h0m1-120h0m0 7h0m1 35h0m0 35h0m2-48h0m0 48h0m1 19h0m1-100h0m0 27h0m0 44h0m0 30h0m0 0h0m0 40h0m1-102h0m0 21h0m1-72h0m0 6h0m0 24h0m0 34h0m0 28h0m1-82h0m1 57h0m1-5h0m0 5h0m1 59h0m1-89h0m0 49h0m1-40h0m0 49h0m0 24h0m1-37h0m1 12h0m1-26h0m1 31h0m1-49h0m1 0h0m0 2h0m0 50h0m1-76h0m0 63h0m3-16h0m0 33h0m1-112h0m0 114h0m1-80h0m0 68h0m1 16h0m1-62h0m2-13h0m0 13h0m1-18h0m0 5h0m0 2h0m0 20h0m0 4h0m1 36h0m0 15h0m0 51h0m1-178h0m1 26h0m1 19h0m1 3h0m0 28h0m0 56h0m2-84h0m1-3h0m0 20h0m0 41h0m1-89h0m2 12h0m0 88h0m1-49h0m0 43h0m3-60h0m2-25h0m5 28h0m4 2h0m2 31h0m1-2h0m2 10h0m10-28h0m1-4h0m55 1h0m1-18h0m6 46h0m8-15h0m13-41h0m26 2h0m13-11h0m18 26h0m4 55h0m4-39h0m0 11h0m8-48h0m0 78h0m6-29h0m1 12h0m0 2h0m8 6h0m20-49h0m7 95h0m9-67h0m3-3h0m19-12h0m0 10h0m9 13h0m6-13h0m3 5h0m0 37h0m1 3h0m3-40h0m11-45h0m11 33h0m2 5h0m7 2h0m25 47h0m7-40h0m4-2h0m1-1h0m9-2h0m1-17h0m6-13h0m3 33h0m1 28h0m12-30h0m3 0h0m12 28h0m31-25h0m2-47h0m0 13h0m0 43h0m1-54h0m4 0h0m12 42h0m3-21h0m13 9h0m44 52h0m14-42h0m6-38h0m2 59h0m6-15h0m0 3h0m10-13h0m3 99h0m21-106h0m1 13h0m1-19h0m6 38h0m1-37h0m1 17h0m0 79h0m4-95h0m1 20h0m0 10h0m14-42h0m2 10h0m0 25h0m3-30h0m1 29h0m0 41h0m4-128h0m0 101h0m4-45h0m3-6h0m4 49h0m0 13h0m4-69h0m0 53h0m1 15h0m3-25h0m1 33h0m1-34h0m1-54h0m0 32h0m0 49h0m1-90h0m0 57h0m0 18h0m1-2h0m2-1h0m3 25h0m2-57h0m1 55h0m0 2h0m1-79h0m0 41h0m1 24h0m0 22h0m1-66h0m0 29h0m2-10h0m3 23h0m0 14h0m0 10h0m4-117h0m0 45h0m0 134h0m6 34h0m1-183h0m0 15h0m8 52h0m1-56h0m0 65h0m2-55h0m0 5h0m0 47h0m6-5h0m1-69h0m1 15h0m2-25h0m1-16h0m0 33h0m0 43h0m2-41h0m1-25h0m0 41h0m2 2h0m0 5h0m0 37h0m1-92h0m0 40h0m3 10h0m0 37h0m1 12h0m1-75h0m0 7h0m1-16h0m0 25h0m1-19h0m0 178h0m1-125h0m1-25h0m0 1h0m0 144h0m1-185h0m1 0h0m0 59h0m2 39h0m1-36h0m0 20h0m2-55h0m1-29h0m0 35h0m0 10h0m0 35h0m0 16h0m0 3h0m1-6h0m3-56h0m1-9h0m3-17h0m1 18h0m1 23h0m7 12h0m1-30h0m2 42h0m5-39h0m34 164h0m42-153h0m4-23h0m0 41h0m0 13h0m6-69h0" stroke="#000" stroke-width="3"/>
<path d="M143 794h0m0 35h0m0 17h0m0 0h0m0 47h0m1-110h0m0 43h0m0 80h0m1-114h0m0 12h0m0 3h0m0 134h0m1-152h0m0 125h0m1-120h0m0 7h0m1 19h0m13-3h0m17 10h0m1-22h0m13 41h0m9-41h0m10 29h0m2-12h0m81 5h0m0 5h0m1-24h0m10 16h0m0 28h0m10-33h0m0 12h0m13-9h0m1 4h0m1 3h0m4 104h0m1-104h0m4 21h0m4 90h0m5-107h0m2-15h0m6-3h0m0 75h0m2-69h0m2 51h0m2-41h0m2 6h0m3-13h0m3-7h0m1-1h0m1-10h0m1-6h0m0 27h0m11 9h0m0 8h0m1-78h0m1 43h0m1 18h0m0 57h0m1-37h0m1-58h0m0 9h0m0 8h0m0 6h0m1-30h0m0 19h0m0 8h0m0 45h0m0 8h0m1-109h0m0 102h0m1-69h0m1-9h0m0 12h0m0 73h0m1-61h0m0 32h0m1 13h0m1-36h0m0 59h0m2-38h0m0 4h0m0 21h0m1-33h0m0 14h0m1-2h0m1-18h0m0 9h0m1-70h0m0 22h0m0 45h0m0 18h0m1-46h0m0 11h0m0 7h0m0 21h0m0 29h0m1 8h0m0 8h0m1-96h0m0 54h0m0 12h0m0 3h0m1-40h0m0 21h0m0 54h0m3-84h0m0 17h0m0 7h0m1-46h0m0 71h0m0 19h0m1-69h0m0 100h0m1-125h0m0 119h0m0 12h0m0 11h0m1-113h0m0 62h0m0 62h0m1-97h0m0 11h0m0 13h0m1-54h0m1 53h0m1-67h0m0 85h0m0 48h0m1-100h0m0 5h0m1-11h0m0 18h0m0 17h0m0 4h0m0 61h0m0 3h0m1-143h0m2-8h0m0 53h0m0 6h0m1 36h0m1-57h0m0 7h0m0 42h0m1-36h0m1 41h0m2 12h0m1 28h0m2-90h0m2 14h0m1-15h0m1 73h0m1-4h0m1-85h0m1 54h0m2-11h0m1 26h0m2-24h0m0 50h0m2-16h0m2 4h0m1-17h0m1 17h0m1-93h0m1 7h0m0 18h0m0 43h0m1 1h0m1-80h0m2-14h0m0 115h0m1-56h0m1 1h0m7-3h0m0 44h0m1-62h0m2 43h0m2 52h0m1-63h0m2 27h0m8 1h0m3-68h0m0 64h0m1 23h0m1-39h0m0 27h0m6-20h0m8-55h0m12 7h0m2 47h0m26-38h0m6-12h0m1 9h0m1 30h0m39-36h0m10 36h0m3-26h0m0 43h0m3-33h0m1-31h0m19 54h0m2-7h0m20 7h0m4 14h0m0 11h0m1-42h0m1 39h0m9-13h0m3-22h0m1 34h0m11-53h0m4 38h0m1 13h0m1-5h0m19 30h0m1-48h0m0 13h0m16-10h0m11-13h0m9 55h0m34-49h0m1 2h0m11-1h0m5 3h0m8 22h0m0 4h0m1-18h0m1 26h0m0 8h0m5-25h0m1-34h0m2 19h0m3 34h0m34-41h0m7 4h0m8 3h0m9-15h0m5 31h0m12-12h0m3-44h0m0 28h0m0 13h0m2-15h0m1-25h0m4 9h0m0 33h0m1-7h0m22 4h0m4-24h0m7 21h0m51 32h0m2-44h0m1-12h0m3 35h0m2-15h0m2-11h0m4 13h0m5 5h0m0 16h0m0 3h0m14-25h0m0 2h0m12 19h0m10 22h0m10-57h0m0 2h0m0 24h0m0 1h0m4-31h0m13 29h0m1-23h0m1 6h0m0 16h0m3-46h0m2 89h0m1-28h0m1 15h0m0 7h0m1-2h0m2-99h0m3 16h0m4 4h0m1 44h0m2 31h0m4-92h0m0 4h0m0 19h0m0 80h0m1 8h0m1-116h0m0 2h0m0 27h0m5 13h0m0 18h0m1 46h0m1-62h0m0 7h0m0 43h0m1-33h0m1-6h0m0 16h0m0 42h0m1-115h0m0 109h0m1-37h0m0 13h0m0 34h0m0 53h0m1-139h0m0 38h0m2-12h0m3-49h0m7 8h0m7 34h0m0 10h0m5 49h0m1-58h0m1 5h0m0 42h0m2-54h0m2 3h0m0 13h0m3-26h0m0 30h0m0 59h0m2-118h0m0 21h0m0 16h0m1 32h0m0 39h0m1-106h0m0 4h0m0 34h0m0 16h0m0 29h0m1-53h0m0 67h0m1-89h0m0 20h0m0 49h0m1-32h0m0 32h0m1-33h0m0 38h0m1-44h0m0 21h0m1-48h0m3 27h0m1 13h0m2 40h0m2-76h0m1-7h0m0 91h0m3-51h0m1-22h0m0 14h0m0 48h0m2-99h0m2 0h0m0 78h0m0 8h0m0 28h0m1-22h0m5 8h0m4-36h0m0 9h0m2-46h0m6 70h0m6-58h0m8 57h0m1-38h0m0 24h0m7 14h0m4-38h0m0 29h0m9-42h0m3-17h0m2 68h0m36-48h0m11-34h0m0 10h0m8-7h0" stroke="#000" stroke-width="3.5"/>
<path d="M138 876h0m4-83h0m1-4h0m1 43h0m1 1h0m1-28h0m2 41h0m0 1h0m12-33h0m4-19h0m15 32h0m16-7h0m19 1h0m56 42h0m1-35h0m2 19h0m0 3h0m0 10h0m5-30h0m11 83h0m4-98h0m1 9h0m1-12h0m3-7h0m0 8h0m10 7h0m5 30h0m1-21h0m0 58h0m2-81h0m3-15h0m6 25h0m2-10h0m4-2h0m3 9h0m0 11h0m4 128h0m8-123h0m3 82h0m6-97h0m10 1h0m18 56h0m2-75h0m0 33h0m0 32h0m0 32h0m2-91h0m0 47h0m1-73h0m1 5h0m0 6h0m0 83h0m1-34h0m0 1h0m1-17h0m0 22h0m0 38h0m1-84h0m0 57h0m1-64h0m1 59h0m1-72h0m0 16h0m0 33h0m1-13h0m0 27h0m1-40h0m0 16h0m1-27h0m1-18h0m0 45h0m0 31h0m0 16h0m2-39h0m0 52h0m1-52h0m0 45h0m1-63h0m2 31h0m1-63h0m0 57h0m0 2h0m0 16h0m0 1h0m1 5h0m1-46h0m0 23h0m0 39h0m0 5h0m1-42h0m0 19h0m0 46h0m2-74h0m1-24h0m0 44h0m1-48h0m1 52h0m1 16h0m1-104h0m0 34h0m0 20h0m0 122h0m1-125h0m0 20h0m1-57h0m0 15h0m2 27h0m0 18h0m0 61h0m1-91h0m0 28h0m1-69h0m0 7h0m0 45h0m1-7h0m1-2h0m0 38h0m1-62h0m0 29h0m0 39h0m1-7h0m1 4h0m1-25h0m0 1h0m0 36h0m2-61h0m1 23h0m0 20h0m1-51h0m0 63h0m2-28h0m0 12h0m1 43h0m2-18h0m2-41h0m0 6h0m1 78h0m1-102h0m2 38h0m1-50h0m0 28h0m3-32h0m0 78h0m0 25h0m2-114h0m1 53h0m2 36h0m0 5h0m0 16h0m1-82h0m3 23h0m0 4h0m0 19h0m0 4h0m2-69h0m1 11h0m0 76h0m3-43h0m2 8h0m1-74h0m1 97h0m4-2h0m2-4h0m1-34h0m2 3h0m0 10h0m4-7h0m0 37h0m1-78h0m31 33h0m18 35h0m12-32h0m0 14h0m3-32h0m0 44h0m1-24h0m0 20h0m15-14h0m14 16h0m4 3h0m19-10h0m1-26h0m0 27h0m14-43h0m4 21h0m11 158h0m20-151h0m2-19h0m0 29h0m1-2h0m9-11h0m4-14h0m0 28h0m8 38h0m27-24h0m31-43h0m10 31h0m1-5h0m10 9h0m1 13h0m10-12h0m11-10h0m8 38h0m2-40h0m12 6h0m1-8h0m2 8h0m3-16h0m2 11h0m9 7h0m6-2h0m2 1h0m6-52h0m2 41h0m2 5h0m5-23h0m0 36h0m0 36h0m4-47h0m0 5h0m2 31h0m8-9h0m1-56h0m1 22h0m1 9h0m5 11h0m6-9h0m11-56h0m2 50h0m12-29h0m1 74h0m0 5h0m1-40h0m1 24h0m1-29h0m1 47h0m9-55h0m3 39h0m10-51h0m6-13h0m5 24h0m20 57h0m36-40h0m5-9h0m0 6h0m4-21h0m1 12h0m1 25h0m7-14h0m27-40h0m2 11h0m0 33h0m5 0h0m2-22h0m3 0h0m0 14h0m3-18h0m0 9h0m1-11h0m10 18h0m1 24h0m2-1h0m3-84h0m1 49h0m1 39h0m1 15h0m3-73h0m3 2h0m0 10h0m0 35h0m4-22h0m2-28h0m5-22h0m0 90h0m2 70h0m1-140h0m1 30h0m4 54h0m1-45h0m0 43h0m1-67h0m0 55h0m1-92h0m0 13h0m0 13h0m0 28h0m0 4h0m0 14h0m3-75h0m0 32h0m0 65h0m1-92h0m0 72h0m0 5h0m3 92h0m1-169h0m0 23h0m1-36h0m0 60h0m0 37h0m1-9h0m0 12h0m1-49h0m0 3h0m0 34h0m2-43h0m1 8h0m5 50h0m2-20h0m3-24h0m2 16h0m2 28h0m1 13h0m1-65h0m4 22h0m2-29h0m2-27h0m0 15h0m0 56h0m2-18h0m3-4h0m1-3h0m1-41h0m0 70h0m0 33h0m1-116h0m1 4h0m0 38h0m0 14h0m1-73h0m2 15h0m0 9h0m0 51h0m1-25h0m0 79h0m4-103h0m0 22h0m1 21h0m1-53h0m4 31h0m0 76h0m1-88h0m1 69h0m1-26h0m0 29h0m1-45h0m0 16h0m1-17h0m0 23h0m1-57h0m2 34h0m0 65h0m1-91h0m3 1h0m1 5h0m0 81h0m2 6h0m5-41h0m6-33h0m7 48h0m1-55h0m6-6h0m10 28h0m0 17h0m1-18h0m5-10h0m0 47h0m1-41h0m2-22h0m10 11h0m35 23h0m6-18h0m4-7h0m0 25h0m1-17h0m1 17h0m1-24h0m3 32h0m1-23h0m2-11h0m1 26h0" stroke="#000" stroke-width="4"/>
<path d="M393 804h0m9 42h0m5-68h0m1 13h0m13 75h0m29 5h0m23-44h0m684 58h0" stroke="#000" stroke-width="5.8"/>
<path d="M427 857h0m21-19h0m4 26h0m21-12h0m647 84h0m41-75h0" stroke="#000" stroke-width="6.8"/>
<path d="M395 798h0m68 99h0" stroke="#000" stroke-width="11.8"/>
<path d="M393 804h0m9 42h0m5-68h0m1 13h0m13 75h0m29 5h0m23-44h0m684 58h0" stroke="#e8e8e8" stroke-width="1.8"/>
<path d="M427 857h0m21-19h0m4 26h0m21-12h0m647 84h0m41-75h0" stroke="#e8e8e8" stroke-width="2.8"/>
<path d="M395 798h0m68 99h0" stroke="#b4b4b4" stroke-width="7.8"/></g>
<g transform="scale(.5)" stroke-linecap="round" fill="none"><path d="M110 975h0m32-143h0m1-53h0m0 38h0m0 9h0m0 10h0m0 68h0m0 50h0m1-142h0m0 27h0m1-2h0m0 47h0m1-101h0m0 170h0m1-108h0m0 102h0m1-150h0m0 13h0m0 17h0m7-1h0m5-28h0m5 16h0m1-10h0m7 15h0m2 22h0m25-51h0m1 25h0m7-23h0m0 19h0m2-1h0m1 6h0m0 13h0m0 9h0m1-23h0m1 2h0m1 20h0m55 2h0m1-3h0m0 18h0m5-34h0m1 4h0m23-6h0m2 7h0m1-12h0m0 12h0m2-21h0m0 35h0m1-27h0m2 1h0m2 115h0m1-116h0m1 41h0m1-44h0m6 9h0m2-5h0m3-17h0m12 13h0m0 3h0m5-16h0m6 6h0m9 16h0m0 3h0m2 11h0m1-9h0m0 12h0m1-18h0m0 27h0m4-9h0m2-21h0m5 21h0m2-30h0m0 19h0m1-9h0m2 97h0m6-93h0m2-1h0m0 11h0m1 0h0m0 0h0m0 27h0m1-81h0m0 49h0m1-61h0m0 23h0m0 37h0m1 5h0m0 2h0m0 5h0m0 41h0m1-94h0m0 46h0m0 2h0m0 26h0m1-64h0m0 3h0m0 10h0m0 2h0m0 44h0m0 0h0m1-69h0m0 15h0m0 47h0m1-65h0m0 12h0m0 45h0m1 9h0m0 16h0m1-55h0m0 13h0m0 9h0m0 13h0m0 5h0m0 7h0m0 2h0m1-75h0m0 0h0m0 32h0m1 7h0m1 11h0m0 9h0m1-41h0m0 8h0m0 5h0m0 48h0m1-99h0m0 68h0m1-9h0m1-59h0m0 20h0m0 23h0m0 1h0m0 15h0m0 10h0m1-38h0m0 80h0m0 15h0m1-97h0m0 32h0m0 17h0m0 17h0m1-102h0m0 43h0m0 0h0m0 57h0m0 0h0m0 7h0m1-16h0m0 1h0m0 14h0m1-81h0m0 4h0m0 36h0m0 6h0m0 1h0m0 9h0m0 8h0m1-28h0m0 2h0m0 4h0m0 20h0m0 2h0m0 19h0m0 7h0m0 23h0m1-63h0m0 31h0m1-24h0m0 7h0m0 47h0m1-63h0m0 18h0m0 5h0m0 10h0m1-49h0m0 14h0m0 17h0m0 15h0m1-77h0m0 9h0m0 10h0m0 38h0m0 1h0m0 4h0m0 5h0m0 19h0m1 16h0m1-85h0m0 2h0m0 24h0m0 15h0m0 6h0m0 12h0m0 47h0m1-109h0m0 15h0m0 16h0m0 25h0m0 16h0m0 33h0m1-113h0m0 2h0m0 8h0m0 18h0m0 34h0m0 6h0m0 71h0m1-145h0m0 2h0m0 0h0m1 50h0m0 50h0m0 24h0m1-137h0m0 14h0m0 18h0m0 9h0m0 16h0m0 20h0m0 11h0m1-87h0m0 21h0m0 30h0m0 20h0m0 11h0m0 10h0m1-19h0m0 68h0m0 10h0m1-142h0m0 25h0m0 6h0m0 26h0m0 8h0m0 8h0m0 33h0m1-64h0m0 26h0m0 3h0m0 0h0m0 17h0m0 0h0m0 37h0m1-117h0m0 54h0m1-30h0m1-32h0m0 13h0m0 9h0m0 11h0m0 10h0m0 31h0m0 28h0m0 1h0m1-100h0m0 39h0m0 76h0m1-71h0m1-14h0m0 53h0m0 11h0m1-49h0m0 10h0m0 0h0m0 40h0m1-89h0m1 28h0m1 42h0m1-86h0m0 43h0m0 11h0m0 4h0m1-8h0m0 3h0m0 2h0m0 9h0m1-52h0m0 0h0m1-30h0m0 72h0m1 22h0m0 44h0m2-106h0m0 86h0m1-86h0m0 82h0m1 29h0m1-52h0m0 1h0m0 17h0m1-69h0m0 20h0m2-33h0m0 56h0m0 2h0m1-35h0m0 62h0m0 16h0m1-104h0m0 55h0m0 11h0m0 2h0m1-87h0m0 93h0m1-40h0m0 5h0m1-43h0m0 30h0m0 29h0m0 53h0m1-103h0m0 74h0m0 12h0m0 2h0m1-1h0m0 8h0m0 18h0m0 4h0m1-100h0m0 18h0m0 42h0m1-48h0m0 0h0m0 34h0m0 21h0m1 17h0m1-61h0m0 5h0m1-14h0m0 16h0m0 20h0m1-67h0m0 39h0m0 29h0m1-3h0m1-4h0m0 15h0m2-4h0m1-29h0m0 14h0m0 40h0m2-26h0m0 7h0m1-51h0m0 41h0m1 14h0m1-26h0m2-49h0m0 38h0m0 35h0m1-11h0m1-32h0m2 27h0m0 16h0m1-30h0m1-26h0m1 50h0m3-15h0m0 4h0m1-51h0m0 43h0m0 0h0m1-41h0m2 11h0m1 28h0m1-15h0m9-24h0m27 69h0m8-21h0m5-42h0m5 59h0m1-67h0m2 0h0m2 11h0m1-38h0m0 45h0m0 14h0m0 4h0m0 0h0m0 10h0m1-47h0m7 42h0m15-8h0m7 13h0m7-25h0m0 44h0m12-26h0m1-27h0m1 13h0m0 52h0m0 4h0m1-81h0m0 58h0m0 23h0m1-73h0m0 69h0m1-67h0m0 45h0m5 19h0m4-79h0m9 30h0m3-21h0m6-9h0m0 67h0m8-46h0m1 120h0m2-64h0m2-61h0m4 14h0m2 39h0m3-60h0m0 10h0m1 45h0m1-5h0m1-44h0m5-26h0m1 58h0m16-2h0m2-11h0m0 18h0m2 7h0m1-78h0m7 46h0m5 20h0m0 41h0m2-42h0m0 0h0m5-17h0m0 15h0m2 2h0m5 1h0m6 38h0m5-34h0m2-27h0m3 24h0m1-6h0m4-18h0m4 20h0m0 40h0m3-35h0m4-13h0m7 21h0m5-11h0m7-37h0m2 32h0m13 7h0m7-33h0m0 29h0m4-1h0m2 75h0m1-74h0m3-41h0m0 52h0m3-52h0m4 86h0m1-41h0m0 11h0m0 25h0m1-20h0m0 7h0m0 10h0m1-27h0m9-9h0m2 3h0m1-32h0m1 13h0m4-27h0m0 48h0m6 24h0m3 14h0m4-37h0m3-4h0m1 33h0m5-40h0m2 14h0m0 24h0m3-81h0m6 52h0m5 46h0m2-54h0m1-1h0m1-24h0m2 6h0m0 25h0m7-3h0m4 6h0m3 28h0m5-10h0m0 84h0m1-115h0m7-20h0m0 14h0m0 35h0m1-48h0m0 13h0m0 17h0m0 3h0m1-47h0m0 73h0m0 10h0m0 1h0m0 17h0m1-48h0m0 0h0m1-4h0m3-64h0m6 53h0m1 51h0m1-50h0m0 2h0m2-45h0m0 81h0m1-34h0m9-47h0m1 3h0m1 29h0m4 14h0m0 33h0m2-53h0m0 14h0m3 9h0m2 0h0m1-12h0m1 47h0m5-25h0m3-13h0m4-1h0m36-4h0m9 0h0m6 0h0m2 8h0m8-3h0m2 0h0m2 0h0m3-7h0m1 18h0m3 5h0m1-48h0m0 8h0m2 32h0m1-44h0m9 26h0m1 37h0m2-76h0m4 60h0m1-27h0m0 16h0m4-9h0m2-17h0m0 14h0m4 20h0m4 0h0m3 4h0m1-58h0m2 30h0m4-8h0m0 2h0m0 44h0m5-46h0m0 20h0m2-71h0m1 84h0m2-25h0m3-37h0m0 75h0m1-44h0m1 42h0m4-44h0m4 37h0m3-36h0m0 8h0m0 4h0m0 13h0m1 21h0m1-82h0m0 77h0m1-43h0m0 58h0m1-71h0m0 68h0m1-82h0m0 22h0m0 80h0m1-36h0m1-19h0m1-40h0m1 184h0m3-130h0m1-16h0m1 102h0m1-154h0m0 3h0m0 100h0m0 9h0m1-29h0m0 16h0m0 9h0m1-71h0m0 4h0m0 68h0m1-38h0m1-44h0m0 49h0m1-80h0m1 7h0m0 42h0m1 35h0m1 7h0m5-58h0m6 11h0m1 37h0m1-63h0m0 31h0m1-56h0m0 85h0m0 48h0m4-102h0m1 27h0m1 10h0m0 27h0m0 25h0m1-94h0m0 91h0m1-72h0m0 39h0m0 40h0m4-80h0m0 51h0m0 13h0m1-110h0m0 59h0m2-52h0m0 65h0m1-25h0m0 0h0m0 75h0m1-102h0m0 36h0m0 22h0m0 46h0m1-100h0m0 59h0m0 18h0m0 7h0m1-87h0m0 1h0m0 7h0m0 15h0m0 47h0m0 4h0m0 13h0m1-49h0m0 18h0m0 20h0m1-86h0m0 11h0m0 11h0m0 35h0m0 23h0m0 35h0m1-62h0m0 42h0m0 10h0m1-69h0m0 75h0m0 2h0m2-84h0m0 12h0m0 0h0m3-17h0m1-7h0m0 19h0m0 66h0m1-88h0m0 2h0m0 51h0m0 4h0m0 0h0m0 40h0m1-96h0m0 5h0m0 36h0m1-66h0m0 16h0m0 90h0m0 21h0m1-50h0m0 23h0m1-43h0m1-9h0m0 53h0m1-40h0m0 6h0m0 0h0m0 5h0m0 5h0m0 55h0m1-124h0m0 10h0m0 36h0m0 1h0m1 20h0m0 6h0m0 1h0m0 18h0m0 25h0m1-122h0m0 38h0m0 33h0m0 3h0m0 38h0m1-68h0m0 24h0m1-67h0m0 17h0m0 29h0m0 46h0m1-69h0m0 10h0m0 8h0m0 31h0m0 8h0m0 5h0m0 4h0m0 16h0m0 19h0m1-42h0m1-1h0m0 8h0m1-55h0m0 37h0m4-4h0m1-27h0m1 41h0m1-7h0m0 37h0m2-47h0m1-16h0m0 34h0m1-30h0m0 20h0m3 5h0m2-4h0m0 7h0m2-69h0m1 26h0m2 45h0m3-47h0m4 4h0m1 18h0m6 0h0m1 14h0m4 9h0m1-4h0m3-6h0m0 36h0m1-50h0m1 7h0m3-13h0m0 57h0m3-39h0m1-1h0m31-58h0m6 31h0m1 24h0m1-22h0m0 5h0m1 8h0m0 10h0m0 12h0m1-52h0m1 16h0m0 21h0m1 24h0m5-20h0m0 2h0m1-44h0m0 39h0m2-1h0m1-28h0m2 35h0m2 0h0" stroke="#000" stroke-width="2.5"/>
<path d="M143 928h0m1-95h0m2 7h0m1-45h0m0 29h0m0 21h0m1-60h0m0 60h0m1-16h0m2-65h0m19 76h0m6 0h0m15 10h0m68-71h0m9 41h0m0 19h0m21-44h0m8 17h0m4-16h0m9 19h0m2-38h0m3 43h0m1 15h0m1-4h0m2-27h0m7 37h0m6-11h0m4 8h0m3-12h0m5-13h0m0 1h0m3 3h0m1 144h0m3-148h0m13 4h0m3-6h0m1 5h0m16-26h0m4-35h0m0 53h0m0 25h0m1 8h0m0 25h0m1-87h0m2 41h0m0 67h0m1-59h0m0 20h0m2-19h0m1-4h0m1 22h0m1-50h0m0 33h0m0 78h0m2-111h0m0 41h0m1-54h0m0 20h0m0 24h0m1-16h0m0 36h0m0 17h0m1-22h0m2-33h0m1-12h0m0 2h0m1 14h0m0 53h0m1-38h0m0 14h0m0 16h0m2-86h0m0 8h0m1 29h0m0 40h0m1 31h0m0 4h0m1-75h0m0 54h0m1-21h0m0 28h0m1-68h0m0 29h0m0 8h0m0 11h0m1-15h0m0 7h0m0 51h0m1-19h0m1-98h0m0 46h0m0 36h0m0 13h0m1-26h0m1 13h0m0 15h0m1-85h0m0 79h0m0 30h0m2-46h0m0 19h0m3-40h0m1-44h0m4 77h0m1-28h0m0 29h0m1-2h0m1-24h0m1 25h0m1-35h0m0 22h0m0 38h0m1-66h0m2-15h0m0 49h0m2-60h0m4 3h0m0 35h0m0 0h0m1-22h0m2-48h0m0 79h0m2-33h0m0 20h0m1-13h0m1-46h0m1-11h0m0 49h0m1-27h0m2 91h0m1-14h0m0 22h0m1-63h0m0 12h0m0 23h0m1-22h0m1-31h0m4 106h0m2-82h0m0 14h0m0 26h0m1-108h0m4 51h0m1 31h0m3-36h0m0 26h0m2-5h0m9-18h0m2-13h0m14-1h0m8 64h0m2-4h0m0 9h0m4-49h0m0 20h0m6 24h0m7-34h0m4-13h0m11-14h0m0 52h0m1-50h0m1 36h0m28-8h0m12 16h0m11-12h0m2-6h0m0 5h0m3-32h0m12 57h0m1-68h0m20 173h0m1-146h0m5-18h0m5-6h0m3 9h0m0 6h0m1-9h0m1-6h0m57 11h0m6 84h0m14-70h0m0 25h0m4-2h0m2-7h0m2 4h0m2-1h0m8 33h0m4-36h0m0 11h0m3 39h0m16-44h0m1-15h0m1 15h0m7-3h0m2 6h0m26-7h0m1 2h0m5-1h0m8 3h0m6 19h0m6-20h0m3-1h0m12 2h0m1 27h0m6-31h0m20 6h0m7-2h0m2 0h0m0 20h0m3-1h0m1-57h0m0 43h0m0 24h0m2 16h0m1-28h0m0 0h0m0 16h0m1-27h0m21-8h0m3 0h0m12-2h0m2 2h0m3 3h0m6 1h0m7-59h0m0 6h0m8 157h0m26-88h0m10-32h0m10 0h0m21 5h0m1-4h0m10 17h0m1-18h0m4-10h0m0 38h0m1-18h0m1-20h0m3 32h0m8-7h0m6-33h0m2 19h0m0 16h0m3 1h0m4 6h0m0 3h0m4-78h0m2 78h0m1-26h0m2 8h0m1 25h0m1-25h0m1-22h0m4 41h0m1-79h0m0 4h0m1 129h0m2-136h0m1 51h0m0 33h0m1-42h0m0 41h0m1-18h0m1-38h0m0 57h0m0 14h0m0 18h0m0 0h0m1-34h0m0 26h0m2-53h0m2-26h0m2 85h0m1-14h0m1-50h0m1-6h0m0 68h0m1-49h0m0 34h0m2-60h0m0 17h0m1 5h0m1-10h0m5-13h0m2 60h0m4-29h0m0 3h0m1 102h0m1-132h0m2 1h0m1-7h0m0 10h0m5 44h0m1 22h0m1-14h0m1-24h0m0 52h0m4-65h0m5-54h0m0 38h0m0 62h0m1-2h0m1-79h0m0 22h0m0 50h0m1-45h0m0 4h0m0 9h0m0 24h0m0 27h0m1-106h0m0 96h0m1-6h0m0 66h0m1-138h0m0 66h0m1-58h0m0 93h0m1-122h0m0 31h0m0 89h0m2-8h0m1-45h0m1-18h0m1-25h0m0 53h0m0 28h0m0 7h0m1-93h0m1 77h0m2-98h0m0 68h0m2 32h0m2-95h0m0 56h0m0 45h0m1-80h0m0 79h0m1-42h0m1 0h0m1-28h0m0 35h0m3-62h0m0 153h0m3-95h0m1-47h0m3 36h0m1-40h0m11 34h0m4-6h0m2 24h0m18-18h0m10 17h0m2 24h0m16 24h0m21-120h0m4 56h0m2-7h0m0 22h0m2 17h0m1-21h0m0 146h0m1-128h0m4-45h0m3 9h0m0 19h0" stroke="#000" stroke-width="3"/>
<path d="M143 908h0m1-115h0m0 36h0m0 55h0m1-66h0m1 40h0m0 57h0m1-134h0m2 39h0m1 13h0m17-26h0m3-2h0m3 25h0m48 5h0m47 10h0m4 3h0m5-19h0m0 38h0m16-66h0m1 10h0m4 33h0m4-27h0m6-1h0m5 111h0m2-108h0m1 20h0m12 40h0m8-51h0m2-11h0m4-14h0m0 21h0m11-12h0m6-12h0m8 2h0m10 28h0m6-2h0m1-29h0m0 30h0m1-72h0m0 26h0m0 51h0m1-19h0m0 23h0m1 22h0m1-14h0m0 9h0m1-60h0m1-10h0m0 17h0m0 40h0m2-30h0m1 19h0m0 8h0m0 13h0m1-63h0m0 16h0m0 34h0m0 11h0m1-23h0m1-32h0m1 31h0m1 49h0m1-25h0m1 26h0m1-96h0m0 58h0m0 6h0m1-70h0m0 83h0m0 4h0m1-45h0m0 49h0m1-104h0m0 82h0m0 4h0m0 13h0m1 3h0m0 7h0m1-3h0m1-58h0m0 60h0m1-32h0m1-1h0m1-3h0m0 1h0m1-19h0m0 12h0m0 14h0m1 0h0m0 1h0m0 17h0m0 16h0m1-9h0m0 37h0m0 25h0m1-11h0m1-140h0m0 38h0m0 17h0m0 24h0m1-62h0m0 95h0m1-52h0m0 70h0m1-102h0m0 40h0m0 89h0m1-115h0m0 17h0m1-46h0m0 31h0m2 55h0m0 8h0m0 31h0m1-130h0m0 77h0m3-64h0m0 29h0m3-15h0m2 57h0m1-8h0m0 1h0m2-64h0m0 48h0m0 47h0m1-116h0m0 61h0m1-17h0m1-48h0m0 70h0m2-58h0m1 11h0m0 65h0m1 1h0m5-43h0m0 56h0m1-72h0m0 7h0m1 19h0m0 13h0m0 7h0m1-62h0m0 80h0m1-38h0m0 41h0m0 26h0m1-91h0m1-27h0m0 11h0m0 82h0m0 7h0m1-125h0m1 47h0m2 51h0m0 7h0m0 3h0m0 10h0m1-44h0m0 155h0m1-152h0m1 14h0m2 13h0m1-18h0m0 18h0m1-46h0m0 66h0m3-39h0m4 0h0m1 2h0m1 2h0m3 14h0m8 16h0m1-37h0m1-44h0m0 28h0m48 26h0m5-25h0m6-30h0m1 3h0m0 0h0m0 37h0m0 4h0m1-25h0m1-15h0m0 16h0m49 4h0m4 21h0m8-46h0m16 24h0m10 38h0m8-17h0m6-2h0m2 9h0m0 2h0m33-22h0m16 16h0m2-34h0m0 15h0m0 17h0m1-1h0m8 5h0m8-3h0m4-45h0m2 44h0m1 27h0m3-21h0m12-8h0m2 3h0m1-39h0m12 1h0m0 67h0m18-33h0m2 1h0m0 16h0m1 0h0m3 14h0m2-63h0m5 34h0m8 41h0m1-12h0m3 0h0m1-30h0m0 2h0m3-33h0m1 36h0m27-5h0m9 0h0m5 1h0m7-27h0m2 13h0m11 14h0m18 3h0m0 26h0m2-32h0m0 51h0m3-76h0m0 53h0m0 5h0m0 22h0m1-72h0m0 13h0m0 30h0m2 25h0m5-51h0m4-24h0m4 0h0m7 63h0m12-37h0m3 6h0m7 11h0m2 0h0m7-52h0m1-5h0m41 40h0m15 6h0m6-4h0m13 1h0m5 10h0m1-27h0m1 30h0m1 6h0m1-17h0m4-22h0m0 18h0m2 4h0m1-1h0m0 3h0m2-20h0m2 26h0m1-66h0m0 20h0m1 77h0m2-11h0m1-53h0m0 14h0m0 41h0m1-35h0m7 25h0m1-2h0m4-65h0m4 44h0m1-12h0m1-32h0m3 28h0m3-36h0m1 88h0m5-74h0m0 26h0m0 17h0m2-32h0m0 58h0m1-30h0m2-48h0m0 64h0m3-32h0m3-17h0m0 96h0m1-31h0m1 21h0m1-58h0m1-31h0m0 6h0m2 37h0m3 23h0m2-67h0m1 7h0m2-39h0m0 47h0m0 70h0m0 37h0m1-110h0m1 13h0m0 21h0m19-49h0m0 48h0m4-62h0m3-1h0m1 56h0m6-67h0m2 22h0m0 9h0m1 20h0m0 9h0m0 51h0m1-102h0m0 87h0m0 9h0m1-8h0m2-33h0m0 31h0m2 20h0m1-54h0m0 14h0m1-16h0m0 34h0m1-86h0m0 24h0m3-16h0m1-16h0m0 27h0m0 50h0m1 25h0m1-66h0m0 43h0m1 0h0m1-63h0m0 35h0m3-6h0m2-51h0m0 66h0m0 27h0m0 7h0m0 17h0m1-30h0m1 8h0m2-11h0m1 26h0m6-5h0m2-46h0m4 19h0m1 19h0m15-10h0m2-8h0m14-48h0m0 13h0m0 8h0m1 46h0m2-31h0m3-16h0m1 12h0m4-16h0m1 38h0m36-18h0m5 18h0m4-15h0m3-3h0m0 14h0m1-21h0m4-11h0m0 2h0m2 6h0" stroke="#000" stroke-width="3.5"/>
<path d="M143 780h0m0 137h0m1-131h0m1 170h0m1-165h0m0 41h0m0 9h0m0 6h0m0 61h0m0 15h0m1-126h0m0 14h0m0 14h0m1-29h0m0 1h0m2 2h0m19 12h0m2-4h0m34 33h0m2-15h0m1 3h0m30 77h0m30-72h0m6 10h0m20 37h0m20-54h0m3 16h0m6-62h0m0 33h0m0 20h0m1-10h0m4 19h0m6-5h0m1-50h0m6 43h0m0 9h0m7-30h0m3 21h0m4 9h0m9-45h0m4 23h0m12-30h0m4 6h0m0 37h0m1-18h0m1 19h0m1-10h0m0 27h0m1 18h0m1 3h0m2-74h0m0 65h0m1-24h0m1-28h0m0 2h0m0 18h0m1 21h0m0 33h0m1-58h0m0 15h0m0 46h0m1-89h0m0 46h0m1-18h0m1-39h0m0 5h0m0 24h0m0 9h0m0 15h0m1-38h0m0 10h0m0 31h0m0 14h0m2-68h0m0 25h0m0 38h0m2-64h0m0 5h0m0 6h0m1 58h0m0 11h0m1-54h0m0 5h0m1-26h0m0 9h0m1 61h0m1-62h0m1 35h0m1-50h0m0 12h0m0 29h0m1-33h0m0 51h0m0 5h0m1-62h0m0 59h0m0 34h0m0 39h0m1-96h0m1-50h0m0 93h0m1-74h0m0 30h0m1-24h0m0 4h0m0 37h0m0 54h0m0 20h0m1-85h0m0 29h0m0 18h0m1-63h0m0 18h0m0 9h0m1-33h0m0 96h0m0 8h0m1-111h0m0 5h0m1 62h0m1-81h0m0 63h0m0 39h0m0 31h0m1-87h0m0 57h0m1-58h0m1-56h0m0 50h0m0 10h0m0 12h0m2-51h0m1 46h0m0 37h0m1-75h0m0 53h0m2-81h0m0 72h0m1-61h0m0 46h0m2 17h0m1-86h0m1 15h0m2 24h0m0 27h0m3 6h0m1-5h0m1 10h0m0 15h0m1 6h0m2-54h0m1-10h0m0 23h0m2 8h0m2 5h0m1-62h0m0 31h0m1 22h0m1 119h0m1-143h0m1 65h0m1-29h0m4 16h0m7 2h0m1-25h0m1 28h0m2-34h0m0 76h0m3-119h0m1 78h0m6 7h0m1-55h0m1 64h0m1-7h0m1-2h0m2-5h0m2 5h0m6-28h0m30-44h0m1 17h0m17 0h0m1-15h0m1 36h0m14 6h0m6 0h0m27 39h0m3-81h0m1 12h0m1 11h0m49-8h0m2 42h0m1 2h0m1 10h0m47 2h0m1-18h0m15-29h0m4 14h0m5 3h0m0 31h0m3-87h0m7 44h0m8 15h0m4-8h0m18 25h0m1-43h0m1 25h0m12 33h0m3-43h0m0 4h0m6 2h0m10 5h0m1 22h0m6-70h0m1-12h0m2 56h0m2-18h0m5 16h0m1-23h0m9 7h0m14 39h0m13-76h0m16 41h0m2 32h0m1-24h0m5 5h0m1-7h0m3 5h0m4 19h0m5-48h0m0 88h0m1-75h0m1-31h0m0 14h0m0 59h0m1-72h0m4 53h0m2-2h0m8 2h0m29-2h0m1 8h0m52-12h0m3 5h0m5 126h0m4-123h0m3-15h0m13-6h0m0 24h0m6-16h0m8 6h0m2-11h0m5-1h0m5 16h0m1 10h0m1-27h0m1-12h0m0 15h0m15 57h0m1-77h0m0 40h0m7-11h0m4 8h0m2-67h0m1 37h0m6 12h0m3-4h0m0 40h0m3-18h0m1-29h0m2 26h0m1 11h0m0 121h0m1-142h0m0 6h0m3 6h0m0 10h0m2 27h0m2-84h0m0 10h0m0 6h0m0 13h0m0 45h0m0 2h0m0 14h0m11-61h0m2 18h0m7 3h0m5-76h0m3 2h0m2 92h0m1-36h0m0 54h0m4-49h0m2-12h0m0 73h0m1-88h0m1 10h0m0 63h0m1 58h0m2-110h0m1-10h0m1-9h0m1 1h0m0 35h0m1-21h0m0 36h0m1-68h0m0 101h0m5-48h0m1-21h0m0 32h0m1-21h0m0 57h0m1-14h0m1-87h0m0 42h0m2 15h0m0 51h0m1-96h0m0 32h0m1 62h0m3-36h0m1-51h0m0 28h0m0 18h0m1-53h0m0 78h0m1-59h0m0 13h0m0 4h0m0 46h0m1-86h0m0 26h0m1-7h0m0 50h0m1-36h0m20 24h0m4-45h0m14 4h0m1 28h0m1 11h0m10-11h0m6-70h0m34 33h0m2 18h0m1-24h0m0 9h0m0 19h0m4 29h0m3-55h0m1-7h0m1 37h0m1 20h0m2-72h0m0 44h0m3-4h0" stroke="#000" stroke-width="4"/>
<path d="M402 805h0m8-5h0m21 39h0m7 1h0m5-51h0m653 176h0m57-143h0m1 64h0m0 39h0" stroke="#000" stroke-width="5.8"/>
<path d="M429 794h0m22 42h0m672 70h0" stroke="#000" stroke-width="6.8"/>
<path d="M420 812h0m722-32h0" stroke="#000" stroke-width="7.8"/>
<path d="M473 885h0m590-75h0" stroke="#000" stroke-width="8.8"/>
<path d="M1107 978h0" stroke="#000" stroke-width="11.8"/>
<path d="M402 805h0m8-5h0m21 39h0m7 1h0m5-51h0m653 176h0m57-143h0m1 64h0m0 39h0" stroke="#e8e8e8" stroke-width="1.8"/>
<path d="M429 794h0m22 42h0m672 70h0" stroke="#e8e8e8" stroke-width="2.8"/>
<path d="M420 812h0m722-32h0" stroke="#e8e8e8" stroke-width="3.8"/>
<path d="M473 885h0m590-75h0" stroke="#e8e8e8" stroke-width="4.8"/>
<path d="M1107 978h0" stroke="#b4b4b4" stroke-width="7.8"/>
<path d="M290 795h0m1 36h0m4-10h0m1 2h0m3 9h0m0 28h0m1-22h0m0 11h0m0 5h0m2-28h0m4-9h0m1 7h0m10-18h0m4 41h0m1-9h0m5-24h0m2 7h0m1-6h0m5 12h0m9-4h0m3 3h0m13 7h0m2-36h0m3 10h0m3 10h0m2 27h0m5-46h0m2 14h0m7-29h0m0 43h0m0 22h0m1-49h0m0 69h0m1-79h0m1 10h0m3 19h0m1 56h0m1-91h0m0 64h0m1-22h0m1-9h0m1 32h0m1-62h0m0 12h0m0 9h0m0 36h0m1-35h0m0 25h0m0 19h0m0 31h0m2-73h0m1-38h0m0 65h0m0 36h0m1-80h0m1-2h0m0 0h0m0 1h0m0 2h0m0 21h0m3-32h0m0 4h0m0 6h0m0 1h0m0 18h0m0 2h0m0 23h0m0 46h0m2-76h0m0 2h0m0 10h0m0 57h0m1-49h0m0 10h0m0 2h0m0 13h0m0 29h0m1-68h0m0 28h0m0 15h0m1-42h0m0 6h0m0 56h0m1-88h0m2 36h0m0 40h0m1-39h0m0 25h0m1-42h0m1 28h0m0 22h0m0 61h0m1-113h0m0 40h0m0 8h0m1-32h0m0 4h0m0 30h0m1 0h0m1-5h0m1-51h0m0 35h0m1-69h0m0 47h0m0 34h0m1-41h0m0 0h0m0 60h0m0 2h0m1-81h0m0 12h0m0 57h0m1-53h0m0 6h0m1 23h0m4 19h0m1 38h0m4-114h0m1 64h0m1 51h0m5-18h0m3-8h0m3-91h0m2 66h0m9 11h0m3-10h0m2-19h0m0 41h0m2-94h0m6 47h0m1 52h0m5-16h0m7-24h0m58 29h0m53-32h0m1 31h0m3-55h0m0 17h0m13 27h0m13-36h0m89 23h0m29-45h0m8 64h0m1-42h0m43 51h0m1-25h0m0 12h0m89-14h0m1 28h0m0 1h0m0 8h0m0 0h0m1-17h0m1-39h0m0 51h0m0 21h0m1-29h0m2-22h0m41-18h0m5 51h0m4-35h0m34-5h0m32 3h0m16 23h0m2-12h0m2-10h0m0 4h0m2-13h0m4 19h0m4 4h0m5-14h0m8 20h0m0 11h0m2-30h0m3-9h0m1 9h0m1 0h0m1 12h0m1-88h0m5 51h0m3-8h0m3 39h0m0 4h0m0 37h0m1-45h0m2-6h0m4-35h0m0 9h0m0 26h0m2-11h0m4 11h0m3 7h0m0 24h0m1-66h0m0 38h0m0 32h0m1-77h0m0 31h0m0 47h0m1-48h0m1-16h0m1 8h0m0 43h0m2-33h0m1 22h0m3-69h0m0 27h0m0 63h0m0 9h0m0 3h0m1-90h0m0 105h0m7-36h0m1 11h0m2-37h0m1 11h0m6-6h0m2-60h0m0 7h0m0 2h0m1 31h0m3 67h0m3-107h0m0 40h0m0 62h0m1-77h0m0 15h0m1-8h0m1 25h0m0 12h0m0 47h0m5-62h0m0 47h0m1-16h0m1-31h0m0 25h0m0 28h0m1-38h0m0 7h0m0 13h0m2-63h0m0 43h0m1-11h0m0 4h0m1-17h0m0 9h0m0 8h0m1-42h0m0 22h0m0 74h0m1-81h0m0 45h0m0 6h0m1-53h0m0 32h0m0 24h0m0 11h0m2-84h0m0 6h0m0 95h0m1-55h0m0 20h0m1 83h0m1-131h0m1-7h0m0 24h0m0 46h0m1-2h0m1-58h0m0 26h0m1-8h0m0 4h0m0 30h0m1 6h0m1-83h0m0 11h0m2 15h0m0 2h0m0 21h0m1-9h0m0 52h0m1-47h0m0 4h0m0 36h0m0 90h0m1-121h0m2-38h0m0 10h0m0 22h0m0 2h0m1-12h0m0 58h0m2-111h0m2 66h0m35-37h0m2 68h0m1-16h0m57-26h0m4 18h0m2 0h0m3-21h0m2-25h0" stroke="#f00" stroke-width="2.5"/>
<path d="M143 842h0m31 1h0m91 108h0m25-155h0m4-7h0m1 128h0m2-96h0m0 50h0m1-46h0m1 25h0m0 7h0m0 3h0m1-12h0m4-24h0m2 9h0m18-27h0m10-14h0m4 27h0m5 17h0m19-7h0m2-17h0m5 15h0m7-26h0m8-14h0m0 3h0m0 30h0m0 10h0m2-7h0m0 3h0m1-9h0m0 18h0m1-82h0m0 16h0m0 25h0m1 62h0m1-62h0m0 72h0m0 1h0m1-58h0m0 34h0m1-26h0m1 20h0m1 21h0m1-60h0m0 11h0m0 63h0m1-72h0m0 20h0m0 25h0m1-59h0m1-18h0m0 37h0m0 36h0m1-59h0m0 2h0m2 53h0m0 4h0m1-45h0m0 0h0m0 4h0m1 2h0m0 8h0m0 10h0m0 5h0m0 19h0m1 15h0m1-78h0m0 32h0m2 20h0m0 6h0m0 2h0m1-63h0m0 67h0m2-39h0m0 38h0m1-25h0m0 14h0m0 7h0m0 7h0m0 12h0m0 10h0m1-76h0m0 48h0m1-13h0m2-1h0m0 26h0m1-63h0m0 28h0m2-39h0m0 51h0m0 8h0m3-29h0m0 32h0m0 4h0m0 36h0m2-67h0m0 27h0m0 16h0m1-21h0m2 14h0m6-37h0m0 22h0m9-44h0m2 24h0m1 47h0m1-40h0m1-6h0m5 46h0m2-2h0m2-81h0m2 109h0m1-73h0m3 20h0m8-28h0m5 89h0m3-53h0m0 21h0m1-41h0m8 29h0m110-34h0m1-9h0m1 38h0m1-30h0m0 26h0m19-5h0m51 114h0m46-124h0m29 8h0m51 13h0m2 5h0m0 5h0m1-10h0m41-21h0m11 11h0m36 20h0m0 3h0m0 7h0m1-21h0m0 16h0m0 16h0m1-43h0m0 16h0m0 6h0m0 2h0m0 2h0m0 6h0m1-19h0m0 2h0m0 35h0m1-35h0m0 7h0m29-22h0m5 21h0m9-31h0m0 10h0m43-17h0m28 14h0m7 19h0m5-36h0m14-1h0m0 23h0m3 17h0m4-27h0m3-20h0m15 21h0m1 54h0m3-30h0m0 2h0m2-37h0m0 27h0m8-20h0m1-30h0m0 61h0m1-79h0m3 60h0m3-32h0m1-14h0m0 37h0m1 39h0m3-54h0m2 8h0m1-11h0m0 151h0m1-111h0m1-72h0m1 7h0m0 70h0m0 13h0m2-74h0m2-19h0m1 24h0m1-17h0m0 88h0m2-26h0m0 10h0m1-35h0m0 29h0m1-2h0m2-26h0m5-2h0m1-2h0m2 16h0m7-14h0m3 4h0m3-21h0m1 92h0m1-75h0m2-11h0m0 60h0m1-30h0m0 25h0m3-14h0m1-20h0m1 22h0m3-65h0m0 38h0m1-40h0m0 23h0m1-28h0m1 10h0m0 46h0m0 8h0m1-37h0m0 18h0m0 150h0m2-97h0m0 12h0m1-115h0m0 0h0m0 25h0m1 2h0m0 2h0m0 20h0m1 13h0m1-51h0m0 22h0m1 3h0m2 1h0m2 13h0m0 46h0m1-30h0m0 51h0m1-115h0m0 12h0m1 35h0m2-8h0m2 64h0m1-88h0m0 13h0m0 16h0m1-51h0m0 40h0m0 10h0m0 15h0m0 43h0m1 3h0m1-40h0m0 22h0m1-59h0m0 2h0m0 18h0m0 54h0m1-72h0m0 51h0m0 2h0m0 11h0m0 14h0m1-87h0m0 37h0m0 47h0m1-46h0m0 25h0m47-40h0m6 38h0m44-69h0m3 3h0m6-23h0" stroke="#f00" stroke-width="3"/>
<path d="M146 827h0m152 20h0m1-45h0m0 40h0m0 1h0m0 12h0m0 6h0m1-47h0m0 12h0m0 2h0m0 29h0m0 10h0m14-18h0m3-25h0m2-34h0m6 27h0m10 11h0m5-10h0m7 13h0m4-30h0m11 10h0m0 9h0m5-1h0m4 4h0m3-6h0m10-17h0m0 43h0m1-20h0m1-69h0m0 84h0m1-70h0m0 84h0m1 0h0m0 7h0m3-74h0m0 16h0m0 12h0m0 26h0m2-35h0m0 31h0m1-35h0m1 36h0m0 20h0m0 1h0m1-49h0m1 10h0m0 36h0m1-43h0m1-28h0m1 71h0m0 7h0m1-41h0m1 49h0m0 15h0m1-97h0m0 25h0m0 36h0m1-73h0m0 16h0m1-2h0m0 80h0m1-85h0m0 61h0m0 29h0m1-58h0m0 34h0m1-34h0m0 5h0m1-28h0m0 53h0m1-49h0m0 13h0m1-8h0m0 62h0m1-56h0m0 2h0m0 14h0m0 11h0m0 50h0m2-132h0m0 65h0m0 13h0m1-41h0m0 14h0m0 4h0m1-20h0m0 92h0m1-109h0m0 1h0m0 65h0m0 15h0m0 17h0m1-77h0m0 24h0m0 28h0m1-27h0m0 24h0m1 18h0m1-86h0m0 78h0m1-62h0m0 39h0m3-22h0m1 6h0m5 102h0m6-81h0m3 38h0m2-62h0m5-12h0m0 50h0m2-9h0m2 32h0m6 13h0m1-52h0m4 3h0m0 42h0m1-53h0m0 6h0m6-38h0m4 73h0m2-30h0m0 16h0m0 37h0m3-64h0m1 37h0m4-10h0m113-21h0m0 3h0m3-16h0m26-19h0m31 48h0m82 10h0m22-56h0m35 49h0m2 17h0m14 118h0m55-118h0m5-25h0m16-6h0m0 19h0m0 11h0m0 1h0m1-31h0m1 25h0m0 0h0m0 16h0m0 5h0m1-21h0m3 1h0m2 5h0m4-39h0m84-1h0m1 12h0m3 5h0m3-36h0m3-32h0m1 65h0m8-7h0m11 5h0m9-11h0m5 41h0m13-18h0m3 13h0m13-20h0m2 4h0m3-2h0m3 30h0m3-49h0m2 51h0m1-93h0m0 22h0m3 45h0m1-80h0m2 34h0m6-33h0m1 50h0m2-9h0m0 78h0m2-7h0m1-2h0m0 7h0m1-9h0m3-98h0m1-19h0m0 27h0m0 7h0m0 46h0m1 19h0m1-81h0m2 100h0m1-111h0m0 5h0m0 80h0m0 17h0m1-36h0m8 38h0m4-52h0m7-23h0m0 24h0m1-36h0m1 123h0m3-103h0m1 15h0m0 33h0m1-65h0m0 67h0m1-83h0m1 85h0m1-83h0m1 153h0m4-148h0m2-8h0m0 32h0m0 26h0m0 11h0m1-53h0m0 22h0m1-11h0m0 12h0m0 29h0m0 31h0m1-48h0m0 62h0m1-104h0m0 6h0m1-10h0m0 22h0m0 21h0m1-20h0m1-14h0m0 11h0m1-30h0m0 33h0m2 75h0m2-65h0m0 28h0m1-34h0m2 7h0m1 70h0m1-101h0m0 74h0m0 37h0m1-69h0m0 20h0m2 31h0m1-54h0m1-20h0m3-12h0m0 36h0m1-52h0m0 57h0m1 19h0m1-12h0m0 1h0m41 7h0m0 27h0m1-82h0m1 58h0m50-26h0m1 15h0m11-9h0m2-7h0" stroke="#f00" stroke-width="3.5"/>
<path d="M143 906h0m2-107h0m150 45h0m4-46h0m0 25h0m0 13h0m0 14h0m0 7h0m0 8h0m1-30h0m1 8h0m15-42h0m1 22h0m3-36h0m9 20h0m24-3h0m0 32h0m12 1h0m3 1h0m6-5h0m10-10h0m0 14h0m1-39h0m0 42h0m1-66h0m1-6h0m0 31h0m0 43h0m2 13h0m1-47h0m0 15h0m1-11h0m0 8h0m1-31h0m0 40h0m1-17h0m0 19h0m0 27h0m1-105h0m0 21h0m1 30h0m0 0h0m0 16h0m0 17h0m0 53h0m2-90h0m1 62h0m1-51h0m1-28h0m0 78h0m0 14h0m2-69h0m0 19h0m0 7h0m0 8h0m0 25h0m1-48h0m1-36h0m0 33h0m0 66h0m1-53h0m0 16h0m0 13h0m1-58h0m0 21h0m1-7h0m0 7h0m0 1h0m0 3h0m1-15h0m0 8h0m0 4h0m1 0h0m1-31h0m0 16h0m0 20h0m1 28h0m1-67h0m0 79h0m1-1h0m0 5h0m1-53h0m1-19h0m0 17h0m0 9h0m0 5h0m0 48h0m1-18h0m1-34h0m0 44h0m1-46h0m1-42h0m0 48h0m1-51h0m0 53h0m0 16h0m1-61h0m0 45h0m0 2h0m1-23h0m1-35h0m1 4h0m0 1h0m1 19h0m1 42h0m0 8h0m1 24h0m5-60h0m1 56h0m14-53h0m4 16h0m1 0h0m3 59h0m1-34h0m0 9h0m4-50h0m16 3h0m11 21h0m33-9h0m1-34h0m29 177h0m47-163h0m0 25h0m2-29h0m0 1h0m0 69h0m1-26h0m32-3h0m23 4h0m135-69h0m5 95h0m15-45h0m4-46h0m15 7h0m3 38h0m54 23h0m0 2h0m0 16h0m1-59h0m0 39h0m0 3h0m0 5h0m1-6h0m0 6h0m0 2h0m0 2h0m0 0h0m0 4h0m0 1h0m0 21h0m1-74h0m0 38h0m0 23h0m1-27h0m12-57h0m5 45h0m77-3h0m8-18h0m4-8h0m9 24h0m2 9h0m4 9h0m10-16h0m0 1h0m5-39h0m0 71h0m5-46h0m9 11h0m3-17h0m1 4h0m15-10h0m2 36h0m4-69h0m0 30h0m2-4h0m1-8h0m1 66h0m1-13h0m1 3h0m2-15h0m4 0h0m3-73h0m2 50h0m1 26h0m2-44h0m0 73h0m1-12h0m0 15h0m1-8h0m0 9h0m1-61h0m1-41h0m0 6h0m0 19h0m1 65h0m3-61h0m0 58h0m4-69h0m0 43h0m0 18h0m0 33h0m1-115h0m0 93h0m1-55h0m0 8h0m0 1h0m0 25h0m0 24h0m0 10h0m5-76h0m3 12h0m6 59h0m4-21h0m1-68h0m0 47h0m1 42h0m2-59h0m1-26h0m4 2h0m0 30h0m2 37h0m2-95h0m0 96h0m1-50h0m0 3h0m3 83h0m2-105h0m0 46h0m0 18h0m1-77h0m1 12h0m1 14h0m1 56h0m0 19h0m1-91h0m1-6h0m0 11h0m1 105h0m1-49h0m1 38h0m1-23h0m3-70h0m0 83h0m0 15h0m1-94h0m0 22h0m0 48h0m0 4h0m1-2h0m0 6h0m0 2h0m1-14h0m1-58h0m0 89h0m1-28h0m0 1h0m1-105h0m0 37h0m1 2h0m1 32h0m0 39h0m0 3h0m1-64h0m1 57h0m1-20h0m0 3h0m1-3h0m0 50h0m1-108h0m0 41h0m0 1h0m1-4h0m0 27h0m1-51h0m25 45h0m15-7h0m3-1h0m48 8h0m2 8h0m1-64h0m1 27h0m1 8h0m10-42h0" stroke="#f00" stroke-width="4"/></g>
<line x1="191.89" y1="376.6" x2="191.89" y2="495.8" stroke="#ffa500" stroke-width="1.8" stroke-dasharray="11.1 5.5 1.3 5.5 11.1 5.2"/><line x1="526.26" y1="376.6" x2="526.26" y2="495.8" stroke="#ffa500" stroke-width="1.8" stroke-dasharray="11.1 5.5 1.3 5.5 11.1 5.2"/><line x1="545.36" y1="376.6" x2="545.36" y2="495.8" stroke="#ffa500" stroke-width="1.8" stroke-dasharray="11.1 5.5 1.3 5.5 11.1 5.2"/>
<polyline points="53.1,495 69.2,495 71.5,493.1 75,492 98.4,491.4 139.3,489.6 162.6,487.3 189.9,484.6 201.9,481.3 206.3,475.8 210.7,472.5 215,470.3 220.5,463.8 222.7,460.5 232.6,458.3 245.7,456.1 252.3,455.5 278.5,454.6 296,453.3 299.3,451.7 330,450.4 337.9,450.1 398.9,445.6 443.1,442.6 447.6,438.1 480,435.9 505,432.5 524.5,430 527.5,426.6 540,423.5 545,420.7 549,413 553,406.7 558,403 565,399.7 577,395 590,393.9 600,390.8 620,389.2 637,387.4" fill="none" stroke="#0000ff" stroke-width="3.6" stroke-linejoin="round" stroke-linecap="round"/>
</g>
<rect x="40.0" y="376.6" width="597.0" height="119.19999999999999" fill="none" stroke="#000" stroke-width="2"/>
<use href="#xax" transform="translate(0,495.8)"/>
<path d="M39.0 382.56h-2 M39.0 388.52h-2 M39.0 394.48h-2 M39.0 400.44h-2 M39.0 412.36h-2 M39.0 418.32h-2 M39.0 424.28h-2 M39.0 430.24h-2 M39.0 442.16h-2 M39.0 448.12h-2 M39.0 454.08h-2 M39.0 460.04h-2 M39.0 471.96h-2 M39.0 477.92h-2 M39.0 483.88h-2 M39.0 489.84h-2" stroke="#000" stroke-width="0.9"/>
<line x1="39.0" y1="376.6" x2="36.0" y2="376.6" stroke="#333" stroke-width="1"/>
<line x1="39.0" y1="406.4" x2="36.0" y2="406.4" stroke="#333" stroke-width="1"/>
<line x1="39.0" y1="436.2" x2="36.0" y2="436.2" stroke="#333" stroke-width="1"/>
<line x1="39.0" y1="466" x2="36.0" y2="466" stroke="#333" stroke-width="1"/>
<line x1="39.0" y1="495.8" x2="36.0" y2="495.8" stroke="#333" stroke-width="1"/>
<g  font-size="10" text-anchor="end" fill="#000"><text x="34.3" y="380.8">−1</text><text x="34.3" y="410.6">0</text><text x="34.3" y="440.4">1</text><text x="34.3" y="470.2">2</text><text x="34.3" y="500">3</text></g>
<path d="M638.0 476.8h2 M638.0 438.8h2 M638.0 400.8h2" stroke="#000" stroke-width="0.9"/>
<line x1="638.0" y1="495.8" x2="641.0" y2="495.8" stroke="#333" stroke-width="1"/>
<line x1="638.0" y1="457.8" x2="641.0" y2="457.8" stroke="#333" stroke-width="1"/>
<line x1="638.0" y1="419.8" x2="641.0" y2="419.8" stroke="#333" stroke-width="1"/>
<line x1="638.0" y1="381.8" x2="641.0" y2="381.8" stroke="#333" stroke-width="1"/>
<g font-size="10" text-anchor="end"><text x="669.45" y="499.7">0</text><text x="669.45" y="461.7">5000</text><text x="669.45" y="423.7">10000</text><text x="669.45" y="385.7">15000</text></g>
<text font-size="13.5" text-anchor="middle" transform="translate(16.8,435.4) rotate(-90)">Depth [km]</text>
<text font-size="13.5" text-anchor="middle" transform="translate(684.8,433.8) rotate(-90)">Cumulative number</text>
<text font-size="14" x="3.8" y="382.8">(c)</text>
<text font-size="13.8" x="53.3" y="390.4">Shinmoe-dake</text>
<clipPath id="c3"><rect x="40.0" y="540.7" width="597.0" height="119.19999999999993"/></clipPath>
<g clip-path="url(#c3)">
<polyline points="70.7,658.9 140.7,658.5 158.3,656.3 171.4,652.8 188.9,646.6 202,638.7 215.2,627.8 228.3,621.2 250.2,618.2 285.3,616.8 302.8,614.7 340,612.4 398.9,610.1 443.1,607.9 491.8,605.2 522.8,600.8 531.6,597.7 542.7,594.3 544.9,593.3 547.1,577.8 549.3,572.5 553.7,569 558.1,564.5 562.6,561.4 567,559.2 573.6,557 578,554.8 584.7,554.4 602.4,553.5 624.5,552.6 637,551" fill="none" stroke="#ff0000" stroke-width="3.6" stroke-linejoin="round" stroke-linecap="round"/>
<line x1="191.89" y1="546.4" x2="191.89" y2="659.9" stroke="#ffa500" stroke-width="1.8" stroke-dasharray="11.1 5.5 1.3 5.5 11.1 5.2"/><line x1="526.26" y1="546.4" x2="526.26" y2="659.9" stroke="#ffa500" stroke-width="1.8" stroke-dasharray="11.1 5.5 1.3 5.5 11.1 5.2"/><line x1="545.36" y1="546.4" x2="545.36" y2="659.9" stroke="#ffa500" stroke-width="1.8" stroke-dasharray="11.1 5.5 1.3 5.5 11.1 5.2"/>
<path d="M69.6 659.9L70.4 644.7L71.2 659.9M142.4 659.9L143.2 629.6L144.0 659.9M145.6 659.9L146.4 587.3L147.2 659.9M148.8 659.9L149.6 650.5L150.4 651.6L151.2 659.9L152.0 636.2L152.8 659.9L153.6 656.5L154.4 659.9L155.2 632.8L156.0 659.9L156.8 625.2L157.6 659.9M159.2 659.9L160.0 637.5L160.8 659.9L161.6 624.1L162.4 659.9L163.2 619.8L164.0 659.9L164.8 615.5L165.6 625.7L166.4 659.9L167.2 551.5L168.0 659.9L168.8 622.4L169.6 653.3L170.4 659.9L171.2 624.1L172.0 647.5L172.8 659.9L173.6 659.9L174.4 551.5L175.2 651.4L176.0 613.3L176.8 659.9M180.8 659.9L181.6 620.5L182.4 588.4L183.2 588.4L184.0 659.9L184.8 649.7L185.6 616.6L186.4 637.2L187.2 650.9L188.0 659.9M189.6 659.9L190.4 605.7L191.2 659.9M192.8 659.9L193.6 565.6L194.4 624.0L195.2 592.7L196.0 639.1L196.8 659.9L197.6 624.1L198.4 659.9L199.2 659.9L200.0 650.2L200.8 641.4L201.6 659.9L202.4 627.0L203.2 659.9M204.8 659.9L205.6 631.2L206.4 628.8L207.2 659.9L208.0 649.2L208.8 646.2L209.6 657.2L210.4 641.0L211.2 659.9L212.0 655.9L212.8 659.9L213.6 656.9L214.4 645.4L215.2 657.4L216.0 659.9L216.8 652.2L217.6 637.8L218.4 659.9L219.2 657.6L220.0 646.8L220.8 646.2L221.6 659.9M223.2 659.9L224.0 653.0L224.8 654.3L225.6 624.1L226.4 655.8L227.2 659.9L228.0 659.9L228.8 644.7L229.6 659.9L230.4 659.9L231.2 655.8L232.0 659.9L232.8 659.9L233.6 626.3L234.4 636.8L235.2 639.8L236.0 649.2L236.8 649.9L237.6 659.9L238.4 647.3L239.2 659.9M241.6 659.9L242.4 656.9L243.2 659.9L244.0 659.9L244.8 638.8L245.6 657.9L246.4 659.9L247.2 650.1L248.0 659.9L248.8 659.9L249.6 643.8L250.4 657.7L251.2 640.4L252.0 659.9L252.8 659.9L253.6 655.5L254.4 659.9L255.2 619.8L256.0 659.9M273.6 659.9L274.4 605.7L275.2 659.9M277.6 659.9L278.4 632.8L279.2 632.8L280.0 659.9M282.4 659.9L283.2 605.7L284.0 659.9M299.2 659.9L300.0 627.4L300.8 659.9M308.8 659.9L309.6 618.7L310.4 659.9M315.2 659.9L316.0 605.7L316.8 659.9M330.4 659.9L331.2 624.1L332.0 659.9M344.8 659.9L345.6 656.6L346.4 659.9M397.6 659.9L398.4 632.8L399.2 659.9M400.8 659.9L401.6 605.7L402.4 659.9M404.0 659.9L404.8 645.8L405.6 659.9M444.8 659.9L445.6 653.4L446.4 659.9M457.6 659.9L458.4 644.7L459.2 659.9L460.0 643.6L460.8 659.9M490.4 659.9L491.2 606.8L492.0 659.9M496.8 659.9L497.6 641.5L498.4 659.9L499.2 659.9L500.0 637.1L500.8 659.9M508.8 659.9L509.6 594.9L510.4 659.9M512.0 659.9L512.8 644.7L513.6 659.9M520.0 659.9L520.8 628.5L521.6 659.9M529.6 659.9L530.4 588.4L531.2 659.9M532.8 659.9L533.6 616.6L534.4 659.9M539.2 659.9L540.0 631.7L540.8 659.9L541.6 659.9L542.4 630.6L543.2 659.9L544.0 646.3L544.8 642.0L545.6 588.4L546.4 659.9L547.2 659.9L548.0 620.9L548.8 643.2L549.6 659.9L550.4 659.9L551.2 627.4L552.0 659.9M559.2 659.9L560.0 620.9L560.8 655.8L561.6 659.9L562.4 659.9L563.2 588.4L564.0 648.7L564.8 651.0L565.6 646.1L566.4 653.3L567.2 659.9M568.8 659.9L569.6 636.1L570.4 659.9L571.2 638.2L572.0 659.9M575.2 659.9L576.0 640.4L576.8 659.9M583.2 659.9L584.0 628.5L584.8 659.9M600.8 659.9L601.6 624.1L602.4 659.9M626.4 659.9L627.2 616.6L628.0 659.9M629.6 659.9L630.4 588.4L631.2 659.9L632.0 651.2L632.8 659.9" fill="none" stroke="#262626" stroke-width="0.7"/>
</g>
<rect x="40.0" y="540.7" width="597.0" height="119.19999999999993" fill="none" stroke="#000" stroke-width="2"/>
<use href="#xax" transform="translate(0,659.9)"/>
<path d="M39.0 649.06h-2 M39.0 638.23h-2 M39.0 627.39h-2 M39.0 616.55h-2 M39.0 594.88h-2 M39.0 584.05h-2 M39.0 573.21h-2 M39.0 562.37h-2 M39.0 540.7h-2" stroke="#000" stroke-width="0.9"/>
<line x1="39.0" y1="659.9" x2="36.0" y2="659.9" stroke="#333" stroke-width="1"/>
<line x1="39.0" y1="605.72" x2="36.0" y2="605.72" stroke="#333" stroke-width="1"/>
<line x1="39.0" y1="551.54" x2="36.0" y2="551.54" stroke="#333" stroke-width="1"/>
<g  font-size="10" text-anchor="end" fill="#000"><text x="34.3" y="664.1">0</text><text x="34.3" y="609.92">50</text><text x="34.3" y="555.74">100</text></g>
<path d="M638.0 650.4h2 M638.0 640.9h2 M638.0 631.4h2 M638.0 621.9h2 M638.0 602.9h2 M638.0 593.4h2 M638.0 583.9h2 M638.0 574.4h2 M638.0 555.4h2 M638.0 545.9h2" stroke="#000" stroke-width="0.9"/>
<line x1="638.0" y1="659.9" x2="641.0" y2="659.9" stroke="#333" stroke-width="1"/>
<line x1="638.0" y1="612.4" x2="641.0" y2="612.4" stroke="#333" stroke-width="1"/>
<line x1="638.0" y1="564.9" x2="641.0" y2="564.9" stroke="#333" stroke-width="1"/>
<g font-size="10" text-anchor="end"><text x="664.06" y="663.8">0</text><text x="664.06" y="616.3">500</text><text x="664.06" y="568.8">1000</text></g>
<text font-size="13.5" text-anchor="middle" transform="translate(12.0,599.5) rotate(-90)">LF ratio [%]</text>
<text font-size="13.5" text-anchor="middle" transform="translate(679.7,597.9) rotate(-90)">Cumulative number (LF)</text>
<text font-size="14" x="4.3" y="546.3">(d)</text>
<text font-size="13.8" x="53.7" y="551.7">Shinmoe-dake (LF)</text>
<clipPath id="c4"><rect x="40.0" y="704.8" width="597.0" height="119.20000000000005"/></clipPath>
<g clip-path="url(#c4)">
<g transform="scale(.5)" stroke-linecap="round" fill="none"><path d="M682 1538h0m1 99h0m4-70h0m11 13h0m6-86h0m5 0h0m6 109h0m7-34h0m20-7h0m10 38h0m3 7h0m4-16h0m8-3h0m4-159h0m14 139h0m0 16h0m5-2h0m1 10h0m3-70h0m23 53h0m6 16h0m16 11h0m6-17h0m2 10h0m13-11h0m0 6h0m1 35h0m11-41h0m3 12h0m1-27h0m0 25h0m7-11h0m1 1h0m8 3h0m10 34h0m5 1h0m7-58h0m7 3h0m0 2h0m11 13h0m9 13h0m1-4h0m2-1h0m1-20h0m7 6h0m7 31h0m7-36h0m3-18h0m0 7h0m2-71h0m2-21h0m18 148h0m9-33h0m2-10h0m2-32h0m4-107h0m3-6h0m10 88h0m0 104h0m4-53h0m9-26h0m0 17h0m1-27h0m8-68h0m9-20h0m27 90h0m1 37h0m0 15h0m1-73h0m0 97h0m4-98h0m1 16h0m1-62h0m0 86h0m2 26h0m0 23h0m0 5h0m1-108h0m0 64h0m4 8h0m3 40h0m3-83h0m2 0h0m2 6h0m0 26h0m0 10h0m3-22h0m6 68h0m2-41h0m4 13h0m5-26h0m0 17h0m2-22h0m1 6h0m2-99h0m0 102h0m0 23h0m1-37h0m1 54h0m1-16h0m5-15h0m1-49h0m5 47h0m4-22h0m1-48h0m2-50h0m1 100h0m1-14h0m2 76h0m0 1h0m1-25h0m2-141h0m2 92h0m3-10h0m1 8h0m5 11h0m1-35h0m8 45h0m6 11h0m2 0h0m4-43h0m0 46h0m1 45h0m1-72h0m4 41h0m1-53h0m1 17h0m5-12h0m11-92h0m8 139h0" stroke="#000" stroke-width="2"/>
<path d="M666 1432h0m12 158h0m44-3h0m3 1h0m8 8h0m6-18h0m17 22h0m8 25h0m17-36h0m4 37h0m5-51h0m16-65h0m37 112h0m5-48h0m6 49h0m4-68h0m2 57h0m1-54h0m7 15h0m8-2h0m9 9h0m2 5h0m4 14h0m7-24h0m10-8h0m4 28h0m5-36h0m3-5h0m1 2h0m1 49h0m10-36h0m1-27h0m0 16h0m8-104h0m1 128h0m0 14h0m2-52h0m1 16h0m3 59h0m1-80h0m8 24h0m2-95h0m4 136h0m2-71h0m4 12h0m22-40h0m3 63h0m1-6h0m4-3h0m2 23h0m2-7h0m3-36h0m0 20h0m11 37h0m13-15h0m3-112h0m4 166h0m1-64h0m5-37h0m2 23h0m11-67h0m15 142h0m7-207h0m4 27h0m0 82h0m3 9h0m1-23h0m0 8h0m0 63h0m2 30h0m3-98h0m1 3h0m2 45h0m4 15h0m2-31h0m1-80h0m3 43h0m3 41h0m0 20h0m8 27h0m1-25h0m1 30h0m1-36h0m1-35h0m2 67h0m4-66h0m0 44h0m0 5h0m1 0h0m0 22h0m1-93h0m1 93h0m1 24h0m1-41h0m1-6h0m6 16h0m2-43h0m1-7h0m0 51h0m1-97h0m2 101h0m1 3h0m3-164h0m1 120h0m5-29h0m2-3h0m3 2h0m9 2h0m2-6h0m0 0h0m7-22h0m5 14h0m3 35h0m4 45h0m4-44h0m5-123h0m3 162h0m1-38h0m1-23h0m2-37h0m6 73h0m14 7h0m44 43h0m5-67h0" stroke="#000" stroke-width="2.5"/>
<path d="M325 1603h0m76-16h0m281-36h0m9 11h0m0 26h0m4-11h0m9 66h0m7-186h0m5 168h0m2-27h0m4-29h0m1 18h0m0 4h0m3-1h0m2-7h0m1-3h0m0 9h0m0 11h0m1-170h0m4 168h0m4-15h0m4 25h0m1-56h0m8 13h0m5-57h0m2 73h0m7 41h0m1-38h0m1 13h0m0 0h0m17-68h0m1 49h0m1-53h0m0 96h0m3-94h0m0 0h0m2-41h0m17 94h0m10 17h0m1-11h0m1 33h0m8-36h0m0 52h0m9-58h0m3 14h0m4 16h0m5-37h0m9 7h0m3 10h0m14 12h0m1-19h0m1 11h0m3-10h0m2-2h0m2 7h0m5-24h0m0 10h0m0 9h0m3 7h0m0 2h0m1 37h0m10-88h0m4 60h0m1-31h0m0 4h0m1-10h0m1-13h0m2-14h0m0 20h0m1 10h0m1-15h0m0 37h0m1-65h0m0 29h0m2 25h0m0 5h0m1-24h0m1-10h0m0 75h0m2-51h0m9 32h0m1-47h0m2 2h0m3 39h0m4-63h0m1 32h0m0 38h0m2-41h0m1-22h0m0 26h0m1-88h0m5 84h0m0 13h0m4-22h0m2-26h0m7 24h0m2 2h0m0 22h0m3-48h0m0 74h0m6-82h0m10-97h0m5 4h0m0 119h0m4 28h0m0 39h0m1-48h0m0 37h0m12-42h0m0 19h0m3-2h0m0 10h0m11-121h0m1 88h0m0 1h0m1-39h0m1 33h0m2-51h0m2-69h0m6 138h0m4 66h0m4-72h0m0 15h0m1-4h0m1-3h0m1-41h0m2 45h0m0 28h0m5-136h0m7-12h0m1 6h0m6 146h0m2-115h0m9 52h0m1-29h0m2 14h0m1 25h0m0 10h0m0 36h0m1-5h0m1-28h0m2 41h0m1-131h0m0 92h0m1 1h0m1-87h0m0 123h0m1-86h0m2 126h0m1-83h0m3-6h0m1-10h0m1 33h0m1 20h0m2-59h0m0 5h0m0 47h0m1-53h0m0 26h0m1-29h0m0 80h0m0 1h0m1-78h0m0 9h0m1-66h0m0 41h0m2 37h0m1-73h0m0 80h0m0 24h0m1 26h0m1-142h0m0 119h0m10-26h0m1 21h0m0 18h0m1-36h0m0 55h0m1-87h0m1 10h0m2-4h0m0 71h0m3-67h0m2 14h0m1-112h0m0 133h0m1-60h0m0 44h0m2-12h0m1 17h0m0 35h0m2-144h0m0 104h0m0 16h0m2-46h0m0 23h0m1 23h0m0 22h0m1-30h0m11-26h0m0 4h0m2-7h0m0 34h0m1-36h0m0 13h0m0 47h0m1-68h0m0 7h0m0 41h0m2-57h0m1 9h0m0 14h0m3-35h0m0 34h0m4 2h0m0 60h0m1-86h0m0 5h0m0 14h0m0 32h0m2-40h0m0 6h0m1-9h0m0 40h0m1-145h0m0 98h0m0 10h0m2-82h0m0 88h0m0 22h0m0 41h0m1-36h0m1-18h0m1-5h0m0 1h0m1-23h0m4 3h0m0 21h0m2-29h0m3 33h0m1-113h0m0 82h0m0 30h0m2 14h0m2-4h0m4-75h0m3 15h0m1 22h0m2 48h0m0 22h0m2-26h0m3-28h0m7 8h0m2 76h0m2-113h0m22-45h0" stroke="#000" stroke-width="3"/>
<path d="M666 1617h0m52-19h0m5-23h0m3 16h0m2-1h0m2 4h0m15-165h0m6 166h0m9-13h0m7-14h0m2 33h0m18 5h0m2-20h0m14 4h0m40-12h0m0 6h0m3 13h0m1 18h0m2-28h0m2-35h0m3 28h0m2-12h0m4 6h0m24 11h0m5-7h0m5 8h0m19-23h0m0 2h0m6-30h0m7-34h0m1 70h0m5 46h0m11-18h0m1-16h0m3-45h0m10 58h0m3-11h0m7-19h0m3-129h0m4 204h0m5-83h0m4-25h0m1-43h0m8-38h0m17 127h0m7-150h0m1 195h0m4-80h0m0 25h0m2-11h0m1-10h0m0 5h0m0 6h0m2-8h0m6 32h0m3-131h0m3 157h0m5-31h0m1 5h0m5-158h0m7 33h0m9 62h0m2 40h0m13 68h0m1-113h0m1 75h0m2-58h0m1 44h0m1-46h0m0 73h0m1-13h0m1-51h0m1-46h0m0 47h0m0 36h0m4-68h0m1 13h0m0 0h0m0 36h0m0 17h0m0 73h0m2-50h0m3-41h0m3 30h0m1 12h0m2-24h0m14 30h0m3-2h0m1-8h0m5-46h0m1 14h0m0 5h0m0 10h0m0 51h0m3-55h0m1-43h0m0 14h0m1-5h0m0 37h0m4-8h0m4-6h0m0 65h0m2-14h0m3-106h0m1 71h0m3 6h0m1-22h0m1-23h0m0 38h0m9-14h0m1-46h0m8 29h0m0 18h0m5-26h0m1-115h0m3 72h0m6 115h0m3-60h0m5 5h0m75-121h0" stroke="#000" stroke-width="3.5"/>
<path d="M891 1467h0m99 65h0m127 40h0m51-41h0m0 99h0" stroke="#000" stroke-width="5.8"/>
<path d="M214 1645h0m525-68h0m109 39h0m245-117h0m60 14h0" stroke="#000" stroke-width="6.8"/>
<path d="M548 1619h0m582-74h0" stroke="#000" stroke-width="7.8"/>
<path d="M780 1612h0m114-31h0m53-20h0m225-3h0" stroke="#000" stroke-width="8.8"/>
<path d="M297 1612h0" stroke="#000" stroke-width="9.8"/>
<path d="M891 1467h0m99 65h0m127 40h0m51-41h0m0 99h0" stroke="#e8e8e8" stroke-width="1.8"/>
<path d="M214 1645h0m525-68h0m109 39h0m245-117h0m60 14h0" stroke="#e8e8e8" stroke-width="2.8"/>
<path d="M548 1619h0m582-74h0" stroke="#e8e8e8" stroke-width="3.8"/>
<path d="M780 1612h0m114-31h0m53-20h0m225-3h0" stroke="#e8e8e8" stroke-width="4.8"/>
<path d="M297 1612h0" stroke="#b4b4b4" stroke-width="5.8"/></g>
<g transform="scale(.5)" stroke-linecap="round" fill="none"><path d="M664 1581h0m26-8h0m1-94h0m0 121h0m27-10h0m6 2h0m3 20h0m1-14h0m7-61h0m2 64h0m1-16h0m2 1h0m11 35h0m7-43h0m4-9h0m0 25h0m2 7h0m1 14h0m6-24h0m17-45h0m1 87h0m50-26h0m9-44h0m1 5h0m0 27h0m1-17h0m1-5h0m2-8h0m4-74h0m2 117h0m2 6h0m13-27h0m6-1h0m34-40h0m3 16h0m4-54h0m5 59h0m2-6h0m11-11h0m7-21h0m0 43h0m4-19h0m11 15h0m2-101h0m5 126h0m8 21h0m2-44h0m3 33h0m13-59h0m3-22h0m11 37h0m2-92h0m3-15h0m12 110h0m0 11h0m1-12h0m6-102h0m2 7h0m2 177h0m2-97h0m5 49h0m1-126h0m2 93h0m19-9h0m4 49h0m13-74h0m1 44h0m2-67h0m1 9h0m0 83h0m1-86h0m3 30h0m0 4h0m4 15h0m10 24h0m1-40h0m0 38h0m1-70h0m0 37h0m10 11h0m0 12h0m3-70h0m0 54h0m1 45h0m2-31h0m1 21h0m2 26h0m1 3h0m1 8h0m1-60h0m1 51h0m2-39h0m3-13h0m1-5h0m0 20h0m4 1h0m10-124h0m1 110h0m0 20h0m6-5h0m3-23h0m3-94h0m0 87h0m2 37h0m5-20h0m1-30h0m0 47h0m2-55h0m1 56h0m2-47h0m1 18h0m2-6h0m2 17h0m1-34h0m0 8h0m1-7h0m1 36h0m2 46h0m1 24h0m1-123h0m2 40h0m4-8h0m3-26h0m2 31h0m3-41h0m0 51h0m1-16h0m0 32h0m2-64h0m9 7h0m1-42h0m40-8h0" stroke="#000" stroke-width="2"/>
<path d="M347 1628h0m22 9h0m263-39h0m34 32h0m16-79h0m42 31h0m1 11h0m1 0h0m2-20h0m7 13h0m17-83h0m4 74h0m1-50h0m0 83h0m6-20h0m2 14h0m23-58h0m1 79h0m2-69h0m7-49h0m36-43h0m9 153h0m14-25h0m2-28h0m19 30h0m12-11h0m11-54h0m8 1h0m5 7h0m0 36h0m6-27h0m9 34h0m4-39h0m2 7h0m1-42h0m6-33h0m3 98h0m4-4h0m3 6h0m7-27h0m3 36h0m5-15h0m1-7h0m7 68h0m1-70h0m2 77h0m24-101h0m3 105h0m15-80h0m3-103h0m0 81h0m3-11h0m1 48h0m5-92h0m7 49h0m4 3h0m0 16h0m1-9h0m3 6h0m15-11h0m17-1h0m2-5h0m2 16h0m1 15h0m0 64h0m1-60h0m0 62h0m2-70h0m0 18h0m1 1h0m3-31h0m5-75h0m0 104h0m1-17h0m0 9h0m3-46h0m3 69h0m0 15h0m3-21h0m0 34h0m10-42h0m0 17h0m0 25h0m1-58h0m5 15h0m3 4h0m0 29h0m1-42h0m0 38h0m3 8h0m3-13h0m1-173h0m6 39h0m13 73h0m3 16h0m1 7h0m2-70h0m2 90h0m1-31h0m2 46h0m1-26h0m1-36h0m1 19h0m9 38h0m7-8h0m1-34h0m1 51h0m1-67h0m2 15h0m1-6h0m1 19h0m2-61h0m0 39h0m1-6h0m2-17h0m4 20h0m2 4h0m1 16h0m1-18h0m1 16h0m43 29h0m27 62h0" stroke="#000" stroke-width="2.5"/>
<path d="M277 1640h0m20-37h0m184 8h0m195-62h0m3 66h0m7-186h0m0 97h0m7 62h0m18-16h0m6 34h0m1-26h0m3 12h0m6-14h0m3-12h0m5-21h0m1 41h0m0 1h0m1-3h0m2 55h0m11-17h0m6-14h0m4-10h0m5-8h0m3-3h0m1-9h0m0 35h0m1-9h0m18-33h0m0 12h0m1-48h0m0 52h0m0 8h0m1-42h0m0 2h0m6-14h0m30 65h0m9-90h0m7 29h0m0 16h0m5-10h0m5 30h0m5-13h0m2-97h0m0 106h0m0 26h0m1-62h0m2 13h0m2 10h0m5 71h0m6-58h0m2 10h0m5-16h0m2-99h0m1 99h0m4 8h0m0 8h0m1 7h0m4-14h0m1 35h0m2-83h0m12 16h0m2-13h0m2 13h0m1-23h0m0 36h0m2-85h0m1 40h0m3 64h0m2-24h0m1 14h0m1-11h0m5-48h0m0 39h0m2-25h0m2 44h0m0 26h0m4-53h0m1-3h0m2 45h0m4 49h0m1-103h0m0 18h0m1 7h0m7 33h0m4-59h0m0 36h0m1-27h0m0 23h0m2 51h0m1-81h0m2-99h0m1 116h0m0 2h0m1 40h0m2-35h0m2 16h0m2-139h0m0 123h0m1-77h0m0 141h0m17-26h0m3-10h0m2-7h0m0 28h0m8-163h0m0 130h0m0 9h0m4 3h0m3-30h0m0 18h0m4 23h0m1-104h0m8 35h0m0 60h0m1-3h0m3 5h0m2-21h0m3 13h0m5-18h0m0 11h0m1-31h0m3 19h0m1 3h0m1 14h0m0 13h0m3-79h0m2 116h0m3-203h0m4 51h0m9 107h0m5-16h0m2-26h0m5 49h0m3-107h0m1 20h0m0 99h0m3-112h0m1 9h0m0 121h0m2-117h0m0 87h0m1-59h0m0 23h0m2-13h0m0 75h0m0 18h0m3 8h0m1-176h0m0 82h0m1-84h0m0 76h0m0 68h0m1-18h0m2-99h0m0 3h0m0 29h0m0 52h0m2 37h0m2-65h0m2-6h0m0 8h0m0 26h0m1-10h0m0 28h0m1-120h0m0 60h0m0 2h0m0 76h0m0 9h0m1-49h0m0 46h0m0 22h0m1-99h0m0 45h0m1 14h0m0 41h0m1-133h0m0 22h0m0 3h0m0 52h0m2-13h0m1-10h0m1-127h0m3 149h0m0 22h0m1-36h0m1-38h0m0 24h0m0 4h0m0 3h0m0 16h0m0 20h0m2-52h0m0 56h0m0 0h0m0 13h0m3-58h0m1 43h0m3-36h0m5 8h0m0 21h0m2-20h0m0 30h0m2-56h0m0 57h0m3-42h0m2 36h0m2 4h0m0 32h0m1-158h0m4 59h0m1 30h0m4-43h0m1 20h0m0 1h0m0 20h0m1-1h0m1 7h0m6-16h0m1-17h0m0 24h0m0 3h0m1-23h0m0 0h0m0 2h0m0 4h0m1-51h0m1 77h0m1 13h0m2-59h0m0 35h0m0 27h0m2-45h0m1-22h0m1 9h0m2 6h0m2-27h0m0 28h0m0 4h0m1 1h0m0 0h0m0 9h0m0 31h0m0 1h0m2-7h0m0 38h0m2-121h0m0 65h0m1-6h0m1 35h0m1-47h0m1 46h0m3-4h0m0 6h0m1-36h0m0 2h0m1 8h0m1-14h0m1-16h0m1 21h0m1-9h0m0 61h0m4-25h0m3-46h0m0 10h0m1-6h0m1 47h0m1-14h0m0 30h0m3-59h0m1-21h0m2 99h0m7-177h0m9 131h0m1-115h0m11 64h0" stroke="#000" stroke-width="3"/>
<path d="M672 1458h0m3 86h0m13 29h0m38 14h0m1-150h0m7 145h0m2 3h0m16 22h0m11-13h0m2 19h0m18 20h0m2-97h0m1 64h0m2-32h0m20-142h0m34 193h0m0 4h0m1-38h0m6 18h0m34-18h0m3-10h0m2 48h0m5-44h0m19 1h0m5-39h0m4 19h0m10-3h0m5-17h0m0 3h0m1 38h0m8-146h0m1 106h0m1 25h0m0 10h0m3 32h0m1-71h0m16 34h0m2-13h0m0 19h0m22-68h0m1 30h0m3 16h0m4 19h0m3-7h0m1-29h0m1 92h0m1-68h0m2-23h0m0 33h0m5-49h0m17 18h0m2 18h0m3-17h0m0 18h0m0 13h0m0 20h0m6-14h0m4-46h0m10-58h0m25 48h0m0 30h0m1 25h0m1 44h0m0 21h0m1 4h0m3-57h0m1-4h0m0 30h0m1-68h0m0 39h0m7-50h0m1-80h0m0 72h0m1 23h0m1-59h0m1 68h0m2 25h0m1-46h0m0 9h0m1 50h0m8 21h0m7-8h0m1-55h0m0 31h0m0 10h0m4-61h0m1 29h0m0 14h0m1 7h0m1-28h0m0 83h0m2-90h0m2 8h0m0 10h0m1 17h0m1-58h0m3-34h0m5 78h0m7-19h0m1 2h0m0 11h0m2-23h0m3 24h0m3 26h0m3-1h0m1-5h0m1 3h0m2-52h0m0 13h0m1-2h0m2-94h0m3 154h0m3-65h0m1-67h0m1 89h0m1-19h0m0 4h0m5 8h0m2-13h0m5-5h0m5 2h0m2-20h0m2 86h0m2-85h0m0 14h0m0 21h0m4 37h0m7-38h0m14-19h0m1 5h0m31-53h0m4 26h0" stroke="#000" stroke-width="3.5"/>
<path d="M678 1531h0m200 3h0m35 0h0m185 40h0m26-33h0m41 28h0" stroke="#000" stroke-width="5.8"/>
<path d="M950 1561h0m137-78h0m109 102h0" stroke="#000" stroke-width="6.8"/>
<path d="M746 1616h0m382-51h0m99 25h0" stroke="#000" stroke-width="8.8"/>
<path d="M922 1547h0" stroke="#000" stroke-width="9.8"/>
<path d="M987 1643h0" stroke="#000" stroke-width="10.8"/>
<path d="M678 1531h0m200 3h0m35 0h0m185 40h0m26-33h0m41 28h0" stroke="#e8e8e8" stroke-width="1.8"/>
<path d="M950 1561h0m137-78h0m109 102h0" stroke="#e8e8e8" stroke-width="2.8"/>
<path d="M746 1616h0m382-51h0m99 25h0" stroke="#e8e8e8" stroke-width="4.8"/>
<path d="M922 1547h0" stroke="#b4b4b4" stroke-width="5.8"/>
<path d="M987 1643h0" stroke="#b4b4b4" stroke-width="6.8"/></g>
<g transform="scale(.5)" stroke-linecap="round" fill="none"><path d="M666 1628h0m3-97h0m8 5h0m20-13h0m2 56h0m12 33h0m5-48h0m0 22h0m4-11h0m1 2h0m10 11h0m5 48h0m3-54h0m17 21h0m3-17h0m1 8h0m0 18h0m0 11h0m1-30h0m2 35h0m2-132h0m4 25h0m15 79h0m1 10h0m13-15h0m19-57h0m0 8h0m20 45h0m2-8h0m10 9h0m1-12h0m13 29h0m4-165h0m7 153h0m5-30h0m1 11h0m7 24h0m5-39h0m15 25h0m6-64h0m0 37h0m1-14h0m3 17h0m4-23h0m0 16h0m3 2h0m3-42h0m1 97h0m1-55h0m10 32h0m6-143h0m0 86h0m15-20h0m1 53h0m2-41h0m12 89h0m12-51h0m9-51h0m0 87h0m1-55h0m0 41h0m0 12h0m2-52h0m7-1h0m2 34h0m2-129h0m0 103h0m4-97h0m2 138h0m5-138h0m0 98h0m0 17h0m9-22h0m7 9h0m1-15h0m2 58h0m3-63h0m1 37h0m5-132h0m11 92h0m4 26h0m7 4h0m8-12h0m2 28h0m1-112h0m2 138h0m1-127h0m0 142h0m1-43h0m1-25h0m0 35h0m0 23h0m2 10h0m1-83h0m1 33h0m0 45h0m2-71h0m0 6h0m6-18h0m0 2h0m0 61h0m2-64h0m1 45h0m0 30h0m1-32h0m0 22h0m5-52h0m1 4h0m14-3h0m0 45h0m4 8h0m1-55h0m1 36h0m6-5h0m5 1h0m1-14h0m1 40h0m1 14h0m5-31h0m6-50h0m3 1h0m0 1h0m0 24h0m2-2h0m2 21h0m4-15h0m3-35h0m0 50h0m1-29h0m1-73h0m0 76h0m1-3h0m3-6h0m2 6h0m2-14h0m0 73h0m3-88h0m0 7h0m0 45h0m6-30h0m2-13h0m1 12h0m3-68h0m4 89h0m3 1h0m2-45h0m4-16h0m0 35h0m0 22h0m15-6h0m11 74h0" stroke="#000" stroke-width="2"/>
<path d="M306 1637h0m37-13h0m63-81h0m4 94h0m1-62h0m74-20h0m79 85h0m117-53h0m9-30h0m26 36h0m12-24h0m9-7h0m4 58h0m2 5h0m10-13h0m15-20h0m0 24h0m16-66h0m1-17h0m2 56h0m2-14h0m6 44h0m4 6h0m14-73h0m26 34h0m2-38h0m12-5h0m5 14h0m3-87h0m1 106h0m0 23h0m0 15h0m22-50h0m1 16h0m2 1h0m3 55h0m1-62h0m3 14h0m16-44h0m1-17h0m2 43h0m4-15h0m2 10h0m3-21h0m4-6h0m1-42h0m6 70h0m7-24h0m6 53h0m9-25h0m3 37h0m2-34h0m7-8h0m14-33h0m8 46h0m2-6h0m5-25h0m2 26h0m0 7h0m4-31h0m1 45h0m1-33h0m6-20h0m11-58h0m3 35h0m2 7h0m0 25h0m3-29h0m9 70h0m1-53h0m6 51h0m1-70h0m0 0h0m4 78h0m22-131h0m2-16h0m2 83h0m6-61h0m1-49h0m1 59h0m0 80h0m1-44h0m2 41h0m1 31h0m3-54h0m1 37h0m0 23h0m2-125h0m0 143h0m2-46h0m1 5h0m1-30h0m4-31h0m4 30h0m1-15h0m1 30h0m6-117h0m0 66h0m1 34h0m1 58h0m1-9h0m2-29h0m1 54h0m1-39h0m3 57h0m5-47h0m7 22h0m4-173h0m1 112h0m1 15h0m2-98h0m3 54h0m4 23h0m2-13h0m2 16h0m7 14h0m3 7h0m2-49h0m2 54h0m1-27h0m0 27h0m3-29h0m10-5h0m0 15h0m2 3h0m3-67h0m0 49h0m0 2h0m0 6h0m3 28h0m2-15h0m8 34h0m16-19h0m57 51h0" stroke="#000" stroke-width="2.5"/>
<path d="M421 1591h0m35 28h0m202-75h0m15 37h0m6-34h0m0 8h0m6-9h0m9-41h0m1 112h0m4-2h0m21-36h0m1 19h0m3-16h0m3 5h0m0 8h0m3-21h0m0 21h0m6-1h0m1-8h0m2 47h0m3-13h0m9-25h0m4-5h0m0 6h0m1 12h0m4 2h0m13 22h0m2-44h0m7-23h0m3-26h0m2 2h0m1-6h0m1 8h0m1 15h0m30 10h0m23 52h0m0 2h0m3-5h0m2-87h0m1 66h0m2-17h0m2 12h0m9-12h0m2 23h0m12-21h0m2-151h0m4 143h0m0 20h0m1-25h0m1-121h0m0 131h0m4-1h0m4 14h0m5-29h0m11-3h0m1-11h0m1 23h0m3-29h0m6 26h0m1 26h0m1-121h0m0 102h0m1-30h0m2 35h0m5-104h0m0 21h0m1 75h0m0 35h0m3-87h0m0 63h0m2-11h0m0 16h0m2-34h0m1 32h0m4-37h0m2 6h0m1 5h0m1 20h0m7-44h0m1 31h0m1-11h0m0 40h0m9-11h0m3-35h0m1-15h0m4-40h0m2-42h0m13 132h0m3-13h0m0 14h0m1 0h0m1-43h0m0 54h0m2-59h0m1 33h0m1-127h0m1 122h0m1-21h0m2 2h0m0 19h0m1-25h0m0 54h0m8-17h0m7-146h0m0 132h0m0 4h0m2-66h0m3 60h0m1-38h0m0 8h0m0 1h0m0 25h0m4-122h0m0 103h0m2 31h0m1-23h0m0 45h0m2-77h0m5 9h0m3 59h0m3-4h0m3-6h0m1-63h0m2-55h0m0 99h0m1-34h0m9 29h0m9-64h0m5-38h0m7 97h0m0 17h0m1-18h0m0 7h0m1 11h0m0 56h0m1-95h0m1 69h0m0 2h0m3-64h0m0 2h0m0 61h0m0 18h0m1-49h0m0 3h0m0 7h0m0 26h0m1-52h0m0 8h0m0 14h0m1-66h0m1 0h0m0 47h0m0 8h0m0 14h0m0 19h0m0 50h0m0 8h0m2-146h0m0 0h0m0 24h0m1 39h0m1-37h0m0 26h0m0 3h0m1 10h0m0 45h0m1-41h0m0 0h0m1-41h0m2-12h0m1 48h0m1-31h0m0 21h0m0 36h0m0 2h0m1-69h0m0 79h0m1-166h0m1 19h0m1-3h0m0 36h0m0 30h0m0 6h0m1-45h0m0 1h0m9 100h0m2-44h0m0 80h0m2-117h0m0 77h0m3-14h0m1-25h0m0 5h0m1 49h0m1-54h0m4 75h0m1-13h0m2 8h0m3-123h0m4-14h0m2 133h0m2-1h0m6-44h0m3-9h0m0 5h0m2-3h0m1-92h0m0 106h0m1 2h0m3-43h0m1 63h0m1-45h0m0 4h0m0 81h0m2-101h0m0 27h0m3 7h0m2-12h0m0 38h0m2-5h0m1-120h0m0 80h0m0 38h0m2-23h0m1-4h0m0 7h0m3-5h0m2-68h0m0 53h0m3 13h0m0 39h0m1-61h0m0 4h0m0 25h0m1-8h0m2-45h0m2 53h0m1-93h0m1 89h0m2-14h0m0 8h0m0 2h0m0 74h0m4-76h0m4-27h0m1 16h0m1-17h0m1 23h0m7 10h0m3-124h0m2 73h0m3 89h0m2-161h0m8 30h0m6 109h0m8-47h0m13 82h0m7 17h0" stroke="#000" stroke-width="3"/>
<path d="M675 1542h0m6 36h0m32 9h0m8-114h0m0 133h0m3-14h0m1-144h0m2 141h0m3 7h0m1 16h0m5-24h0m1 23h0m7-167h0m5 34h0m3 101h0m0 15h0m12-136h0m0 141h0m0 0h0m4 25h0m10-77h0m10 87h0m22-110h0m10 105h0m16-3h0m3-58h0m8 5h0m2-33h0m5 29h0m3 44h0m6-62h0m11 20h0m0 64h0m3-66h0m5 11h0m10 14h0m3-56h0m0 50h0m14-38h0m1 18h0m1-20h0m7 10h0m1-20h0m0 8h0m3 57h0m3-40h0m2-12h0m8 62h0m7-36h0m12-18h0m3 29h0m17-97h0m1-45h0m9 171h0m3-189h0m4 170h0m8-129h0m24 61h0m2 41h0m1-35h0m0 12h0m2 26h0m10-44h0m8 25h0m6-35h0m3 7h0m10 26h0m7-15h0m9 11h0m3-121h0m0 124h0m1-14h0m0 59h0m2-129h0m0 120h0m1-154h0m2 157h0m0 22h0m2-39h0m4-75h0m0 46h0m2-111h0m0 58h0m6 51h0m2-30h0m1 118h0m1-101h0m3-4h0m6 39h0m5 6h0m2-29h0m3 88h0m1-16h0m6-2h0m5-39h0m11-49h0m0 43h0m0 14h0m1-20h0m0 2h0m1-7h0m0 23h0m4 6h0m2-38h0m0 30h0m3 3h0m2-33h0m4-1h0m0 6h0m0 12h0m1-15h0m1 1h0m2 4h0m1 74h0m1-95h0m1-109h0m1 120h0m3-22h0m2-43h0m1 5h0m0 66h0m4-10h0m5 18h0m3-32h0m0 23h0m2-20h0m0 15h0m1-27h0m3 52h0m1-34h0m3 19h0m0 22h0m13-36h0m29-104h0" stroke="#000" stroke-width="3.5"/>
<path d="M725 1587h0m356-20h0m42 18h0m8 17h0m14-10h0m20-46h0m5 2h0" stroke="#000" stroke-width="5.8"/>
<path d="M189 1615h0m535-2h0m170-15h0m111-45h0m94-54h0m4 60h0" stroke="#000" stroke-width="6.8"/>
<path d="M728 1595h0m272-6h0" stroke="#000" stroke-width="7.8"/>
<path d="M697 1625h0m177-23h0m167 1h0" stroke="#000" stroke-width="10.8"/>
<path d="M725 1587h0m356-20h0m42 18h0m8 17h0m14-10h0m20-46h0m5 2h0" stroke="#e8e8e8" stroke-width="1.8"/>
<path d="M189 1615h0m535-2h0m170-15h0m111-45h0m94-54h0m4 60h0" stroke="#e8e8e8" stroke-width="2.8"/>
<path d="M728 1595h0m272-6h0" stroke="#e8e8e8" stroke-width="3.8"/>
<path d="M697 1625h0m177-23h0m167 1h0" stroke="#b4b4b4" stroke-width="6.8"/></g>
<g transform="scale(.5)" stroke-linecap="round" fill="none"><path d="M682 1529h0m32 43h0m6 20h0m1-28h0m4 39h0m8-26h0m6 6h0m0 16h0m11 20h0m9-44h0m6 11h0m21-18h0m3 5h0m12-29h0m6 14h0m6 58h0m25-79h0m4 70h0m12 12h0m1-26h0m1 15h0m7-9h0m12-32h0m0 11h0m0 4h0m9 9h0m6-15h0m5-2h0m15 27h0m0 12h0m1-67h0m1-6h0m3 12h0m7-22h0m2 24h0m4 26h0m3-26h0m0 10h0m3 6h0m5 14h0m3 4h0m2-22h0m1-92h0m2 74h0m10 27h0m6-57h0m1 24h0m4 1h0m4-117h0m10 92h0m6-41h0m2 76h0m4-18h0m0 55h0m2-1h0m1-6h0m2-43h0m0 38h0m0 1h0m6 27h0m5 27h0m2-192h0m12 134h0m2-9h0m1-32h0m0 37h0m6 30h0m6-142h0m1 67h0m2 55h0m11 16h0m16-149h0m10 81h0m0 66h0m1-90h0m0 26h0m0 62h0m1 3h0m1 30h0m1-77h0m1 53h0m0 14h0m2-96h0m11 99h0m2-120h0m3 27h0m0 68h0m1 51h0m4-145h0m1 48h0m0 21h0m0 7h0m6-144h0m2 157h0m2-23h0m1-24h0m1 69h0m2-103h0m0 79h0m4-43h0m1-88h0m8 119h0m2 37h0m1-69h0m0 54h0m3-111h0m6 97h0m4 4h0m1-11h0m2-15h0m0 1h0m2 15h0m5 6h0m2-16h0m1-24h0m1 53h0m1-73h0m0 77h0m4-62h0m1 14h0m2-44h0m0 52h0m1-16h0m1-6h0m1 47h0m1-19h0m1-4h0m1-56h0m4 42h0m2-6h0m1-2h0m3 61h0m1-47h0m0 81h0m10-105h0m1-7h0m2-2h0m1-34h0m4 106h0m13 32h0" stroke="#000" stroke-width="2"/>
<path d="M522 1592h0m46 53h0m102-46h0m17-19h0m22 23h0m10-12h0m3 13h0m2-1h0m3-19h0m4-8h0m8 66h0m12-47h0m13-14h0m5 32h0m64-90h0m7 5h0m2 101h0m5-81h0m2 42h0m4 32h0m4-17h0m0 6h0m0 25h0m2-42h0m4-19h0m5-138h0m5 193h0m5-84h0m0 23h0m1 16h0m5 2h0m0 2h0m9-5h0m8-60h0m8 102h0m12-69h0m4 29h0m1-93h0m0 21h0m6 64h0m3-19h0m4 10h0m1-17h0m5 22h0m4-2h0m2 8h0m2-6h0m2-20h0m0 1h0m4 5h0m9-19h0m1 54h0m23-54h0m1-6h0m3 21h0m3-18h0m2 20h0m1 7h0m5 0h0m2 23h0m19-10h0m7-52h0m8-7h0m0 45h0m1-33h0m3 49h0m3-100h0m6-22h0m4-23h0m10 191h0m2-36h0m11 48h0m1-137h0m2 75h0m0 49h0m6-143h0m2 97h0m1-26h0m1 12h0m0 31h0m1-72h0m1-32h0m0 86h0m1-52h0m1-24h0m2 40h0m5-16h0m1 81h0m1-73h0m6 18h0m0 42h0m3-19h0m10 37h0m3-81h0m0 66h0m8 30h0m13-77h0m8 7h0m1 42h0m1-47h0m6-7h0m1-8h0m0 4h0m2 4h0m3 2h0m1 15h0m2-133h0m0 101h0m3 10h0m3-13h0m0 39h0m0 7h0m0 45h0m1-82h0m3 33h0m1-33h0m1 18h0m7-35h0m0 41h0m5 31h0m16-68h0m42 82h0m13-118h0" stroke="#000" stroke-width="2.5"/>
<path d="M189 1582h0m248 42h0m235-89h0m0 15h0m5 23h0m6 52h0m1-50h0m2-23h0m1-10h0m7-90h0m25 151h0m1-23h0m2 9h0m1-42h0m0 31h0m3 4h0m1-2h0m1 6h0m2 25h0m1-44h0m0 28h0m2-14h0m1 8h0m0 20h0m2-17h0m18-67h0m0 70h0m5-29h0m3 8h0m2 9h0m2 2h0m1 16h0m4-16h0m3-16h0m1 66h0m2-105h0m9 51h0m2-10h0m0 41h0m1-40h0m0 22h0m1 24h0m6-71h0m12 2h0m2-16h0m0 54h0m2-151h0m8 174h0m2-91h0m9 27h0m8 53h0m5 20h0m2-9h0m5 5h0m2-14h0m2-57h0m2-86h0m0 135h0m9 6h0m3-14h0m5-4h0m1 0h0m0 20h0m6-29h0m0 13h0m2 1h0m3-1h0m2 9h0m1-93h0m3 70h0m17-18h0m2-12h0m1 1h0m0 14h0m2-16h0m0 9h0m0 16h0m3 52h0m5-44h0m1-30h0m0 20h0m2 6h0m1-20h0m6 9h0m3-47h0m0 85h0m1-52h0m1 14h0m3-5h0m2 32h0m2-38h0m0 15h0m2-29h0m2-90h0m0 93h0m0 14h0m0 22h0m1-23h0m1 35h0m2-46h0m7-65h0m0 104h0m7-60h0m7 50h0m7 11h0m2-80h0m7 92h0m6-15h0m4-18h0m1 22h0m1-58h0m2 31h0m0 36h0m3-154h0m2 98h0m0 4h0m11-18h0m4-18h0m0 0h0m2 112h0m2-102h0m0 14h0m0 83h0m1-167h0m3 133h0m0 10h0m1-55h0m2 0h0m3-1h0m1-23h0m0 47h0m6-13h0m7 53h0m9-123h0m0 161h0m16-165h0m3 66h0m1-8h0m0 24h0m0 62h0m1-98h0m1-19h0m0 17h0m1 28h0m1-7h0m1 55h0m2-68h0m0 32h0m1-18h0m1 14h0m0 82h0m1-41h0m1-12h0m1 54h0m2-84h0m0 2h0m0 44h0m2-64h0m0 17h0m0 43h0m0 23h0m1-142h0m0 130h0m1-160h0m1 71h0m0 34h0m1 24h0m1 13h0m0 32h0m1-165h0m3 68h0m0 95h0m2-115h0m1 123h0m5-48h0m3-59h0m1-9h0m0 88h0m3-9h0m1-23h0m1-26h0m1 31h0m0 53h0m0 8h0m1-14h0m1-49h0m4 14h0m1 28h0m0 23h0m2-119h0m0 32h0m0 7h0m0 7h0m0 50h0m1-15h0m1-17h0m0 0h0m1 31h0m2-31h0m0 25h0m2-59h0m1 9h0m1 7h0m5 30h0m3-32h0m1 38h0m0 29h0m2-146h0m1 66h0m3-61h0m0 94h0m3-2h0m1-18h0m2-89h0m0 79h0m1-102h0m2 107h0m0 12h0m0 5h0m3-9h0m2 2h0m4 3h0m2 2h0m0 2h0m2-7h0m0 13h0m1-114h0m4 95h0m0 14h0m1-23h0m2-7h0m0 45h0m1-33h0m0 47h0m1-46h0m1-4h0m2-4h0m0 24h0m0 10h0m1-34h0m1 5h0m0 4h0m1-12h0m6 29h0m2-49h0m39-52h0m2 124h0" stroke="#000" stroke-width="3"/>
<path d="M674 1600h0m1 6h0m5-39h0m22-20h0m3 4h0m11 40h0m8-109h0m11 108h0m3 20h0m48-83h0m0 30h0m52 45h0m8-50h0m12 25h0m17-150h0m2 162h0m1-14h0m4-3h0m1-3h0m2-9h0m28-30h0m4 113h0m1-66h0m5-24h0m5 9h0m1-25h0m0 16h0m7-29h0m0 32h0m1-33h0m3 15h0m5 1h0m2 31h0m2 0h0m2-85h0m4 111h0m3-30h0m2-77h0m35 144h0m7-58h0m1-49h0m1 44h0m2-32h0m16-4h0m2-88h0m3 92h0m0 19h0m2-4h0m12-13h0m1 22h0m3-117h0m0 161h0m10-110h0m0 56h0m24-31h0m1 21h0m6 44h0m5-87h0m5 81h0m2-9h0m6-63h0m0 105h0m2 19h0m1-45h0m1-33h0m0 32h0m1 55h0m7-48h0m1-53h0m1 34h0m1 12h0m1-158h0m4 130h0m3 40h0m3 30h0m3-9h0m1-62h0m4 36h0m1-36h0m0 20h0m1-126h0m3 128h0m8-27h0m0 40h0m6-55h0m1-51h0m1 74h0m0 43h0m2-70h0m4 25h0m1-16h0m3-91h0m0 88h0m0 8h0m1 65h0m1-61h0m0 38h0m3-33h0m1-103h0m6 94h0m3 0h0m2-51h0m3 67h0m5-5h0m1-42h0m2 26h0m0 69h0m3-83h0m2-19h0m1 9h0m1-33h0m0 42h0m16-5h0m29 39h0" stroke="#000" stroke-width="3.5"/>
<path d="M733 1475h0m2 93h0m28 9h0m155-4h0m90-2h0m35-17h0" stroke="#000" stroke-width="5.8"/>
<path d="M593 1616h0m573-53h0" stroke="#000" stroke-width="6.8"/>
<path d="M187 1624h0m789-35h0" stroke="#000" stroke-width="7.8"/>
<path d="M1130 1606h0" stroke="#000" stroke-width="8.8"/>
<path d="M1046 1616h0" stroke="#000" stroke-width="9.8"/>
<path d="M733 1475h0m2 93h0m28 9h0m155-4h0m90-2h0m35-17h0" stroke="#e8e8e8" stroke-width="1.8"/>
<path d="M593 1616h0m573-53h0" stroke="#e8e8e8" stroke-width="2.8"/>
<path d="M187 1624h0m789-35h0" stroke="#e8e8e8" stroke-width="3.8"/>
<path d="M1130 1606h0" stroke="#e8e8e8" stroke-width="4.8"/>
<path d="M1046 1616h0" stroke="#b4b4b4" stroke-width="5.8"/>
<path d="M663 1462h0m53 135h0m1-11h0m3 2h0m11-14h0m8 6h0m29-1h0m70 34h0m39-33h0m3 3h0m14 7h0m18-26h0m4-22h0m3 32h0m13 16h0m1-30h0m9-26h0m14 20h0m7 16h0m5-10h0m26-124h0m1 118h0m8-6h0m6 38h0m14-149h0m9 42h0m1 124h0m1-54h0m3-5h0m1 54h0m1-25h0m5-1h0m37-13h0m1 12h0m1 29h0m1-64h0m0 67h0m0 10h0m1-7h0m0 3h0m1-43h0m0 2h0m0 0h0m0 27h0m0 5h0m2-13h0m0 15h0m1-18h0m0 7h0m0 12h0m1-40h0m0 43h0m1-43h0m0 32h0m0 3h0m0 3h0m0 12h0m1-96h0m0 127h0m1-49h0m0 32h0m1-45h0m0 14h0m1-98h0m0 79h0m0 25h0m3-88h0m0 51h0m0 19h0m1-24h0m3 19h0m1-88h0m0 88h0m1-4h0m1-91h0m3 20h0m0 38h0m5-18h0m3 5h0m0 96h0m0 3h0m3-27h0m1 22h0m2-68h0m0 17h0m1 30h0m1-26h0m0 70h0m3-99h0m0 4h0m0 24h0m0 46h0m1-144h0m0 109h0m1-65h0m0 86h0m1-38h0m3 36h0m2-40h0m0 2h0m3-3h0m10 12h0m2-16h0m4-41h0m0 28h0m3 26h0m1-1h0m0 19h0m1-37h0m0 8h0m3-6h0m2-29h0m0 26h0m1 3h0m2-14h0m4 7h0m3-2h0m0 19h0m7-26h0m6 52h0m4-32h0m4 12h0m2-8h0m1 32h0" stroke="#f00" stroke-width="2.5"/>
<path d="M714 1608h0m6-33h0m0 13h0m12 1h0m79-111h0m36 134h0m4 23h0m6-26h0m18-18h0m63-73h0m12-35h0m8-14h0m30-33h0m1 127h0m1-53h0m1 84h0m1-45h0m1 53h0m2-49h0m2 18h0m8-29h0m2 90h0m4-135h0m13 24h0m2-63h0m19 87h0m6-121h0m11 38h0m12 72h0m9 35h0m0 41h0m1-9h0m0 11h0m0 12h0m1-28h0m1-32h0m1-66h0m2 106h0m2 0h0m1-158h0m3 120h0m0 20h0m0 0h0m3-77h0m0 56h0m0 67h0m1-45h0m0 3h0m0 5h0m1-14h0m1-15h0m0 37h0m1-26h0m0 24h0m1-78h0m0 74h0m1-83h0m0 58h0m1 14h0m2-2h0m1-40h0m7-47h0m1 77h0m2-34h0m3 26h0m1 16h0m0 30h0m1-25h0m0 37h0m4-88h0m0 93h0m1-90h0m0 46h0m1 25h0m1-16h0m2-69h0m0 13h0m2 80h0m1-52h0m0 15h0m0 14h0m1-26h0m3 6h0m1 49h0m1-91h0m0 43h0m8 0h0m7-54h0m3 14h0m0 14h0m3-24h0m3-77h0m1 117h0m5-17h0m0 18h0m3 16h0m6-55h0m1 28h0m4 34h0m4-20h0m5-44h0m4 22h0m2-116h0m42 171h0m3-113h0" stroke="#f00" stroke-width="3"/>
<path d="M722 1570h0m6 18h0m4 12h0m11-32h0m119 48h0m59-60h0m20-1h0m6-96h0m5 73h0m8 23h0m2 8h0m2 0h0m32 46h0m2-77h0m2 27h0m2-89h0m11 51h0m9 39h0m2-10h0m0 36h0m14-18h0m1-3h0m2-91h0m1 110h0m10-58h0m21 13h0m0 5h0m7 42h0m2-54h0m0 15h0m0 12h0m0 34h0m1-65h0m0 56h0m0 42h0m1-49h0m0 1h0m1-66h0m0 18h0m0 44h0m1-60h0m1 107h0m1-93h0m0 25h0m0 12h0m1-15h0m0 16h0m1 27h0m1-7h0m0 23h0m1-67h0m1 71h0m1-108h0m0 68h0m0 30h0m1-37h0m0 10h0m1-48h0m0 45h0m0 21h0m0 16h0m1-71h0m0 16h0m0 5h0m0 24h0m1-95h0m0 85h0m0 14h0m2-15h0m0 0h0m2 26h0m0 10h0m2-22h0m0 14h0m1-113h0m0 98h0m0 53h0m3-215h0m0 113h0m0 51h0m7-2h0m1 8h0m2-124h0m1 81h0m5 67h0m2 12h0m2-93h0m1 94h0m5-198h0m0 14h0m2 153h0m1-32h0m2-8h0m1 50h0m0 23h0m1-6h0m7-161h0m0 87h0m1-17h0m2-25h0m2 74h0m1-37h0m8-11h0m2 73h0m2-109h0m6-5h0m3 52h0m4 9h0m1 0h0m2 12h0m13-29h0m20-62h0m13 6h0" stroke="#f00" stroke-width="3.5"/>
<path d="M720 1601h0m2-17h0m0 3h0m0 21h0m2-47h0m1 27h0m17-111h0m5 132h0m15 3h0m74-138h0m5 64h0m19 36h0m14 10h0m7 12h0m4-20h0m29-10h0m17-18h0m1-7h0m5 30h0m3 46h0m13-58h0m3-3h0m35-4h0m4-46h0m3-27h0m8 89h0m17 13h0m2-154h0m8 113h0m1 50h0m4-46h0m12-97h0m29 44h0m2 8h0m1 30h0m1-14h0m0 17h0m0 72h0m1-113h0m1 56h0m0 49h0m1-31h0m0 27h0m0 9h0m1-17h0m0 22h0m0 15h0m3-76h0m0 33h0m1 6h0m1-4h0m0 2h0m2-21h0m0 11h0m0 71h0m2-101h0m0 59h0m2-57h0m0 24h0m0 22h0m0 12h0m0 12h0m1-50h0m0 23h0m0 28h0m0 9h0m1-97h0m0 33h0m0 33h0m1-18h0m0 11h0m0 8h0m1-86h0m2 101h0m1-31h0m3-24h0m10-5h0m0 74h0m2-80h0m3-58h0m0 69h0m1 0h0m0 66h0m2-47h0m1-8h0m0 48h0m1-65h0m0 48h0m1-166h0m0 115h0m1 31h0m0 29h0m1-52h0m0 43h0m4-2h0m7 37h0m5-158h0m2 89h0m2-11h0m2-7h0m3-1h0m1-23h0m3 53h0m2-72h0m11 70h0m5-6h0m1 71h0m4-65h0m2 21h0m5-38h0m2-65h0m0 61h0m5-4h0m4-23h0m0 59h0m1-43h0m12-24h0m10 14h0" stroke="#f00" stroke-width="4"/></g>
<line x1="552.28" y1="704.8" x2="552.28" y2="824" stroke="#ffa500" stroke-width="1.8" stroke-dasharray="11.1 5.5 1.3 5.5 11.1 5.2"/>
<polyline points="91.7,823 330,822.8 351.9,821.5 362.8,818.4 373.8,816.6 384.7,815.1 395.7,814 417.6,812.9 428.5,811.2 439.5,809.6 443.9,807.9 446,805.7 452.6,804.6 461.4,802.4 470.1,798 480,792.6 483,791.6 500,788 525,779.4 540,774.4 545,765.8 550,755.8 553,753.3 563,751.6 567,743.4 575,738.5 580,732.3 590,721 598,717.4 615,716.1 637,715" fill="none" stroke="#0000ff" stroke-width="3.6" stroke-linejoin="round" stroke-linecap="round"/>
</g>
<rect x="40.0" y="704.8" width="597.0" height="119.20000000000005" fill="none" stroke="#000" stroke-width="2"/>
<use href="#xax" transform="translate(0,824)"/>
<path d="M39.0 704.8h-2 M39.0 711.42h-2 M39.0 718.04h-2 M39.0 731.29h-2 M39.0 737.91h-2 M39.0 744.53h-2 M39.0 751.16h-2 M39.0 764.4h-2 M39.0 771.02h-2 M39.0 777.64h-2 M39.0 784.27h-2 M39.0 797.51h-2 M39.0 804.13h-2 M39.0 810.76h-2 M39.0 817.38h-2" stroke="#000" stroke-width="0.9"/>
<line x1="39.0" y1="724.67" x2="36.0" y2="724.67" stroke="#333" stroke-width="1"/>
<line x1="39.0" y1="757.78" x2="36.0" y2="757.78" stroke="#333" stroke-width="1"/>
<line x1="39.0" y1="790.89" x2="36.0" y2="790.89" stroke="#333" stroke-width="1"/>
<line x1="39.0" y1="824" x2="36.0" y2="824" stroke="#333" stroke-width="1"/>
<g  font-size="10" text-anchor="end" fill="#000"><text x="34.3" y="728.87">−0.5</text><text x="34.3" y="761.98">0.0</text><text x="34.3" y="795.09">0.5</text><text x="34.3" y="828.2">1.0</text></g>
<path d="M638.0 800h2 M638.0 752h2" stroke="#000" stroke-width="0.9"/>
<line x1="638.0" y1="824" x2="641.0" y2="824" stroke="#333" stroke-width="1"/>
<line x1="638.0" y1="776" x2="641.0" y2="776" stroke="#333" stroke-width="1"/>
<line x1="638.0" y1="728" x2="641.0" y2="728" stroke="#333" stroke-width="1"/>
<g font-size="10" text-anchor="end"><text x="664.06" y="827.9">0</text><text x="664.06" y="779.9">2000</text><text x="664.06" y="731.9">4000</text></g>
<text font-size="13.5" text-anchor="middle" transform="translate(9.5,763.6) rotate(-90)">Depth [km]</text>
<text font-size="13.5" text-anchor="middle" transform="translate(679.7,762) rotate(-90)">Cumulative number</text>
<text font-size="14" x="5.9" y="709">(e)</text>
<text font-size="13.8" x="56.2" y="717.7">Iwo-Yama</text>
<clipPath id="c5"><rect x="40.0" y="868.9" width="597.0" height="119.20000000000005"/></clipPath>
<g clip-path="url(#c5)">
<polyline points="356.2,987.8 372.4,983.5 385.7,982.2 421,979.1 438.7,974.7 447.6,968.9 487.4,962.3 531.6,956.6 542.7,951.2 547.1,935.8 553.7,923.4 562.6,919 567,911.4 575.8,907 578,900.5 582.5,896 587,890.5 593.5,885.8 600,883.3 611.2,881.4 625,880.3 637,879.6" fill="none" stroke="#ff0000" stroke-width="3.6" stroke-linejoin="round" stroke-linecap="round"/>
<line x1="552.28" y1="874.6" x2="552.28" y2="988.1" stroke="#ffa500" stroke-width="1.8" stroke-dasharray="11.1 5.5 1.3 5.5 11.1 5.2"/>
<path d="M357.6 988.1L358.4 916.6L359.2 988.1M370.4 988.1L371.2 920.9L372.0 988.1L372.8 933.9L373.6 988.1M375.2 988.1L376.0 916.6L376.8 988.1M384.8 988.1L385.6 952.3L386.4 988.1L387.2 909.0L388.0 988.1M396.8 988.1L397.6 879.7L398.4 988.1M422.4 988.1L423.2 909.0L424.0 988.1M429.6 988.1L430.4 972.9L431.2 988.1M436.8 988.1L437.6 961.0L438.4 988.1M442.4 988.1L443.2 951.3L444.0 988.1M447.2 988.1L448.0 961.0L448.8 988.1M460.0 988.1L460.8 971.8L461.6 988.1M468.8 988.1L469.6 971.8L470.4 988.1M472.8 988.1L473.6 977.3L474.4 988.1M485.6 988.1L486.4 879.7L487.2 988.1M501.6 988.1L502.4 949.1L503.2 988.1M517.6 988.1L518.4 975.1L519.2 975.1L520.0 988.1M532.0 988.1L532.8 970.3L533.6 957.8L534.4 971.5L535.2 988.1L536.0 963.2L536.8 988.1L537.6 977.0L538.4 948.0L539.2 988.1L540.0 988.1L540.8 957.8L541.6 988.1L542.4 983.7L543.2 955.6L544.0 988.1L544.8 988.1L545.6 964.3L546.4 988.1M548.0 988.1L548.8 970.8L549.6 971.5L550.4 988.1L551.2 981.6L552.0 966.4L552.8 988.1L553.6 955.6L554.4 988.1M556.0 988.1L556.8 979.8L557.6 944.8L558.4 988.1L559.2 967.2L560.0 933.9L560.8 988.1L561.6 944.8L562.4 988.1L563.2 988.1L564.0 975.1L564.8 988.1L565.6 983.1L566.4 983.4L567.2 988.1L568.0 969.0L568.8 988.1L569.6 952.3L570.4 978.4L571.2 988.1L572.0 981.7L572.8 965.3L573.6 981.5L574.4 988.1L575.2 974.4L576.0 978.6L576.8 977.7L577.6 957.8L578.4 988.1M580.0 988.1L580.8 970.8L581.6 972.5L582.4 983.0L583.2 961.0L584.0 988.1L584.8 976.0L585.6 974.2L586.4 970.7L587.2 988.1L588.0 980.1L588.8 975.1L589.6 976.8L590.4 988.1L591.2 980.0L592.0 983.6L592.8 963.2L593.6 978.2L594.4 965.3L595.2 981.5L596.0 970.3L596.8 988.1M600.8 988.1L601.6 916.6L602.4 988.1" fill="none" stroke="#262626" stroke-width="0.7"/>
</g>
<rect x="40.0" y="868.9" width="597.0" height="119.20000000000005" fill="none" stroke="#000" stroke-width="2"/>
<use href="#xax" transform="translate(0,988.1)"/>
<path d="M39.0 977.26h-2 M39.0 966.43h-2 M39.0 955.59h-2 M39.0 944.75h-2 M39.0 923.08h-2 M39.0 912.25h-2 M39.0 901.41h-2 M39.0 890.57h-2 M39.0 868.9h-2" stroke="#000" stroke-width="0.9"/>
<line x1="39.0" y1="988.1" x2="36.0" y2="988.1" stroke="#333" stroke-width="1"/>
<line x1="39.0" y1="933.92" x2="36.0" y2="933.92" stroke="#333" stroke-width="1"/>
<line x1="39.0" y1="879.74" x2="36.0" y2="879.74" stroke="#333" stroke-width="1"/>
<g  font-size="10" text-anchor="end" fill="#000"><text x="34.3" y="992.3">0</text><text x="34.3" y="938.12">50</text><text x="34.3" y="883.94">100</text></g>
<path d="M638.0 964.65h2 M638.0 917.75h2 M638.0 870.85h2" stroke="#000" stroke-width="0.9"/>
<line x1="638.0" y1="988.1" x2="641.0" y2="988.1" stroke="#333" stroke-width="1"/>
<line x1="638.0" y1="941.2" x2="641.0" y2="941.2" stroke="#333" stroke-width="1"/>
<line x1="638.0" y1="894.3" x2="641.0" y2="894.3" stroke="#333" stroke-width="1"/>
<g font-size="10" text-anchor="end"><text x="658.67" y="992">0</text><text x="658.67" y="945.1">200</text><text x="658.67" y="898.2">400</text></g>
<text font-size="13.5" text-anchor="middle" transform="translate(12.2,927.7) rotate(-90)">LF ratio [%]</text>
<text font-size="13.5" text-anchor="middle" transform="translate(674.2,926.1) rotate(-90)">Cumulative number (LF)</text>
<text font-size="14" x="5.7" y="877.3">(f)</text>
<text font-size="13.8" x="55.3" y="879.5">Iwo-Yama (LF)</text>
<text font-size="11.75" x="157.5" y="43.9">2011 eruption</text>
<text font-size="11.75" x="332.2" y="31.8">2016 Kumamoto Eq.</text>
<line x1="404" y1="35.7" x2="445.5" y2="48" stroke="#000" stroke-width="0.8"/>
<text font-size="11.75" x="439.6" y="30.2">2017 eruption</text>
<line x1="498.8" y1="32" x2="525.2" y2="48" stroke="#000" stroke-width="0.8"/>
<text font-size="11.75" x="515.8" y="28.3">2018 eruption</text>
<line x1="543" y1="34.7" x2="546" y2="48" stroke="#000" stroke-width="0.8"/>
<text font-size="11.75" x="545.9" y="9.3">2018 eruption (Iwo-yama)</text>
<line x1="643.1" y1="15.4" x2="555" y2="48" stroke="#000" stroke-width="0.8"/>
<text font-size="11.75" x="157.5" y="372.0">2011 eruption</text>
<text font-size="11.75" x="457.8" y="371.8">2017 eruption</text>
<text font-size="11.75" x="538.2" y="371.8">2018 eruption</text>
<text font-size="11.75" x="514.6" y="696.4">2018 eruption (Iwo-yama)</text></svg></body></html>
